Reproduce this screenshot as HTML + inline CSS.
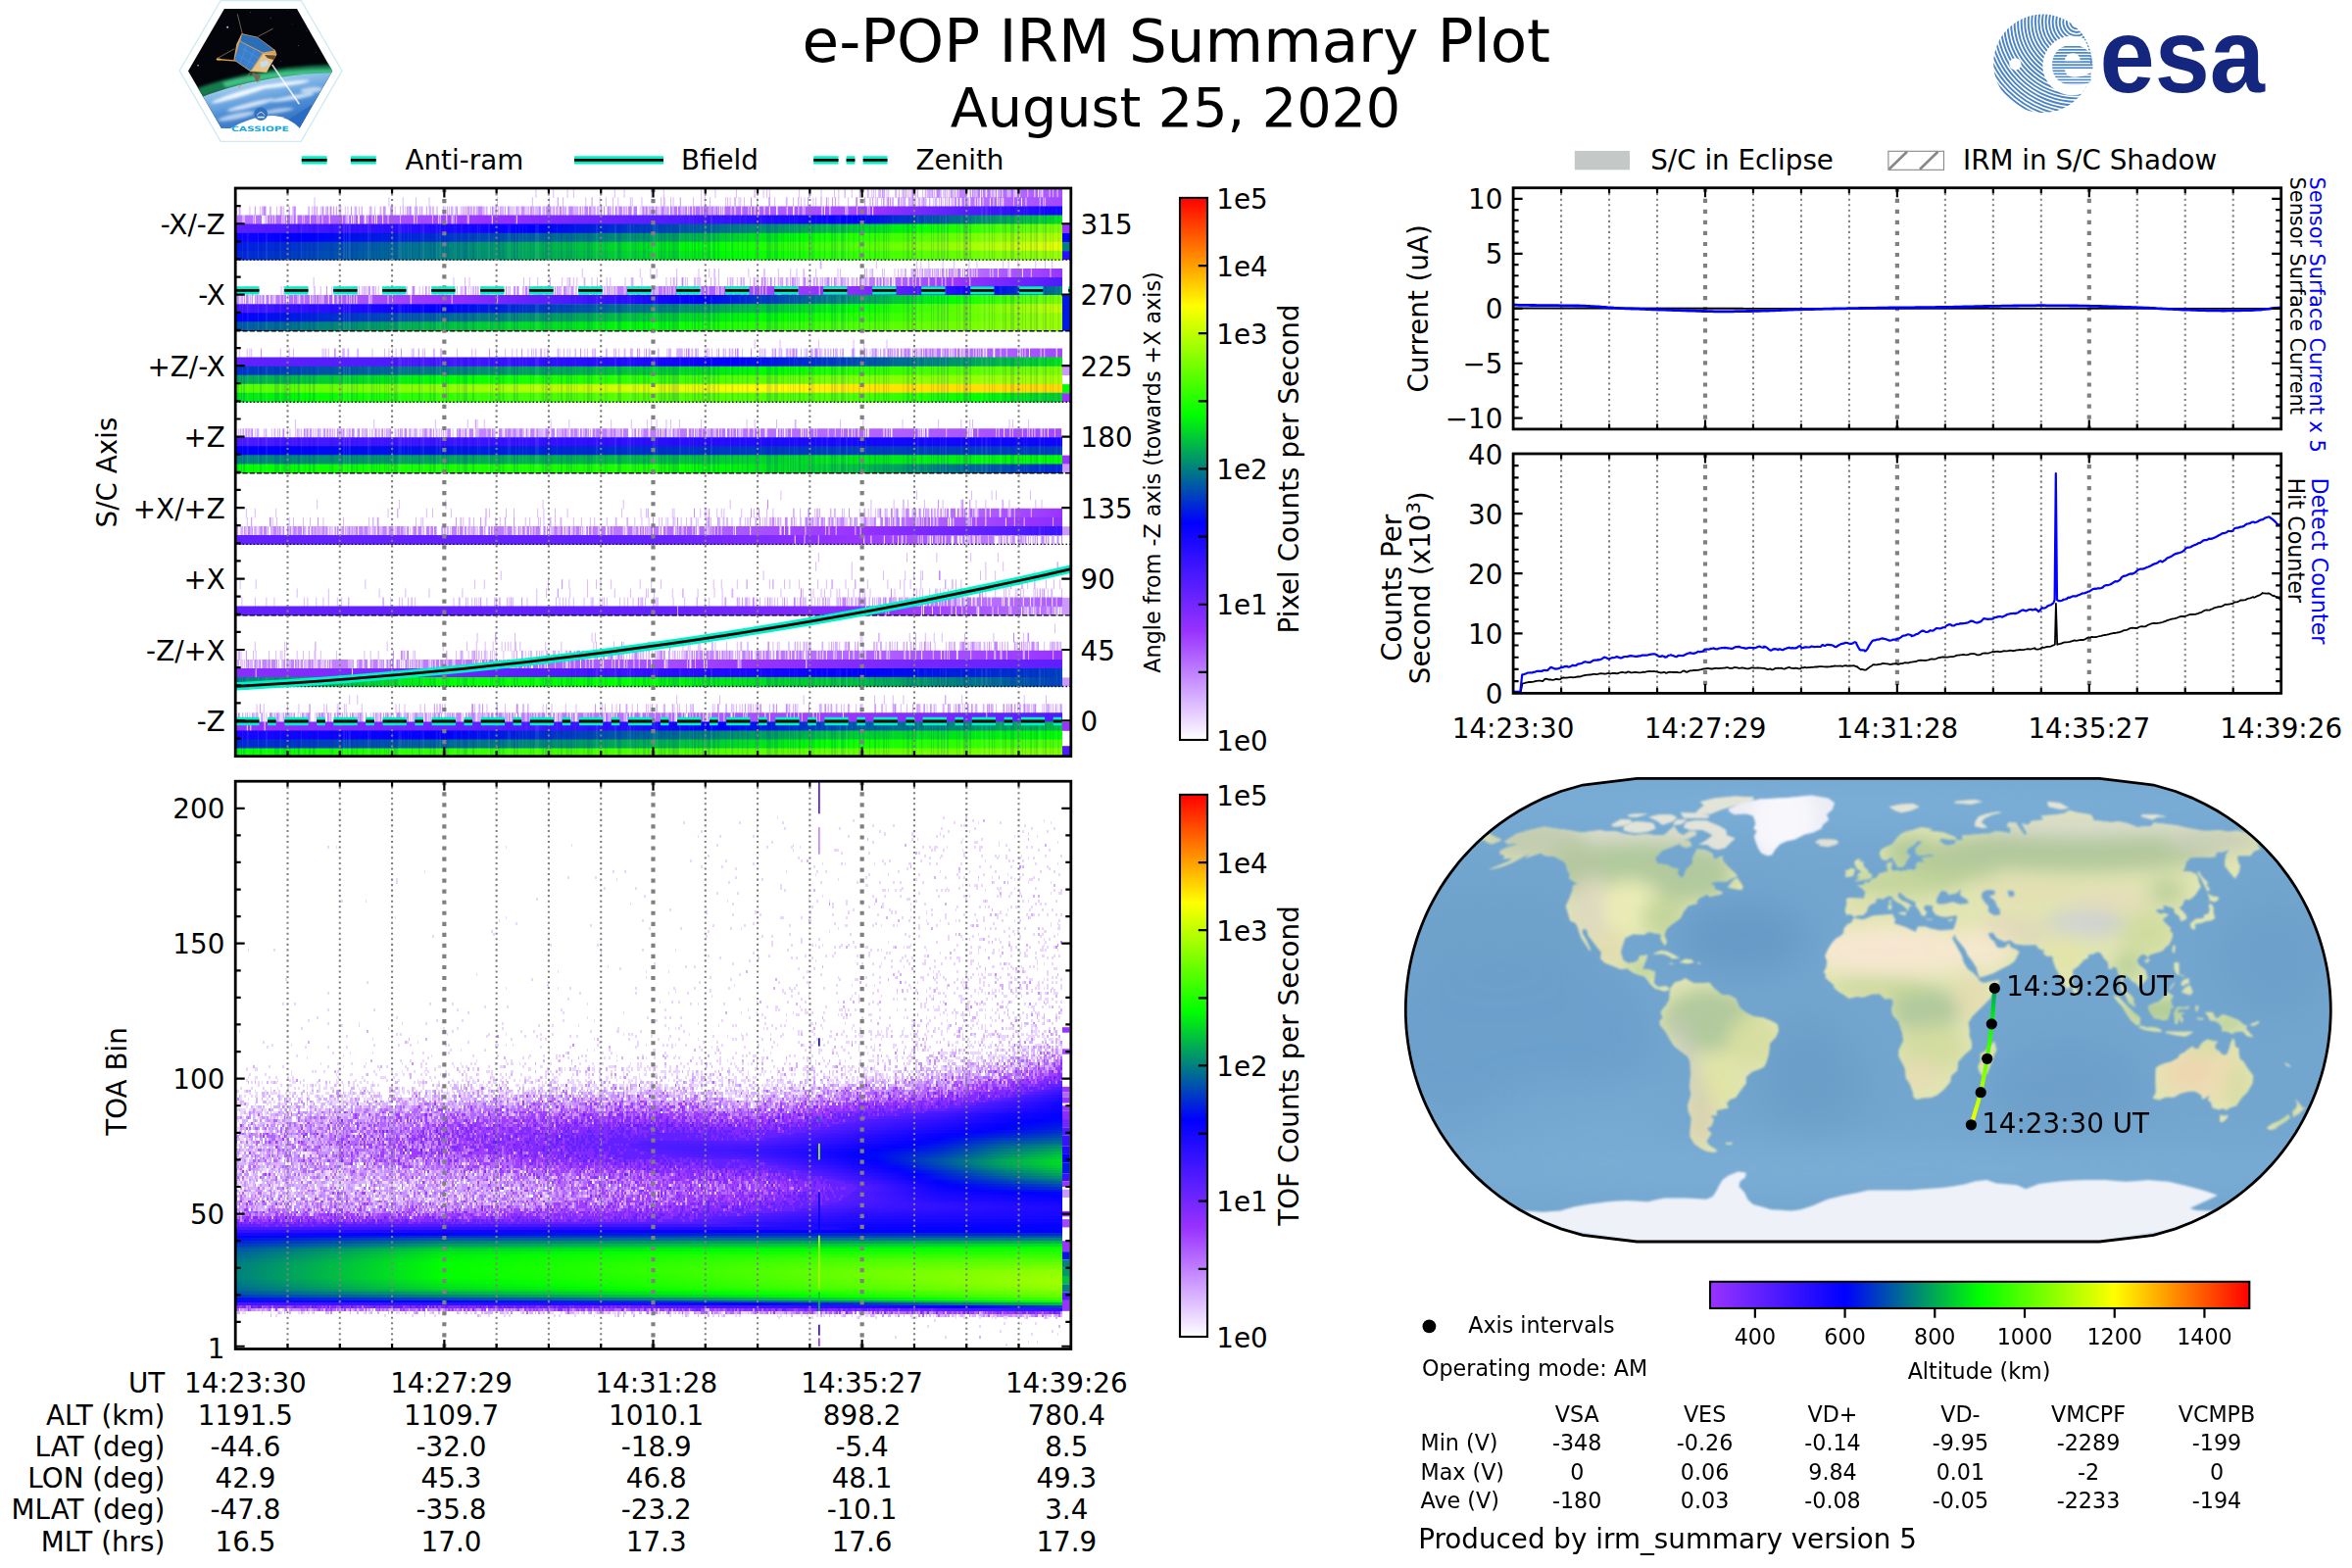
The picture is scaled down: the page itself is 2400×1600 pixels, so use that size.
<!DOCTYPE html><html><head><meta charset="utf-8"><title>e-POP IRM Summary Plot</title><style>html,body{margin:0;padding:0;background:#fff}svg{display:block}</style></head><body><svg width="2400" height="1600" viewBox="0 0 2400 1600" font-family="'DejaVu Sans','Liberation Sans',sans-serif" font-size="27.78" fill="#000"><defs><linearGradient id="cbv" x1="0" y1="0" x2="0" y2="1"><stop offset="0" stop-color="#ff0000"/><stop offset="0.2" stop-color="#ffff00"/><stop offset="0.4" stop-color="#00ff00"/><stop offset="0.6" stop-color="#0000ff"/><stop offset="0.8" stop-color="#9933ff"/><stop offset="1" stop-color="#ffffff"/></linearGradient><linearGradient id="cbh" x1="0" y1="0" x2="1" y2="0"><stop offset="0" stop-color="#9933ff"/><stop offset="0.25" stop-color="#0000ff"/><stop offset="0.5" stop-color="#00ff00"/><stop offset="0.75" stop-color="#ffff00"/><stop offset="1" stop-color="#ff0000"/></linearGradient><clipPath id="cA1"><rect x="240.2" y="192.0" width="852.6" height="579.7"/></clipPath><clipPath id="cA2"><rect x="240.2" y="797.2" width="852.6" height="579.3"/></clipPath><clipPath id="cB1"><rect x="1544.1" y="191.7" width="783.6" height="246.2"/></clipPath><clipPath id="cB2"><rect x="1544.1" y="463.0" width="783.6" height="244.4"/></clipPath><clipPath id="hexc"><polygon points="192,72.4 228.9,9.1 303,9.1 339.2,72.4 305.4,131 226,131"/></clipPath><filter id="lb" x="-20%" y="-20%" width="140%" height="140%"><feGaussianBlur stdDeviation="1.6"/></filter><filter id="lb2" x="-20%" y="-20%" width="140%" height="140%"><feGaussianBlur stdDeviation="0.6"/></filter><linearGradient id="earthg" gradientUnits="userSpaceOnUse" x1="250" y1="75" x2="262" y2="135"><stop offset="0" stop-color="#cfe6f7"/><stop offset=".25" stop-color="#8fc0ea"/><stop offset=".6" stop-color="#4f8fd6"/><stop offset="1" stop-color="#2f6cc0"/></linearGradient><clipPath id="esac"><circle cx="2084.4" cy="64.8" r="50.2"/></clipPath><pattern id="hs" patternUnits="userSpaceOnUse" width="10" height="3.06" y="1.1"><rect width="10" height="1.65" fill="#4a86c8"/></pattern><linearGradient id="h0" gradientUnits="userSpaceOnUse" x1="0" x2="945"><stop offset="0" stop-color="#c285ff"/><stop offset="0.25" stop-color="#c285ff"/><stop offset="0.5" stop-color="#c285ff"/><stop offset="0.75" stop-color="#c285ff"/><stop offset="0.865" stop-color="#c285ff"/><stop offset="1" stop-color="#a852ff"/></linearGradient><linearGradient id="h1" gradientUnits="userSpaceOnUse" x1="0" x2="945"><stop offset="0" stop-color="#c285ff"/><stop offset="0.25" stop-color="#c285ff"/><stop offset="0.5" stop-color="#c285ff"/><stop offset="0.75" stop-color="#c285ff"/><stop offset="0.846" stop-color="#c285ff"/><stop offset="1" stop-color="#a347ff"/></linearGradient><linearGradient id="h2" gradientUnits="userSpaceOnUse" x1="0" x2="945"><stop offset="0" stop-color="#c285ff"/><stop offset="0.25" stop-color="#c285ff"/><stop offset="0.375" stop-color="#c285ff"/><stop offset="0.5" stop-color="#bd7bff"/><stop offset="0.75" stop-color="#a347ff"/><stop offset="0.775" stop-color="#9933ff"/><stop offset="0.9" stop-color="#4c19ff"/><stop offset="1" stop-color="#0f05ff"/></linearGradient><linearGradient id="h3" gradientUnits="userSpaceOnUse" x1="0" x2="945"><stop offset="0" stop-color="#ba75ff"/><stop offset="0.25" stop-color="#a347ff"/><stop offset="0.3" stop-color="#9933ff"/><stop offset="0.5" stop-color="#5c1fff"/><stop offset="0.542" stop-color="#4d1aff"/><stop offset="0.75" stop-color="#0000ff"/><stop offset="1" stop-color="#00e51a"/></linearGradient><linearGradient id="h4" gradientUnits="userSpaceOnUse" x1="0" x2="945"><stop offset="0" stop-color="#5c1fff"/><stop offset="0.062" stop-color="#4d1aff"/><stop offset="0.25" stop-color="#1f0aff"/><stop offset="0.361" stop-color="#0000ff"/><stop offset="0.5" stop-color="#0040bf"/><stop offset="0.75" stop-color="#00cc33"/><stop offset="0.821" stop-color="#00ff00"/><stop offset="1" stop-color="#7fff00"/></linearGradient><linearGradient id="h5" gradientUnits="userSpaceOnUse" x1="0" x2="945"><stop offset="0" stop-color="#0f05ff"/><stop offset="0.083" stop-color="#0000ff"/><stop offset="0.25" stop-color="#0033cc"/><stop offset="0.5" stop-color="#009966"/><stop offset="0.682" stop-color="#00ff00"/><stop offset="0.75" stop-color="#26ff00"/><stop offset="1" stop-color="#b2ff00"/></linearGradient><linearGradient id="h6" gradientUnits="userSpaceOnUse" x1="0" x2="945"><stop offset="0" stop-color="#0019e6"/><stop offset="0.25" stop-color="#008080"/><stop offset="0.5" stop-color="#00e51a"/><stop offset="0.562" stop-color="#00ff00"/><stop offset="0.75" stop-color="#4dff00"/><stop offset="1" stop-color="#e5ff00"/></linearGradient><linearGradient id="h7" gradientUnits="userSpaceOnUse" x1="0" x2="945"><stop offset="0" stop-color="#0026d9"/><stop offset="0.25" stop-color="#008080"/><stop offset="0.5" stop-color="#00d926"/><stop offset="0.607" stop-color="#00ff00"/><stop offset="0.75" stop-color="#33ff00"/><stop offset="1" stop-color="#99ff00"/></linearGradient><linearGradient id="h8" gradientUnits="userSpaceOnUse" x1="0" x2="945"><stop offset="0" stop-color="#c285ff"/><stop offset="0.25" stop-color="#c285ff"/><stop offset="0.5" stop-color="#c285ff"/><stop offset="0.75" stop-color="#c285ff"/><stop offset="0.853" stop-color="#c285ff"/><stop offset="1" stop-color="#9933ff"/></linearGradient><linearGradient id="h9" gradientUnits="userSpaceOnUse" x1="0" x2="945"><stop offset="0" stop-color="#c285ff"/><stop offset="0.25" stop-color="#c285ff"/><stop offset="0.5" stop-color="#c285ff"/><stop offset="0.75" stop-color="#c285ff"/><stop offset="0.875" stop-color="#9933ff"/><stop offset="1" stop-color="#4d1aff"/></linearGradient><linearGradient id="h10" gradientUnits="userSpaceOnUse" x1="0" x2="945"><stop offset="0" stop-color="#c285ff"/><stop offset="0.25" stop-color="#c285ff"/><stop offset="0.4" stop-color="#c285ff"/><stop offset="0.5" stop-color="#bd7bff"/><stop offset="0.7" stop-color="#9933ff"/><stop offset="0.75" stop-color="#8a2eff"/><stop offset="0.821" stop-color="#4d1aff"/><stop offset="0.911" stop-color="#0000ff"/><stop offset="1" stop-color="#008080"/></linearGradient><linearGradient id="h11" gradientUnits="userSpaceOnUse" x1="0" x2="945"><stop offset="0" stop-color="#c285ff"/><stop offset="0.25" stop-color="#9933ff"/><stop offset="0.406" stop-color="#4d1aff"/><stop offset="0.5" stop-color="#1f0aff"/><stop offset="0.562" stop-color="#0000ff"/><stop offset="0.75" stop-color="#009966"/><stop offset="0.861" stop-color="#00ff00"/><stop offset="1" stop-color="#7fff00"/></linearGradient><linearGradient id="h12" gradientUnits="userSpaceOnUse" x1="0" x2="945"><stop offset="0" stop-color="#4d1aff"/><stop offset="0.25" stop-color="#0000ff"/><stop offset="0.5" stop-color="#008080"/><stop offset="0.75" stop-color="#00ff00"/><stop offset="1" stop-color="#bfff00"/></linearGradient><linearGradient id="h13" gradientUnits="userSpaceOnUse" x1="0" x2="945"><stop offset="0" stop-color="#0000ff"/><stop offset="0.25" stop-color="#006699"/><stop offset="0.5" stop-color="#00cc33"/><stop offset="0.643" stop-color="#00ff00"/><stop offset="0.75" stop-color="#26ff00"/><stop offset="1" stop-color="#99ff00"/></linearGradient><linearGradient id="h14" gradientUnits="userSpaceOnUse" x1="0" x2="945"><stop offset="0" stop-color="#0059a6"/><stop offset="0.25" stop-color="#00bf40"/><stop offset="0.5" stop-color="#00ff00"/><stop offset="0.75" stop-color="#4dff00"/><stop offset="1" stop-color="#99ff00"/></linearGradient><linearGradient id="h15" gradientUnits="userSpaceOnUse" x1="0" x2="945"><stop offset="0" stop-color="#c285ff"/><stop offset="0.25" stop-color="#c285ff"/><stop offset="0.5" stop-color="#c285ff"/><stop offset="0.75" stop-color="#c285ff"/><stop offset="0.8" stop-color="#c285ff"/><stop offset="1" stop-color="#a347ff"/></linearGradient><linearGradient id="h16" gradientUnits="userSpaceOnUse" x1="0" x2="945"><stop offset="0" stop-color="#6321ff"/><stop offset="0.187" stop-color="#4d1aff"/><stop offset="0.25" stop-color="#4517ff"/><stop offset="0.5" stop-color="#1f0aff"/><stop offset="0.6" stop-color="#0000ff"/><stop offset="0.75" stop-color="#004db2"/><stop offset="1" stop-color="#00e51a"/></linearGradient><linearGradient id="h17" gradientUnits="userSpaceOnUse" x1="0" x2="945"><stop offset="0" stop-color="#0033cc"/><stop offset="0.25" stop-color="#008080"/><stop offset="0.5" stop-color="#00cc33"/><stop offset="0.643" stop-color="#00ff00"/><stop offset="0.75" stop-color="#26ff00"/><stop offset="1" stop-color="#7fff00"/></linearGradient><linearGradient id="h18" gradientUnits="userSpaceOnUse" x1="0" x2="945"><stop offset="0" stop-color="#00a659"/><stop offset="0.25" stop-color="#00ff00"/><stop offset="0.5" stop-color="#33ff00"/><stop offset="0.75" stop-color="#7fff00"/><stop offset="1" stop-color="#a6ff00"/></linearGradient><linearGradient id="h19" gradientUnits="userSpaceOnUse" x1="0" x2="945"><stop offset="0" stop-color="#4dff00"/><stop offset="0.25" stop-color="#8cff00"/><stop offset="0.5" stop-color="#d9ff00"/><stop offset="0.65" stop-color="#ffff00"/><stop offset="0.75" stop-color="#ffe600"/><stop offset="1" stop-color="#ffd900"/></linearGradient><linearGradient id="h20" gradientUnits="userSpaceOnUse" x1="0" x2="945"><stop offset="0" stop-color="#00e51a"/><stop offset="0.083" stop-color="#00ff00"/><stop offset="0.25" stop-color="#33ff00"/><stop offset="0.5" stop-color="#59ff00"/><stop offset="0.75" stop-color="#4dff00"/><stop offset="0.9" stop-color="#00ff00"/><stop offset="1" stop-color="#00cc33"/></linearGradient><linearGradient id="h21" gradientUnits="userSpaceOnUse" x1="0" x2="945"><stop offset="0" stop-color="#c285ff"/><stop offset="0.25" stop-color="#c285ff"/><stop offset="0.5" stop-color="#bd7bff"/><stop offset="0.75" stop-color="#b266ff"/><stop offset="1" stop-color="#a347ff"/></linearGradient><linearGradient id="h22" gradientUnits="userSpaceOnUse" x1="0" x2="945"><stop offset="0" stop-color="#4d1aff"/><stop offset="0.25" stop-color="#3d14ff"/><stop offset="0.5" stop-color="#2e0fff"/><stop offset="0.75" stop-color="#1708ff"/><stop offset="1" stop-color="#0f05ff"/></linearGradient><linearGradient id="h23" gradientUnits="userSpaceOnUse" x1="0" x2="945"><stop offset="0" stop-color="#0000ff"/><stop offset="0.25" stop-color="#0019e6"/><stop offset="0.5" stop-color="#0033cc"/><stop offset="0.75" stop-color="#0040bf"/><stop offset="1" stop-color="#0040bf"/></linearGradient><linearGradient id="h24" gradientUnits="userSpaceOnUse" x1="0" x2="945"><stop offset="0" stop-color="#008080"/><stop offset="0.25" stop-color="#00a659"/><stop offset="0.5" stop-color="#00bf40"/><stop offset="0.75" stop-color="#00e51a"/><stop offset="1" stop-color="#00ff00"/></linearGradient><linearGradient id="h25" gradientUnits="userSpaceOnUse" x1="0" x2="945"><stop offset="0" stop-color="#00ff00"/><stop offset="0.25" stop-color="#1aff00"/><stop offset="0.5" stop-color="#1aff00"/><stop offset="0.571" stop-color="#00ff00"/><stop offset="0.75" stop-color="#00bf40"/><stop offset="1" stop-color="#0026d9"/></linearGradient><linearGradient id="h26" gradientUnits="userSpaceOnUse" x1="0" x2="945"><stop offset="0" stop-color="#c285ff"/><stop offset="0.25" stop-color="#c285ff"/><stop offset="0.5" stop-color="#c285ff"/><stop offset="0.75" stop-color="#c285ff"/><stop offset="0.821" stop-color="#c285ff"/><stop offset="1" stop-color="#9933ff"/></linearGradient><linearGradient id="h27" gradientUnits="userSpaceOnUse" x1="0" x2="945"><stop offset="0" stop-color="#c285ff"/><stop offset="0.25" stop-color="#c285ff"/><stop offset="0.5" stop-color="#c285ff"/><stop offset="0.75" stop-color="#c285ff"/><stop offset="0.958" stop-color="#9933ff"/><stop offset="1" stop-color="#8a2eff"/></linearGradient><linearGradient id="h28" gradientUnits="userSpaceOnUse" x1="0" x2="945"><stop offset="0" stop-color="#c285ff"/><stop offset="0.25" stop-color="#c080ff"/><stop offset="0.5" stop-color="#ba75ff"/><stop offset="0.75" stop-color="#9933ff"/><stop offset="0.958" stop-color="#4d1aff"/><stop offset="1" stop-color="#3d14ff"/></linearGradient><linearGradient id="h29" gradientUnits="userSpaceOnUse" x1="0" x2="945"><stop offset="0" stop-color="#6321ff"/><stop offset="0.25" stop-color="#6321ff"/><stop offset="0.5" stop-color="#6321ff"/><stop offset="0.75" stop-color="#9933ff"/><stop offset="0.942" stop-color="#c285ff"/><stop offset="1" stop-color="#c285ff"/></linearGradient><linearGradient id="h30" gradientUnits="userSpaceOnUse" x1="0" x2="945"><stop offset="0" stop-color="#c285ff"/><stop offset="0.25" stop-color="#c285ff"/><stop offset="0.5" stop-color="#c285ff"/><stop offset="0.75" stop-color="#c285ff"/><stop offset="0.812" stop-color="#c285ff"/><stop offset="1" stop-color="#ad5cff"/></linearGradient><linearGradient id="h31" gradientUnits="userSpaceOnUse" x1="0" x2="945"><stop offset="0" stop-color="#6321ff"/><stop offset="0.25" stop-color="#6321ff"/><stop offset="0.5" stop-color="#6321ff"/><stop offset="0.75" stop-color="#8a2eff"/><stop offset="0.8" stop-color="#9933ff"/><stop offset="1" stop-color="#bd7bff"/></linearGradient><linearGradient id="h32" gradientUnits="userSpaceOnUse" x1="0" x2="945"><stop offset="0" stop-color="#c285ff"/><stop offset="0.25" stop-color="#c285ff"/><stop offset="0.5" stop-color="#c285ff"/><stop offset="0.75" stop-color="#c285ff"/><stop offset="1" stop-color="#c285ff"/></linearGradient><linearGradient id="h33" gradientUnits="userSpaceOnUse" x1="0" x2="945"><stop offset="0" stop-color="#c285ff"/><stop offset="0.25" stop-color="#c285ff"/><stop offset="0.5" stop-color="#c285ff"/><stop offset="0.571" stop-color="#c285ff"/><stop offset="0.75" stop-color="#b266ff"/><stop offset="1" stop-color="#9933ff"/></linearGradient><linearGradient id="h34" gradientUnits="userSpaceOnUse" x1="0" x2="945"><stop offset="0" stop-color="#c285ff"/><stop offset="0.25" stop-color="#bd7bff"/><stop offset="0.5" stop-color="#a852ff"/><stop offset="0.625" stop-color="#9933ff"/><stop offset="0.75" stop-color="#822bff"/><stop offset="1" stop-color="#5c1fff"/></linearGradient><linearGradient id="h35" gradientUnits="userSpaceOnUse" x1="0" x2="945"><stop offset="0" stop-color="#8a2eff"/><stop offset="0.25" stop-color="#7326ff"/><stop offset="0.406" stop-color="#4d1aff"/><stop offset="0.5" stop-color="#3612ff"/><stop offset="0.75" stop-color="#0000ff"/><stop offset="1" stop-color="#0040bf"/></linearGradient><linearGradient id="h36" gradientUnits="userSpaceOnUse" x1="0" x2="945"><stop offset="0" stop-color="#008080"/><stop offset="0.25" stop-color="#00ff00"/><stop offset="0.5" stop-color="#00ff00"/><stop offset="0.75" stop-color="#00bf40"/><stop offset="1" stop-color="#0040bf"/></linearGradient><linearGradient id="h37" gradientUnits="userSpaceOnUse" x1="0" x2="945"><stop offset="0" stop-color="#c285ff"/><stop offset="0.25" stop-color="#c285ff"/><stop offset="0.5" stop-color="#c285ff"/><stop offset="0.75" stop-color="#c285ff"/><stop offset="1" stop-color="#c285ff"/></linearGradient><linearGradient id="h38" gradientUnits="userSpaceOnUse" x1="0" x2="945"><stop offset="0" stop-color="#c285ff"/><stop offset="0.25" stop-color="#c285ff"/><stop offset="0.5" stop-color="#b76eff"/><stop offset="0.75" stop-color="#9933ff"/><stop offset="1" stop-color="#4d1aff"/></linearGradient><linearGradient id="h39" gradientUnits="userSpaceOnUse" x1="0" x2="945"><stop offset="0" stop-color="#9933ff"/><stop offset="0.25" stop-color="#6b24ff"/><stop offset="0.35" stop-color="#4d1aff"/><stop offset="0.5" stop-color="#1f0aff"/><stop offset="0.591" stop-color="#0000ff"/><stop offset="0.75" stop-color="#0059a6"/><stop offset="1" stop-color="#00bf40"/></linearGradient><linearGradient id="h40" gradientUnits="userSpaceOnUse" x1="0" x2="945"><stop offset="0" stop-color="#1708ff"/><stop offset="0.25" stop-color="#0000ff"/><stop offset="0.5" stop-color="#006699"/><stop offset="0.75" stop-color="#00cc33"/><stop offset="1" stop-color="#00ff00"/></linearGradient><linearGradient id="h41" gradientUnits="userSpaceOnUse" x1="0" x2="945"><stop offset="0" stop-color="#0026d9"/><stop offset="0.25" stop-color="#006699"/><stop offset="0.5" stop-color="#00b34c"/><stop offset="0.714" stop-color="#00ff00"/><stop offset="0.75" stop-color="#0dff00"/><stop offset="1" stop-color="#4dff00"/></linearGradient><linearGradient id="h42" gradientUnits="userSpaceOnUse" x1="0" x2="945"><stop offset="0" stop-color="#00ff00"/><stop offset="0.25" stop-color="#33ff00"/><stop offset="0.5" stop-color="#4dff00"/><stop offset="0.75" stop-color="#66ff00"/><stop offset="1" stop-color="#7fff00"/></linearGradient><clipPath id="nz1"><path transform="translate(240.2 192.6) scale(0.89291 9.06875)" d="M850 2h95v1h-95zM512 3h433v1h-433zM59 4h886v1h-886zM0 5h945v1h-945zM0 6h945v1h-945zM0 7h945v1h-945zM776 11h169v1h-169zM384 12h561v1h-561zM0 13h945v1h-945zM0 14h945v1h-945zM0 15h945v1h-945zM177 19h768v1h-768zM0 20h945v1h-945zM0 21h945v1h-945zM0 22h945v1h-945zM0 23h945v1h-945zM0 28h945v1h-945zM0 29h945v1h-945zM0 30h945v1h-945zM0 31h945v1h-945zM906 38h39v1h-39zM384 54h561v1h-561zM0 55h945v1h-945zM331 60h614v1h-614zM0 61h945v1h-945zM0 62h945v1h-945zM0 63h945v1h-945z"/></clipPath><linearGradient id="t0" gradientUnits="userSpaceOnUse" x1="0" x2="478"><stop offset="0" stop-color="#6020ff"/><stop offset="0.975" stop-color="#6020ff"/><stop offset="1" stop-color="#551cff"/></linearGradient><linearGradient id="t1" gradientUnits="userSpaceOnUse" x1="0" x2="478"><stop offset="0" stop-color="#6020ff"/><stop offset="0.975" stop-color="#6020ff"/><stop offset="1" stop-color="#4818ff"/></linearGradient><linearGradient id="t2" gradientUnits="userSpaceOnUse" x1="0" x2="478"><stop offset="0" stop-color="#6020ff"/><stop offset="0.95" stop-color="#6020ff"/><stop offset="0.975" stop-color="#551cff"/><stop offset="1" stop-color="#3c14ff"/></linearGradient><linearGradient id="t3" gradientUnits="userSpaceOnUse" x1="0" x2="478"><stop offset="0" stop-color="#6020ff"/><stop offset="0.95" stop-color="#6020ff"/><stop offset="1" stop-color="#3211ff"/></linearGradient><linearGradient id="t4" gradientUnits="userSpaceOnUse" x1="0" x2="478"><stop offset="0" stop-color="#6020ff"/><stop offset="0.925" stop-color="#6020ff"/><stop offset="0.975" stop-color="#3d14ff"/><stop offset="1" stop-color="#270dff"/></linearGradient><linearGradient id="t5" gradientUnits="userSpaceOnUse" x1="0" x2="478"><stop offset="0" stop-color="#6020ff"/><stop offset="0.9" stop-color="#6020ff"/><stop offset="0.925" stop-color="#591eff"/><stop offset="1" stop-color="#1d0aff"/></linearGradient><linearGradient id="t6" gradientUnits="userSpaceOnUse" x1="0" x2="478"><stop offset="0" stop-color="#6020ff"/><stop offset="0.9" stop-color="#6020ff"/><stop offset="1" stop-color="#1607ff"/></linearGradient><linearGradient id="t7" gradientUnits="userSpaceOnUse" x1="0" x2="478"><stop offset="0" stop-color="#6020ff"/><stop offset="0.875" stop-color="#6020ff"/><stop offset="1" stop-color="#1106ff"/></linearGradient><linearGradient id="t8" gradientUnits="userSpaceOnUse" x1="0" x2="478"><stop offset="0" stop-color="#6020ff"/><stop offset="0.85" stop-color="#6020ff"/><stop offset="0.875" stop-color="#5a1eff"/><stop offset="0.975" stop-color="#1b09ff"/><stop offset="1" stop-color="#0d04ff"/></linearGradient><linearGradient id="t9" gradientUnits="userSpaceOnUse" x1="0" x2="478"><stop offset="0" stop-color="#6020ff"/><stop offset="0.85" stop-color="#5d1fff"/><stop offset="0.95" stop-color="#200bff"/><stop offset="1" stop-color="#0a03ff"/></linearGradient><linearGradient id="t10" gradientUnits="userSpaceOnUse" x1="0" x2="478"><stop offset="0" stop-color="#6020ff"/><stop offset="0.8" stop-color="#6020ff"/><stop offset="0.85" stop-color="#4f1aff"/><stop offset="0.95" stop-color="#1708ff"/><stop offset="1" stop-color="#0602ff"/></linearGradient><linearGradient id="t11" gradientUnits="userSpaceOnUse" x1="0" x2="478"><stop offset="0" stop-color="#6020ff"/><stop offset="0.775" stop-color="#6020ff"/><stop offset="0.85" stop-color="#4316ff"/><stop offset="0.925" stop-color="#1808ff"/><stop offset="1" stop-color="#0201ff"/></linearGradient><linearGradient id="t12" gradientUnits="userSpaceOnUse" x1="0" x2="478"><stop offset="0" stop-color="#6020ff"/><stop offset="0.75" stop-color="#6020ff"/><stop offset="0.85" stop-color="#3a13ff"/><stop offset="0.925" stop-color="#1106ff"/><stop offset="1" stop-color="#0003fc"/></linearGradient><linearGradient id="t13" gradientUnits="userSpaceOnUse" x1="0" x2="478"><stop offset="0" stop-color="#6020ff"/><stop offset="0.725" stop-color="#6020ff"/><stop offset="0.875" stop-color="#250cff"/><stop offset="0.95" stop-color="#0502ff"/><stop offset="0.975" stop-color="#0000ff"/><stop offset="1" stop-color="#000af5"/></linearGradient><linearGradient id="t14" gradientUnits="userSpaceOnUse" x1="0" x2="478"><stop offset="0" stop-color="#6020ff"/><stop offset="0.725" stop-color="#5f20ff"/><stop offset="0.8" stop-color="#3d14ff"/><stop offset="0.95" stop-color="#0100ff"/><stop offset="1" stop-color="#0010ef"/></linearGradient><linearGradient id="t15" gradientUnits="userSpaceOnUse" x1="0" x2="478"><stop offset="0" stop-color="#6020ff"/><stop offset="0.7" stop-color="#6020ff"/><stop offset="0.925" stop-color="#0401ff"/><stop offset="0.975" stop-color="#000ef1"/><stop offset="1" stop-color="#0017e8"/></linearGradient><linearGradient id="t16" gradientUnits="userSpaceOnUse" x1="0" x2="478"><stop offset="0" stop-color="#6020ff"/><stop offset="0.7" stop-color="#5c1fff"/><stop offset="0.8" stop-color="#2d0fff"/><stop offset="0.925" stop-color="#0000ff"/><stop offset="1" stop-color="#0022dd"/></linearGradient><linearGradient id="t17" gradientUnits="userSpaceOnUse" x1="0" x2="478"><stop offset="0" stop-color="#6020ff"/><stop offset="0.675" stop-color="#6020ff"/><stop offset="0.8" stop-color="#250cff"/><stop offset="0.9" stop-color="#0201ff"/><stop offset="1" stop-color="#002fd0"/></linearGradient><linearGradient id="t18" gradientUnits="userSpaceOnUse" x1="0" x2="478"><stop offset="0" stop-color="#6020ff"/><stop offset="0.65" stop-color="#6020ff"/><stop offset="0.85" stop-color="#0a03ff"/><stop offset="0.875" stop-color="#0301ff"/><stop offset="0.95" stop-color="#0022dd"/><stop offset="1" stop-color="#003dc2"/></linearGradient><linearGradient id="t19" gradientUnits="userSpaceOnUse" x1="0" x2="478"><stop offset="0" stop-color="#6020ff"/><stop offset="0.65" stop-color="#5c1fff"/><stop offset="0.775" stop-color="#210bff"/><stop offset="0.85" stop-color="#0502ff"/><stop offset="0.875" stop-color="#0008f7"/><stop offset="1" stop-color="#004bb4"/></linearGradient><linearGradient id="t20" gradientUnits="userSpaceOnUse" x1="0" x2="478"><stop offset="0" stop-color="#6020ff"/><stop offset="0.475" stop-color="#6020ff"/><stop offset="0.5" stop-color="#581dff"/><stop offset="0.625" stop-color="#5d1fff"/><stop offset="0.775" stop-color="#1b09ff"/><stop offset="0.85" stop-color="#0001fe"/><stop offset="0.925" stop-color="#0039c6"/><stop offset="1" stop-color="#005ba4"/></linearGradient><linearGradient id="t21" gradientUnits="userSpaceOnUse" x1="0" x2="478"><stop offset="0" stop-color="#6020ff"/><stop offset="0.475" stop-color="#5c1fff"/><stop offset="0.5" stop-color="#531cff"/><stop offset="0.625" stop-color="#541cff"/><stop offset="0.8" stop-color="#0c04ff"/><stop offset="0.825" stop-color="#0401ff"/><stop offset="0.85" stop-color="#000af5"/><stop offset="0.925" stop-color="#004bb4"/><stop offset="1" stop-color="#006d92"/></linearGradient><linearGradient id="t22" gradientUnits="userSpaceOnUse" x1="0" x2="478"><stop offset="0" stop-color="#6020ff"/><stop offset="0.45" stop-color="#6020ff"/><stop offset="0.5" stop-color="#501bff"/><stop offset="0.625" stop-color="#4c19ff"/><stop offset="0.775" stop-color="#0f05ff"/><stop offset="0.825" stop-color="#0002fd"/><stop offset="0.875" stop-color="#002bd4"/><stop offset="0.925" stop-color="#005aa5"/><stop offset="1" stop-color="#00817e"/></linearGradient><linearGradient id="t23" gradientUnits="userSpaceOnUse" x1="0" x2="478"><stop offset="0" stop-color="#6020ff"/><stop offset="0.45" stop-color="#6020ff"/><stop offset="0.525" stop-color="#4d1aff"/><stop offset="0.625" stop-color="#4316ff"/><stop offset="0.8" stop-color="#0100ff"/><stop offset="0.85" stop-color="#001de2"/><stop offset="0.925" stop-color="#006798"/><stop offset="1" stop-color="#00956a"/></linearGradient><linearGradient id="t24" gradientUnits="userSpaceOnUse" x1="0" x2="478"><stop offset="0" stop-color="#6020ff"/><stop offset="0.475" stop-color="#5c1fff"/><stop offset="0.65" stop-color="#3411ff"/><stop offset="0.775" stop-color="#0201ff"/><stop offset="0.825" stop-color="#0016e9"/><stop offset="0.85" stop-color="#0028d7"/><stop offset="0.925" stop-color="#00748b"/><stop offset="1" stop-color="#00a857"/></linearGradient><linearGradient id="t25" gradientUnits="userSpaceOnUse" x1="0" x2="478"><stop offset="0" stop-color="#6020ff"/><stop offset="0.475" stop-color="#6020ff"/><stop offset="0.625" stop-color="#3e15ff"/><stop offset="0.75" stop-color="#0502ff"/><stop offset="0.775" stop-color="#0006f9"/><stop offset="0.85" stop-color="#0034cb"/><stop offset="0.925" stop-color="#00817e"/><stop offset="1" stop-color="#00b847"/></linearGradient><linearGradient id="t26" gradientUnits="userSpaceOnUse" x1="0" x2="478"><stop offset="0" stop-color="#6020ff"/><stop offset="0.5" stop-color="#5d1fff"/><stop offset="0.625" stop-color="#4517ff"/><stop offset="0.75" stop-color="#0502ff"/><stop offset="0.775" stop-color="#0009f6"/><stop offset="0.85" stop-color="#0040bf"/><stop offset="0.925" stop-color="#008d72"/><stop offset="1" stop-color="#00c639"/></linearGradient><linearGradient id="t27" gradientUnits="userSpaceOnUse" x1="0" x2="478"><stop offset="0" stop-color="#6020ff"/><stop offset="0.525" stop-color="#5e1fff"/><stop offset="0.625" stop-color="#4e1aff"/><stop offset="0.75" stop-color="#0a03ff"/><stop offset="0.775" stop-color="#0007f8"/><stop offset="0.875" stop-color="#006699"/><stop offset="0.95" stop-color="#00ae51"/><stop offset="1" stop-color="#00d22d"/></linearGradient><linearGradient id="t28" gradientUnits="userSpaceOnUse" x1="0" x2="478"><stop offset="0" stop-color="#6020ff"/><stop offset="0.575" stop-color="#5f20ff"/><stop offset="0.625" stop-color="#571dff"/><stop offset="0.775" stop-color="#0000ff"/><stop offset="0.925" stop-color="#00a35c"/><stop offset="1" stop-color="#00dc23"/></linearGradient><linearGradient id="t29" gradientUnits="userSpaceOnUse" x1="0" x2="478"><stop offset="0" stop-color="#6020ff"/><stop offset="0.625" stop-color="#6020ff"/><stop offset="0.775" stop-color="#0502ff"/><stop offset="0.8" stop-color="#0014eb"/><stop offset="0.925" stop-color="#00a25d"/><stop offset="1" stop-color="#00dc23"/></linearGradient><linearGradient id="t30" gradientUnits="userSpaceOnUse" x1="0" x2="478"><stop offset="0" stop-color="#6020ff"/><stop offset="0.65" stop-color="#5d1fff"/><stop offset="0.775" stop-color="#0c04ff"/><stop offset="0.8" stop-color="#0008f7"/><stop offset="0.925" stop-color="#009669"/><stop offset="1" stop-color="#00d22d"/></linearGradient><linearGradient id="t31" gradientUnits="userSpaceOnUse" x1="0" x2="478"><stop offset="0" stop-color="#6020ff"/><stop offset="0.65" stop-color="#6020ff"/><stop offset="0.725" stop-color="#3411ff"/><stop offset="0.8" stop-color="#0201ff"/><stop offset="0.925" stop-color="#008877"/><stop offset="1" stop-color="#00c639"/></linearGradient><linearGradient id="t32" gradientUnits="userSpaceOnUse" x1="0" x2="478"><stop offset="0" stop-color="#6020ff"/><stop offset="0.675" stop-color="#5e1fff"/><stop offset="0.8" stop-color="#0903ff"/><stop offset="0.825" stop-color="#000df2"/><stop offset="0.925" stop-color="#007986"/><stop offset="1" stop-color="#00b847"/></linearGradient><linearGradient id="t33" gradientUnits="userSpaceOnUse" x1="0" x2="478"><stop offset="0" stop-color="#6020ff"/><stop offset="0.675" stop-color="#6020ff"/><stop offset="0.725" stop-color="#4517ff"/><stop offset="0.825" stop-color="#0001fe"/><stop offset="0.925" stop-color="#006a95"/><stop offset="1" stop-color="#00a659"/></linearGradient><linearGradient id="t34" gradientUnits="userSpaceOnUse" x1="0" x2="478"><stop offset="0" stop-color="#6020ff"/><stop offset="0.7" stop-color="#5f20ff"/><stop offset="0.825" stop-color="#0602ff"/><stop offset="0.875" stop-color="#002bd4"/><stop offset="0.95" stop-color="#006e91"/><stop offset="1" stop-color="#00916e"/></linearGradient><linearGradient id="t35" gradientUnits="userSpaceOnUse" x1="0" x2="478"><stop offset="0" stop-color="#6020ff"/><stop offset="0.7" stop-color="#6020ff"/><stop offset="0.725" stop-color="#571dff"/><stop offset="0.825" stop-color="#0c04ff"/><stop offset="0.85" stop-color="#0009f6"/><stop offset="0.95" stop-color="#005ca3"/><stop offset="1" stop-color="#007b84"/></linearGradient><linearGradient id="t36" gradientUnits="userSpaceOnUse" x1="0" x2="478"><stop offset="0" stop-color="#6020ff"/><stop offset="0.725" stop-color="#6020ff"/><stop offset="0.85" stop-color="#0000ff"/><stop offset="0.95" stop-color="#0048b7"/><stop offset="1" stop-color="#00649b"/></linearGradient><linearGradient id="t37" gradientUnits="userSpaceOnUse" x1="0" x2="478"><stop offset="0" stop-color="#6020ff"/><stop offset="0.725" stop-color="#6020ff"/><stop offset="0.75" stop-color="#561dff"/><stop offset="0.85" stop-color="#0602ff"/><stop offset="0.875" stop-color="#0006f9"/><stop offset="1" stop-color="#004cb3"/></linearGradient><linearGradient id="t38" gradientUnits="userSpaceOnUse" x1="0" x2="478"><stop offset="0" stop-color="#6020ff"/><stop offset="0.725" stop-color="#6020ff"/><stop offset="0.75" stop-color="#591eff"/><stop offset="0.85" stop-color="#0c04ff"/><stop offset="0.875" stop-color="#0401ff"/><stop offset="0.975" stop-color="#0029d6"/><stop offset="1" stop-color="#0033cc"/></linearGradient><linearGradient id="t39" gradientUnits="userSpaceOnUse" x1="0" x2="478"><stop offset="0" stop-color="#6020ff"/><stop offset="0.725" stop-color="#6020ff"/><stop offset="0.75" stop-color="#581dff"/><stop offset="0.85" stop-color="#1206ff"/><stop offset="0.9" stop-color="#0401ff"/><stop offset="1" stop-color="#001be4"/></linearGradient><linearGradient id="t40" gradientUnits="userSpaceOnUse" x1="0" x2="478"><stop offset="0" stop-color="#6020ff"/><stop offset="0.725" stop-color="#6020ff"/><stop offset="0.8" stop-color="#3411ff"/><stop offset="0.85" stop-color="#1708ff"/><stop offset="0.95" stop-color="#0100ff"/><stop offset="1" stop-color="#0009f6"/></linearGradient><linearGradient id="t41" gradientUnits="userSpaceOnUse" x1="0" x2="478"><stop offset="0" stop-color="#6020ff"/><stop offset="0.725" stop-color="#6020ff"/><stop offset="0.85" stop-color="#1c09ff"/><stop offset="1" stop-color="#0201ff"/></linearGradient><linearGradient id="t42" gradientUnits="userSpaceOnUse" x1="0" x2="478"><stop offset="0" stop-color="#6020ff"/><stop offset="0.725" stop-color="#5d1fff"/><stop offset="0.85" stop-color="#220bff"/><stop offset="1" stop-color="#0803ff"/></linearGradient><linearGradient id="t43" gradientUnits="userSpaceOnUse" x1="0" x2="478"><stop offset="0" stop-color="#6020ff"/><stop offset="0.7" stop-color="#6020ff"/><stop offset="0.85" stop-color="#270dff"/><stop offset="1" stop-color="#0f05ff"/></linearGradient><linearGradient id="t44" gradientUnits="userSpaceOnUse" x1="0" x2="478"><stop offset="0" stop-color="#6020ff"/><stop offset="0.7" stop-color="#5f20ff"/><stop offset="0.775" stop-color="#4116ff"/><stop offset="0.875" stop-color="#290eff"/><stop offset="1" stop-color="#1507ff"/></linearGradient><linearGradient id="t45" gradientUnits="userSpaceOnUse" x1="0" x2="478"><stop offset="0" stop-color="#6020ff"/><stop offset="0.675" stop-color="#6020ff"/><stop offset="0.75" stop-color="#4116ff"/><stop offset="1" stop-color="#1a09ff"/></linearGradient><linearGradient id="t46" gradientUnits="userSpaceOnUse" x1="0" x2="478"><stop offset="0" stop-color="#6020ff"/><stop offset="0.65" stop-color="#6020ff"/><stop offset="0.75" stop-color="#3913ff"/><stop offset="1" stop-color="#1c09ff"/></linearGradient><linearGradient id="t47" gradientUnits="userSpaceOnUse" x1="0" x2="478"><stop offset="0" stop-color="#6020ff"/><stop offset="0.625" stop-color="#6020ff"/><stop offset="0.75" stop-color="#3211ff"/><stop offset="0.975" stop-color="#1b09ff"/><stop offset="1" stop-color="#1a09ff"/></linearGradient><linearGradient id="t48" gradientUnits="userSpaceOnUse" x1="0" x2="478"><stop offset="0" stop-color="#6020ff"/><stop offset="0.6" stop-color="#5d1fff"/><stop offset="0.75" stop-color="#2a0eff"/><stop offset="1" stop-color="#1708ff"/></linearGradient><linearGradient id="t49" gradientUnits="userSpaceOnUse" x1="0" x2="478"><stop offset="0" stop-color="#6020ff"/><stop offset="0.55" stop-color="#6020ff"/><stop offset="0.75" stop-color="#230cff"/><stop offset="1" stop-color="#1407ff"/></linearGradient><linearGradient id="t50" gradientUnits="userSpaceOnUse" x1="0" x2="478"><stop offset="0" stop-color="#6020ff"/><stop offset="0.525" stop-color="#6020ff"/><stop offset="0.7" stop-color="#290eff"/><stop offset="0.775" stop-color="#1908ff"/><stop offset="1" stop-color="#1005ff"/></linearGradient><linearGradient id="t51" gradientUnits="userSpaceOnUse" x1="0" x2="478"><stop offset="0" stop-color="#6020ff"/><stop offset="0.375" stop-color="#5c1fff"/><stop offset="0.575" stop-color="#531cff"/><stop offset="0.625" stop-color="#2f10ff"/><stop offset="0.775" stop-color="#1306ff"/><stop offset="0.975" stop-color="#0b04ff"/><stop offset="1" stop-color="#0b04ff"/></linearGradient><linearGradient id="t52" gradientUnits="userSpaceOnUse" x1="0" x2="478"><stop offset="0" stop-color="#6020ff"/><stop offset="0.525" stop-color="#3c14ff"/><stop offset="0.6" stop-color="#3c14ff"/><stop offset="0.675" stop-color="#220bff"/><stop offset="0.775" stop-color="#0d04ff"/><stop offset="1" stop-color="#0401ff"/></linearGradient><linearGradient id="t53" gradientUnits="userSpaceOnUse" x1="0" x2="478"><stop offset="0" stop-color="#4c19ff"/><stop offset="0.375" stop-color="#280dff"/><stop offset="0.625" stop-color="#200bff"/><stop offset="0.725" stop-color="#1e0aff"/><stop offset="0.75" stop-color="#0903ff"/><stop offset="0.9" stop-color="#0004fb"/><stop offset="1" stop-color="#0006f9"/></linearGradient><linearGradient id="t54" gradientUnits="userSpaceOnUse" x1="0" x2="478"><stop offset="0" stop-color="#3311ff"/><stop offset="0.3" stop-color="#1106ff"/><stop offset="0.625" stop-color="#0401ff"/><stop offset="1" stop-color="#0100ff"/></linearGradient><linearGradient id="t55" gradientUnits="userSpaceOnUse" x1="0" x2="478"><stop offset="0" stop-color="#1a08ff"/><stop offset="0.2" stop-color="#0000ff"/><stop offset="0.375" stop-color="#0016e9"/><stop offset="0.575" stop-color="#0022dd"/><stop offset="1" stop-color="#002bd4"/></linearGradient><linearGradient id="t56" gradientUnits="userSpaceOnUse" x1="0" x2="478"><stop offset="0" stop-color="#0401ff"/><stop offset="0.05" stop-color="#0005fa"/><stop offset="0.275" stop-color="#0034cb"/><stop offset="0.575" stop-color="#0048b7"/><stop offset="1" stop-color="#0054ab"/></linearGradient><linearGradient id="t57" gradientUnits="userSpaceOnUse" x1="0" x2="478"><stop offset="0" stop-color="#0012ed"/><stop offset="0.25" stop-color="#0059a6"/><stop offset="0.55" stop-color="#00708f"/><stop offset="0.85" stop-color="#007887"/><stop offset="1" stop-color="#00817e"/></linearGradient><linearGradient id="t58" gradientUnits="userSpaceOnUse" x1="0" x2="478"><stop offset="0" stop-color="#0024db"/><stop offset="0.25" stop-color="#007d82"/><stop offset="0.55" stop-color="#009a65"/><stop offset="0.9" stop-color="#00ab54"/><stop offset="1" stop-color="#00b34c"/></linearGradient><linearGradient id="t59" gradientUnits="userSpaceOnUse" x1="0" x2="478"><stop offset="0" stop-color="#0037c8"/><stop offset="0.25" stop-color="#009d62"/><stop offset="0.55" stop-color="#00c03f"/><stop offset="1" stop-color="#00e11e"/></linearGradient><linearGradient id="t60" gradientUnits="userSpaceOnUse" x1="0" x2="478"><stop offset="0" stop-color="#0049b6"/><stop offset="0.25" stop-color="#00ba45"/><stop offset="0.55" stop-color="#00de21"/><stop offset="1" stop-color="#04ff00"/></linearGradient><linearGradient id="t61" gradientUnits="userSpaceOnUse" x1="0" x2="478"><stop offset="0" stop-color="#0057a8"/><stop offset="0.25" stop-color="#00d42b"/><stop offset="0.6" stop-color="#00fa05"/><stop offset="0.85" stop-color="#0cff00"/><stop offset="1" stop-color="#18ff00"/></linearGradient><linearGradient id="t62" gradientUnits="userSpaceOnUse" x1="0" x2="478"><stop offset="0" stop-color="#00619e"/><stop offset="0.25" stop-color="#00e619"/><stop offset="0.45" stop-color="#03ff00"/><stop offset="0.75" stop-color="#1cff00"/><stop offset="1" stop-color="#28ff00"/></linearGradient><linearGradient id="t63" gradientUnits="userSpaceOnUse" x1="0" x2="478"><stop offset="0" stop-color="#006897"/><stop offset="0.25" stop-color="#00ef10"/><stop offset="0.375" stop-color="#05ff00"/><stop offset="0.575" stop-color="#21ff00"/><stop offset="0.825" stop-color="#34ff00"/><stop offset="1" stop-color="#38ff00"/></linearGradient><linearGradient id="t64" gradientUnits="userSpaceOnUse" x1="0" x2="478"><stop offset="0" stop-color="#006e91"/><stop offset="0.25" stop-color="#00f50a"/><stop offset="0.325" stop-color="#03ff00"/><stop offset="0.725" stop-color="#3fff00"/><stop offset="1" stop-color="#47ff00"/></linearGradient><linearGradient id="t65" gradientUnits="userSpaceOnUse" x1="0" x2="478"><stop offset="0" stop-color="#00758a"/><stop offset="0.25" stop-color="#00fb04"/><stop offset="0.775" stop-color="#4eff00"/><stop offset="1" stop-color="#57ff00"/></linearGradient><linearGradient id="t66" gradientUnits="userSpaceOnUse" x1="0" x2="478"><stop offset="0" stop-color="#007b84"/><stop offset="0.25" stop-color="#00fe01"/><stop offset="0.775" stop-color="#57ff00"/><stop offset="1" stop-color="#66ff00"/></linearGradient><linearGradient id="t67" gradientUnits="userSpaceOnUse" x1="0" x2="478"><stop offset="0" stop-color="#007f80"/><stop offset="0.25" stop-color="#00ff00"/><stop offset="0.775" stop-color="#60ff00"/><stop offset="1" stop-color="#75ff00"/></linearGradient><linearGradient id="t68" gradientUnits="userSpaceOnUse" x1="0" x2="478"><stop offset="0" stop-color="#008080"/><stop offset="0.25" stop-color="#00ff00"/><stop offset="0.8" stop-color="#6cff00"/><stop offset="1" stop-color="#83ff00"/></linearGradient><linearGradient id="t69" gradientUnits="userSpaceOnUse" x1="0" x2="478"><stop offset="0" stop-color="#008080"/><stop offset="0.25" stop-color="#00ff00"/><stop offset="0.575" stop-color="#41ff00"/><stop offset="0.775" stop-color="#70ff00"/><stop offset="1" stop-color="#8eff00"/></linearGradient><linearGradient id="t70" gradientUnits="userSpaceOnUse" x1="0" x2="478"><stop offset="0" stop-color="#008080"/><stop offset="0.25" stop-color="#00ff00"/><stop offset="0.525" stop-color="#31ff00"/><stop offset="0.775" stop-color="#72ff00"/><stop offset="1" stop-color="#95ff00"/></linearGradient><linearGradient id="t71" gradientUnits="userSpaceOnUse" x1="0" x2="478"><stop offset="0" stop-color="#008080"/><stop offset="0.25" stop-color="#00fe01"/><stop offset="0.525" stop-color="#2dff00"/><stop offset="0.8" stop-color="#75ff00"/><stop offset="1" stop-color="#9aff00"/></linearGradient><linearGradient id="t72" gradientUnits="userSpaceOnUse" x1="0" x2="478"><stop offset="0" stop-color="#007e81"/><stop offset="0.25" stop-color="#00f906"/><stop offset="0.375" stop-color="#0eff00"/><stop offset="0.55" stop-color="#30ff00"/><stop offset="0.925" stop-color="#8fff00"/><stop offset="1" stop-color="#a0ff00"/></linearGradient><linearGradient id="t73" gradientUnits="userSpaceOnUse" x1="0" x2="478"><stop offset="0" stop-color="#007a85"/><stop offset="0.25" stop-color="#00f10e"/><stop offset="0.35" stop-color="#04ff00"/><stop offset="0.55" stop-color="#2cff00"/><stop offset="1" stop-color="#a1ff00"/></linearGradient><linearGradient id="t74" gradientUnits="userSpaceOnUse" x1="0" x2="478"><stop offset="0" stop-color="#00738c"/><stop offset="0.25" stop-color="#00e817"/><stop offset="0.4" stop-color="#06ff00"/><stop offset="0.6" stop-color="#33ff00"/><stop offset="1" stop-color="#9aff00"/></linearGradient><linearGradient id="t75" gradientUnits="userSpaceOnUse" x1="0" x2="478"><stop offset="0" stop-color="#006b94"/><stop offset="0.25" stop-color="#00dd22"/><stop offset="0.45" stop-color="#04ff00"/><stop offset="1" stop-color="#8fff00"/></linearGradient><linearGradient id="t76" gradientUnits="userSpaceOnUse" x1="0" x2="478"><stop offset="0" stop-color="#00629d"/><stop offset="0.25" stop-color="#00c936"/><stop offset="0.525" stop-color="#01ff00"/><stop offset="1" stop-color="#83ff00"/></linearGradient><linearGradient id="t77" gradientUnits="userSpaceOnUse" x1="0" x2="478"><stop offset="0" stop-color="#0054ab"/><stop offset="0.275" stop-color="#00b04f"/><stop offset="0.6" stop-color="#00ff00"/><stop offset="0.9" stop-color="#58ff00"/><stop offset="1" stop-color="#77ff00"/></linearGradient><linearGradient id="t78" gradientUnits="userSpaceOnUse" x1="0" x2="478"><stop offset="0" stop-color="#003ac5"/><stop offset="0.7" stop-color="#00fe01"/><stop offset="0.95" stop-color="#55ff00"/><stop offset="1" stop-color="#67ff00"/></linearGradient><linearGradient id="t79" gradientUnits="userSpaceOnUse" x1="0" x2="478"><stop offset="0" stop-color="#0014eb"/><stop offset="0.375" stop-color="#006897"/><stop offset="0.575" stop-color="#00a15e"/><stop offset="0.8" stop-color="#00f20d"/><stop offset="0.825" stop-color="#00fd02"/><stop offset="1" stop-color="#48ff00"/></linearGradient><linearGradient id="t80" gradientUnits="userSpaceOnUse" x1="0" x2="478"><stop offset="0" stop-color="#1507ff"/><stop offset="0.25" stop-color="#0001fe"/><stop offset="0.525" stop-color="#003ac5"/><stop offset="0.775" stop-color="#009e61"/><stop offset="0.95" stop-color="#00f807"/><stop offset="1" stop-color="#13ff00"/></linearGradient><linearGradient id="t81" gradientUnits="userSpaceOnUse" x1="0" x2="478"><stop offset="0" stop-color="#4617ff"/><stop offset="0.5" stop-color="#1b09ff"/><stop offset="0.625" stop-color="#0000ff"/><stop offset="0.75" stop-color="#002dd2"/><stop offset="1" stop-color="#00bf40"/></linearGradient><linearGradient id="t82" gradientUnits="userSpaceOnUse" x1="0" x2="478"><stop offset="0" stop-color="#6020ff"/><stop offset="0.475" stop-color="#5c1fff"/><stop offset="0.775" stop-color="#200bff"/><stop offset="0.875" stop-color="#0002fd"/><stop offset="1" stop-color="#0048b7"/></linearGradient><linearGradient id="t83" gradientUnits="userSpaceOnUse" x1="0" x2="478"><stop offset="0" stop-color="#6020ff"/><stop offset="0.825" stop-color="#5e1fff"/><stop offset="1" stop-color="#2b0eff"/></linearGradient><clipPath id="mclip"><path d="M2142.3 794.4L2197.5 801L2219.9 807.5L2236.6 814.1L2250.4 820.7L2262.3 827.2L2272.8 833.8L2282.1 840.3L2290.6 846.9L2298.4 853.5L2305.5 860L2312.1 866.6L2318.2 873.2L2323.9 879.7L2329.1 886.3L2334 892.9L2338.5 899.4L2342.8 906L2346.7 912.6L2350.3 919.1L2353.7 925.7L2356.8 932.2L2359.7 938.8L2362.4 945.4L2364.8 951.9L2367 958.5L2369 965.1L2370.8 971.6L2372.4 978.2L2373.8 984.8L2375 991.3L2376 997.9L2376.8 1004.4L2377.5 1011L2377.9 1017.6L2378.2 1024.1L2378.3 1030.7L2378.2 1037.3L2377.9 1043.8L2377.5 1050.4L2376.8 1057L2376 1063.5L2375 1070.1L2373.8 1076.6L2372.4 1083.2L2370.8 1089.8L2369 1096.3L2367 1102.9L2364.8 1109.5L2362.4 1116L2359.7 1122.6L2356.8 1129.2L2353.7 1135.7L2350.3 1142.3L2346.7 1148.9L2342.8 1155.4L2338.5 1162L2334 1168.5L2329.1 1175.1L2323.9 1181.7L2318.2 1188.2L2312.1 1194.8L2305.5 1201.4L2298.4 1207.9L2290.6 1214.5L2282.1 1221.1L2272.8 1227.6L2262.3 1234.2L2250.4 1240.7L2236.6 1247.3L2219.9 1253.9L2197.5 1260.4L2142.3 1267L1670.3 1267L1615.1 1260.4L1592.7 1253.9L1576 1247.3L1562.2 1240.7L1550.3 1234.2L1539.8 1227.6L1530.5 1221.1L1522 1214.5L1514.2 1207.9L1507.1 1201.4L1500.5 1194.8L1494.4 1188.2L1488.7 1181.7L1483.5 1175.1L1478.6 1168.5L1474.1 1162L1469.8 1155.4L1465.9 1148.9L1462.3 1142.3L1458.9 1135.7L1455.8 1129.2L1452.9 1122.6L1450.2 1116L1447.8 1109.5L1445.6 1102.9L1443.6 1096.3L1441.8 1089.8L1440.2 1083.2L1438.8 1076.6L1437.6 1070.1L1436.6 1063.5L1435.8 1057L1435.1 1050.4L1434.7 1043.8L1434.4 1037.3L1434.3 1030.7L1434.4 1024.1L1434.7 1017.6L1435.1 1011L1435.8 1004.4L1436.6 997.9L1437.6 991.3L1438.8 984.8L1440.2 978.2L1441.8 971.6L1443.6 965.1L1445.6 958.5L1447.8 951.9L1450.2 945.4L1452.9 938.8L1455.8 932.2L1458.9 925.7L1462.3 919.1L1465.9 912.6L1469.8 906L1474.1 899.4L1478.6 892.9L1483.5 886.3L1488.7 879.7L1494.4 873.2L1500.5 866.6L1507.1 860L1514.2 853.5L1522 846.9L1530.5 840.3L1539.8 833.8L1550.3 827.2L1562.2 820.7L1576 814.1L1592.7 807.5L1615.1 801L1670.3 794.4Z"/></clipPath><clipPath id="lclip"><path d="M1535 858.7L1547.5 850.8L1560.4 846.9L1575.9 843.5L1587.4 845.6L1595.9 846.6L1604.5 847.7L1613.5 849.5L1623.3 848.2L1633 846.9L1638.3 848.2L1649 848.2L1657.7 850.8L1667.6 852.2L1679.3 850.8L1689.3 852.2L1698 852.2L1708.2 843L1712.5 849.5L1717.5 852.2L1724 848.2L1730.5 848.2L1730.5 852.2L1719.1 857.4L1712.7 861.4L1696 867.9L1688.8 875.8L1691.2 881L1701.1 882.4L1706.9 885.5L1712.5 886.3L1711.9 891.5L1715.2 896L1718.2 894.2L1720.3 887.6L1727.2 881L1726.8 875.8L1731.6 866.6L1739.3 867.1L1747 870.5L1749.4 877.1L1757.6 873.2L1758.2 878.4L1761.7 882.4L1765.4 886.3L1771.2 891.5L1773 894.2L1766.4 896.8L1762.2 899.4L1750.2 899.4L1744.8 902L1749.3 903.4L1749.6 907.3L1757.6 909.9L1757.1 912.6L1749.5 913.9L1744.3 915.2L1742.4 912.6L1734.2 916.5L1730.9 920.4L1733.1 921.7L1722.6 924.4L1717.6 930.9L1715.3 936.2L1710.8 940.1L1705.1 944.1L1700.6 948L1698.3 954.6L1700.8 959.8L1700 964.3L1698.1 964.5L1694.6 958.5L1694.7 953.2L1689.7 952.7L1682.3 951.1L1678 953.8L1674.2 953.8L1666.6 953.2L1658.3 957.2L1655.7 965.1L1653.9 971.6L1656.3 979.5L1661.1 982.7L1667.7 981.9L1671.8 979.5L1672.8 975.6L1681.5 974.3L1679.4 980.8L1676.1 988.7L1682.5 989.2L1688.9 991.3L1688.3 999.2L1687.6 1003.1L1691.8 1007.1L1697.1 1006.5L1699.7 1005.8L1703.5 1008.4L1702.1 1011L1696.9 1011.5L1693 1009.7L1689.1 1008.9L1684.1 1004.4L1682.2 1001.8L1678.1 996.6L1671.7 994.7L1665.9 992.4L1660.5 988.2L1653.9 989.2L1646.4 986.1L1637.7 982.7L1633.1 978.2L1634 971.6L1629.7 966.4L1625.5 961.1L1620.4 954.6L1619.2 948.5L1615 948L1614.6 951.9L1618.4 958.5L1622 966.4L1623.4 970.3L1621.5 969.5L1617.9 963.7L1613.5 957.2L1611.6 951.9L1609.6 945.4L1607.1 941.4L1602.4 940.1L1600.4 934.1L1599.3 929.6L1597.6 924.9L1600.9 917.8L1604.3 909.1L1605 903.6L1609.8 902L1606.1 899.4L1601.4 896.8L1601.7 891.5L1599 887.6L1598.5 882.4L1595.1 878.4L1590.5 876.6L1585.6 873.7L1576.8 873.2L1571.9 870.5L1564.2 873.2L1556.5 875.8L1561.6 870.5L1551.9 875.8L1544.4 879.7L1534.6 883.7L1525.8 886.3L1518.5 887.3L1527.6 883.7L1539.2 878.9L1543.9 875.8L1533.4 876.6L1535.6 873.2L1530.2 871.3L1530.9 867.9L1537.1 864.8L1547.5 861.9L1547.6 860.6L1539.1 861.4ZM1741.2 837.2L1746 839.6L1754.6 843L1761.1 846.9L1762 852.2L1770.4 855.6L1765.5 860L1760.2 865.3L1752.8 867.1L1746.7 865.3L1742.5 861.9L1733.6 861.9L1741.1 857.4L1747.9 852.2L1742.7 849.5L1737.6 846.9L1724.8 846.9L1717.9 844.3L1720.3 839L1731.1 836.9ZM1657.2 843.5L1668 838.2L1681.9 839L1687.1 840.3L1689.4 845.6L1680.8 848.7L1669.1 850.1L1661.5 848.7L1656.5 846.9ZM1644.1 841.7L1653.8 835.9L1663.5 836.4L1665.3 839L1655.5 843L1646.6 843.5ZM1729.7 830.4L1737.7 830.5L1745.6 830.6L1756.9 825.9L1769.6 822L1779.2 819.3L1788.7 816.7L1789.5 813.3L1779.8 812.9L1770.2 812.5L1760 813.6L1749.8 814.6L1735 818L1738.8 822L1733.4 825.9ZM1718.2 834.8L1726.4 834.8L1734.6 834.8L1742.7 834.8L1744.5 832.2L1737.3 831L1730.1 829.8L1722.5 829.5L1714.8 829.1ZM1682.4 833.8L1692.9 831.2L1705 831.2L1710.9 833.8L1707.8 837.7L1696.5 841.7L1691.3 837.7ZM1670.1 833.8L1681.3 830.6L1669.5 830.4L1660.7 831.2L1662.5 833.3ZM1707 841.7L1715.8 841.1L1721.1 836.4L1710.9 836.4ZM1716.2 858.7L1723.5 857.4L1726.5 862.7L1720.9 865.3L1714.3 862.7ZM1762.6 905.5L1770.3 907.3L1777.4 908.3L1778.8 904.7L1776.4 900.7L1772.7 895.5L1768.5 898.1ZM1686.8 972.9L1694.9 969.8L1701.2 970.8L1707.4 973.7L1714.2 977.7L1705.6 978.5L1704.5 976.4L1697.1 973.5L1689.3 973.7ZM1713.3 982.1L1719.8 978.5L1726.2 979.2L1728.9 982.1L1722 983.4ZM1703.1 982.4L1708.3 982.9L1706.4 984L1703.1 983.4ZM1732 982.1L1735.8 982.4L1735.5 983.4L1731.9 983.4ZM1852.6 858.7L1856.9 856.4L1866.7 856.6L1874 856.9L1876.1 860L1872.9 861.9L1864.8 864.2L1859.3 863.2L1855.6 862.9L1857.4 861.1L1853 860.3ZM1704.1 1008.4L1709 1002.3L1715.7 1000.5L1719.7 998.1L1723.5 1000.5L1728.6 1003.1L1739.1 1002.9L1744.3 1002.6L1749.3 1008.4L1757 1014.9L1764.8 1015.5L1771.3 1018.9L1775.2 1028.1L1780.4 1032.5L1789.6 1037.3L1798.8 1038.3L1806.7 1041.2L1813.8 1045.1L1815 1051.7L1812.2 1058.3L1805.9 1064.8L1805 1075.3L1802.7 1083.2L1800.4 1088.5L1795.4 1091.1L1787.9 1093.7L1781.8 1099L1781.9 1105.5L1776.7 1112.1L1771.2 1120L1765.2 1122.1L1761.9 1126L1763.8 1130.5L1751.8 1133.1L1751.9 1138.3L1745.2 1138.3L1748.9 1142.3L1746.5 1148.9L1741.7 1151.5L1746.6 1156.7L1741.3 1164.6L1743.7 1168.3L1752.9 1174.3L1749.1 1175.9L1741.9 1175.1L1736.4 1172.5L1728.9 1167.2L1724.3 1159.4L1724.7 1151.5L1725.9 1141L1722.8 1134.4L1722.1 1127.8L1725.3 1117.3L1724 1108.2L1725.1 1096.3L1724.5 1083.2L1722 1078L1716.5 1074L1708.2 1067.5L1704.8 1062.2L1699.6 1053L1694.1 1046.5L1693.2 1042L1696.6 1038.6L1694.4 1033.3L1696.5 1029.4L1699.2 1026.8L1703.2 1020.2L1703.6 1013.6ZM1760.7 1165.9L1767.8 1165.7L1767.2 1168L1761.2 1167.8ZM1891.5 936.7L1901.3 938.3L1911.3 934.3L1921.3 933.6L1931.3 932.8L1934 938.8L1932.8 942.2L1944.3 945.9L1954.7 951.1L1957 945.4L1964.6 945.4L1969.8 947.5L1980 949.6L1988.9 948.8L1989.1 951.9L1992 957.2L1997.7 967.7L2002 975.6L2003.6 982.1L2007.8 988.7L2013.1 992.6L2018.5 997.9L2019.4 1000.5L2023.9 1003.1L2031.7 1001.3L2040 999.7L2039.6 1003.4L2034.6 1012.3L2030.8 1018.9L2024.3 1025.4L2016.4 1033.3L2012.5 1037.3L2008.5 1043.8L2009.7 1050.4L2009.6 1057L2012 1063.5L2012 1070.1L2005 1076.1L1998.2 1083.2L1997.3 1092.4L1991.1 1097.7L1990.2 1104.2L1983.9 1111.6L1977.2 1117.3L1970.7 1120L1961.8 1120.5L1956.7 1122.1L1952.5 1120L1952 1114.7L1948.5 1105.5L1944.8 1100.3L1943.7 1089.8L1937.4 1078L1937.5 1071.4L1942.1 1062.2L1941.1 1054.3L1938.5 1046.5L1937.2 1042.5L1931.2 1036L1929.9 1029.4L1931.7 1024.1L1931.2 1020.2L1928.6 1018.9L1923.3 1019.4L1918.1 1014.2L1910.2 1014.4L1901.1 1017.8L1894.5 1017L1886.6 1019.1L1881.4 1014.9L1876.2 1012.3L1871.5 1007.9L1871 1005L1867.1 1001.8L1862.7 997.9L1862.8 993.9L1860.7 992.1L1863.4 987.4L1864.3 980.8L1862.3 975.6L1865.1 969L1869.1 962.4L1873 958L1878.2 955.1L1881.3 951.9L1881.4 948L1884.8 943.3L1889.1 941.4ZM2035 1062.2L2037.5 1071.4L2034.9 1076.6L2031.7 1085.8L2027.7 1095.8L2022.4 1097.7L2019.2 1092.4L2018.2 1087.9L2021 1082.7L2020.6 1075.3L2026 1072.2L2031.5 1066.1ZM1882.6 929.1L1884.5 921.7L1883.7 917.3L1886.6 916L1896.5 916.5L1901.9 916.8L1903.4 909.9L1899.5 906L1894.9 903.6L1902.7 902.8L1902.2 900.2L1906.8 900.7L1910.4 897.1L1914.7 895.7L1917.4 891.5L1922.9 890L1926.8 888.9L1925.5 885L1925.4 881L1930.6 879.2L1930.4 883.7L1929.3 886.3L1932.3 888.9L1935.7 887.9L1939.3 888.9L1949.8 887.1L1952.9 887.9L1955.6 885.5L1955.4 881L1958.4 879.2L1962.8 880.5L1962.6 877.4L1960.3 875.3L1970.5 874L1975 873.2L1971.3 871.6L1963.4 872.6L1957.8 873.2L1954.8 870.5L1954.6 865.3L1960.6 860L1962.2 858.7L1955.9 857.9L1954.2 861.6L1946.8 866.1L1945.4 870.5L1949.3 873.2L1944.8 879.7L1943.7 883.1L1939.8 885L1936.3 884.7L1932.1 877.1L1930.4 874.5L1924.8 878.2L1919.7 876.6L1917.7 870.5L1919.8 866.6L1925.3 863.7L1930.8 861.4L1934.8 856.1L1938.8 851.4L1943.9 848.7L1951.1 846.9L1960.7 844L1965.7 844.8L1972.3 846.1L1968.4 847.7L1977.1 848.5L1983.8 849.5L1995.8 854.3L1996.5 856.9L1989.9 856.9L1980.8 855.6L1979.1 857.9L1984.3 861.9L1988.9 862.7L1995.2 860.8L1995.5 857.4L2003.1 856.9L2001.8 852.2L2007.2 852.2L2014.6 851.6L2023 850.8L2029.5 850.8L2036 848.2L2043.8 848.7L2050.9 850.3L2051.9 845.6L2047.5 843L2049.7 839L2057.2 839.6L2060.2 844.3L2065.8 852.2L2068.4 850.8L2062.9 840.3L2069.9 841.7L2072.8 837.7L2085.3 836.4L2082.5 832.5L2090 831.8L2097.6 831.2L2106.5 829.8L2111.5 826.7L2119.7 829.1L2133.8 831.2L2136.7 836.4L2133.1 836.9L2141.8 837.5L2153.6 839L2162.2 838.2L2171.5 840.3L2181.5 844.3L2186.6 843L2195 843L2197.8 839.6L2211.7 840.9L2221.5 842.2L2230.5 844.5L2248.8 847.7L2255.2 847.7L2265 846.9L2273.5 848.7L2282.7 847.4L2294.1 849.8L2305 859.5L2303.6 861.4L2306.5 866.6L2300.3 868.4L2296.5 873.2L2286.2 873.2L2282.9 873.4L2283.8 878.9L2286.1 883.7L2284.8 890.2L2282.9 892.9L2281 896.8L2276.1 891.5L2270.2 883.7L2270.1 879.2L2271.4 871.9L2274.9 866.6L2269.2 869.2L2261.7 869.8L2260.7 874.2L2253.2 875L2246.1 874.7L2235 875.3L2231.1 879.7L2229.3 886.3L2227.3 888.9L2234.3 888.9L2240.6 891.5L2242.8 894.2L2243.7 899.4L2245.9 904.7L2243.4 908.6L2239.6 913.9L2234.1 918.3L2230.2 917.8L2228.4 919.6L2227.4 923.6L2223.5 926.5L2227.1 929.6L2230.6 933.6L2231.6 937.5L2227.7 939.6L2225.1 940.1L2223.8 934.9L2219 931.7L2218.2 927L2215.9 926.2L2207.6 923.6L2207.9 928.3L2200.3 927.8L2200.3 930.1L2204.3 932.8L2208.2 931.5L2213.3 933.6L2209.1 936.2L2206.8 938.8L2210.4 942.7L2215.4 947.2L2214.1 950.1L2217.2 952.5L2216.8 956.4L2213.7 963.5L2209.9 966.4L2206.7 970.3L2200.6 972.2L2193.2 974.5L2191.8 977.4L2189.3 974.3L2185.4 974L2182.4 976.9L2180.6 980.8L2182.9 984.8L2189.5 990L2191.5 997.9L2187.2 1003.1L2181.8 1007.6L2180.2 1003.9L2175.3 1001.3L2173.3 998.4L2169.4 995.8L2167.1 995.8L2165.7 1001.8L2166 1006.3L2169.4 1011.8L2173.4 1014.4L2177.3 1018.9L2177.4 1023.3L2179.5 1027L2177.7 1027.3L2171.9 1023.1L2169.1 1016.3L2167.1 1012.8L2163.6 1009.7L2163.8 1004.4L2164 999.2L2161.1 992.6L2160.1 987.4L2155.8 986.6L2154 989.2L2151.6 988.7L2150.9 982.1L2147.1 978.2L2143.3 972.2L2139.8 971.6L2136.2 973.5L2131.1 974.3L2131 977.4L2126.5 979.5L2120.2 986.6L2115 990L2115.4 995.8L2114.9 1003.7L2112.9 1006.5L2110.6 1008.6L2109.1 1009.4L2106.3 1005.8L2103.4 999.2L2101 993.9L2097.4 987.4L2095 980.8L2094.3 975.6L2088.7 976.1L2084.4 972.2L2086.8 970.3L2080.1 967.9L2077.7 964.3L2065.6 964.5L2056.5 963.5L2052.4 960.3L2050.5 959.3L2046 960.9L2038 957.4L2033.6 951.4L2029.8 951.9L2028.7 953.2L2031.1 957.7L2035 961.1L2036.9 965.3L2038.8 966.9L2045.3 967.2L2050 962.4L2051.7 966.4L2057.6 969L2060.6 971.6L2057.7 976.9L2055.9 980.8L2050.4 984.8L2042.1 988.7L2034 993.2L2024.2 996.6L2019.8 997.4L2017.8 991.8L2016.8 987.4L2012.6 980.8L2007.6 974.3L2005.5 969L2001.3 963.7L1995.8 957.2L1995 953.2L1992 957.2L1989.1 951.9L1988.9 948.8L1993.2 948.5L1994.9 944.1L1996.8 936.7L1996.6 934.1L1986.7 935.7L1981.6 935.4L1975.2 933.6L1972.4 929.6L1971.5 927L1972.8 924.4L1965.8 923.6L1963.4 924.9L1963.1 927.5L1966.3 930.9L1964 934.9L1960.7 934.1L1958.7 929.6L1954.7 924.4L1954.5 920.4L1945.6 916.5L1940.6 912.6L1939.2 910.7L1936.4 911.8L1937 915.2L1940.8 919.1L1945.8 920.7L1952.3 925.2L1948.5 924.6L1947.4 928.3L1945.5 930.9L1946.2 928.3L1943.6 925.4L1939.7 922.5L1936.5 921L1932.2 918.1L1930.8 915.2L1927.9 914.1L1924.7 915.7L1921.1 917.5L1917.4 916.8L1914.2 917.8L1914.2 921L1908.8 923.1L1905.6 927L1905.1 930.1L1901.3 934.1L1895 934.3L1892.2 936.2L1890.5 934.1L1887.8 933L1884 933.6ZM1518.5 849.8L1525.1 853.5L1531 856.1L1532.3 857.4L1522.4 861.4L1516.7 859.3L1514 856.6L1507.6 859.5ZM1892.6 899.4L1897.9 898.6L1906.3 897.3L1909.6 896.3L1910.3 892.3L1906.8 890.8L1905.8 887.6L1902.6 885L1901.2 882.4L1901.7 879.2L1897 879.5L1899.4 876.8L1894.8 876.8L1891.9 879.7L1893.4 883.7L1895 886.8L1899.2 888.9L1898.7 890.8L1895.6 891L1896.3 893.4L1893.9 894.7L1899.1 895.7L1896.3 896.5ZM1882.5 894.7L1887.2 895L1891.5 893.6L1892.1 890.2L1893.1 887.3L1889.2 885.5L1886.3 887.6L1882.7 888.4L1883.8 891ZM1926.7 928.3L1930.2 928L1930.3 923.1L1926.9 923.1ZM1927.6 922L1929.8 921.7L1929.5 917.8L1927.8 919.1ZM1937.5 930.9L1945 930.4L1944.4 934.3L1937.6 932.2ZM1965.4 937.5L1972.2 938L1972.3 938.8L1965.5 938.3ZM1987.7 938.8L1993.1 937.2L1992 939.6L1988.2 939.9ZM2237.1 948.5L2240.2 948L2240 942.7L2246.1 942L2251.3 940.1L2256.2 939.6L2260.4 937L2258.7 930.9L2258.8 925.7L2256.1 922L2253.5 923.6L2254.8 928.3L2253.1 932.8L2249.5 933L2248.3 937L2240.9 937.5L2236.8 940.6L2234.9 942.7L2234.8 944.8ZM2252.7 921.7L2254.8 917.8L2252.5 911.5L2258.3 914.7L2262.8 914.7L2264.4 917.3L2260.4 920.4L2254.6 919.1ZM2252.5 909.9L2255.2 907.8L2251.1 902L2253.9 901.5L2246.8 894.2L2243.5 888.4L2242.2 890.2L2246.6 898.1ZM2216.4 970.8L2218.8 972.9L2219.9 965.1L2217.2 964.5ZM2188 980L2192.4 978.2L2193.9 979.5L2190.5 982.9ZM2115 1005.8L2116.2 1005L2120.4 1011L2119 1014.2L2116.4 1014.9L2114.9 1009.7ZM2218.4 982.1L2223.3 982.1L2223.7 988.7L2223.4 993.4L2229.8 996.6L2228.5 997.1L2224.3 994.7L2221.2 994.5L2218.5 988.7ZM2225.7 1012.3L2229.4 1007.9L2234.4 1005L2237.7 1011.5L2235.6 1015.5L2231.1 1014.4ZM2225.2 1004.4L2227.5 1000L2233.8 997.9L2233.8 1003.7L2230.4 1003.9L2228 1006.5ZM2213.2 1008.9L2218.5 1002.6L2219.1 1003.7L2214.3 1009.7ZM2156 1016L2161.8 1017L2169.8 1025.4L2177.7 1033.3L2184.2 1038.6L2183.4 1045.9L2180 1045.9L2174.4 1041.2L2169.8 1034.6L2165.1 1026.8L2160.6 1022ZM2182.1 1047.8L2185.3 1046.5L2190.4 1048.3L2197 1048L2201.6 1049.1L2206 1051.2L2205.3 1053.3L2196.7 1052.5L2189 1051.2L2182.5 1048.8ZM2192.1 1026.8L2193.7 1025.4L2198.6 1023.6L2202.5 1022.3L2207.6 1017.6L2212.1 1012.3L2218.1 1016.8L2215.5 1019.4L2215.7 1024.7L2218.3 1028.1L2214.4 1029.4L2214.4 1033.3L2211.7 1040.7L2206.4 1041.2L2202.5 1039.4L2198.6 1039.4L2194.7 1034.6L2192.1 1029.4ZM2219.4 1045.1L2219 1039.9L2218.3 1033.3L2221 1028.1L2223.6 1027.3L2228.8 1028.1L2234.1 1026.5L2232.8 1029.6L2223.6 1029.4L2221.7 1033.1L2224.9 1033.3L2229.6 1033.1L2225.7 1035.7L2228.1 1041.2L2226 1043.8L2223.5 1038.6L2221.7 1045.1ZM2249.8 1032.8L2257.7 1032.8L2261.5 1039.4L2268.1 1034.9L2276 1037.5L2285 1041.2L2288.8 1045.1L2293.4 1047L2291.7 1049.6L2299.6 1058.3L2293.1 1057.5L2288.3 1052.5L2281.7 1053L2277.7 1054.9L2271.3 1052.2L2267.4 1052.5L2267.2 1047.8L2262.2 1042.5L2254.9 1041.2L2253.7 1038.1ZM2209.8 1052.5L2217.7 1052.5L2228.1 1052.8L2233.4 1052.5L2238.6 1053L2233.1 1056.2L2229.6 1057.7L2220 1056.4L2209.7 1054.1ZM2240.6 1026L2243.8 1026.8L2241.9 1032.8L2240.1 1030.7ZM2241.9 1038.6L2249.2 1039.1L2247 1040.7L2241.8 1039.9ZM2295.3 1045.4L2304.7 1041.7L2305.4 1043.8L2299.2 1047.2ZM2199.7 1089.8L2199.4 1099L2199.5 1108.2L2199.8 1114.7L2196.5 1120.8L2203.5 1122.6L2209.4 1119.7L2218.2 1119.7L2225.7 1115.5L2233.8 1113.7L2239.5 1113.4L2245.6 1116.8L2247.8 1122.1L2255.1 1117.3L2252.7 1122.6L2255.8 1124.4L2257.5 1130.5L2264.2 1132.6L2268.5 1131L2271.5 1133.1L2276.4 1129.9L2281.9 1128.6L2287.6 1120L2293.1 1114.7L2298.5 1105.5L2299.3 1097.7L2295.4 1092.4L2292.4 1088.5L2289.5 1083.2L2285.6 1080.6L2284.6 1074L2284.7 1069.6L2281 1068.2L2280.2 1061.7L2278.6 1059.1L2276 1064.3L2274.7 1070.1L2272 1076.6L2267.4 1076.1L2264.8 1072.7L2260.4 1070.1L2260.4 1066.1L2263.4 1062.7L2258.7 1062.2L2252.4 1060.4L2248.2 1063L2245.3 1066.1L2243.5 1070.1L2239.6 1070.1L2237.3 1067.5L2231.6 1071.4L2228.7 1074L2224 1075.9L2222.8 1079.3L2215.7 1083.2L2209 1085L2203.5 1087.1ZM2265.2 1137.6L2269.3 1138.6L2274 1137.8L2272.2 1141.5L2268.3 1144.9L2265.3 1144.9L2265 1141.8ZM2341.9 1121.3L2344.8 1123.9L2347 1127.1L2349.5 1130.5L2352.8 1129.7L2348.4 1133.9L2345.1 1137L2339.7 1139.9L2339.8 1137.8L2339.2 1133.9L2343 1130.5L2344.2 1126.5ZM2334.9 1137L2337 1140.4L2330.9 1145.4L2324.7 1148.9L2321.7 1152L2316.2 1153.1L2312.5 1151L2318.4 1146.7L2326.2 1143.6L2331.9 1139.7ZM2330.9 1083.7L2336.6 1087.1L2337.4 1089.2L2332.7 1087.1ZM1927.6 823.3L1934 827.2L1940.2 829.3L1949.8 827.2L1958.7 823.3L1952 819.9L1938.8 820.7ZM2014.8 843L2023 845.1L2028 844.3L2021.6 839L2025 835.1L2033.1 831.2L2042.9 829.1L2037.6 828.5L2026.7 830.4L2019 833.3L2015.9 837.7ZM2090.5 823.3L2102.8 825.9L2111.3 824.6L2101.7 819.3L2088.9 818ZM2184.3 833L2196.4 836.4L2201.5 833.8L2211 833.3L2200.3 831.2L2186.2 831.2ZM1993.6 819.3L2002.5 820L2011.4 820.7L2023 818L2014.1 815.9L2005.3 816.7L1996.4 817.5ZM2284.2 844.3L2285.6 843L2288 844.8Z"/></clipPath><filter id="b1" x="-5%" y="-5%" width="110%" height="110%"><feGaussianBlur stdDeviation="0.9"/></filter><filter id="b8" x="-50%" y="-50%" width="200%" height="200%"><feGaussianBlur stdDeviation="9"/></filter><filter id="b20" x="-50%" y="-50%" width="200%" height="200%"><feGaussianBlur stdDeviation="22"/></filter><clipPath id="gclip"><path d="M1763.2 825.4L1777.3 819.3L1786.3 817.4L1795.2 815.4L1804.8 815L1814.3 814.5L1823.7 814.1L1832.1 813.2L1840.5 812.3L1848.7 811.5L1857.1 813L1865.8 814.6L1872.1 819.3L1869.9 825.9L1864 831.2L1866.2 836.4L1860.1 841.7L1858.5 845.6L1850.3 849.5L1841.3 851.6L1831.6 856.6L1822.4 858.5L1816.2 861.4L1811.6 866.6L1808 872.6L1803.3 873.2L1797.1 870.5L1793.9 865.3L1791.4 858.7L1789.8 853.5L1792.7 848.2L1789.4 845.6L1791.5 840.3L1788.9 832.5L1781.8 830.6L1769.4 831.2L1765 828.5Z"/></clipPath><linearGradient id="trk" gradientUnits="userSpaceOnUse" x1="0" y1="1148.3" x2="0" y2="1009"><stop offset="0" stop-color="#f8ff00"/><stop offset="0.25" stop-color="#b2ff00"/><stop offset="0.5" stop-color="#5eff00"/><stop offset="0.75" stop-color="#00fd02"/><stop offset="1" stop-color="#009966"/></linearGradient></defs><polygon points="183.2,72.2 225.2,0.6 307.3,0.6 349,72.2 307.2,144.4 225.2,144.4" fill="#fff" stroke="#cfeaf0" stroke-width="1.3"/><g clip-path="url(#hexc)"><rect x="190" y="8" width="152" height="125" fill="#03050a"/><circle cx="232.2" cy="27.7" r="1.0" fill="#c9c6f0"/><circle cx="202.1" cy="66.7" r="0.8" fill="#c9c6f0"/><circle cx="276.2" cy="18.2" r="0.4" fill="#c9c6f0"/><circle cx="293.9" cy="10.5" r="0.3" fill="#c9c6f0"/><circle cx="304.4" cy="46.4" r="0.35" fill="#c9c6f0"/><circle cx="286.3" cy="62.2" r="0.3" fill="#c9c6f0"/><circle cx="313" cy="31.6" r="0.3" fill="#c9c6f0"/><circle cx="213.6" cy="28.7" r="0.3" fill="#c9c6f0"/><circle cx="255.7" cy="12.4" r="0.3" fill="#c9c6f0"/><circle cx="322.6" cy="53.6" r="0.3" fill="#c9c6f0"/><circle cx="232.7" cy="51.7" r="0.25" fill="#c9c6f0"/><circle cx="298.7" cy="23.9" r="0.25" fill="#c9c6f0"/><g filter="url(#lb)"><path d="M196.3,91.8 Q265.2,67 341.7,66 L341.7,76.5 Q265.2,78.4 201.1,101.4Z" fill="#167a4e"/><path d="M227,84.2 Q279.6,70.8 341.7,70.8 L341.7,75.6 Q279.6,76.5 230.8,89Z" fill="#3fc486"/></g><path d="M202.1,100.4 Q265.2,75.6 341.7,74.1 L341.7,143.5 L202.1,143.5Z" fill="url(#earthg)"/><g filter="url(#lb)" fill="#fff"><ellipse cx="246.1" cy="95.7" rx="31.6" ry="2.7" fill-opacity="0.9" transform="rotate(-17 246.1 95.7)"/><ellipse cx="289.1" cy="86.1" rx="26.8" ry="2.1" fill-opacity="0.9" transform="rotate(-8 289.1 86.1)"/><ellipse cx="255.7" cy="107.1" rx="24.9" ry="2.5" fill-opacity="0.75" transform="rotate(-14 255.7 107.1)"/><ellipse cx="298.7" cy="99.5" rx="22" ry="2.3" fill-opacity="0.7" transform="rotate(-10 298.7 99.5)"/><ellipse cx="241.3" cy="118.6" rx="19.1" ry="2.9" fill-opacity="0.6" transform="rotate(-12 241.3 118.6)"/><ellipse cx="284.3" cy="112.9" rx="15.3" ry="2.1" fill-opacity="0.6" transform="rotate(-8 284.3 112.9)"/><ellipse cx="317.8" cy="91.8" rx="11.5" ry="2.9" fill-opacity="0.6" transform="rotate(-6 317.8 91.8)"/></g><path d="M293.9,122.4 L318.8,106.2 L306.3,131Z" fill="#2a6bc4"/><path d="M227,135.8 Q255.7,117.7 279.6,118.1 Q295.8,119.6 309.2,133.9Z" fill="#fff"/><circle cx="266.2" cy="116.2" r="6.8" fill="#2f6fbe"/><path d="M262.2 117.7Q266.2 111.2 270.2 117.7" stroke="#dfe9f6" stroke-width="0.9" fill="none"/><rect x="262.6" y="118.8" width="7.2" height="1.6" fill="#dfe9f6"/><path d="M277.7,66 L305.4,106.2" stroke="#fff" stroke-opacity=".8" stroke-width="1.6" filter="url(#lb2)"/><path d="M242.3,14.3L247.5,35.4M278.6,29.2L263.3,37.3M221.2,59.8L239.4,49.7M244.2,89L255.7,73.7M264.3,84.2L259.5,74.6" stroke="#9b8a6a" stroke-width="0.7" fill="none"/><path d="M221.2,60.5L241.3,62.2" stroke="#e0a040" stroke-width="1.3" fill="none"/><ellipse cx="223.1" cy="60.5" rx="2.6" ry="1.1" fill="#f7b23a"/><circle cx="244.2" cy="88.8" r="1" fill="#e8a03a"/><polygon points="246.6,34 262.8,37.8 281,51.2 282.4,55.5 271.9,74.1 255.7,73.2 238.4,61.2 241.3,45" fill="#d6a25c"/><polygon points="247,35 263.1,38.5 280.1,51.4 268.3,53.6 245.3,41.7" fill="#2c6db8"/><polygon points="244.7,42.3 267.7,54.3 255.7,72.2 239.2,60.9" fill="#3a7fcc"/><path d="M247.5,49.7L264.3,59.3M243.2,56.4L260,66M251.8,45.9L245.1,65M260,50.2L250.9,69.3" stroke="#5a98dc" stroke-width="0.5" fill="none"/><polygon points="269,55 282,56 271.9,73.2 257.1,72.2" fill="#e7c58a"/><polygon points="265.2,63.6 272.9,61.2 274.8,66 267.1,68.9" fill="#bfe0f2"/><polygon points="270,56 281.5,56.4 279.6,61.2 272.9,59.3" fill="#6b4a2a"/><path d="M256.6,73.7L262.3,84.2L266.2,77.5Z" fill="#7a6a58"/></g><text x="265.4" y="134.1" font-family="'DejaVu Sans',sans-serif" font-weight="bold" font-size="7.3" text-anchor="middle" fill="#19a9e3" textLength="59" lengthAdjust="spacingAndGlyphs">CASSIOPE</text><g clip-path="url(#esac)" fill="none" stroke="#4a84c6" stroke-width="1.95"><circle cx="2119.1" cy="22.6" r="3.2"/><circle cx="2119.1" cy="22.6" r="6.75"/><circle cx="2119.1" cy="22.6" r="10.3"/><circle cx="2119.1" cy="22.6" r="13.85"/><circle cx="2119.1" cy="22.6" r="17.4"/><circle cx="2119.1" cy="22.6" r="20.95"/><circle cx="2119.1" cy="22.6" r="24.5"/><circle cx="2119.1" cy="22.6" r="28.05"/><circle cx="2119.1" cy="22.6" r="31.6"/><circle cx="2119.1" cy="22.6" r="35.15"/><circle cx="2119.1" cy="22.6" r="38.7"/><circle cx="2119.1" cy="22.6" r="42.25"/><circle cx="2119.1" cy="22.6" r="45.8"/><circle cx="2119.1" cy="22.6" r="49.35"/><circle cx="2119.1" cy="22.6" r="52.9"/><circle cx="2119.1" cy="22.6" r="56.45"/><circle cx="2119.1" cy="22.6" r="60"/><circle cx="2119.1" cy="22.6" r="63.55"/><circle cx="2119.1" cy="22.6" r="67.1"/><circle cx="2119.1" cy="22.6" r="70.65"/><circle cx="2119.1" cy="22.6" r="74.2"/><circle cx="2119.1" cy="22.6" r="77.75"/><circle cx="2119.1" cy="22.6" r="81.3"/><circle cx="2119.1" cy="22.6" r="84.85"/><circle cx="2119.1" cy="22.6" r="88.4"/><circle cx="2119.1" cy="22.6" r="91.95"/><circle cx="2119.1" cy="22.6" r="95.5"/><circle cx="2119.1" cy="22.6" r="99.05"/><circle cx="2119.1" cy="22.6" r="102.6"/><circle cx="2119.1" cy="22.6" r="106.15"/><circle cx="2056.4" cy="65.4" r="6.1" fill="#fff" stroke="none"/><circle cx="2114.5" cy="67" r="30.2" fill="#fff" stroke="none"/><path d="M2123.6 33.6A49.4 49.4 0 0 1 2133.8 66" stroke-dasharray="1.7 1.9" stroke-width="1.8"/></g><text x="2090.9" y="86.2" font-family="'DejaVu Sans',sans-serif" font-weight="bold" font-size="70.5" fill="url(#hs)">e</text><text transform="translate(2142.6 94.4) scale(0.943 1)" font-family="'Liberation Sans',sans-serif" font-weight="bold" font-size="107" fill="#15267f">esa</text><text x="1200.3" y="62.9" font-size="61.11" text-anchor="middle">e-POP IRM Summary Plot</text><text x="1199.5" y="128.6" font-size="55.56" text-anchor="middle">August 25, 2020</text><path d="M307.8 163.3h25.8M357.9 163.3h25.8" stroke="#00f0c8" stroke-width="8.33" fill="none"/><path d="M307.8 163.3h25.8M357.9 163.3h25.8" stroke="#000" stroke-width="2.78" fill="none"/><text x="413.5" y="173.2" font-size="27.78">Anti-ram</text><path d="M586 163.3h91" stroke="#00f0c8" stroke-width="8.33" fill="none"/><path d="M586 163.3h91" stroke="#000" stroke-width="2.78" fill="none"/><text x="695" y="173.2" font-size="27.78">Bfield</text><path d="M830.2 163.3h25.3M863.6 163.3h8.8M880.7 163.3h24.8" stroke="#00f0c8" stroke-width="8.33" fill="none"/><path d="M830.2 163.3h25.3M863.6 163.3h8.8M880.7 163.3h24.8" stroke="#000" stroke-width="2.78" fill="none"/><text x="934.5" y="173.2" font-size="27.78">Zenith</text><rect x="1606.8" y="153.9" width="56.2" height="19.4" fill="#c4c8c6"/><text x="1684.2" y="173.2" font-size="27.78">S/C in Eclipse</text><rect x="1926.9" y="154.3" width="56.6" height="19" fill="#fff" stroke="#888" stroke-width="1.1"/><path d="M1927.5 172.8L1946 154.8M1959 172.8L1977.5 154.8" stroke="#888" stroke-width="2.6" fill="none"/><text x="2003.1" y="173.2" font-size="27.78">IRM in S/C Shadow</text><g clip-path="url(#cA1)"><g transform="translate(240.2 192.6) scale(0.89291 9.06875)" fill="none" stroke-width="1.07" shape-rendering="crispEdges"><path d="M0 0.5h945" stroke="#d9b2ff" stroke-dasharray="0 343 1 19 1 15 1 6 1 46 1 10 1 30 1 13 1 42 1 3 1 11 1 23 1 30 1 3 1 2 1 33 1 10 2 12 1 14 1 4 1 14 1 17 2 3 1 1 1 1 1 4 2 2 1 3 1 1 1 8 1 2 1 4 1 4 1 1 1 1 1 4 1 7 1 4 3 1 2 9 2 6 1 1 1 3 1 4 1 1 1 12 1 3 1 1 3 9 1 7 1 2 1 2 1 1 1 8 2 1 1 3 3 13 1 13 1 2 1 7 1 3 1 4 1 3005"/><path d="M0 0.5h945" stroke="url(#h0)" stroke-dasharray="0 593 1 102 1 16 1 21 1 3 1 1 1 12 1 7 1 1 1 1 1 6 2 4 1 8 1 4 1 2 1 1 1 2 4 4 1 1 1 5 2 1 1 1 1 2 1 1 9 4 1 1 1 1 1 3 3 1 1 1 3 2 4 1 1 1 1 2 1 2 1 1 2 1 5 2 1 1 3 4 3 1 8 1 7 1 3 1 1 1 1 2 7 1 3 1 4 1 5 3000"/><path d="M0 1.5h945" stroke="#d9b2ff" stroke-dasharray="0 90 1 84 1 15 1 14 1 14 1 77 1 39 1 18 1 15 1 25 1 15 1 6 1 7 1 5 1 13 1 1 1 10 1 21 1 2 2 6 1 2 1 22 1 8 1 3 1 5 1 17 1 1 1 2 1 4 2 3 1 1 1 3 1 14 1 12 1 6 1 12 2 6 1 8 1 3 1 9 1 2 1 13 1 11 1 10 1 30 1 6 1 2 1 2 1 5 1 12 2 5 3 2 3 2 3 1 2 1 3 7 1 1 1 1 1 2 1 3 1 4 1 11 1 7 1 3 2 11 1 3 1 11 1 22 1 13 1 15 1 3 1 1 1 3019"/><path d="M0 1.5h945" stroke="url(#h1)" stroke-dasharray="0 368 1 38 1 100 1 80 1 20 1 32 1 10 1 14 1 5 1 6 1 2 1 23 2 8 1 5 1 2 1 4 1 6 1 4 2 1 1 2 1 5 2 1 1 1 1 2 1 3 1 3 2 11 1 6 1 6 1 5 1 4 1 3 1 2 1 1 1 1 2 2 2 2 3 1 3 3 5 1 2 1 1 2 2 1 7 1 3 1 3 1 1 1 2 1 1 1 11 1 4 1 3 1 4 1 15 1 3 1 1 1 19 3000"/><path d="M0 2.5h945" stroke="#d9b2ff" stroke-dasharray="0 1 1 3 1 10 1 11 1 1 2 7 2 6 1 4 2 1 1 9 2 16 2 2 1 1 1 1 1 5 1 5 2 13 2 5 1 2 1 7 3 2 1 11 3 3 1 5 2 4 1 10 1 5 1 5 1 2 2 7 1 5 1 8 1 1 1 1 2 17 1 1 3 2 2 4 1 9 1 1 1 3 1 2 1 5 3 1 1 4 1 4 2 2 1 2 4 6 2 3 1 1 1 1 3 1 1 3 2 7 1 1 1 2 3 5 1 9 2 2 1 1 1 6 2 3 1 5 2 1 2 2 1 4 1 10 1 1 1 1 3 11 1 1 1 6 1 7 1 17 1 1 1 2 2 4 1 1 1 2 1 6 2 3 2 1 1 1 1 3 2 8 3 1 1 11 1 5 1 2 1 6 1 1 1 2 1 1 1 2 1 5 1 8 1 3 2 14 1 11 1 20 1 18 1 4 1 4 1 1 1 48 1 10 1 11 1 1 1 3220"/><path d="M0 2.5h945" stroke="url(#h2)" stroke-dasharray="0 4 1 17 1 9 3 16 1 9 1 5 2 21 1 2 1 5 2 4 1 2 2 2 1 2 1 4 1 11 1 11 1 24 2 6 3 11 1 4 1 2 2 4 1 1 1 2 1 2 1 4 1 3 1 7 1 6 1 1 1 2 1 10 1 5 1 1 1 1 1 1 2 1 1 1 1 1 1 2 1 1 5 5 1 5 2 3 1 3 1 5 1 2 2 3 1 4 1 5 3 3 1 1 1 1 2 1 1 2 1 3 2 2 1 1 1 1 6 3 1 2 1 2 3 1 1 2 1 3 5 2 1 2 1 2 1 1 1 2 4 1 3 1 1 1 1 6 2 2 1 3 2 1 1 2 1 2 2 2 4 1 1 1 1 1 1 1 4 2 4 6 2 2 2 1 1 1 1 1 2 2 2 1 1 3 3 2 1 1 1 2 2 2 4 1 3 3 1 1 2 1 1 1 3 1 2 1 5 1 2 1 6 1 1 1 2 1 1 1 2 1 1 1 1 1 1 2 7 1 3 2 6 1 7 1 2 1 3 1 3 2 5 1 5 1 7 2 10 1 6 2 4 1 4 1 1 1 19 1 2 1 5 1 17 1 1 1 10 1 11 1 1 1 3 1 216 3000"/><path d="M0 3.5h945" stroke="#d9b2ff" stroke-dasharray="2 6 3 9 1 12 1 5 1 2 1 12 2 8 2 3 1 5 1 1 1 14 1 1 1 3 1 22 1 3 1 2 1 6 1 10 1 1 1 1 1 4 1 17 1 13 1 18 1 17 1 8 1 14 1 2 1 12 2 3678"/><path d="M0 3.5h945" stroke="url(#h3)" stroke-dasharray="0 2 6 3 9 1 1 1 7 5 1 1 2 1 2 1 2 1 7 1 1 2 1 1 4 1 1 2 2 2 5 1 1 1 6 1 7 1 1 1 3 1 7 1 14 1 3 1 1 2 2 1 1 1 1 1 3 2 5 3 1 1 4 1 2 1 1 1 6 1 5 1 13 1 15 1 2 1 17 1 6 1 1 1 6 1 5 1 1 1 2 1 12 2 26 1 27 1 623 3000"/><path d="M0 4.5h945" stroke="url(#h4)"/><path d="M0 5.5h945" stroke="url(#h5)"/><path d="M0 6.5h945" stroke="url(#h6)"/><path d="M0 7.5h945" stroke="url(#h7)"/><path d="M0 8.5h945" stroke="#d9b2ff" stroke-dasharray="0 668 2 62 1 45 1 4 1 8 1 15 1 12 1 16 1 8 1 29 1 5 1 10 1 19 1 10 1 7 1 3011"/><path d="M0 9.5h945" stroke="#d9b2ff" stroke-dasharray="0 396 1 65 1 11 1 6 1 22 1 24 1 11 1 10 1 33 1 33 1 13 1 6 1 21 1 24 1 2 1 29 1 3 1 1 2 10 1 1 1 11 1 3 1 2 1 1 1 3 1 5 1 1 3 7 1 2 6 1 1 6 2 2 1 7 1 3 1 2 1 20 2 1 1 17 1 2 1 17 1 25 1 21 1 3013"/><path d="M0 9.5h945" stroke="url(#h8)" stroke-dasharray="0 547 1 56 1 44 1 69 1 45 1 7 1 3 1 1 1 2 1 2 1 7 1 2 1 1 1 1 1 2 1 3 3 2 1 2 2 1 2 1 1 1 1 1 4 2 1 1 1 2 2 1 2 2 1 1 2 1 14 1 2 1 5 1 11 1 1 1 13 1 9 1 21 1 13 3000"/><path d="M0 10.5h945" stroke="#d9b2ff" stroke-dasharray="0 89 1 159 1 12 1 4 1 61 1 6 1 8 1 27 1 5 1 1 2 3 1 3 1 7 2 7 1 5 1 10 1 3 1 16 1 6 3 9 1 27 1 4 1 2 1 13 1 1 1 7 2 1 1 3 1 5 1 5 1 3 2 3 1 9 1 2 2 6 1 3 1 2 2 6 1 4 1 1 1 1 1 8 1 1 1 13 1 1 1 5 2 6 1 1 1 3 1 3 1 5 1 2 1 2 1 1 1 2 1 4 1 2 3 10 2 1 1 1 1 2 2 1 1 1 1 9 1 7 3 1 2 9 1 5 1 7 1 4 1 16 2 4 1 2 1 22 1 6 1 3 1 7 1 19 1 3105"/><path d="M0 10.5h945" stroke="url(#h9)" stroke-dasharray="0 359 1 141 1 2 1 5 2 17 1 38 1 9 1 13 1 8 2 1 2 5 2 3 1 3 1 2 1 1 1 3 1 4 1 1 2 1 1 2 1 6 3 4 1 4 1 2 1 3 1 2 1 4 3 2 1 2 2 6 2 2 1 3 1 3 1 1 1 3 1 2 3 4 1 3 7 2 2 1 2 2 2 1 1 1 1 2 2 4 7 1 6 2 4 1 2 1 4 1 9 1 7 1 6 1 3 1 7 1 19 1 105 3000"/><path d="M0 11.5h945" stroke="#d9b2ff" stroke-dasharray="0 19 2 31 1 2 1 4 1 6 2 2 1 2 1 4 1 17 1 12 1 23 1 1 1 1 2 1 1 2 1 5 1 5 2 2 1 2 1 4 1 4 2 5 1 3 2 1 2 1 1 5 1 13 1 3 1 3 1 9 1 3 3 18 1 3 1 2 1 5 1 2 1 1 2 3 1 3 4 1 1 2 2 7 1 1 2 2 3 5 1 9 1 6 2 14 2 5 1 1 2 2 2 3 1 5 1 1 1 1 1 5 1 4 1 2 1 5 1 2 1 1 1 2 1 5 1 9 2 3 2 2 1 1 1 5 1 10 2 5 1 2 1 12 1 1 1 2 1 2 2 2 2 7 1 3 1 2 1 1 1 3 1 4 1 3 2 9 2 17 1 10 2 2 1 1 1 4 1 15 2 12 1 6 1 2 1 3 1 12 1 2 1 11 1 32 1 3277"/><path d="M0 11.5h945" stroke="url(#h10)" stroke-dasharray="0 13 1 67 1 8 1 13 1 12 1 10 1 17 1 1 1 3 2 4 1 43 3 12 1 3 1 5 1 8 2 3 1 7 1 8 1 3 2 10 1 2 1 6 1 13 1 2 1 7 1 3 1 4 2 2 2 7 3 1 2 3 1 1 2 2 5 4 2 2 1 1 1 1 1 1 1 1 1 1 1 1 1 3 3 1 1 1 1 2 2 3 1 3 2 1 1 1 2 1 3 4 3 1 2 5 1 4 1 1 1 1 1 1 1 1 1 1 1 1 8 2 4 3 1 1 2 1 5 1 1 1 1 3 2 1 1 3 2 2 1 1 5 1 3 1 2 1 1 1 3 1 3 2 3 2 2 1 4 1 1 2 3 1 2 1 1 1 4 1 3 1 8 1 1 2 2 1 1 1 4 1 6 1 8 2 5 1 6 1 6 1 2 1 3 1 12 1 1 2 11 1 7 1 24 1 277 3000"/><path d="M0 12.5h945" stroke="#d9b2ff" stroke-dasharray="0 4 1 2 1 7 1 7 1 2 2 1 2 7 1 3 1 2 1 5 1 3 1 3 1 6 1 4 1 6 1 8 1 1 1 2 1 2 1 1 1 1 2 15 2 3 1 5 1 2 1 1 1 2 1 16 2 1 1 18 1 4 1 67 1 51 1 3645"/><path d="M0 12.5h945" stroke="url(#h11)" stroke-dasharray="1 1 2 2 1 1 1 1 1 1 3 2 1 1 1 2 1 1 2 2 1 2 2 2 3 2 2 1 1 2 5 1 3 1 2 3 5 1 4 1 1 1 4 1 6 1 1 1 1 1 2 1 2 1 1 1 1 2 5 1 4 2 3 2 3 1 5 1 2 1 1 1 2 1 2 1 13 2 1 1 18 1 4 1 20 1 46 1 51 1 645 3000"/><path d="M0 13.5h945" stroke="url(#h12)"/><path d="M0 14.5h945" stroke="url(#h13)"/><path d="M0 15.5h945" stroke="url(#h14)"/><path d="M0 17.5h945" stroke="#d9b2ff" stroke-dasharray="0 593 1 28 1 43 1 39 1 11 1 25 1 3200"/><path d="M0 18.5h945" stroke="#d9b2ff" stroke-dasharray="0 4 1 8 1 2 1 1 1 32 1 9 1 4 1 32 1 1 1 1 1 2 1 7 1 7 3 3 2 9 2 15 1 13 1 4 1 3 1 3 1 17 1 12 1 1 1 9 2 6 2 17 1 16 1 3 1 33 1 7 1 4 1 12 1 3 1 1 1 7 1 4 1 2 2 12 1 4 1 3 1 2 1 16 1 2 1 7 2 11 2 7 1 5 1 5 2 5 2 14 1 4 2 19 1 1 3 6 6 3 1 7 2 2 1 10 1 1 2 1 1 2 1 5 1 6 2 1 1 5 1 12 1 19 1 1 1 1 1 9 1 2 1 6 2 4 1 1 1 1 1 2 1 9 1 3 1 1 2 4 1 6 1 1 1 2 1 2 2 10 2 4 1 1 1 10 1 2 1 8 1 4 1 3 1 1 1 1 2 3 1 5 1 1 1 4 1 1 1 3 2 8 1 3 1 3 1 5 1 1 1 7 1 3 2 2 1 2 1 8 1 1 1 2 1 8 1 7 1 1 3 9 1 5 1 1 1 3 1 1 1 16 1 6 1 14 2 1 1 2 1 17 1 3 1 3020"/><path d="M0 18.5h945" stroke="url(#h15)" stroke-dasharray="0 29 1 83 1 75 1 13 1 5 1 80 1 7 1 28 1 15 1 5 1 18 1 19 1 5 1 13 1 25 1 18 1 5 1 1 1 7 1 13 1 26 1 4 1 1 2 7 1 1 1 23 1 11 1 3 1 2 1 1 2 14 1 15 1 8 1 2 1 3 1 8 1 3 1 2 2 1 2 15 1 1 1 2 3 3 1 8 1 2 1 2 1 3 1 6 1 10 2 7 1 3 2 8 1 2 2 4 1 3 1 3 2 1 1 1 1 1 1 3 2 2 2 2 3 1 3 3 1 1 1 1 1 2 1 1 2 1 1 1 3 2 2 1 2 1 1 1 5 2 1 1 2 1 2 1 1 1 1 1 1 1 2 1 3 2 1 3 4 1 4 1 2 1 2 1 1 1 2 2 1 2 7 2 6 1 6 1 12 1 1 2 1 1 2 1 4 1 12 1 3 1 13 1 6 3000"/><path d="M0 19.5h945" stroke="url(#h16)"/><path d="M0 20.5h945" stroke="url(#h17)"/><path d="M0 21.5h945" stroke="url(#h18)"/><path d="M0 22.5h945" stroke="url(#h19)"/><path d="M0 23.5h945" stroke="url(#h20)"/><path d="M0 26.5h945" stroke="#d9b2ff" stroke-dasharray="0 68 1 89 1 69 1 36 1 10 1 7 1 75 1 20 1 47 1 22 1 17 1 4 1 5 1 10 1 4 1 9 1 24 1 51 1 8 1 24 1 20 2 50 1 25 1 44 1 40 1 25 1 9 1 2 1 41 1 3 1 17 1 3038"/><path d="M0 26.5h945" stroke="#bd7aff" stroke-dasharray="0 274 1 3670"/><path d="M0 27.5h945" stroke="#d9b2ff" stroke-dasharray="1 2 1 1 2 1 1 2 1 3 1 6 1 1 3 5 1 1 2 5 1 2 2 2 1 10 1 2 1 5 1 1 1 2 1 1 1 7 1 4 1 1 1 1 1 2 3 2 1 3 1 2 3 3 1 4 1 1 1 1 1 1 1 4 1 1 1 7 1 4 2 3 1 3 1 5 1 1 1 1 1 6 1 2 3 8 1 4 1 8 1 1 1 1 1 1 1 1 2 2 1 1 1 2 1 3 1 1 1 2 1 6 1 1 1 1 1 12 1 5 1 4 1 4 1 9 2 1 1 9 1 7 1 10 1 3 1 4 2 4 1 6 2 5 1 7 1 2 4 8 1 1 1 7 3 1 1 2 1 3 1 1 1 4 1 4 2 5 1 3 1 8 1 13 1 1 1 3 1 3 2 1 2 15 1 5 1 1 1 1 1 7 1 19 1 1 3 1 1 2 3 2 1 13 1 4 1 6 1 6 1 1 1 3 1 8 1 12 1 10 1 25 1 1 1 17 1 2 1 1 1 20 1 3 1 5 1 2 1 12 1 7 1 6 1 1 1 12 1 3 2 5 1 21 2 5 1 2 1 25 1 3 2 4 1 25 1 23 1 3 2 6 1 20 1 2 1 12 1 2 1 10 1 5 1 1 1 2 1 2 1 6 2 2 1 11 1 3008"/><path d="M0 27.5h945" stroke="url(#h21)" stroke-dasharray="0 9 1 2 1 1 1 1 1 1 2 30 1 3 2 15 1 6 2 1 2 2 2 7 1 6 2 2 1 5 1 4 2 1 1 1 1 1 1 3 1 2 1 2 3 4 2 4 1 1 1 1 1 5 1 3 1 3 1 2 2 3 1 3 2 4 1 3 1 1 1 1 1 2 3 3 1 5 1 8 1 1 3 3 2 2 1 2 1 7 1 2 1 1 4 7 1 1 3 2 1 1 2 3 5 4 1 1 9 1 4 1 2 1 1 4 4 3 2 1 4 2 4 1 1 1 4 4 2 3 5 2 2 4 1 1 1 1 4 3 4 2 1 3 1 1 2 1 3 1 1 2 3 1 4 3 2 1 1 1 3 1 1 1 1 2 3 1 6 1 6 1 1 1 3 1 3 2 1 2 2 1 6 4 1 2 2 2 1 3 1 1 6 2 7 1 2 1 2 1 1 1 3 7 2 3 2 1 8 2 3 1 2 1 1 1 1 1 4 1 4 1 1 1 1 1 3 1 1 1 3 1 2 1 4 2 3 1 2 1 3 1 2 1 1 1 1 1 6 1 5 1 3 1 2 1 5 3 10 2 2 1 2 1 1 2 1 1 4 1 10 1 1 1 2 1 2 2 5 1 2 1 12 1 7 1 6 1 1 1 5 1 3 1 2 1 3 2 5 1 1 1 1 2 16 2 2 1 2 1 1 2 25 1 3 2 1 1 1 3 2 2 20 1 23 2 1 4 5 1 20 1 2 1 5 1 6 1 2 1 10 1 5 1 1 1 2 1 2 1 6 2 2 1 3 1 7 1 7 3001"/><path d="M0 28.5h945" stroke="url(#h22)"/><path d="M0 29.5h945" stroke="url(#h23)"/><path d="M0 30.5h945" stroke="url(#h24)"/><path d="M0 31.5h945" stroke="url(#h25)"/><path d="M0 34.5h945" stroke="#d9b2ff" stroke-dasharray="0 623 1 154 1 62 1 22 1 4 1 38 1 3036"/><path d="M0 35.5h945" stroke="#d9b2ff" stroke-dasharray="0 93 1 93 1 52 1 110 1 91 1 121 1 160 1 25 1 15 1 18 1 20 1 20 2 15 1 10 1 18 2 6 1 29 1 6 1 3023"/><path d="M0 35.5h945" stroke="#bd7aff" stroke-dasharray="0 608 1 154 1 39 1 27 1 7 1 3105"/><path d="M0 36.5h945" stroke="#d9b2ff" stroke-dasharray="0 12 1 9 1 23 1 127 1 43 1 6 1 20 1 43 1 18 1 8 1 26 1 6 1 12 1 13 1 61 1 21 1 5 1 29 1 1 1 29 1 4 1 1 1 11 1 4 1 2 1 19 1 13 1 3 1 10 1 6 1 22 2 6 1 8 1 7 1 1 2 18 2 7 1 1 1 17 1 4 2 3 1 2 1 4 1 25 1 15 3 7 1 5 1 1 1 4 1 1 1 4 1 1 1 2 1 1 1 17 2 2 1 1 2 2 1 3 1 1 2 1 2 25 1 8 1 6 1 18 1 3035"/><path d="M0 36.5h945" stroke="url(#h26)" stroke-dasharray="0 185 1 100 1 184 1 52 1 16 1 47 1 8 1 56 1 11 1 12 1 20 1 32 1 1 2 4 1 1 1 4 2 2 1 1 2 5 1 1 1 1 4 6 2 3 2 3 1 1 1 1 1 1 1 2 1 3 1 2 1 3 1 4 1 1 2 2 6 2 2 3 2 1 1 5 3 1 1 5 8 1 4 1 10 2 8 1 1 1 4 1 18 1 35 3000"/><path d="M0 37.5h945" stroke="#d9b2ff" stroke-dasharray="0 1 1 11 1 26 1 1 1 4 1 13 1 4 1 10 1 7 1 14 1 22 1 28 1 10 1 42 1 5 1 1 1 45 1 11 1 12 2 10 1 4 1 28 1 4 1 9 1 1 1 3 1 6 2 4 1 5 2 13 1 8 1 9 1 4 1 13 1 9 2 11 2 7 1 7 1 7 1 11 1 2 1 4 1 1 1 7 1 6 1 5 1 4 2 4 1 1 1 14 1 8 2 3 2 2 2 4 1 8 2 4 1 12 1 6 1 4 1 2 1 6 1 1 1 2 2 12 1 3 1 4 2 7 2 1 2 3 3 7 1 4 1 5 1 1 1 3 2 8 1 3 2 4 1 4 1 6 3 2 4 16 1 3 1 3 1 10 1 11 2 1 2 2 1 1 1 3 1 6 2 2 2 32 1 3 1 1 1 4 1 43 1 10 1 32 1 3010"/><path d="M0 37.5h945" stroke="url(#h27)" stroke-dasharray="0 18 1 20 1 54 1 62 1 4 1 89 1 4 1 9 1 12 1 27 1 9 1 158 1 22 1 4 1 32 1 1 2 9 1 33 1 2 1 5 1 4 1 5 1 5 1 1 3 4 1 7 3 4 1 2 1 12 3 2 1 2 2 4 2 2 3 1 1 4 2 1 2 4 2 2 5 1 1 4 1 4 2 1 1 5 1 1 3 4 1 4 2 5 3 2 4 1 1 1 1 1 2 2 4 2 4 1 11 2 1 2 2 1 1 1 3 1 3 1 2 2 2 2 11 1 1 2 2 1 14 1 1 1 1 1 1 1 4 1 10 1 22 1 9 1 10 1 32 1 10 3000"/><path d="M0 38.5h945" stroke="#d9b2ff" stroke-dasharray="1 6 2 2 2 4 2 2 1 1 2 1 2 12 1 1 1 4 1 1 1 2 1 8 1 3 1 4 1 8 2 5 1 2 1 2 1 1 1 1 1 1 1 3 1 2 1 5 1 1 1 6 2 6 1 2 2 1 1 1 1 9 1 4 4 1 1 1 1 1 1 6 1 5 1 6 1 7 1 3 3 4 1 2 1 5 1 5 2 19 1 3 2 2 1 1 1 14 1 4 1 1 1 3 1 1 2 10 1 21 1 1 2 5 1 2 2 11 1 5 2 2 1 5 1 5 1 8 1 4 1 1 1 4 1 8 2 2 1 4 1 4 1 15 1 2 1 13 1 13 1 1 1 8 2 2 1 3 1 4 1 1 1 1 1 11 1 6 1 11 1 1 1 3 2 3 1 6 1 2 1 3 1 6 1 5 1 1 1 2 1 3 1 3 1 13 1 53 1 27 1 22 1 3 1 7 1 21 1 5 1 3230"/><path d="M0 38.5h945" stroke="url(#h28)" stroke-dasharray="0 1 2 3 1 3 1 3 3 2 1 2 1 5 3 1 4 1 1 3 1 1 4 1 1 1 2 2 2 3 2 1 2 2 4 1 5 1 2 4 2 2 2 1 2 1 1 1 1 1 1 1 3 1 2 2 1 1 1 4 1 1 2 4 2 1 1 1 1 1 2 2 1 1 1 1 3 1 5 1 4 6 1 1 1 2 3 1 1 1 5 2 5 2 1 1 4 1 3 4 2 5 4 2 4 5 4 1 3 1 3 6 1 1 1 3 1 4 6 1 1 1 4 2 2 2 1 1 1 1 1 1 1 3 1 2 4 1 1 4 2 1 2 1 12 1 1 2 5 2 1 4 2 1 1 1 3 2 3 1 1 2 2 1 5 4 2 2 1 1 1 1 1 1 1 1 4 1 1 1 3 2 1 1 1 1 3 3 2 1 4 1 1 1 1 4 2 1 3 1 6 1 1 2 5 2 2 1 3 1 11 1 1 3 6 1 1 2 2 2 2 1 2 1 1 1 1 1 1 1 3 1 6 2 1 2 3 1 8 2 1 1 1 1 3 2 3 1 6 1 2 1 1 3 6 1 1 1 1 1 1 1 1 1 2 1 3 1 3 1 13 1 1 1 16 1 33 2 3 1 4 2 17 1 22 1 3 1 7 1 21 1 5 1 230 3000"/><path d="M0 39.5h945" stroke="#d9b2ff" stroke-dasharray="0 650 1 15 1 84 1 9 2 3 1 13 1 2 1 1 1 5 1 1 1 6 1 1 1 1 1 22 1 5 1 4 2 2 2 6 2 8 1 6 1 8 1 1 2 5 3 8 1 2 1 8 1 4 1 6 1 3 1 4 1 4 2 3009"/><path d="M0 39.5h945" stroke="url(#h29)" stroke-dasharray="639 1 10 1 15 1 51 1 7 1 14 1 9 1 5 1 3 2 3 1 13 1 2 1 1 1 5 1 1 2 1 1 3 1 1 1 1 1 2 1 3 1 6 3 4 3 1 2 2 2 1 1 1 2 2 3 3 1 1 2 8 1 6 5 1 1 2 5 2 5 3 3 2 1 2 1 1 1 2 2 1 4 1 2 1 1 1 4 3 2 1 1 1 4 1 5 2 3 1 3000"/><path d="M0 41.5h945" stroke="#d9b2ff" stroke-dasharray="0 666 1 100 1 33 1 38 1 30 1 3073"/><path d="M0 42.5h945" stroke="#d9b2ff" stroke-dasharray="0 663 1 40 1 152 1 19 1 3067"/><path d="M0 42.5h945" stroke="#bd7aff" stroke-dasharray="0 939 1 3005"/><path d="M0 43.5h945" stroke="#d9b2ff" stroke-dasharray="0 303 1 299 1 100 1 35 1 24 1 9 1 7 1 1 1 19 1 45 1 5 1 10 1 44 1 3031"/><path d="M0 43.5h945" stroke="#bd7aff" stroke-dasharray="0 804 1 3140"/><path d="M0 44.5h945" stroke="#d9b2ff" stroke-dasharray="0 5 1 17 1 124 1 124 1 10 1 72 1 23 1 20 1 9 1 4 1 11 1 32 1 12 1 10 1 59 1 8 1 17 1 36 1 16 1 5 1 10 1 20 1 9 1 5 2 14 1 24 1 22 1 13 1 4 1 6 1 11 1 39 1 5 1 47 1 2 1 1 1 15 2 5 1 20 1 8 1 6 1 3002"/><path d="M0 44.5h945" stroke="#bd7aff" stroke-dasharray="0 373 1 210 1 29 1 93 1 102 1 7 1 66 1 26 1 3031"/><path d="M0 45.5h945" stroke="#d9b2ff" stroke-dasharray="0 70 1 35 1 57 1 29 1 26 1 37 1 84 1 10 1 26 1 19 1 30 1 17 1 17 1 1 1 6 1 20 1 28 1 18 1 8 1 10 2 54 1 24 1 8 1 2 1 8 1 3 1 6 1 6 1 2 1 9 1 5 1 10 1 1 1 5 1 27 1 10 1 10 1 2 1 3 1 2 1 7 1 8 1 2 1 3 1 4 1 2 1 5 1 10 1 1 1 14 1 5 1 10 1 9 1 1 1 3 1 6 1 1 1 3 1 2 1 11 1 1 1 1 1 11 1 3 2 10 1 3000"/><path d="M0 45.5h945" stroke="#bd7aff" stroke-dasharray="0 368 1 142 1 134 1 66 1 35 1 50 1 28 1 20 1 2 1 65 1 2 1 1 1 3020"/><path d="M0 46.5h945" stroke="#d9b2ff" stroke-dasharray="0 7 1 14 1 12 1 8 1 33 1 3 1 9 1 7 1 5 1 9 1 4 1 46 2 7 1 9 1 2 1 6 1 7 1 43 1 5 2 6 1 1 1 4 1 2 1 1 1 2 1 8 1 13 2 7 1 1 1 1 1 2 1 15 1 10 1 21 1 3 1 3 1 2 1 3 1 4 1 11 1 7 1 9 1 2 1 1 1 2 1 14 1 4 1 3 1 5 1 7 1 2 1 2 1 8 2 1 1 19 1 12 1 22 1 4 1 14 1 2 1 22 1 1 2 1 1 7 1 3 1 5 1 4 2 1 1 2 1 2 1 5 1 4 1 11 1 3 1 1 2 8 1 3 1 2 1 1 1 4 1 3 1 16 1 7 1 1 3 2 1 2 1 3 1 1 1 2 1 9 1 1 1 1 1 1 1 4 1 8 1 1 1 1 2 3 2 1 1 1 2 1 1 4 1 1 3 7 1 9 1 3 1 7 1 2 1 10 1 3 3 5 2 1 1 6 1 2 1 13 1 29 1 22 1 13 1 11 1 3006"/><path d="M0 46.5h945" stroke="url(#h30)" stroke-dasharray="0 129 1 71 1 78 1 15 1 1 1 16 1 11 1 80 1 51 1 3 1 17 1 44 1 32 1 12 1 1 1 3 1 3 1 7 2 15 1 18 1 10 2 5 1 5 1 19 1 2 1 3 1 8 1 1 1 1 1 2 4 1 1 9 1 2 3 1 1 1 2 4 1 3 1 6 1 1 1 2 1 1 2 3 3 1 1 1 1 4 1 2 1 4 1 1 1 1 1 2 1 4 1 4 1 1 1 2 1 1 3 2 3 1 4 1 2 1 2 1 3 1 4 1 1 1 3 3 1 2 2 4 5 2 2 2 5 1 6 1 3 1 12 1 1 1 4 2 4 1 10 1 7 1 3 1 7 1 5 1 6 1 4 1 6 3000"/><path d="M0 47.5h945" stroke="#d9b2ff" stroke-dasharray="0 505 1 237 1 2 1 58 1 12 1 11 1 4 1 11 2 16 1 5 1 12 1 1 1 14 1 4 1 2 1 2 1 1 1 12 1 1 1 4 1 3 1 5 1 3000"/><path d="M0 47.5h945" stroke="url(#h31)" stroke-dasharray="505 1 214 1 22 1 2 1 37 1 1 1 9 1 8 1 12 1 4 1 6 1 4 1 11 3 15 1 5 1 12 1 1 1 11 1 2 1 1 1 1 2 2 1 1 2 1 1 4 1 7 1 1 1 4 1 1 1 1 1 1 2 1 3002"/><path d="M0 49.5h945" stroke="#d9b2ff" stroke-dasharray="0 936 1 3008"/><path d="M0 50.5h945" stroke="#d9b2ff" stroke-dasharray="0 276 1 42 1 87 1 3 1 302 1 1 1 53 1 6 1 10 1 9 1 8 1 25 1 32 1 33 1 4 1 3039"/><path d="M0 50.5h945" stroke="#bd7aff" stroke-dasharray="0 297 1 437 1 153 1 16 1 3038"/><path d="M0 51.5h945" stroke="#d9b2ff" stroke-dasharray="0 22 1 33 1 1 1 114 1 63 1 26 1 10 1 9 1 8 1 9 1 3 1 2 1 2 1 4 2 4 1 28 1 17 1 36 1 2 1 19 1 10 1 27 2 38 1 5 1 1 1 11 1 12 2 2 1 12 1 11 1 3 2 29 1 5 1 4 1 1 1 23 1 4 1 1 2 1 3 12 2 6 1 4 1 1 2 3 1 5 2 19 1 11 2 1 2 4 1 4 1 3 2 1 1 2 1 9 2 6 2 4 1 4 1 1 1 5 1 1 1 6 1 12 1 2 2 5 1 6 1 3 2 1 1 1 1 1 2 2 2 3 3 3 2 2 1 3 1 9 1 5 1 11 1 12 2 1 1 1 1 3 1 1 2 7 1 9 3 1 1 1 1 1 2 3001"/><path d="M0 51.5h945" stroke="url(#h32)" stroke-dasharray="0 91 1 349 1 31 1 22 1 32 1 55 1 23 1 22 1 6 1 2 1 6 1 31 1 5 1 10 1 1 2 6 1 2 1 25 1 18 1 10 1 7 1 11 2 5 1 23 1 2 1 6 1 1 3 9 2 3 1 13 1 5 4 5 1 5 1 7 1 2 1 2 1 1 1 1 1 1 1 7 3 4 1 13 1 1 1 5 1 3005"/><path d="M0 52.5h945" stroke="#d9b2ff" stroke-dasharray="0 3 1 2 1 13 1 2 1 14 1 7 1 4 1 1 1 2 1 13 1 6 1 6 1 5 2 5 1 17 1 31 1 6 1 8 1 29 1 9 1 1 1 46 1 5 1 7 1 3 3 8 1 2 1 2 1 3 1 1 1 2 1 1 1 7 1 9 1 1 1 9 1 2 1 3 1 1 2 8 1 1 1 1 1 3 2 7 2 6 1 4 1 3 1 16 1 1 1 1 1 7 3 4 2 6 1 1 1 3 1 2 1 1 1 2 2 6 1 2 1 4 1 3 2 1 2 1 2 2 1 6 1 2 1 4 1 11 1 2 1 1 1 3 1 1 1 4 3 3 2 9 1 7 1 3 1 6 1 6 1 2 1 1 1 1 2 2 2 3 1 4 1 6 1 1 1 7 1 5 1 2 1 7 1 3 1 6 1 6 1 3 1 7 1 2 1 3 1 1 1 3 1 10 2 2 1 14 2 1 1 26 2 1 1 2 2 9 1 6 1 6 2 1 1 16 2 11 1 19 1 12 1 2 1 1 1 9 1 14 1 17 1 8 2 5 2 5 1 18 2 4 1 27 1 3010"/><path d="M0 52.5h945" stroke="url(#h33)" stroke-dasharray="0 4 1 7 1 167 1 8 2 1 1 3 2 43 1 15 1 1 1 13 1 1 1 2 1 6 1 35 1 5 1 16 1 18 1 5 1 8 1 3 2 3 1 2 4 2 2 15 1 6 2 4 1 1 3 6 2 2 1 1 1 9 1 2 3 13 1 8 1 1 1 1 3 1 2 4 1 6 1 7 1 4 2 4 2 1 1 1 3 1 4 1 1 2 3 1 5 2 3 1 1 2 2 1 1 1 1 2 2 2 1 4 1 1 1 3 4 1 1 1 2 1 2 4 4 1 1 2 2 1 4 1 1 3 1 2 3 2 5 1 2 2 2 1 3 2 2 1 3 1 1 3 1 1 2 1 7 2 2 1 2 1 3 1 7 2 1 1 6 1 7 1 4 1 6 2 1 1 2 2 9 1 1 1 3 2 6 2 1 1 16 2 4 1 6 1 6 1 12 1 8 1 3 1 2 1 1 1 8 2 14 1 17 1 8 2 5 2 5 1 18 2 4 1 27 1 10 3000"/><path d="M0 53.5h945" stroke="#d9b2ff" stroke-dasharray="0 2 1 5 1 1 1 2 1 4 2 1 1 2 1 5 1 5 1 9 1 2 1 4 1 3 1 1 1 1 1 7 1 3 1 3 2 2 1 3 1 2 1 3 2 2 2 4 1 25 5 6 1 4 1 10 1 7 1 1 1 1 1 3 1 13 1 2 1 1 1 4 1 5 1 3 1 6 1 11 1 12 1 2 2 16 1 2 1 8 1 4 1 12 1 6 1 1 1 3 1 2 1 1 1 9 3 9 1 6 1 12 1 3 2 10 1 8 1 2 2 3 1 4 1 12 1 3 1 12 2 11 1 2 1 13 1 7 1 5 1 29 1 1 1 22 1 3 1 4 1 48 2 1 1 3367"/><path d="M0 53.5h945" stroke="url(#h34)" stroke-dasharray="1 2 1 2 1 5 1 1 2 1 1 4 2 1 1 1 2 2 5 1 3 1 5 1 1 5 1 1 2 2 1 1 1 1 4 1 2 1 2 2 2 3 1 2 3 1 2 2 1 3 2 3 1 1 1 2 1 1 2 1 19 5 1 4 1 1 4 2 4 3 2 1 6 2 1 1 1 1 1 3 2 1 2 1 2 3 2 1 1 6 2 1 1 1 1 1 1 1 1 1 1 1 1 1 2 1 1 1 7 1 1 1 1 1 2 1 4 1 4 1 2 2 5 1 1 1 8 1 2 1 8 1 1 1 2 1 1 2 1 1 3 1 2 2 5 2 1 1 1 1 1 1 1 2 1 1 1 1 4 1 1 4 2 1 5 2 2 1 3 1 1 2 6 1 2 1 3 2 1 1 8 1 8 1 2 3 2 1 4 1 6 1 5 1 3 1 3 1 8 2 1 1 9 1 2 1 4 1 5 1 2 1 7 1 5 1 8 1 4 1 14 2 1 1 22 1 2 2 4 1 9 1 2 1 35 2 1 1 74 1 292 3000"/><path d="M0 54.5h945" stroke="#d9b2ff" stroke-dasharray="0 23 1 3921"/><path d="M0 54.5h945" stroke="url(#h35)" stroke-dasharray="23 1 109 1 811 3000"/><path d="M0 55.5h945" stroke="url(#h36)"/><path d="M0 57.5h945" stroke="#d9b2ff" stroke-dasharray="0 130 1 8 1 364 1 48 1 95 1 80 1 10 1 9 1 11 1 66 1 70 1 24 1 3018"/><path d="M0 57.5h945" stroke="#bd7aff" stroke-dasharray="0 811 1 3133"/><path d="M0 58.5h945" stroke="#d9b2ff" stroke-dasharray="0 24 1 7 1 26 1 12 1 11 2 15 1 2 1 11 1 1 1 5 1 1 1 17 1 38 1 3 1 5 1 17 1 4 1 16 2 1 1 36 1 4 2 7 1 10 2 8 1 19 2 21 1 3 1 5 1 15 1 11 1 27 1 1 1 2 1 7 1 4 1 10 1 6 1 5 1 9 1 1 1 2 1 14 1 11 1 3 1 1 1 7 1 6 2 21 1 1 1 4 1 7 2 7 1 2 1 3 1 2 1 8 2 1 1 2 1 2 1 1 1 10 1 3 1 17 2 3 1 1 2 1 1 24 2 4 1 6 1 5 2 4 1 2 1 5 1 7 1 20 1 7 2 3 1 8 1 7 1 6 1 10 1 1 3 3 1 3 1 4 1 4 1 7 1 6 1 5 1 3 1 2 1 2 1 1 1 8 1 2 1 1 1 6 2 4 1 3 1 4 1 7 1 5 2 6 1 5 1 2 1 3 4 1 1 1 2 9 1 1 1 1 2 1 2 1 1 1 1 4 1 2 1 1 1 3000"/><path d="M0 58.5h945" stroke="url(#h37)" stroke-dasharray="0 28 1 198 1 2 1 8 1 30 2 10 1 38 2 11 1 76 1 27 1 7 1 28 1 4 1 8 1 8 1 20 1 30 1 15 1 14 1 3 1 9 1 3 1 14 1 2 1 10 2 24 1 13 1 4 1 2 1 3 1 18 1 13 1 1 1 14 1 19 1 1 2 19 1 4 1 7 1 6 1 3 1 10 1 4 1 1 1 6 1 2 2 8 2 3 1 4 1 12 1 1 1 1 1 1 1 12 1 2 1 4 2 2 1 3 1 1 1 4 2 10 2 13 1 8 1 5 1 3001"/><path d="M0 59.5h945" stroke="#d9b2ff" stroke-dasharray="0 1 1 9 1 4 1 3 2 2 1 4 1 2 1 2 1 6 1 1 1 4 2 1 1 1 1 3 1 1 2 4 1 4 1 2 1 3 1 2 1 3 1 5 1 5 1 3 2 6 1 4 1 3 1 1 1 3 1 1 1 8 1 3 1 1 1 2 2 8 1 2 1 3 3 8 1 2 1 1 2 1 1 7 2 2 1 1 2 3 1 1 1 2 1 3 4 1 1 2 1 3 1 4 2 2 1 9 1 3 2 4 2 7 1 1 1 3 1 3 1 5 1 1 2 1 3 1 1 6 1 6 1 2 1 4 1 3 1 5 1 10 1 4 2 3 1 1 1 6 1 2 2 5 1 1 2 7 1 5 1 9 1 2 1 4 1 7 2 1 1 2 1 3 1 7 1 3 2 4 1 1 1 15 2 5 1 3 1 6 2 5 1 1 1 7 1 6 1 5 1 1 1 3 1 4 1 9 2 4 1 2 1 3 1 3 1 3 1 1 1 4 1 10 1 5 1 11 1 9 1 1 1 1 1 12 1 36 1 3 1 8 1 16 1 2 1 190 1 3086"/><path d="M0 59.5h945" stroke="url(#h38)" stroke-dasharray="0 3 2 3 1 4 1 5 1 3 1 1 1 4 1 8 3 3 1 1 2 6 1 1 1 1 1 2 1 1 1 2 1 8 2 2 1 1 3 8 1 1 2 1 3 4 2 1 1 4 1 2 2 4 1 4 1 3 1 1 2 2 1 2 1 1 2 5 1 8 1 1 1 4 2 2 1 1 1 1 2 9 4 5 1 2 2 5 1 1 3 4 1 1 1 2 2 2 1 1 1 3 2 2 3 1 1 4 1 1 1 2 1 1 2 3 6 5 1 2 2 1 5 4 1 3 1 1 1 1 1 1 2 2 3 3 2 1 4 1 1 1 1 1 1 1 2 2 2 1 1 2 2 3 4 2 3 1 1 1 2 1 2 2 2 2 4 5 2 2 2 3 2 1 1 1 6 1 2 2 1 1 2 3 7 2 1 1 2 1 3 1 7 1 3 3 3 1 1 1 1 1 1 1 2 1 8 2 1 1 2 2 2 2 6 3 4 1 1 1 7 1 6 1 5 1 1 1 3 1 3 3 5 1 2 4 2 1 2 1 3 1 3 1 3 1 1 1 1 2 1 1 1 1 8 1 5 1 7 2 2 1 9 1 1 1 1 1 12 1 7 1 4 1 19 1 3 1 3 1 4 1 3 1 12 1 3 1 2 1 26 1 163 1 86 3000"/><path d="M0 60.5h945" stroke="url(#h39)" stroke-dasharray="13 1 3 1 15 1 911 3000"/><path d="M0 61.5h945" stroke="url(#h40)"/><path d="M0 62.5h945" stroke="url(#h41)"/><path d="M0 63.5h945" stroke="url(#h42)"/></g></g><g clip-path="url(#nz1)"><g transform="translate(240.2 192.6) scale(0.89291 9.06875)" fill="none" shape-rendering="crispEdges"><path d="M2.5 0v64M3.5 0v64M20.5 0v64M28.5 0v64M29.5 0v64M47.5 0v64M48.5 0v64M49.5 0v64M53.5 0v64M55.5 0v64M56.5 0v64M57.5 0v64M58.5 0v64M63.5 0v64M67.5 0v64M71.5 0v64M79.5 0v64M90.5 0v64M108.5 0v64M110.5 0v64M111.5 0v64M119.5 0v64M121.5 0v64M122.5 0v64M128.5 0v64M135.5 0v64M138.5 0v64M139.5 0v64M155.5 0v64M156.5 0v64M158.5 0v64M161.5 0v64M170.5 0v64M172.5 0v64M178.5 0v64M185.5 0v64M213.5 0v64M222.5 0v64M223.5 0v64M226.5 0v64M227.5 0v64M228.5 0v64M237.5 0v64M240.5 0v64M241.5 0v64M243.5 0v64M253.5 0v64M255.5 0v64M259.5 0v64M291.5 0v64M293.5 0v64M300.5 0v64M301.5 0v64M302.5 0v64M305.5 0v64M306.5 0v64M321.5 0v64M322.5 0v64M337.5 0v64M340.5 0v64M350.5 0v64M356.5 0v64M359.5 0v64M361.5 0v64M368.5 0v64M378.5 0v64M379.5 0v64M387.5 0v64M390.5 0v64M398.5 0v64M404.5 0v64M406.5 0v64M407.5 0v64M417.5 0v64M422.5 0v64M424.5 0v64M437.5 0v64M440.5 0v64M454.5 0v64M456.5 0v64M457.5 0v64M460.5 0v64M468.5 0v64M471.5 0v64M472.5 0v64M484.5 0v64M489.5 0v64M490.5 0v64M491.5 0v64M498.5 0v64M501.5 0v64M502.5 0v64M503.5 0v64M504.5 0v64M505.5 0v64M506.5 0v64M514.5 0v64M517.5 0v64M522.5 0v64M530.5 0v64M539.5 0v64M540.5 0v64M545.5 0v64M551.5 0v64M552.5 0v64M560.5 0v64M567.5 0v64M568.5 0v64M574.5 0v64M579.5 0v64M584.5 0v64M585.5 0v64M594.5 0v64M607.5 0v64M613.5 0v64M624.5 0v64M626.5 0v64M631.5 0v64M634.5 0v64M637.5 0v64M639.5 0v64M649.5 0v64M658.5 0v64M659.5 0v64M661.5 0v64M667.5 0v64M673.5 0v64M687.5 0v64M692.5 0v64M696.5 0v64M700.5 0v64M706.5 0v64M712.5 0v64M713.5 0v64M717.5 0v64M735.5 0v64M740.5 0v64M741.5 0v64M746.5 0v64M763.5 0v64M767.5 0v64M777.5 0v64M784.5 0v64M795.5 0v64M797.5 0v64M802.5 0v64M803.5 0v64M806.5 0v64M807.5 0v64M809.5 0v64M810.5 0v64M824.5 0v64M827.5 0v64M834.5 0v64M835.5 0v64M836.5 0v64M856.5 0v64M861.5 0v64M867.5 0v64M877.5 0v64M879.5 0v64M880.5 0v64M899.5 0v64M913.5 0v64M923.5 0v64M931.5 0v64M934.5 0v64M940.5 0v64" stroke="#00c" stroke-opacity=".13" stroke-width="1"/><path d="M7 0v64M10 0v64M46 0v64M62 0v64M73 0v64M85 0v64M89 0v64M133 0v64M146 0v64M165 0v64M175 0v64M182 0v64M184 0v64M202 0v64M210 0v64M262 0v64M264 0v64M272 0v64M319 0v64M352 0v64M355 0v64M373 0v64M381 0v64M384 0v64M403 0v64M439 0v64M467 0v64M487 0v64M496 0v64M500 0v64M525 0v64M529 0v64M534 0v64M542 0v64M547 0v64M597 0v64M609 0v64M611 0v64M617 0v64M619 0v64M645 0v64M656 0v64M682 0v64M685 0v64M694 0v64M725 0v64M731 0v64M744 0v64M769 0v64M774 0v64M814 0v64M833 0v64M840 0v64M865 0v64M887 0v64M889 0v64M895 0v64M903 0v64M909 0v64M916 0v64M926 0v64" stroke="#00c" stroke-opacity=".13" stroke-width="2"/><path d="M0.5 0v64M8.5 0v64M13.5 0v64M14.5 0v64M51.5 0v64M75.5 0v64M94.5 0v64M118.5 0v64M129.5 0v64M154.5 0v64M179.5 0v64M186.5 0v64M189.5 0v64M192.5 0v64M197.5 0v64M200.5 0v64M212.5 0v64M229.5 0v64M230.5 0v64M233.5 0v64M234.5 0v64M239.5 0v64M250.5 0v64M252.5 0v64M258.5 0v64M266.5 0v64M279.5 0v64M311.5 0v64M312.5 0v64M320.5 0v64M324.5 0v64M328.5 0v64M332.5 0v64M367.5 0v64M388.5 0v64M448.5 0v64M455.5 0v64M477.5 0v64M507.5 0v64M508.5 0v64M518.5 0v64M523.5 0v64M536.5 0v64M576.5 0v64M583.5 0v64M600.5 0v64M612.5 0v64M638.5 0v64M641.5 0v64M657.5 0v64M663.5 0v64M670.5 0v64M686.5 0v64M688.5 0v64M690.5 0v64M691.5 0v64M704.5 0v64M711.5 0v64M715.5 0v64M720.5 0v64M751.5 0v64M779.5 0v64M780.5 0v64M787.5 0v64M789.5 0v64M796.5 0v64M805.5 0v64M808.5 0v64M811.5 0v64M812.5 0v64M829.5 0v64M838.5 0v64M859.5 0v64M862.5 0v64M873.5 0v64M893.5 0v64M901.5 0v64M904.5 0v64M924.5 0v64M938.5 0v64M943.5 0v64" stroke="#fff" stroke-opacity=".08" stroke-width="1"/><path d="M26 0v64M36 0v64M124 0v64M127 0v64M131 0v64M152 0v64M188 0v64M215 0v64M277 0v64M290 0v64M314 0v64M344 0v64M346 0v64M413 0v64M434 0v64M451 0v64M479 0v64M482 0v64M544 0v64M566 0v64M633 0v64M676 0v64M699 0v64M846 0v64M853 0v64M858 0v64M875 0v64M919 0v64" stroke="#fff" stroke-opacity=".08" stroke-width="2"/></g></g><rect x="1084" y="228.88" width="8.8" height="9.07" fill="#9933ff"/><rect x="1084" y="237.94" width="8.8" height="9.07" fill="#0000ff"/><rect x="1084" y="247.01" width="8.8" height="9.07" fill="#008080"/><rect x="1084" y="256.08" width="8.8" height="9.07" fill="#260dff"/><rect x="1084" y="301.42" width="8.8" height="36.27" fill="#0019e6"/><rect x="1084" y="373.98" width="8.8" height="9.07" fill="#cc99ff"/><rect x="1084" y="392.11" width="8.8" height="9.07" fill="#00ff00"/><rect x="1084" y="401.18" width="8.8" height="9.07" fill="#9933ff"/><rect x="1084" y="464.66" width="8.8" height="9.07" fill="#9933ff"/><rect x="1084" y="473.73" width="8.8" height="9.07" fill="#cc99ff"/><rect x="1084" y="537.21" width="8.8" height="9.07" fill="#cc99ff"/><rect x="1084" y="609.76" width="8.8" height="18.14" fill="#cc99ff"/><rect x="1084" y="691.38" width="8.8" height="9.07" fill="#cc99ff"/><rect x="1084" y="736.73" width="8.8" height="9.07" fill="#9933ff"/><rect x="1084" y="761.21" width="8.8" height="11.79" fill="#4d1aff"/><path d="M240.2 265.15H1092.8" stroke="#000" stroke-width="1.39" stroke-dasharray="1.4 2.3" fill="none"/><path d="M240.2 337.7H1092.8" stroke="#000" stroke-width="1.39" stroke-dasharray="5.1 2.2" fill="none"/><path d="M240.2 410.25H1092.8" stroke="#000" stroke-width="1.39" stroke-dasharray="1.4 2.3" fill="none"/><path d="M240.2 482.8H1092.8" stroke="#000" stroke-width="1.39" stroke-dasharray="5.1 2.2" fill="none"/><path d="M240.2 555.35H1092.8" stroke="#000" stroke-width="1.39" stroke-dasharray="1.4 2.3" fill="none"/><path d="M240.2 627.9H1092.8" stroke="#000" stroke-width="1.39" stroke-dasharray="5.1 2.2" fill="none"/><path d="M240.2 700.45H1092.8" stroke="#000" stroke-width="1.39" stroke-dasharray="1.4 2.3" fill="none"/><path d="M293.49 192V771.7M346.77 192V771.7M400.06 192V771.7M506.64 192V771.7M559.92 192V771.7M613.21 192V771.7M719.79 192V771.7M773.08 192V771.7M826.36 192V771.7M932.94 192V771.7M986.22 192V771.7M1039.51 192V771.7" stroke="#808080" stroke-width="2.08" stroke-dasharray="2.08 3.44" fill="none"/><path d="M453.35 192V771.7M666.5 192V771.7M879.65 192V771.7" stroke="#808080" stroke-width="4.17" stroke-dasharray="4.17 6.87" fill="none"/><g clip-path="url(#cA1)"><path d="M240.2 296.3H1092.8" stroke="#00f0c8" stroke-width="8.33" fill="none" stroke-dasharray="24.3 25.7"/><path d="M240.2 296.3H1092.8" stroke="#000" stroke-width="2.78" fill="none" stroke-dasharray="24.3 25.7"/><path d="M240.2 736.0H1092.8" stroke="#00f0c8" stroke-width="8.33" fill="none" stroke-dasharray="24.3 8.6 8.6 8.6"/><path d="M240.2 736.0H1092.8" stroke="#000" stroke-width="2.78" fill="none" stroke-dasharray="24.3 8.6 8.6 8.6"/><path d="M240.2 700.43L269.6 698.71L299 696.83L328.4 694.78L357.8 692.57L387.2 690.19L416.6 687.64L446 684.93L475.4 682.05L504.8 678.99L534.2 675.77L563.6 672.37L593 668.8L622.4 665.06L651.8 661.14L681.2 657.04L710.6 652.77L740 648.32L769.4 643.69L798.8 638.87L828.2 633.88L857.6 628.7L887 623.34L916.4 617.8L945.8 612.07L975.2 606.15L1004.6 600.04L1034 593.75L1063.4 587.27L1092.8 580.59" stroke="#00f0c8" stroke-width="8.33" fill="none"/><path d="M240.2 700.43L269.6 698.71L299 696.83L328.4 694.78L357.8 692.57L387.2 690.19L416.6 687.64L446 684.93L475.4 682.05L504.8 678.99L534.2 675.77L563.6 672.37L593 668.8L622.4 665.06L651.8 661.14L681.2 657.04L710.6 652.77L740 648.32L769.4 643.69L798.8 638.87L828.2 633.88L857.6 628.7L887 623.34L916.4 617.8L945.8 612.07L975.2 606.15L1004.6 600.04L1034 593.75L1063.4 587.27L1092.8 580.59" stroke="#000" stroke-width="2.78" fill="none"/></g><path d="M293.49 192v5.5M293.49 771.7v-5.5M346.77 192v5.5M346.77 771.7v-5.5M400.06 192v5.5M400.06 771.7v-5.5M453.35 192v9.5M453.35 771.7v-9.5M506.64 192v5.5M506.64 771.7v-5.5M559.92 192v5.5M559.92 771.7v-5.5M613.21 192v5.5M613.21 771.7v-5.5M666.5 192v9.5M666.5 771.7v-9.5M719.79 192v5.5M719.79 771.7v-5.5M773.08 192v5.5M773.08 771.7v-5.5M826.36 192v5.5M826.36 771.7v-5.5M879.65 192v9.5M879.65 771.7v-9.5M932.94 192v5.5M932.94 771.7v-5.5M986.22 192v5.5M986.22 771.7v-5.5M1039.51 192v5.5M1039.51 771.7v-5.5" stroke="#000" stroke-width="2.2" fill="none"/><path d="M240.2 228.23h9.5M240.2 300.69h9.5M240.2 373.16h9.5M240.2 445.62h9.5M240.2 518.08h9.5M240.2 590.54h9.5M240.2 663.01h9.5M240.2 735.47h9.5M240.2 210.12h5.5M240.2 246.35h5.5M240.2 264.46h5.5M240.2 282.58h5.5M240.2 318.81h5.5M240.2 336.93h5.5M240.2 355.04h5.5M240.2 391.27h5.5M240.2 409.39h5.5M240.2 427.5h5.5M240.2 463.73h5.5M240.2 481.85h5.5M240.2 499.97h5.5M240.2 536.2h5.5M240.2 554.31h5.5M240.2 572.43h5.5M240.2 608.66h5.5M240.2 626.78h5.5M240.2 644.89h5.5M240.2 681.12h5.5M240.2 699.24h5.5M240.2 717.35h5.5M240.2 753.58h5.5" stroke="#000" stroke-width="2.2" fill="none"/><path d="M1092.8 228.23h-9.5M1092.8 300.69h-9.5M1092.8 373.16h-9.5M1092.8 445.62h-9.5M1092.8 518.08h-9.5M1092.8 590.54h-9.5M1092.8 663.01h-9.5M1092.8 735.47h-9.5" stroke="#000" stroke-width="2.2" fill="none"/><rect x="240.2" y="192" width="852.6" height="579.7" fill="none" stroke="#000" stroke-width="2.78"/><text x="229.8" y="238.83" font-size="27.78" text-anchor="end">-X/-Z</text><text x="1102.6" y="238.83" font-size="27.78">315</text><text x="229.8" y="311.29" font-size="27.78" text-anchor="end">-X</text><text x="1102.6" y="311.29" font-size="27.78">270</text><text x="229.8" y="383.76" font-size="27.78" text-anchor="end">+Z/-X</text><text x="1102.6" y="383.76" font-size="27.78">225</text><text x="229.8" y="456.22" font-size="27.78" text-anchor="end">+Z</text><text x="1102.6" y="456.22" font-size="27.78">180</text><text x="229.8" y="528.68" font-size="27.78" text-anchor="end">+X/+Z</text><text x="1102.6" y="528.68" font-size="27.78">135</text><text x="229.8" y="601.14" font-size="27.78" text-anchor="end">+X</text><text x="1102.6" y="601.14" font-size="27.78">90</text><text x="229.8" y="673.61" font-size="27.78" text-anchor="end">-Z/+X</text><text x="1102.6" y="673.61" font-size="27.78">45</text><text x="229.8" y="746.07" font-size="27.78" text-anchor="end">-Z</text><text x="1102.6" y="746.07" font-size="27.78">0</text><text x="118.5" y="482" font-size="27.78" text-anchor="middle" transform="rotate(-90 118.5 482)">S/C Axis</text><text x="1183.5" y="482" font-size="22.22" text-anchor="middle" transform="rotate(-90 1183.5 482)">Angle from -Z axis (towards +X axis)</text><rect x="1204" y="201.9" width="28" height="553.1" fill="url(#cbv)" stroke="#000" stroke-width="2.1"/><text x="1241.3" y="212.5" font-size="27.78">1e5</text><text x="1241.3" y="281.64" font-size="27.78">1e4</text><text x="1241.3" y="350.78" font-size="27.78">1e3</text><text x="1241.3" y="489.05" font-size="27.78">1e2</text><text x="1241.3" y="627.33" font-size="27.78">1e1</text><text x="1241.3" y="765.6" font-size="27.78">1e0</text><path d="M1232 271.04h-9.2M1232 340.18h-9.2M1232 409.31h-9.2M1232 478.45h-9.2M1232 547.59h-9.2M1232 616.73h-9.2M1232 685.86h-9.2" stroke="#000" stroke-width="2.2" fill="none"/><text x="1325.5" y="478.45" font-size="27.78" text-anchor="middle" transform="rotate(-90 1325.5 478.45)">Pixel Counts per Second</text><g transform="translate(240.2 798.579) scale(1.76527 2.75857)" fill="none" stroke-width="1.1" shape-rendering="crispEdges"><path d="M0 13h478" stroke="#ebd6ff" stroke-dasharray="0 313 1 95 1 12 1 3055"/><path d="M0 14h478" stroke="#ebd6ff" stroke-dasharray="0 301 1 55 1 64 1 3 1 40 1 3010"/><path d="M0 14h478" stroke="#d9b2ff" stroke-dasharray="0 432 1 3045"/><path d="M0 15h478" stroke="#ebd6ff" stroke-dasharray="0 259 1 31 1 24 1 98 1 13 1 12 1 28 1 3006"/><path d="M0 16h478" stroke="#ebd6ff" stroke-dasharray="0 368 1 11 1 38 1 1 1 34 1 3021"/><path d="M0 17h478" stroke="#ebd6ff" stroke-dasharray="0 301 1 15 1 31 1 58 1 18 1 32 1 12 1 3004"/><path d="M0 18h478" stroke="#ebd6ff" stroke-dasharray="0 269 1 102 1 19 1 19 1 11 1 30 1 13 1 3008"/><path d="M0 19h478" stroke="#ebd6ff" stroke-dasharray="0 375 1 15 1 15 1 50 1 3019"/><path d="M0 20h478" stroke="#ebd6ff" stroke-dasharray="0 267 1 12 1 18 1 54 1 50 1 3 1 40 1 12 1 3014"/><path d="M0 21h478" stroke="#ebd6ff" stroke-dasharray="0 391 1 2 1 25 1 10 1 3046"/><path d="M0 21h478" stroke="#d9b2ff" stroke-dasharray="0 365 1 92 1 3019"/><path d="M0 22h478" stroke="#ebd6ff" stroke-dasharray="0 310 1 57 1 50 1 7 2 12 1 33 1 3002"/><path d="M0 23h478" stroke="#ebd6ff" stroke-dasharray="0 194 1 83 1 43 1 118 1 3 1 3032"/><path d="M0 23h478" stroke="#d9b2ff" stroke-dasharray="0 387 1 80 1 3009"/><path d="M0 24h478" stroke="#ebd6ff" stroke-dasharray="0 53 1 4 1 92 1 4 1 150 1 13 1 4 1 35 1 34 1 3 1 2 2 5 1 15 1 2 2 25 1 2 1 3017"/><path d="M0 25h478" stroke="#ebd6ff" stroke-dasharray="0 322 1 23 3 53 1 1 1 4 1 10 1 9 1 16 1 16 1 5 1 3007"/><path d="M0 26h478" stroke="#ebd6ff" stroke-dasharray="0 350 1 15 1 28 1 25 1 3056"/><path d="M0 26h478" stroke="#d9b2ff" stroke-dasharray="0 393 1 3084"/><path d="M0 27h478" stroke="#ebd6ff" stroke-dasharray="0 273 1 124 1 9 1 12 1 9 1 7 1 1 1 3 1 8 1 13 1 8 1 3000"/><path d="M0 28h478" stroke="#ebd6ff" stroke-dasharray="0 325 1 75 1 5 1 32 1 4 1 7 1 4 1 2 1 3016"/><path d="M0 29h478" stroke="#ebd6ff" stroke-dasharray="0 263 1 19 1 43 1 46 1 3 1 17 1 36 1 13 1 1 1 5 1 3022"/><path d="M0 29h478" stroke="#d9b2ff" stroke-dasharray="0 330 1 3147"/><path d="M0 30h478" stroke="#ebd6ff" stroke-dasharray="0 181 1 29 1 87 1 39 1 10 1 1 1 16 1 5 1 13 2 10 1 3 1 13 1 42 1 12 1 3002"/><path d="M0 31h478" stroke="#ebd6ff" stroke-dasharray="0 269 1 11 1 52 1 95 1 5 1 11 1 20 1 3008"/><path d="M0 31h478" stroke="#d9b2ff" stroke-dasharray="0 390 1 64 1 3022"/><path d="M0 31h478" stroke="#c78fff" stroke-dasharray="0 453 1 3024"/><path d="M0 32h478" stroke="#ebd6ff" stroke-dasharray="0 289 1 98 1 81 1 3007"/><path d="M0 32h478" stroke="#d9b2ff" stroke-dasharray="0 418 1 3059"/><path d="M0 33h478" stroke="#ebd6ff" stroke-dasharray="0 109 1 108 1 6 1 92 1 17 1 4 1 41 1 23 1 10 1 5 1 14 1 25 1 7 1 3004"/><path d="M0 34h478" stroke="#ebd6ff" stroke-dasharray="0 335 1 30 1 10 1 17 1 21 1 14 1 13 1 8 1 20 1 3001"/><path d="M0 35h478" stroke="#ebd6ff" stroke-dasharray="0 192 1 15 1 80 1 74 1 45 1 7 1 2 1 15 1 10 1 4 1 7 1 3016"/><path d="M0 35h478" stroke="#d9b2ff" stroke-dasharray="0 404 1 24 1 11 1 3036"/><path d="M0 36h478" stroke="#ebd6ff" stroke-dasharray="0 93 1 126 1 83 1 43 1 44 1 28 1 6 1 20 1 8 2 3 1 3013"/><path d="M0 37h478" stroke="#ebd6ff" stroke-dasharray="0 93 1 191 1 52 1 20 1 12 1 7 1 3 1 12 1 40 1 19 1 12 1 3006"/><path d="M0 37h478" stroke="#d9b2ff" stroke-dasharray="0 437 1 6 1 1 1 3031"/><path d="M0 38h478" stroke="#ebd6ff" stroke-dasharray="0 315 1 48 2 54 1 3 1 2 2 2 1 3046"/><path d="M0 38h478" stroke="#d9b2ff" stroke-dasharray="0 473 1 3004"/><path d="M0 39h478" stroke="#ebd6ff" stroke-dasharray="0 213 1 17 1 83 1 69 1 25 1 6 1 9 1 11 1 1 1 7 1 11 1 3015"/><path d="M0 40h478" stroke="#ebd6ff" stroke-dasharray="0 317 1 56 2 1 1 3 1 2 1 20 1 2 1 1 1 1 1 20 1 7 1 31 1 3 1 3000"/><path d="M0 40h478" stroke="#d9b2ff" stroke-dasharray="0 334 1 3143"/><path d="M0 41h478" stroke="#ebd6ff" stroke-dasharray="0 278 1 11 1 104 1 52 1 4 1 17 1 4 2 3000"/><path d="M0 41h478" stroke="#d9b2ff" stroke-dasharray="0 442 1 3035"/><path d="M0 42h478" stroke="#ebd6ff" stroke-dasharray="0 236 1 102 1 28 1 6 1 8 1 21 1 14 1 2 1 15 1 1 1 4 1 3030"/><path d="M0 42h478" stroke="#d9b2ff" stroke-dasharray="0 454 1 6 1 2 1 3013"/><path d="M0 43h478" stroke="#ebd6ff" stroke-dasharray="0 174 1 156 1 38 1 17 2 32 1 3055"/><path d="M0 44h478" stroke="#ebd6ff" stroke-dasharray="0 61 1 13 1 208 1 51 1 6 1 9 1 39 1 28 1 9 1 1 1 17 1 2 1 2 1 5 1 9 1 3003"/><path d="M0 44h478" stroke="#d9b2ff" stroke-dasharray="0 370 1 62 1 3044"/><path d="M0 45h478" stroke="#ebd6ff" stroke-dasharray="0 228 1 58 1 57 1 7 1 8 1 6 1 4 1 15 1 7 1 63 1 2 1 2 1 3009"/><path d="M0 45h478" stroke="#d9b2ff" stroke-dasharray="0 410 1 3067"/><path d="M0 45h478" stroke="#c78fff" stroke-dasharray="0 343 1 3134"/><path d="M0 46h478" stroke="#ebd6ff" stroke-dasharray="0 333 1 11 1 20 1 7 1 42 1 12 1 2 1 1 1 12 1 2 1 8 1 3017"/><path d="M0 46h478" stroke="#d9b2ff" stroke-dasharray="0 373 1 18 1 3085"/><path d="M0 47h478" stroke="#ebd6ff" stroke-dasharray="0 251 1 105 1 20 1 11 1 11 1 13 1 29 1 12 1 6 1 5 1 3005"/><path d="M0 47h478" stroke="#d9b2ff" stroke-dasharray="0 437 1 3040"/><path d="M0 48h478" stroke="#ebd6ff" stroke-dasharray="0 272 1 27 1 31 1 21 1 24 1 1 1 17 1 42 1 3035"/><path d="M0 49h478" stroke="#ebd6ff" stroke-dasharray="0 287 1 15 1 41 1 25 1 30 1 7 1 10 1 5 1 12 1 4 1 11 1 3 1 2 1 4 1 4 1 2 1 3000"/><path d="M0 49h478" stroke="#d9b2ff" stroke-dasharray="0 436 1 2 1 20 1 3017"/><path d="M0 50h478" stroke="#ebd6ff" stroke-dasharray="0 92 1 63 1 158 2 10 1 25 1 31 1 4 1 4 1 14 1 21 1 7 1 18 1 3018"/><path d="M0 50h478" stroke="#d9b2ff" stroke-dasharray="0 376 1 81 1 3019"/><path d="M0 51h478" stroke="#ebd6ff" stroke-dasharray="0 152 1 82 1 96 1 56 1 9 1 7 1 8 1 1 1 9 1 3 1 10 1 6 1 2 1 22 1 3001"/><path d="M0 51h478" stroke="#d9b2ff" stroke-dasharray="0 331 1 51 1 3094"/><path d="M0 52h478" stroke="#ebd6ff" stroke-dasharray="0 162 1 136 1 46 1 15 1 7 1 29 1 11 1 25 1 32 1 3 1 3002"/><path d="M0 53h478" stroke="#ebd6ff" stroke-dasharray="0 205 1 70 1 17 1 25 1 31 2 14 1 4 1 6 1 1 1 12 1 9 1 19 1 3 1 41 1 4 1 3001"/><path d="M0 53h478" stroke="#d9b2ff" stroke-dasharray="0 426 1 1 1 3049"/><path d="M0 54h478" stroke="#ebd6ff" stroke-dasharray="0 239 1 17 1 28 1 5 1 55 1 46 1 37 1 2 1 2 1 7 1 8 1 9 1 8 2 3001"/><path d="M0 54h478" stroke="#d9b2ff" stroke-dasharray="0 402 1 61 1 3013"/><path d="M0 55h478" stroke="#ebd6ff" stroke-dasharray="0 148 1 124 1 69 1 100 1 4 1 2 1 14 2 3009"/><path d="M0 56h478" stroke="#ebd6ff" stroke-dasharray="0 149 1 170 1 34 1 31 1 41 1 20 1 10 1 4 1 8 1 3002"/><path d="M0 56h478" stroke="#d9b2ff" stroke-dasharray="0 416 1 1 1 45 1 3013"/><path d="M0 57h478" stroke="#ebd6ff" stroke-dasharray="0 114 1 157 1 31 1 5 1 78 1 5 1 16 1 6 1 6 1 8 1 11 1 5 1 11 1 7 1 3004"/><path d="M0 58h478" stroke="#ebd6ff" stroke-dasharray="0 327 1 9 1 74 1 7 1 3 1 5 2 7 1 1 1 25 1 2 1 3007"/><path d="M0 58h478" stroke="#d9b2ff" stroke-dasharray="0 432 1 3045"/><path d="M0 59h478" stroke="#ebd6ff" stroke-dasharray="0 310 1 16 1 29 1 19 1 27 1 29 1 6 1 4 1 16 1 3 1 3009"/><path d="M0 59h478" stroke="#d9b2ff" stroke-dasharray="0 437 1 3040"/><path d="M0 59h478" stroke="#c78fff" stroke-dasharray="0 477 1 3000"/><path d="M0 60h478" stroke="#ebd6ff" stroke-dasharray="0 182 1 26 1 100 1 10 1 11 1 1 1 3 1 10 1 3 1 35 1 26 1 4 1 44 1 3010"/><path d="M0 60h478" stroke="#d9b2ff" stroke-dasharray="0 447 1 9 1 3020"/><path d="M0 60h478" stroke="#c78fff" stroke-dasharray="0 475 1 3002"/><path d="M0 61h478" stroke="#ebd6ff" stroke-dasharray="0 337 1 8 1 2 1 8 1 5 2 14 1 5 1 1 2 8 1 26 1 3 2 12 1 4 1 2 1 7 1 6 1 2 1 3 1 3004"/><path d="M0 61h478" stroke="#d9b2ff" stroke-dasharray="0 353 1 27 1 3096"/><path d="M0 61h478" stroke="#c78fff" stroke-dasharray="0 474 1 3003"/><path d="M0 62h478" stroke="#ebd6ff" stroke-dasharray="0 7 1 14 1 212 1 18 1 64 1 47 1 3 1 1 1 25 1 15 1 13 1 3 1 4 1 2 1 6 1 8 1 7 2 1 1 6 1 3002"/><path d="M0 63h478" stroke="#ebd6ff" stroke-dasharray="0 211 1 87 1 46 1 19 1 9 1 1 1 28 1 16 2 3 1 7 2 14 1 2 1 5 1 3015"/><path d="M0 63h478" stroke="#d9b2ff" stroke-dasharray="0 413 1 29 1 3034"/><path d="M0 64h478" stroke="#ebd6ff" stroke-dasharray="0 273 1 34 1 20 1 11 1 3 1 13 1 6 1 20 1 10 1 23 1 19 1 5 1 7 2 8 2 5 1 2 1 3001"/><path d="M0 64h478" stroke="#d9b2ff" stroke-dasharray="0 400 1 3077"/><path d="M0 65h478" stroke="#ebd6ff" stroke-dasharray="0 280 1 21 1 18 1 2 1 8 1 41 1 9 1 5 1 18 1 2 1 3 2 43 1 6 1 2 1 3005"/><path d="M0 65h478" stroke="#d9b2ff" stroke-dasharray="0 435 1 3042"/><path d="M0 66h478" stroke="#ebd6ff" stroke-dasharray="0 297 1 37 1 43 1 4 1 3 1 9 1 5 1 13 1 6 2 36 1 3014"/><path d="M0 67h478" stroke="#ebd6ff" stroke-dasharray="0 242 1 44 1 71 1 2 1 5 1 4 1 15 1 7 2 9 1 6 1 9 1 3 1 12 1 2 1 1 1 15 1 3 1 4 1 3005"/><path d="M0 67h478" stroke="#d9b2ff" stroke-dasharray="0 444 1 3033"/><path d="M0 68h478" stroke="#ebd6ff" stroke-dasharray="0 215 1 44 1 4 1 106 1 6 1 6 1 17 1 25 1 6 2 9 1 5 1 4 1 1 1 3016"/><path d="M0 68h478" stroke="#d9b2ff" stroke-dasharray="0 339 1 3138"/><path d="M0 69h478" stroke="#ebd6ff" stroke-dasharray="0 222 1 102 1 8 1 66 1 26 1 14 1 2 1 2 1 5 1 7 1 9 2 3003"/><path d="M0 69h478" stroke="#d9b2ff" stroke-dasharray="0 391 1 41 1 17 1 3026"/><path d="M0 70h478" stroke="#ebd6ff" stroke-dasharray="0 186 1 50 1 12 1 79 1 52 1 19 1 2 1 10 1 15 1 17 1 4 1 12 1 3008"/><path d="M0 70h478" stroke="#d9b2ff" stroke-dasharray="0 295 1 156 1 2 1 3022"/><path d="M0 71h478" stroke="#ebd6ff" stroke-dasharray="0 139 1 151 1 46 1 29 1 31 1 4 1 1 1 14 1 3 1 2 1 1 1 3 2 10 1 21 1 3008"/><path d="M0 71h478" stroke="#d9b2ff" stroke-dasharray="0 380 1 3 1 61 1 28 1 3002"/><path d="M0 71h478" stroke="#c78fff" stroke-dasharray="0 439 1 3038"/><path d="M0 72h478" stroke="#ebd6ff" stroke-dasharray="0 237 1 2 1 33 1 53 1 19 1 15 1 7 1 8 1 14 2 7 1 3 1 12 1 2 1 6 2 5 1 2 1 5 1 1 1 1 2 3 1 14 1 1 1 3003"/><path d="M0 72h478" stroke="#d9b2ff" stroke-dasharray="0 382 1 20 1 3074"/><path d="M0 73h478" stroke="#ebd6ff" stroke-dasharray="0 29 1 141 1 114 1 62 1 8 2 37 1 6 1 5 1 6 1 2 1 2 1 6 1 9 1 9 2 7 2 6 1 1 1 7 1 3000"/><path d="M0 73h478" stroke="#d9b2ff" stroke-dasharray="0 312 1 64 1 3100"/><path d="M0 74h478" stroke="#ebd6ff" stroke-dasharray="0 76 1 191 1 45 1 15 1 41 1 14 1 6 1 10 1 9 1 3 1 1 1 8 1 1 1 14 1 7 1 8 1 1 1 5 1 1 1 3003"/><path d="M0 74h478" stroke="#d9b2ff" stroke-dasharray="0 361 1 77 1 8 1 7 1 3021"/><path d="M0 74h478" stroke="#c78fff" stroke-dasharray="0 384 1 74 1 3018"/><path d="M0 75h478" stroke="#ebd6ff" stroke-dasharray="0 180 1 107 1 35 1 6 1 15 1 8 1 7 1 4 1 19 1 21 1 8 1 11 1 2 1 11 1 15 2 4 1 7 1 3000"/><path d="M0 75h478" stroke="#d9b2ff" stroke-dasharray="0 412 1 29 2 9 1 3 1 3020"/><path d="M0 75h478" stroke="#c78fff" stroke-dasharray="0 422 1 3055"/><path d="M0 76h478" stroke="#ebd6ff" stroke-dasharray="0 156 1 29 1 6 1 37 1 21 1 11 1 19 1 34 1 2 1 16 1 49 1 10 1 3 1 5 1 5 1 3 3 6 1 16 1 3 1 1 2 7 1 1 1 2 1 1 1 2 1 4 1 3000"/><path d="M0 76h478" stroke="#d9b2ff" stroke-dasharray="0 311 1 131 1 13 1 3020"/><path d="M0 77h478" stroke="#ebd6ff" stroke-dasharray="0 254 1 19 1 41 1 4 1 49 1 16 1 4 1 5 1 3 1 23 1 3 1 5 1 1 1 1 1 9 1 8 1 12 1 3004"/><path d="M0 77h478" stroke="#d9b2ff" stroke-dasharray="0 382 1 2 1 18 1 43 1 22 1 3006"/><path d="M0 78h478" stroke="#ebd6ff" stroke-dasharray="0 53 1 145 1 31 1 18 1 10 1 55 1 7 1 21 1 10 1 9 1 13 1 23 2 1 1 5 1 13 1 3 1 3 2 4 1 5 1 3 1 4 1 6 1 2 1 4 3 3002"/><path d="M0 78h478" stroke="#d9b2ff" stroke-dasharray="0 435 1 21 1 11 1 3008"/><path d="M0 78h478" stroke="#c78fff" stroke-dasharray="0 394 1 69 1 3013"/><path d="M0 79h478" stroke="#ebd6ff" stroke-dasharray="0 275 1 45 1 9 1 24 1 3 1 12 1 27 1 1 1 6 1 7 2 5 1 18 2 5 1 2 1 10 1 3012"/><path d="M0 79h478" stroke="#d9b2ff" stroke-dasharray="0 439 1 34 1 3003"/><path d="M0 80h478" stroke="#ebd6ff" stroke-dasharray="0 192 1 98 1 35 1 27 1 4 1 19 1 1 1 3 2 6 1 7 1 16 3 12 1 2 1 26 2 2 2 2 1 3005"/><path d="M0 80h478" stroke="#d9b2ff" stroke-dasharray="0 399 1 3 1 3074"/><path d="M0 81h478" stroke="#ebd6ff" stroke-dasharray="0 245 1 6 1 3 1 44 1 17 1 9 1 18 1 11 1 7 1 30 1 7 1 1 1 9 1 3 2 2 1 15 1 4 1 20 1 4 1 2 1 3000"/><path d="M0 81h478" stroke="#d9b2ff" stroke-dasharray="0 303 1 47 1 5 1 14 1 58 1 15 1 19 1 3010"/><path d="M0 82h478" stroke="#ebd6ff" stroke-dasharray="0 27 1 6 1 77 1 12 1 77 1 59 1 3 1 14 1 49 1 33 1 4 1 24 1 1 1 24 1 6 1 1 2 12 1 9 1 5 1 5 1 3009"/><path d="M0 82h478" stroke="#d9b2ff" stroke-dasharray="0 324 1 103 1 11 1 3037"/><path d="M0 82h478" stroke="#c78fff" stroke-dasharray="0 410 1 48 1 3018"/><path d="M0 83h478" stroke="#ebd6ff" stroke-dasharray="0 144 1 12 1 149 1 4 2 12 1 14 1 54 1 1 1 4 1 2 1 16 1 21 1 12 1 1 2 4 1 3 1 5 1 3001"/><path d="M0 83h478" stroke="#d9b2ff" stroke-dasharray="0 351 1 70 1 19 2 28 1 3005"/><path d="M0 83h478" stroke="#c78fff" stroke-dasharray="0 425 1 3052"/><path d="M0 84h478" stroke="#ebd6ff" stroke-dasharray="0 53 1 26 1 47 1 59 1 59 1 22 1 24 1 15 1 1 1 12 1 1 1 19 2 1 1 1 1 3 1 2 1 10 1 9 1 4 1 12 1 3 3 3 1 4 1 6 2 6 2 1 1 3 1 2 1 20 1 3016"/><path d="M0 84h478" stroke="#d9b2ff" stroke-dasharray="0 446 1 30 1 3000"/><path d="M0 85h478" stroke="#ebd6ff" stroke-dasharray="0 134 1 54 1 34 1 67 1 8 1 20 1 6 2 2 1 6 1 11 1 56 1 4 1 2 1 6 1 3 1 10 1 4 1 1 1 2 1 5 1 4 1 1 1 1 1 12 1 3000"/><path d="M0 85h478" stroke="#d9b2ff" stroke-dasharray="0 283 1 132 1 3 1 55 1 3001"/><path d="M0 86h478" stroke="#ebd6ff" stroke-dasharray="0 304 1 13 1 5 2 22 1 1 1 4 1 10 2 24 1 14 1 3 1 4 1 2 3 2 1 3 1 4 1 7 1 15 1 6 1 9 1 3003"/><path d="M0 86h478" stroke="#d9b2ff" stroke-dasharray="0 353 1 40 1 51 1 16 1 3 1 3010"/><path d="M0 86h478" stroke="#c78fff" stroke-dasharray="0 460 1 3017"/><path d="M0 87h478" stroke="#ebd6ff" stroke-dasharray="0 47 1 45 1 109 1 34 1 9 1 2 1 5 1 39 1 8 1 44 1 1 1 8 1 9 1 5 1 7 1 1 1 10 1 4 1 11 1 3 1 12 1 2 1 10 1 2 2 1 1 3 1 8 1 9 1 3001"/><path d="M0 87h478" stroke="#d9b2ff" stroke-dasharray="0 339 1 86 2 13 1 21 1 3 1 6 1 3003"/><path d="M0 88h478" stroke="#ebd6ff" stroke-dasharray="0 42 1 73 1 14 1 57 1 17 1 35 1 37 1 20 1 15 1 21 1 26 1 23 1 9 1 9 1 13 2 2 1 7 1 1 1 10 1 9 1 3 1 2 1 1 1 4 1 3003"/><path d="M0 88h478" stroke="#d9b2ff" stroke-dasharray="0 396 1 24 1 21 1 26 1 3007"/><path d="M0 88h478" stroke="#c78fff" stroke-dasharray="0 451 1 3026"/><path d="M0 89h478" stroke="#ebd6ff" stroke-dasharray="0 53 1 17 1 24 1 13 1 43 1 112 1 38 1 25 2 18 1 47 1 7 1 19 1 25 1 3 1 7 1 5 1 3005"/><path d="M0 89h478" stroke="#d9b2ff" stroke-dasharray="0 335 1 35 1 20 1 55 1 7 2 9 1 3010"/><path d="M0 89h478" stroke="#c78fff" stroke-dasharray="0 416 1 44 1 3016"/><path d="M0 90h478" stroke="#ebd6ff" stroke-dasharray="0 60 2 9 1 103 1 7 1 14 1 49 1 8 1 21 1 7 1 1 1 20 1 4 1 1 1 20 1 18 1 20 1 12 1 3 1 16 1 7 1 2 1 2 1 4 1 1 1 2 1 17 1 1 1 3 2 3016"/><path d="M0 90h478" stroke="#d9b2ff" stroke-dasharray="0 394 1 4 1 13 1 35 1 12 1 3015"/><path d="M0 91h478" stroke="#ebd6ff" stroke-dasharray="0 38 1 49 1 31 1 7 1 25 1 66 1 28 1 3 1 1 1 48 1 1 1 4 1 9 1 16 1 16 1 4 1 14 2 8 1 4 1 7 1 4 1 1 1 4 2 12 1 3 1 1 1 1 1 11 1 1 3 3 2 5 1 1 2 6 1 3007"/><path d="M0 91h478" stroke="#d9b2ff" stroke-dasharray="0 334 1 83 2 23 1 29 1 3004"/><path d="M0 92h478" stroke="#ebd6ff" stroke-dasharray="0 2 1 122 1 39 1 6 1 32 1 14 2 12 1 24 1 65 1 1 1 5 1 10 1 6 1 6 1 7 2 3 1 1 1 2 1 2 1 5 1 14 1 3 1 3 1 2 1 5 1 16 1 26 2 1 1 2 2 4 1 3004"/><path d="M0 92h478" stroke="#d9b2ff" stroke-dasharray="0 76 1 317 1 8 1 29 1 5 1 11 1 8 1 13 1 3003"/><path d="M0 92h478" stroke="#c78fff" stroke-dasharray="0 418 1 51 1 3007"/><path d="M0 93h478" stroke="#ebd6ff" stroke-dasharray="0 93 1 1 1 26 1 23 1 9 1 19 1 6 1 40 1 2 1 1 1 32 1 29 1 2 1 13 1 6 1 8 1 8 1 15 1 9 1 6 1 3 2 3 1 8 1 4 1 7 1 9 1 6 1 2 1 1 1 5 1 5 1 2 2 5 1 6 1 2 1 1 2 1 1 2 1 1 2 3014"/><path d="M0 93h478" stroke="#d9b2ff" stroke-dasharray="0 327 1 19 1 44 2 31 1 1 1 9 2 1 1 25 1 5 1 1 1 3003"/><path d="M0 93h478" stroke="#c78fff" stroke-dasharray="0 471 1 3006"/><path d="M0 94h478" stroke="#ebd6ff" stroke-dasharray="0 30 1 33 1 80 1 21 1 6 1 18 1 3 1 33 1 8 1 10 1 24 1 7 1 8 1 21 1 27 2 8 1 4 1 2 2 7 1 3 1 1 1 7 1 2 2 4 2 4 1 2 1 17 1 6 1 6 1 1 1 3 1 1 4 12 4 1 2 1 2 3010"/><path d="M0 94h478" stroke="#d9b2ff" stroke-dasharray="0 379 1 37 2 13 1 13 1 2 1 19 1 6 1 3001"/><path d="M0 94h478" stroke="#c78fff" stroke-dasharray="0 151 1 289 1 3036"/><path d="M0 95h478" stroke="#ebd6ff" stroke-dasharray="0 79 1 79 1 16 1 2 1 27 1 19 1 16 1 5 1 5 1 10 1 19 1 1 1 3 1 10 1 31 1 2 1 6 1 20 1 5 1 17 1 3 1 13 1 11 1 1 1 7 2 8 1 1 2 3 1 4 1 3 2 2 1 5 2 1 3 2 2 3001"/><path d="M0 95h478" stroke="#d9b2ff" stroke-dasharray="0 100 1 9 1 98 1 99 1 87 1 1 1 20 1 53 1 3003"/><path d="M0 95h478" stroke="#c78fff" stroke-dasharray="0 460 1 3017"/><path d="M0 96h478" stroke="#ebd6ff" stroke-dasharray="0 16 1 82 1 5 1 28 1 75 1 21 1 37 1 7 1 32 1 13 1 6 1 1 1 7 1 10 2 3 1 26 1 7 2 3 1 6 1 6 1 3 2 6 1 2 1 1 1 7 1 3 1 11 1 17 1 4 1 3001"/><path d="M0 96h478" stroke="#d9b2ff" stroke-dasharray="0 42 1 55 1 257 1 50 1 23 1 10 1 4 1 11 2 5 1 1 1 3 1 1 1 3003"/><path d="M0 96h478" stroke="#c78fff" stroke-dasharray="0 456 1 20 1 3000"/><path d="M0 97h478" stroke="#ebd6ff" stroke-dasharray="0 21 1 10 1 47 1 13 1 6 1 19 1 1 1 26 2 4 1 3 1 48 1 22 1 4 1 9 1 1 1 2 1 1 1 5 1 20 1 20 1 10 1 14 1 3 2 6 1 19 1 8 1 10 2 12 1 3 1 15 1 5 1 2 1 1 1 6 1 3 1 4 1 1 1 3 1 1 1 1 2 9 4 1 2 5 1 1 1 3001"/><path d="M0 97h478" stroke="#d9b2ff" stroke-dasharray="0 327 1 44 1 20 1 2 1 15 1 17 1 8 1 13 1 23 1 3000"/><path d="M0 97h478" stroke="#c78fff" stroke-dasharray="0 195 1 160 1 112 1 3008"/><path d="M0 97h478" stroke="#b266ff" stroke-dasharray="0 450 1 3027"/><path d="M0 98h478" stroke="#ebd6ff" stroke-dasharray="0 18 1 21 1 12 1 10 1 111 1 16 1 37 1 20 1 15 1 6 1 2 1 15 1 15 1 21 1 17 1 9 1 3 1 2 1 1 1 10 1 6 1 6 1 6 1 14 1 7 1 1 1 6 1 1 2 3 1 7 1 6 3 2 1 5 1 1 1 8 1 3000"/><path d="M0 98h478" stroke="#d9b2ff" stroke-dasharray="0 216 1 129 1 45 1 5 1 50 1 2 1 1 1 7 1 1 1 4 1 2 1 1 2 3002"/><path d="M0 98h478" stroke="#c78fff" stroke-dasharray="0 458 1 2 1 3 1 1 1 2 1 3007"/><path d="M0 99h478" stroke="#ebd6ff" stroke-dasharray="0 124 1 5 1 13 1 36 1 21 1 3 1 8 1 24 2 26 1 8 1 26 1 23 1 2 1 4 2 6 1 5 2 7 1 7 2 2 1 13 1 4 1 2 1 3 1 1 1 13 1 4 1 9 1 1 1 7 1 2 1 1 1 5 1 1 2 3 2 4 1 5 1 1 1 1 1 2 2 3000"/><path d="M0 99h478" stroke="#d9b2ff" stroke-dasharray="0 265 1 13 1 102 1 14 1 10 1 7 1 1 1 2 1 18 1 2 1 3 1 1 1 5 2 3 2 2 2 2 1 6 1 3002"/><path d="M0 99h478" stroke="#c78fff" stroke-dasharray="0 392 1 79 1 1 1 3003"/><path d="M0 100h478" stroke="#ebd6ff" stroke-dasharray="0 56 1 9 1 12 1 22 1 5 1 14 1 67 1 20 1 4 1 30 1 28 1 2 1 8 1 7 1 11 1 27 1 9 1 6 1 8 1 1 1 24 1 12 1 3 5 1 1 4 1 1 1 4 6 3 1 4 1 9 1 1 2 2 1 4 1 7 1 4 1 2 2 3000"/><path d="M0 100h478" stroke="#d9b2ff" stroke-dasharray="0 192 1 152 1 68 3 6 1 12 1 8 1 4 1 3 1 2 2 2 1 1 1 2 1 5 1 3005"/><path d="M0 100h478" stroke="#c78fff" stroke-dasharray="0 381 1 4 1 19 1 63 1 3 2 3002"/><path d="M0 100h478" stroke="#b266ff" stroke-dasharray="0 465 1 1 1 1 1 3008"/><path d="M0 101h478" stroke="#ebd6ff" stroke-dasharray="0 35 1 26 1 50 1 23 1 13 1 18 1 7 1 6 1 1 1 12 1 1 1 17 1 14 1 13 1 4 1 38 1 1 1 3 2 19 1 2 1 9 1 14 1 12 1 6 1 7 1 5 1 6 2 1 1 10 1 3 1 1 1 4 1 11 1 2 1 1 1 4 1 1 2 1 4 4 1 4 1 2 1 4 1 2 1 3 1 1 1 2 1 3003"/><path d="M0 101h478" stroke="#d9b2ff" stroke-dasharray="0 189 1 57 1 25 1 97 1 1 1 27 2 5 1 4 1 21 1 11 1 2 1 5 1 1 1 1 1 3 1 5 1 4 1 1 1 3000"/><path d="M0 101h478" stroke="#c78fff" stroke-dasharray="0 415 1 39 1 5 1 5 1 8 1 3001"/><path d="M0 101h478" stroke="#b266ff" stroke-dasharray="0 468 1 3 2 3004"/><path d="M0 102h478" stroke="#ebd6ff" stroke-dasharray="0 41 1 69 1 54 1 2 1 15 1 6 1 20 1 2 1 20 1 4 1 10 1 2 1 7 1 3 1 11 1 6 1 16 2 22 1 1 2 7 1 15 1 15 1 5 1 3 2 2 1 2 1 10 1 3 2 6 1 4 3 5 1 1 1 1 3 4 3 2 2 2 2 1 1 2 1 5 1 4 2 1 1 1 1 7 1 3003"/><path d="M0 102h478" stroke="#d9b2ff" stroke-dasharray="0 155 1 42 1 24 1 8 1 2 1 12 1 58 1 10 1 72 2 7 1 7 1 1 1 10 1 9 1 6 1 4 1 9 3 4 1 8 1 6 1 3001"/><path d="M0 102h478" stroke="#c78fff" stroke-dasharray="0 405 1 42 2 1 2 4 1 5 1 1 1 2 1 1 2 1 1 3004"/><path d="M0 102h478" stroke="#b266ff" stroke-dasharray="0 467 1 7 1 1 1 3000"/><path d="M0 103h478" stroke="#ebd6ff" stroke-dasharray="0 95 1 5 1 6 1 30 1 16 1 2 1 26 1 15 1 17 1 48 1 8 1 1 1 3 1 16 1 2 1 5 1 7 1 11 1 1 1 2 1 4 1 8 1 2 1 8 1 4 3 2 1 2 1 2 1 11 2 3 1 4 2 4 1 3 2 1 3 10 1 2 2 1 1 6 1 3 1 2 1 14 1 4 1 4 3 3005"/><path d="M0 103h478" stroke="#d9b2ff" stroke-dasharray="0 78 1 99 1 8 1 6 1 68 1 29 1 5 1 43 1 34 1 3 1 10 1 12 1 12 1 1 1 1 2 7 1 3 1 6 1 5 1 6 1 1 1 2 1 3016"/><path d="M0 103h478" stroke="#c78fff" stroke-dasharray="0 401 1 2 1 15 1 12 1 7 1 4 2 4 2 5 1 3 2 1 1 1 1 4 1 2 1 3001"/><path d="M0 103h478" stroke="#b266ff" stroke-dasharray="0 450 1 3 2 1 1 11 1 4 2 3002"/><path d="M0 103h478" stroke="#9e3dff" stroke-dasharray="0 467 1 9 1 3000"/><path d="M0 104h478" stroke="#ebd6ff" stroke-dasharray="0 49 1 9 1 7 1 7 1 20 1 10 1 2 1 14 1 4 1 5 1 1 1 18 1 1 2 3 1 2 1 14 1 11 1 4 1 6 1 3 1 1 1 15 1 3 1 1 1 5 1 16 1 3 1 4 1 2 1 4 1 5 1 5 1 1 1 4 1 2 1 1 1 18 1 2 1 14 1 6 1 17 1 14 1 12 2 3 1 6 1 15 1 4 1 6 1 7 1 5 1 4 1 2 3 2 1 3022"/><path d="M0 104h478" stroke="#d9b2ff" stroke-dasharray="0 150 1 22 1 74 1 23 1 31 1 19 1 12 1 11 1 21 1 6 1 7 1 14 1 10 1 1 2 6 3 2 1 4 1 1 2 1 1 1 1 6 1 9 1 1 1 3 2 2 1 3 2 3006"/><path d="M0 104h478" stroke="#c78fff" stroke-dasharray="0 102 1 292 2 7 1 20 2 2 1 19 1 3 1 3 1 3 1 12 1 1 1 3001"/><path d="M0 104h478" stroke="#b266ff" stroke-dasharray="0 440 1 3 1 3 1 10 2 6 3 2 1 2 1 3002"/><path d="M0 104h478" stroke="#9e3dff" stroke-dasharray="0 464 1 8 1 3004"/><path d="M0 104h478" stroke="#822bff" stroke-dasharray="0 477 1 3000"/><path d="M0 105h478" stroke="#ebd6ff" stroke-dasharray="0 19 1 7 1 25 1 8 1 11 1 7 1 4 1 10 1 8 1 9 2 7 1 4 1 1 1 12 1 6 2 11 1 9 2 26 1 2 1 8 3 8 1 4 1 1 1 3 1 4 1 4 1 2 1 7 1 12 1 16 1 21 1 17 1 11 1 3 1 5 2 1 1 2 1 7 1 3 1 17 1 5 1 4 1 6 1 2 1 2 2 4 3 2 1 4 1 9 1 6 1 4 1 1 1 2 1 5 1 3017"/><path d="M0 105h478" stroke="#d9b2ff" stroke-dasharray="0 10 1 73 1 70 1 40 1 22 1 35 1 19 1 25 1 22 1 5 1 2 1 12 1 9 1 5 1 12 1 5 2 20 1 5 1 3 1 2 1 7 3 4 1 1 1 4 3 1 1 4 1 2 1 1 1 2 3 3 1 3 1 2 2 1 1 3006"/><path d="M0 105h478" stroke="#c78fff" stroke-dasharray="0 347 1 48 1 13 1 9 1 2 1 4 2 2 1 2 2 6 1 1 2 1 1 10 1 3 1 2 1 3 1 1 1 3005"/><path d="M0 105h478" stroke="#b266ff" stroke-dasharray="0 453 1 8 1 1 1 2 1 6 2 3002"/><path d="M0 105h478" stroke="#9e3dff" stroke-dasharray="0 473 1 2 2 3000"/><path d="M0 105h478" stroke="#822bff" stroke-dasharray="0 458 1 3019"/><path d="M0 106h478" stroke="#ebd6ff" stroke-dasharray="0 6 1 4 2 47 1 22 1 15 1 10 1 4 1 21 1 31 2 9 1 7 1 1 1 4 2 1 1 7 2 2 1 8 1 4 1 1 1 2 1 2 2 2 1 2 1 1 1 9 1 2 2 6 1 8 1 9 1 3 1 4 1 9 1 12 1 6 1 2 1 4 2 4 1 17 1 2 2 6 2 3 2 7 2 7 1 5 2 14 2 1 1 2 1 4 1 2 1 1 1 1 2 4 1 4 1 1 1 2 1 5 1 4 1 1 1 2 1 3019"/><path d="M0 106h478" stroke="#d9b2ff" stroke-dasharray="0 128 1 5 1 5 1 46 1 5 1 9 1 10 1 8 1 18 1 50 1 10 1 11 1 15 2 16 1 9 1 14 1 21 1 1 3 2 1 5 1 2 1 3 2 2 1 3 1 2 1 1 1 2 2 3 1 4 1 2 2 1 2 12 1 5 1 3008"/><path d="M0 106h478" stroke="#c78fff" stroke-dasharray="0 204 1 116 1 45 1 19 1 8 1 32 1 1 1 4 1 3 1 11 1 1 1 4 2 7 1 3 2 3004"/><path d="M0 106h478" stroke="#b266ff" stroke-dasharray="0 416 1 3 1 20 1 2 1 6 1 4 2 3 2 2 2 3 2 3006"/><path d="M0 106h478" stroke="#9e3dff" stroke-dasharray="0 464 1 2 1 6 3 3001"/><path d="M0 106h478" stroke="#822bff" stroke-dasharray="0 477 1 3000"/><path d="M0 107h478" stroke="#ebd6ff" stroke-dasharray="0 32 1 11 1 1 1 4 1 7 1 20 1 9 1 5 1 6 1 5 1 1 1 9 1 7 1 2 1 12 2 1 1 10 2 18 2 1 1 5 1 10 1 3 1 3 1 9 1 6 1 2 1 9 1 3 1 4 3 1 2 1 4 4 1 2 1 2 1 1 1 7 1 13 2 3 1 7 1 1 1 2 1 3 1 17 1 13 1 6 1 1 1 8 1 1 1 1 1 1 3 8 3 3 1 1 1 1 2 2 1 3 1 7 1 7 2 13 1 4 1 9 1 2 1 3030"/><path d="M0 107h478" stroke="#d9b2ff" stroke-dasharray="0 57 1 115 1 11 1 11 1 4 1 7 1 47 1 7 1 12 1 4 2 28 1 15 1 3 1 3 1 4 1 3 1 10 1 1 1 22 2 8 1 1 1 7 1 1 1 6 1 3 4 2 1 2 1 5 1 10 1 2 1 9 1 2 1 3019"/><path d="M0 107h478" stroke="#c78fff" stroke-dasharray="0 399 1 2 1 4 1 5 1 7 1 1 1 4 1 8 1 2 2 7 1 11 1 1 1 2 2 1 1 3 2 3003"/><path d="M0 107h478" stroke="#b266ff" stroke-dasharray="0 424 1 5 1 2 1 1 2 1 1 4 1 2 1 3 1 1 2 2 1 2 1 2 1 1 1 3 1 8 1 3000"/><path d="M0 107h478" stroke="#9e3dff" stroke-dasharray="0 439 1 11 1 2 1 2 1 2 1 4 1 4 2 3 1 3002"/><path d="M0 107h478" stroke="#822bff" stroke-dasharray="0 472 1 3 1 3001"/><path d="M0 108h478" stroke="#ebd6ff" stroke-dasharray="0 8 1 8 1 14 1 25 1 7 2 7 1 5 1 10 2 3 1 2 1 6 1 2 1 7 1 2 1 1 1 9 1 6 1 7 1 4 1 11 1 13 1 3 1 3 1 7 1 6 1 1 1 19 1 8 1 2 2 3 1 1 1 4 1 3 1 2 1 5 1 4 2 1 1 2 1 2 1 9 1 1 1 5 1 2 1 6 1 1 1 7 1 1 2 4 1 1 1 4 1 1 1 3 1 1 1 3 1 2 1 1 1 5 2 2 1 7 2 6 1 1 2 1 1 17 2 5 1 1 1 12 2 21 2 17 1 3019"/><path d="M0 108h478" stroke="#d9b2ff" stroke-dasharray="0 76 1 24 1 29 1 7 1 16 1 2 1 37 1 8 1 4 1 5 1 8 1 37 1 9 1 1 1 73 1 10 1 8 1 1 1 12 1 3 1 2 1 3 1 2 1 2 1 2 2 2 1 1 3 7 2 2 1 1 2 1 1 2 2 19 1 2 1 3020"/><path d="M0 108h478" stroke="#c78fff" stroke-dasharray="0 219 1 60 1 36 1 63 1 15 1 2 1 7 1 5 1 3 1 4 1 2 1 2 1 5 1 1 2 6 1 3 2 10 1 1 1 3014"/><path d="M0 108h478" stroke="#b266ff" stroke-dasharray="0 410 1 9 1 3 1 17 1 1 1 1 3 2 3 2 1 3 1 3 1 2 3 3008"/><path d="M0 108h478" stroke="#9e3dff" stroke-dasharray="0 441 1 13 1 3 1 2 1 2 2 3 5 3003"/><path d="M0 108h478" stroke="#822bff" stroke-dasharray="0 475 3 3000"/><path d="M0 109h478" stroke="#ebd6ff" stroke-dasharray="0 7 1 3 2 6 1 3 1 6 1 2 1 25 1 13 1 10 3 4 1 20 1 2 1 4 1 12 1 1 2 11 2 4 1 3 1 8 1 1 2 6 1 1 1 4 2 8 1 9 1 5 1 3 2 1 1 1 1 2 1 7 2 1 1 13 1 12 1 6 1 5 2 3 1 2 1 1 1 4 2 9 2 14 1 2 1 11 1 2 1 7 2 3 2 2 1 5 2 1 1 2 1 3 2 4 1 1 1 1 1 1 1 1 1 2 1 2 1 10 1 10 1 2 1 3 1 10 1 11 1 1 1 3037"/><path d="M0 109h478" stroke="#d9b2ff" stroke-dasharray="0 101 1 45 1 28 1 47 1 18 1 1 1 2 1 6 1 8 2 3 3 23 1 14 1 23 1 5 1 2 1 9 1 9 2 3 1 1 1 2 1 7 2 2 1 2 1 2 1 3 1 2 3 2 3 3 1 3 1 7 1 3 1 13 1 1 1 13 1 3022"/><path d="M0 109h478" stroke="#c78fff" stroke-dasharray="0 225 1 167 1 12 1 3 1 1 1 3 2 1 1 3 2 4 3 4 1 11 1 2 3 7 1 3016"/><path d="M0 109h478" stroke="#b266ff" stroke-dasharray="0 390 1 11 1 15 1 1 1 1 1 4 2 3 4 1 1 4 2 2 2 6 1 1 1 1 2 2 1 3 1 3011"/><path d="M0 109h478" stroke="#9e3dff" stroke-dasharray="0 414 1 29 2 4 1 6 1 2 1 2 3 1 1 1 1 2 1 2 1 3002"/><path d="M0 109h478" stroke="#822bff" stroke-dasharray="0 468 1 1 2 2 1 1 2 3000"/><path d="M0 109h478" stroke="#6321ff" stroke-dasharray="0 473 1 3004"/><path d="M0 110h478" stroke="#ebd6ff" stroke-dasharray="0 6 1 4 1 12 1 6 1 1 1 5 1 18 1 10 1 4 1 12 1 6 1 10 1 2 1 4 1 11 1 5 1 1 1 1 1 1 1 9 1 2 1 2 1 7 1 2 1 3 2 3 2 9 1 1 1 7 2 1 2 3 1 2 1 4 1 3 1 5 1 6 1 1 1 1 1 2 1 15 1 2 1 2 2 4 2 1 2 3 1 3 1 4 3 4 2 1 1 2 3 2 1 10 1 2 1 2 1 1 1 3 1 1 1 7 1 1 1 6 1 4 2 2 1 3 1 1 1 1 2 1 1 2 1 2 2 4 1 6 1 4 2 1 1 1 1 4 1 5 1 7 1 5 1 2 1 3061"/><path d="M0 110h478" stroke="#d9b2ff" stroke-dasharray="0 48 1 91 1 8 1 6 1 10 1 7 1 7 1 8 1 53 1 22 1 26 1 10 1 5 1 1 1 13 1 4 1 12 1 19 1 2 1 1 1 1 2 9 1 4 1 1 1 2 1 2 1 4 1 1 1 3 1 1 2 6 4 5 1 3 1 1 1 2 1 3 1 2 1 5 1 3027"/><path d="M0 110h478" stroke="#c78fff" stroke-dasharray="0 35 1 228 1 20 1 52 1 3 1 21 1 3 1 8 1 3 1 12 1 1 1 3 3 3 1 10 2 4 2 2 1 3 1 1 1 6 1 4 1 3 1 3028"/><path d="M0 110h478" stroke="#b266ff" stroke-dasharray="0 387 1 3 1 16 1 5 1 10 2 3 1 7 1 4 1 7 1 7 1 2 1 14 1 3000"/><path d="M0 110h478" stroke="#9e3dff" stroke-dasharray="0 429 1 6 1 2 1 2 1 3 3 3 3 1 1 3 2 2 3 5 1 1 1 3003"/><path d="M0 110h478" stroke="#822bff" stroke-dasharray="0 410 1 24 1 19 1 1 2 9 3 2 1 1 2 3001"/><path d="M0 110h478" stroke="#6321ff" stroke-dasharray="0 463 1 3 1 3 1 3006"/><path d="M0 111h478" stroke="#ebd6ff" stroke-dasharray="0 9 1 3 1 1 1 4 2 1 1 9 2 12 1 10 2 1 1 6 1 3 1 3 1 2 1 23 1 1 3 1 1 7 1 8 1 1 1 8 2 4 1 3 1 1 2 19 1 2 1 3 1 1 1 1 1 1 1 1 1 6 4 2 2 3 1 8 1 14 2 2 1 5 1 1 1 1 1 3 1 17 1 4 2 2 2 3 1 3 1 7 1 4 1 12 1 2 1 2 4 4 1 8 1 7 1 3 2 1 1 1 3 2 1 1 1 1 1 2 2 8 1 6 1 11 1 14 1 10 1 3063"/><path d="M0 111h478" stroke="#d9b2ff" stroke-dasharray="0 7 1 3 1 6 1 3 1 14 1 14 1 1 1 10 1 26 2 14 1 1 1 12 1 10 1 11 1 7 1 2 1 9 1 3 1 10 1 1 1 19 2 5 1 4 1 7 1 9 2 2 1 1 1 14 1 4 1 3 1 10 1 9 1 1 1 11 1 19 2 6 1 1 1 9 1 13 1 11 3 2 2 3 1 6 1 2 1 4 1 1 3 2 1 10 1 1 1 2 1 7 1 4 1 16 1 1 1 3032"/><path d="M0 111h478" stroke="#c78fff" stroke-dasharray="0 207 1 5 1 29 1 15 1 66 1 7 1 26 2 1 1 8 2 8 1 3 1 3 1 3 2 1 1 2 2 3 2 1 1 10 1 2 3 2 1 2 1 4 1 3 1 10 1 3026"/><path d="M0 111h478" stroke="#b266ff" stroke-dasharray="0 276 1 104 1 4 1 2 1 9 2 4 1 5 2 2 1 1 2 3 1 4 1 1 1 2 1 2 1 3 1 20 1 1 1 7 1 3 1 3003"/><path d="M0 111h478" stroke="#9e3dff" stroke-dasharray="0 416 1 2 1 10 1 2 2 2 2 2 1 2 1 1 3 1 1 1 1 1 4 3 1 1 1 3014"/><path d="M0 111h478" stroke="#822bff" stroke-dasharray="0 442 1 6 1 3 1 4 2 4 5 3 2 3004"/><path d="M0 111h478" stroke="#6321ff" stroke-dasharray="0 469 1 1 1 3 3 3000"/><path d="M0 112h478" stroke="#ebd6ff" stroke-dasharray="0 13 1 12 1 3 3 6 1 1 1 1 1 2 1 1 1 3 1 5 1 3 1 2 1 2 1 1 1 7 1 1 1 1 1 23 1 1 1 7 1 3 1 3 1 3 1 10 1 1 2 2 1 2 1 5 2 6 2 2 1 8 1 1 2 1 1 7 2 5 2 1 3 2 1 2 3 2 2 2 1 4 1 1 3 1 1 9 2 1 2 1 3 1 1 1 2 5 2 1 1 5 4 2 1 1 1 4 1 1 2 4 1 1 1 4 1 5 1 1 2 2 1 1 3 1 1 1 1 3 2 7 1 2 2 1 3 1 1 6 2 6 4 8 1 19 5 15 1 1 1 8 1 3064"/><path d="M0 112h478" stroke="#d9b2ff" stroke-dasharray="0 44 1 12 1 21 1 34 1 2 1 8 2 2 1 1 1 1 1 1 1 15 1 3 1 29 1 32 1 9 3 13 1 16 2 17 1 7 2 6 1 23 1 1 1 2 1 7 1 11 2 7 1 2 1 2 1 3 1 6 2 4 3 9 2 8 1 2 1 5 1 1 2 5 1 3059"/><path d="M0 112h478" stroke="#c78fff" stroke-dasharray="0 182 1 19 1 1 1 13 1 9 1 40 1 21 1 21 1 26 1 3 2 2 1 5 1 1 2 5 1 4 2 5 1 5 1 5 3 2 2 1 3 1 1 6 3 12 2 6 1 15 1 3032"/><path d="M0 112h478" stroke="#b266ff" stroke-dasharray="0 191 1 62 1 111 1 10 1 16 1 3 1 2 1 8 1 3 1 1 1 2 2 3 2 1 1 2 1 4 2 3 5 2 1 3030"/><path d="M0 112h478" stroke="#9e3dff" stroke-dasharray="0 233 1 130 1 40 1 9 1 1 1 5 1 2 1 1 1 2 3 3 3 10 1 1 1 5 2 1 1 3016"/><path d="M0 112h478" stroke="#822bff" stroke-dasharray="0 434 1 11 1 1 2 1 1 1 2 1 2 2 1 1 3 3 1 3009"/><path d="M0 112h478" stroke="#6321ff" stroke-dasharray="0 455 1 9 3 1 8 3001"/><path d="M0 112h478" stroke="url(#t0)" stroke-dasharray="0 477 1 3000"/><path d="M0 113h478" stroke="#ebd6ff" stroke-dasharray="0 3 1 5 1 6 1 3 1 3 1 5 1 3 1 1 1 4 1 2 1 3 1 2 2 2 2 5 1 8 1 1 2 3 1 15 1 2 1 5 1 4 1 7 1 2 1 2 1 14 1 3 1 2 1 1 2 3 2 2 1 13 1 1 1 3 1 5 2 7 3 4 1 5 3 1 2 2 1 2 1 5 1 9 2 3 2 1 2 6 1 2 1 1 1 1 2 5 2 4 1 2 1 5 1 4 1 2 1 1 2 4 2 2 1 2 1 7 1 2 2 3 2 3 1 3 4 5 1 2 1 10 1 1 1 7 1 1 1 13 1 15 3 3087"/><path d="M0 113h478" stroke="#d9b2ff" stroke-dasharray="0 67 2 6 1 13 2 1 1 3 1 5 1 22 4 3 1 3 1 29 1 5 1 3 2 5 2 2 1 7 2 3 1 8 1 3 1 4 1 4 2 4 1 4 1 5 1 2 3 2 1 3 1 5 1 4 1 12 1 11 1 10 1 5 1 6 1 4 1 4 1 11 1 1 1 1 1 3 2 1 1 3 3 14 1 1 1 4 1 3 1 5 1 1 1 6 1 12 1 5 3 1 1 8 1 3053"/><path d="M0 113h478" stroke="#c78fff" stroke-dasharray="0 93 1 36 1 2 1 9 1 13 1 6 1 20 1 8 1 22 1 4 1 3 1 1 1 12 1 14 1 2 1 4 1 37 1 8 1 8 2 11 1 6 2 11 2 5 1 1 4 4 2 6 2 11 1 4 2 4 1 6 1 6 1 3 1 4 1 1 1 3050"/><path d="M0 113h478" stroke="#b266ff" stroke-dasharray="0 142 1 10 1 65 1 108 1 8 1 17 1 5 1 5 1 6 2 4 1 3 1 1 1 6 3 2 2 1 1 1 1 2 3 1 1 3 1 2 1 1 1 1 2 9 1 2 3 3 2 3035"/><path d="M0 113h478" stroke="#9e3dff" stroke-dasharray="0 352 1 6 1 21 2 17 1 3 1 13 1 4 1 2 1 1 3 2 1 10 2 1 2 1 1 7 1 7 1 3011"/><path d="M0 113h478" stroke="#822bff" stroke-dasharray="0 431 1 2 1 3 3 2 1 2 1 2 1 1 1 1 3 8 1 3013"/><path d="M0 113h478" stroke="#6321ff" stroke-dasharray="0 452 1 3 2 1 5 1 1 1 4 3007"/><path d="M0 113h478" stroke="url(#t1)" stroke-dasharray="0 471 7 3000"/><path d="M0 114h478" stroke="#ebd6ff" stroke-dasharray="0 1 1 3 1 1 1 3 1 5 1 2 1 4 1 4 1 17 1 11 1 1 1 4 1 4 1 3 1 1 2 10 1 1 1 1 1 1 2 1 2 3 1 2 1 3 2 4 1 4 1 2 1 4 1 5 3 2 1 5 1 9 1 2 1 7 3 1 1 3 1 1 1 1 1 3 1 2 1 12 2 4 1 13 1 4 1 1 1 1 3 1 1 17 1 2 1 1 1 6 1 7 1 15 1 2 3 2 1 8 1 6 1 4 1 1 1 7 2 6 1 14 1 11 1 2 1 46 1 3066"/><path d="M0 114h478" stroke="#d9b2ff" stroke-dasharray="1 5 1 1 1 13 1 16 1 4 1 2 1 8 1 1 1 7 1 22 1 1 1 10 1 7 1 3 1 4 1 8 2 1 1 1 1 5 1 2 1 3 1 2 1 1 1 1 2 1 1 1 2 3 1 2 1 4 1 1 1 3 1 4 2 1 1 9 2 2 1 5 1 1 1 2 3 1 1 3 1 5 1 1 1 1 1 5 1 1 3 1 5 1 1 6 1 3 1 1 1 4 1 9 1 1 1 1 1 4 2 1 1 1 2 3 1 2 1 11 1 3 2 7 2 1 1 3 1 4 1 4 1 2 1 1 1 1 2 1 1 3 1 4 1 1 2 4 2 8 1 17 2 1 1 4 2 32 1 3042"/><path d="M0 114h478" stroke="#c78fff" stroke-dasharray="0 59 1 14 1 40 1 24 1 7 1 26 1 15 1 2 1 8 1 9 1 31 1 2 1 6 1 4 1 12 1 31 2 8 1 7 1 1 1 3 4 6 2 3 1 11 1 1 1 3 2 5 6 1 3 5 1 2 3 13 2 2 1 1 2 9 1 3057"/><path d="M0 114h478" stroke="#b266ff" stroke-dasharray="0 189 1 49 1 67 1 34 1 7 2 2 1 12 2 10 1 1 3 1 2 3 3 2 1 1 2 1 1 4 1 7 7 4 1 5 1 2 1 3044"/><path d="M0 114h478" stroke="#9e3dff" stroke-dasharray="0 347 1 5 1 26 1 18 1 6 1 1 1 3 1 8 3 1 5 1 2 1 1 1 1 1 1 2 1 6 2 2 1 3025"/><path d="M0 114h478" stroke="#822bff" stroke-dasharray="0 437 1 1 2 1 5 3 1 2 1 1 2 2 2 3017"/><path d="M0 114h478" stroke="#6321ff" stroke-dasharray="0 447 1 3 1 2 1 2 2 2 4 3013"/><path d="M0 114h478" stroke="url(#t2)" stroke-dasharray="0 465 13 3000"/><path d="M0 115h478" stroke="#ebd6ff" stroke-dasharray="0 8 1 3 1 4 1 2 4 1 1 3 1 1 1 1 1 9 2 7 2 6 1 2 1 1 1 1 1 1 1 10 1 1 1 9 3 2 1 4 1 9 1 7 2 1 1 6 2 1 1 4 2 3 1 2 1 5 4 3 2 2 1 6 1 24 1 7 1 2 1 2 1 9 1 5 1 2 3 2 1 7 1 6 1 1 1 1 1 2 2 4 2 5 1 7 1 1 1 4 6 2 1 1 3 5 1 4 1 7 1 1 1 4 3 1 4 1 1 3 1 2 2 23 1 3115"/><path d="M0 115h478" stroke="#d9b2ff" stroke-dasharray="0 15 2 1 1 15 1 3 1 2 1 20 1 3 1 1 1 3 1 1 1 2 1 5 1 16 1 3 1 12 1 4 1 3 1 2 1 2 1 1 2 6 1 6 1 7 1 8 3 2 3 1 2 2 1 1 2 2 1 2 1 12 2 7 3 1 4 4 2 2 1 5 1 2 2 2 2 1 1 1 1 6 1 1 1 3 3 3 3 1 1 4 3 4 3 7 1 6 1 1 3 1 1 2 1 3 4 2 1 2 2 16 1 2 1 1 1 1 1 2 1 1 1 7 1 1 1 1 1 2 1 8 1 14 2 22 1 3066"/><path d="M0 115h478" stroke="#c78fff" stroke-dasharray="0 58 2 13 1 29 1 2 1 3 1 4 1 21 1 2 1 15 1 12 1 20 1 3 1 3 1 1 1 3 2 12 1 2 1 12 1 2 2 4 1 2 1 2 1 19 2 4 1 41 1 2 1 12 1 10 1 2 1 1 2 2 1 3 1 17 1 3 1 2 1 3 1 3 1 2 1 1 1 3 1 7 1 1 1 5 2 3061"/><path d="M0 115h478" stroke="#b266ff" stroke-dasharray="0 191 1 32 1 22 1 29 1 14 1 36 1 1 1 8 1 1 1 8 1 2 2 5 1 2 5 2 1 1 1 2 1 1 1 1 2 1 1 1 1 5 1 2 1 1 3 2 2 7 1 7 1 2 1 3 1 3052"/><path d="M0 115h478" stroke="#9e3dff" stroke-dasharray="0 352 1 6 1 9 2 3 1 9 1 4 1 2 1 10 1 1 2 1 1 3 1 4 1 1 2 1 2 2 1 2 1 1 1 3046"/><path d="M0 115h478" stroke="#822bff" stroke-dasharray="0 377 1 22 1 3 1 8 2 9 1 2 2 3 7 1 1 1 3 2 2 2 1 3 1 3022"/><path d="M0 115h478" stroke="#6321ff" stroke-dasharray="0 430 1 8 1 1 1 3 2 2 2 1 3 1 2 3020"/><path d="M0 115h478" stroke="url(#t3)" stroke-dasharray="0 458 20 3000"/><path d="M0 116h478" stroke="#ebd6ff" stroke-dasharray="0 3 1 1 1 3 1 1 2 2 1 1 1 8 2 2 1 4 1 2 1 2 2 3 1 1 1 1 1 7 1 5 2 1 1 2 2 1 1 1 1 8 1 8 1 1 1 7 1 7 2 7 2 1 1 7 1 1 1 3 1 1 1 3 1 2 2 3 1 3 1 1 1 5 1 3 1 3 1 1 1 6 1 3 1 9 1 1 1 1 1 9 2 5 1 6 1 2 1 5 1 5 1 4 1 11 1 2 1 6 1 3 1 1 2 1 1 6 1 4 2 2 2 2 2 1 1 1 1 3 2 10 1 5 1 4 1 7 1 11 1 3132"/><path d="M0 116h478" stroke="#d9b2ff" stroke-dasharray="0 2 1 13 1 2 1 4 2 7 1 13 1 6 1 1 1 3 2 1 1 14 1 1 4 7 1 10 1 3 1 2 2 3 1 1 2 7 1 4 1 1 1 1 2 5 1 6 1 1 1 2 1 2 1 2 1 1 1 7 1 4 1 2 2 2 1 3 2 3 1 1 1 4 1 3 1 3 1 5 3 2 1 6 1 4 1 1 1 3 1 5 1 2 1 3 1 3 3 1 1 2 1 4 1 3 1 4 1 1 2 2 1 2 1 9 1 5 1 1 1 6 4 2 2 5 1 1 1 1 1 2 2 1 1 2 1 7 1 1 2 5 1 6 1 7 1 2 1 1 1 5 2 7 1 14 1 10 1 3067"/><path d="M0 116h478" stroke="#c78fff" stroke-dasharray="0 55 1 3 1 29 2 24 1 3 1 6 2 8 1 3 1 3 2 8 1 7 1 1 3 3 1 8 1 2 1 4 1 3 1 3 1 3 1 2 2 2 2 2 1 6 4 5 1 2 1 5 1 8 1 1 1 1 1 1 1 5 1 3 1 34 1 5 1 2 1 5 1 6 2 5 1 3 1 2 1 3 2 2 1 4 1 2 2 3 2 4 1 15 1 4 1 2 1 6 1 4 1 7 1 1 2 3072"/><path d="M0 116h478" stroke="#b266ff" stroke-dasharray="0 104 1 24 1 22 1 19 1 3 1 6 1 4 1 4 1 27 1 2 1 2 1 5 1 11 1 3 1 15 2 44 1 10 1 7 1 7 1 7 1 3 2 2 2 1 1 1 2 1 1 2 2 1 1 2 2 4 1 3 1 1 1 1 1 1 2 1 1 4 3 9 1 7 1 2 1 1 1 8 1 5 1 3042"/><path d="M0 116h478" stroke="#9e3dff" stroke-dasharray="0 168 1 63 1 6 1 97 1 23 1 1 1 9 1 6 1 5 1 4 3 4 1 1 2 1 1 2 1 2 1 1 1 1 1 2 1 2 1 19 1 1 1 3036"/><path d="M0 116h478" stroke="#822bff" stroke-dasharray="0 370 1 7 1 29 1 3 1 1 1 6 8 1 1 2 2 1 2 2 1 3 1 1 2 3030"/><path d="M0 116h478" stroke="#6321ff" stroke-dasharray="0 417 1 13 2 5 1 3 2 1 1 2 3 3027"/><path d="M0 116h478" stroke="url(#t4)" stroke-dasharray="0 451 27 3000"/><path d="M0 117h478" stroke="#ebd6ff" stroke-dasharray="0 2 2 3 1 10 1 7 1 3 1 3 1 3 1 8 1 7 2 4 2 1 1 3 1 5 1 1 3 2 1 1 2 8 1 3 3 2 1 1 1 4 1 1 2 3 1 1 1 2 4 11 1 7 1 1 1 1 1 5 1 1 1 2 1 3 1 14 1 8 2 18 1 8 1 7 1 19 2 4 1 1 1 1 1 7 1 4 1 2 1 16 2 5 1 22 1 14 1 11 1 19 1 3113"/><path d="M0 117h478" stroke="#d9b2ff" stroke-dasharray="0 12 1 2 1 5 1 3 1 3 1 1 1 4 2 4 1 5 2 1 2 1 1 2 1 1 1 6 2 2 1 17 1 7 1 3 1 2 1 1 1 1 1 6 2 11 1 3 5 1 1 1 1 2 1 8 3 1 1 2 1 5 1 1 6 1 1 3 1 7 2 3 1 6 1 1 1 2 3 1 1 11 1 1 3 3 1 2 3 2 2 1 7 2 1 10 2 9 1 2 1 1 1 1 1 3 1 2 2 1 2 8 2 1 1 5 1 1 2 2 3 1 2 4 2 2 1 8 1 1 2 5 1 3 1 8 1 1 1 8 1 6 1 13 1 3090"/><path d="M0 117h478" stroke="#c78fff" stroke-dasharray="0 1 1 26 1 12 1 27 1 1 1 7 1 10 3 1 2 5 1 4 1 1 1 8 1 1 1 6 1 3 1 7 1 4 1 13 1 2 2 13 1 4 3 6 1 1 1 9 1 7 2 1 2 1 1 1 1 1 1 8 1 3 1 3 1 10 2 7 1 3 2 1 2 1 1 7 1 1 1 1 1 1 1 21 1 10 1 4 2 2 1 2 1 1 2 1 1 3 1 2 1 2 2 3 1 3 1 6 1 1 1 3 2 4 1 7 1 3101"/><path d="M0 117h478" stroke="#b266ff" stroke-dasharray="0 149 2 11 1 13 1 6 2 7 1 2 2 1 1 1 1 4 1 2 1 2 1 2 1 8 1 3 1 5 1 19 1 11 1 6 1 4 1 3 1 23 1 2 2 6 1 6 1 2 1 2 1 1 1 6 2 7 2 1 3 7 2 3 1 1 1 2 3 1 2 4 2 1 1 4 1 4 4 2 2 14 1 3062"/><path d="M0 117h478" stroke="#9e3dff" stroke-dasharray="0 343 1 9 2 14 1 9 1 2 1 1 3 2 2 7 1 2 1 1 3 1 1 1 1 2 1 1 1 1 1 3 1 7 2 3048"/><path d="M0 117h478" stroke="#822bff" stroke-dasharray="0 359 1 17 2 12 2 4 1 4 1 3 1 3 2 1 1 3 3 1 7 6 1 3 1 3039"/><path d="M0 117h478" stroke="#6321ff" stroke-dasharray="0 408 1 21 4 1 3 1 4 3035"/><path d="M0 117h478" stroke="url(#t5)" stroke-dasharray="0 443 35 3000"/><path d="M0 118h478" stroke="#ebd6ff" stroke-dasharray="0 2 1 16 2 1 1 2 1 4 2 15 2 3 1 3 4 1 1 2 2 2 1 10 1 7 2 6 1 5 2 1 1 1 1 7 1 1 1 1 2 2 1 11 1 1 2 1 1 15 1 2 4 3 1 1 1 3 1 1 1 2 1 7 1 5 1 1 1 9 1 6 1 2 3 2 1 13 1 7 1 5 1 20 1 1 1 6 2 19 1 1 1 13 1 1 1 3 1 3159"/><path d="M0 118h478" stroke="#d9b2ff" stroke-dasharray="0 3 2 7 1 3 2 10 2 6 1 4 1 2 1 8 1 1 1 6 2 2 2 1 2 3 1 5 1 4 1 4 1 6 1 1 1 3 1 6 1 6 1 5 1 1 2 2 2 2 1 8 1 1 1 5 3 9 3 13 1 1 2 3 1 5 1 1 1 5 1 1 1 8 2 3 1 12 1 4 1 4 1 9 3 1 1 2 2 6 1 3 1 4 1 1 1 2 1 1 1 2 1 4 3 1 1 1 2 2 1 1 1 4 1 6 1 1 1 3 1 3 1 3 1 1 1 2 2 14 1 1 1 1 1 1 1 3125"/><path d="M0 118h478" stroke="#c78fff" stroke-dasharray="0 38 1 4 1 32 1 7 1 4 1 3 2 1 1 1 1 6 1 2 2 2 1 11 1 6 1 8 2 1 1 1 1 2 2 4 1 13 3 1 1 1 1 14 1 5 1 1 1 2 1 2 1 1 1 2 1 7 1 2 3 2 4 1 2 9 1 2 2 6 1 1 2 2 2 1 3 2 1 3 1 1 1 1 1 7 1 1 4 5 1 2 1 5 3 6 1 5 1 6 1 2 1 5 1 1 1 2 1 3 1 5 1 3 1 2 2 6 1 1 1 7 1 18 1 3086"/><path d="M0 118h478" stroke="#b266ff" stroke-dasharray="0 81 1 33 1 11 1 7 1 2 1 8 1 5 1 3 1 17 1 7 1 3 1 6 1 1 1 1 1 5 1 1 2 10 1 3 1 9 1 3 1 4 2 4 1 16 1 5 1 9 1 19 1 6 3 5 1 4 1 1 1 5 1 4 1 1 1 2 2 4 2 3 1 6 2 1 1 1 1 4 1 2 1 3 3 1 1 1 1 3 1 1 1 2 1 13 1 3075"/><path d="M0 118h478" stroke="#9e3dff" stroke-dasharray="0 166 1 15 1 3 1 36 1 10 2 1 1 8 1 12 1 30 1 14 1 23 1 6 1 3 1 1 2 9 1 9 1 3 2 1 1 5 1 1 1 1 1 3 1 1 1 3 1 2 2 5 2 1 2 7 1 7 1 5 1 3051"/><path d="M0 118h478" stroke="#822bff" stroke-dasharray="0 177 1 180 1 1 1 4 1 5 1 9 2 4 1 1 1 2 1 2 5 5 1 1 5 3 1 1 3 2 1 1 2 4 1 1 1 3045"/><path d="M0 118h478" stroke="#6321ff" stroke-dasharray="0 406 1 6 2 1 1 4 1 1 1 3 3 1 1 1 2 3043"/><path d="M0 118h478" stroke="url(#t6)" stroke-dasharray="0 435 43 3000"/><path d="M0 119h478" stroke="#ebd6ff" stroke-dasharray="3 1 1 1 2 3 1 6 1 1 1 3 1 1 3 14 2 4 1 3 1 2 2 2 2 3 1 3 1 2 4 8 1 4 1 4 1 5 3 1 2 22 1 16 1 9 2 4 1 2 2 15 1 4 1 16 1 17 1 3 1 14 1 30 1 13 1 6 2 5 2 10 1 14 1 17 1 3133"/><path d="M0 119h478" stroke="#d9b2ff" stroke-dasharray="0 3 1 21 1 3 1 4 2 5 1 8 2 2 2 6 1 4 2 9 1 2 2 2 3 5 1 1 2 2 1 3 1 4 1 4 1 2 1 4 2 1 1 1 2 2 2 4 1 3 2 4 2 3 1 2 1 3 2 7 1 9 1 13 2 1 1 9 1 1 1 6 1 3 1 6 1 1 2 7 1 2 1 8 1 3 2 1 2 2 2 4 1 4 1 4 1 6 1 7 2 11 2 10 1 3 1 1 2 8 2 2 1 5 1 2 1 25 1 3108"/><path d="M0 119h478" stroke="#c78fff" stroke-dasharray="0 5 1 26 1 6 1 5 1 18 1 12 1 5 1 13 2 7 2 4 1 1 1 3 2 3 1 1 1 3 1 2 3 2 3 2 1 5 1 3 2 3 1 2 1 1 1 5 1 1 1 7 1 1 1 1 2 1 1 1 1 1 2 2 1 1 4 13 1 1 1 3 1 12 1 2 1 4 1 3 2 3 1 4 1 7 1 4 1 1 1 3 2 1 2 2 1 2 3 1 3 2 1 2 1 1 2 6 1 2 2 1 1 11 2 8 1 2 1 1 1 12 1 7 1 15 1 3103"/><path d="M0 119h478" stroke="#b266ff" stroke-dasharray="0 70 1 38 3 8 1 14 1 7 2 5 1 12 1 7 1 1 4 2 1 4 1 3 1 10 3 7 2 4 1 4 1 2 1 4 1 1 1 1 1 8 2 2 2 2 1 12 1 2 1 4 1 6 2 1 1 14 1 5 1 3 1 3 1 2 2 2 2 1 1 4 2 2 1 4 1 2 1 1 2 1 1 10 1 3 1 2 1 3118"/><path d="M0 119h478" stroke="#9e3dff" stroke-dasharray="0 115 1 50 1 5 1 29 1 2 1 1 2 7 1 2 1 2 1 6 1 3 1 2 1 13 1 5 2 2 1 2 1 3 1 38 1 8 1 11 1 1 1 12 1 2 2 1 2 1 1 1 3 10 2 3 2 5 2 2 1 1 4 3 1 1 2 3 3 1 2 12 1 3061"/><path d="M0 119h478" stroke="#822bff" stroke-dasharray="0 237 1 119 1 2 6 2 1 1 1 2 1 1 3 2 2 1 1 4 3 1 1 2 3 3 1 2 1 3 3 1 1 2 1 1 2 3059"/><path d="M0 119h478" stroke="#6321ff" stroke-dasharray="0 405 3 3 1 1 2 4 9 3050"/><path d="M0 119h478" stroke="url(#t7)" stroke-dasharray="0 428 50 3000"/><path d="M0 120h478" stroke="#ebd6ff" stroke-dasharray="0 6 1 3 1 1 1 7 1 11 3 3 1 3 1 2 1 1 1 4 1 1 1 3 1 2 1 2 1 1 1 6 1 4 1 30 2 9 1 2 1 5 1 51 1 16 1 25 1 46 1 13 1 5 1 7 1 16 1 3161"/><path d="M0 120h478" stroke="#d9b2ff" stroke-dasharray="0 9 1 3 2 1 1 5 4 2 1 1 2 5 1 1 1 4 1 1 1 2 2 6 1 1 2 1 1 6 3 2 3 4 1 2 3 1 1 1 1 5 1 1 4 6 1 6 1 1 2 5 2 1 2 4 1 6 1 9 3 5 1 3 1 6 1 6 1 10 1 2 1 1 1 2 1 11 2 1 1 4 1 15 1 22 3 11 1 1 1 5 1 7 1 1 1 9 2 2 1 9 2 1 1 11 1 3 1 7 1 3140"/><path d="M0 120h478" stroke="#c78fff" stroke-dasharray="0 27 1 7 2 6 1 12 1 6 1 3 1 4 1 4 1 1 2 6 1 1 1 3 2 7 3 2 1 3 2 6 1 1 2 3 1 3 1 4 1 1 1 1 1 1 3 1 2 1 2 5 1 1 1 1 1 1 1 4 1 4 2 1 1 4 1 3 2 6 1 4 1 2 3 4 1 6 1 2 1 1 1 1 1 9 1 1 2 3 1 3 1 3 2 2 2 9 1 8 1 3 1 1 1 1 1 1 1 2 1 5 3 1 3 9 2 2 2 4 1 5 2 10 2 3144"/><path d="M0 120h478" stroke="#b266ff" stroke-dasharray="0 92 1 2 1 1 1 7 1 8 1 1 1 15 1 1 1 3 1 5 1 2 1 5 1 2 1 3 1 2 3 2 1 4 1 4 1 1 1 7 1 4 1 3 1 4 3 4 1 1 2 4 1 1 1 1 1 1 1 1 1 1 1 8 1 1 2 3 2 2 1 14 2 1 1 8 1 5 1 2 1 3 1 7 1 6 2 2 2 4 1 4 3 2 2 4 1 2 1 7 2 1 1 7 1 4 1 9 1 17 1 3094"/><path d="M0 120h478" stroke="#9e3dff" stroke-dasharray="0 106 1 29 1 17 1 15 1 4 1 9 2 2 1 15 1 8 1 11 1 1 2 4 2 4 1 1 1 5 1 2 3 3 1 1 1 4 1 1 2 4 1 42 1 8 1 1 2 2 1 4 1 2 1 2 1 1 7 1 2 1 1 1 2 1 1 3 2 2 3 5 1 9 1 13 1 5 1 3072"/><path d="M0 120h478" stroke="#822bff" stroke-dasharray="0 222 1 35 1 75 1 1 1 16 1 4 1 1 3 8 4 1 5 1 1 1 1 1 2 1 7 1 2 1 2 1 2 2 1 2 2 3066"/><path d="M0 120h478" stroke="#6321ff" stroke-dasharray="0 366 1 3 1 10 1 6 1 7 1 5 1 3 1 1 2 2 8 3058"/><path d="M0 120h478" stroke="url(#t8)" stroke-dasharray="0 420 58 3000"/><path d="M0 121h478" stroke="#ebd6ff" stroke-dasharray="2 1 3 2 2 2 3 1 2 7 1 7 1 10 2 1 1 2 2 12 1 3 1 29 2 42 1 12 1 21 1 2 1 5 1 11 1 14 1 3264"/><path d="M0 121h478" stroke="#d9b2ff" stroke-dasharray="0 2 1 8 1 8 2 4 1 1 1 2 1 2 1 6 1 1 1 4 2 2 2 1 1 2 2 5 2 6 1 4 1 1 1 1 1 8 1 1 1 2 2 2 1 7 2 2 1 9 1 4 2 2 1 2 1 3 1 31 1 8 1 4 1 2 1 21 2 7 1 6 1 2 1 7 1 15 1 8 1 13 1 2 3 1 1 3 1 2 1 17 1 4 1 3165"/><path d="M0 121h478" stroke="#c78fff" stroke-dasharray="0 10 1 4 1 3 1 9 1 6 1 9 1 10 1 2 3 4 1 1 4 1 1 2 1 1 1 3 1 1 1 2 3 1 1 1 1 6 2 3 1 3 1 3 1 1 1 4 1 8 1 2 1 1 1 3 2 2 1 3 1 1 1 8 1 1 1 1 1 2 1 5 1 3 1 7 1 1 1 6 1 7 2 2 1 3 1 2 2 2 2 12 1 1 1 3 1 2 1 14 1 1 1 1 1 2 1 2 1 1 2 4 2 1 1 6 1 1 1 1 1 1 1 6 2 1 1 1 1 1 1 2 1 8 1 3 1 1 2 6 1 8 1 3141"/><path d="M0 121h478" stroke="#b266ff" stroke-dasharray="0 54 1 20 2 7 1 1 2 7 1 7 3 1 1 15 1 1 2 2 1 2 1 4 1 3 1 2 3 1 1 3 1 3 1 2 1 1 1 1 2 1 3 3 1 1 1 1 1 1 1 2 2 6 3 1 3 3 1 2 1 3 1 7 1 2 1 4 3 1 2 4 3 5 5 2 2 2 1 10 1 4 4 2 1 2 1 7 1 5 1 1 2 4 1 6 1 3 1 1 1 6 1 2 1 1 2 1 1 2 2 4 1 3 1 16 1 3121"/><path d="M0 121h478" stroke="#9e3dff" stroke-dasharray="0 111 1 1 1 3 3 16 1 13 2 1 1 3 1 11 1 3 1 14 1 7 2 5 1 1 1 1 1 11 2 9 1 6 1 1 1 5 1 3 2 5 1 2 1 4 1 12 1 10 1 2 1 4 1 3 1 1 2 2 1 3 1 3 1 1 1 5 1 2 1 2 1 2 4 2 2 1 1 2 3 1 4 1 2 1 1 1 2 4 1 7 1 7 1 3098"/><path d="M0 121h478" stroke="#822bff" stroke-dasharray="0 221 1 24 1 11 1 56 1 25 2 3 1 4 1 2 1 4 4 1 7 2 1 1 4 1 3 3 1 4 3 1 1 2 2 3078"/><path d="M0 121h478" stroke="#6321ff" stroke-dasharray="0 372 1 1 1 8 3 1 4 3 1 1 2 2 10 3068"/><path d="M0 121h478" stroke="url(#t9)" stroke-dasharray="0 410 68 3000"/><path d="M0 122h478" stroke="#ebd6ff" stroke-dasharray="0 3 2 2 1 3 1 3 1 1 1 4 3 4 1 1 1 3 1 6 1 2 1 14 1 5 1 1 1 18 1 19 2 3 1 29 1 25 1 131 1 3177"/><path d="M0 122h478" stroke="#d9b2ff" stroke-dasharray="1 4 1 3 1 2 3 3 1 1 1 5 2 9 2 5 1 2 3 2 2 1 2 1 1 3 1 2 1 4 1 1 2 3 6 8 1 6 1 10 1 8 1 14 1 1 1 9 1 12 1 1 1 11 1 9 1 10 1 9 1 11 1 8 1 81 1 3171"/><path d="M0 122h478" stroke="#c78fff" stroke-dasharray="0 8 1 1 1 14 1 6 1 6 3 1 1 7 1 7 1 9 1 1 1 4 1 7 1 8 1 1 1 1 1 1 1 5 1 4 2 1 2 2 1 4 5 3 3 1 1 3 2 7 2 2 2 2 1 3 1 3 1 20 3 2 1 6 1 3 1 20 1 11 1 14 3 2 1 3 1 6 1 6 1 5 2 4 1 1 2 16 1 20 1 2 1 3150"/><path d="M0 122h478" stroke="#b266ff" stroke-dasharray="0 36 1 13 1 3 1 2 1 6 1 2 1 6 2 7 1 2 1 2 2 1 1 1 1 1 1 3 1 1 3 1 1 8 2 2 1 1 1 5 3 6 2 2 2 2 1 4 1 3 1 2 2 15 2 2 1 2 1 2 1 3 1 3 1 3 1 2 2 4 3 1 7 3 3 4 1 2 1 3 1 1 1 1 1 1 3 3 1 2 1 8 1 4 3 3 3 3 1 6 2 5 1 1 3 1 3 1 1 6 2 1 1 1 2 1 3 1 2 2 2 8 1 1 1 3 1 3 1 3137"/><path d="M0 122h478" stroke="#9e3dff" stroke-dasharray="0 63 1 21 1 57 1 2 1 3 1 3 1 6 2 1 4 1 3 3 2 1 2 1 1 6 1 1 1 1 1 1 1 2 1 3 2 4 1 8 1 5 2 3 1 1 3 5 1 3 2 2 1 5 2 1 2 2 3 4 2 3 1 1 1 1 2 3 1 4 1 3 1 3 1 3 1 1 2 1 2 5 1 2 1 3 1 2 1 6 2 1 2 3 2 2 2 2 3 2 1 3131"/><path d="M0 122h478" stroke="#822bff" stroke-dasharray="0 217 1 8 1 8 1 7 1 32 1 5 1 39 1 8 1 3 1 9 1 1 8 2 4 2 1 1 3 3 1 1 1 2 1 2 1 6 1 3 1 6 1 3080"/><path d="M0 122h478" stroke="#6321ff" stroke-dasharray="0 323 1 15 1 4 1 10 2 4 2 1 1 3 3 1 1 1 2 1 2 1 6 1 3 1 6 3081"/><path d="M0 122h478" stroke="url(#t10)" stroke-dasharray="0 398 80 3000"/><path d="M0 123h478" stroke="#ebd6ff" stroke-dasharray="0 3 1 2 1 4 2 1 1 2 1 1 1 19 1 5 1 4 1 4 1 1 1 9 1 4 1 3 1 7 1 4 1 5 1 64 1 3317"/><path d="M0 123h478" stroke="#d9b2ff" stroke-dasharray="1 9 1 4 1 4 3 2 2 2 1 3 2 6 2 3 1 1 2 3 1 5 7 9 1 3 2 5 1 3 1 5 2 16 2 5 1 5 1 16 2 8 1 4 1 1 1 1 1 10 1 5 1 2 1 29 1 5 1 3258"/><path d="M0 123h478" stroke="#c78fff" stroke-dasharray="0 8 1 14 2 3 1 1 1 4 1 1 2 4 1 3 1 3 1 2 1 1 1 1 1 7 1 6 2 3 1 4 1 1 1 5 1 10 1 1 1 1 1 4 1 4 2 5 1 5 2 2 3 3 2 9 1 4 2 1 1 8 1 23 2 2 4 11 2 2 1 3 1 6 1 8 1 3 1 2 1 13 1 4 1 1 1 15 1 7 1 2 2 4 1 3 2 7 1 2 1 3 1 3162"/><path d="M0 123h478" stroke="#b266ff" stroke-dasharray="0 13 1 18 1 35 1 1 2 9 2 9 1 5 4 1 1 1 1 1 2 9 2 2 1 2 1 10 3 2 3 3 3 12 1 2 2 1 1 1 1 2 1 1 1 6 1 1 3 1 1 4 1 13 1 7 1 8 1 2 1 1 1 1 1 10 1 7 1 3 1 8 2 5 1 1 1 2 2 7 1 2 2 4 2 2 2 3 2 1 1 3 1 2 1 8 1 6 1 15 1 9 1 3123"/><path d="M0 123h478" stroke="#9e3dff" stroke-dasharray="0 69 1 7 1 10 1 4 2 14 1 2 2 6 1 3 1 1 1 1 1 2 2 18 3 3 1 11 1 1 2 3 4 1 1 5 1 2 1 3 1 4 2 1 3 1 1 1 2 2 1 4 1 2 1 5 1 1 1 1 1 1 2 1 1 1 1 1 2 2 2 2 3 1 3 2 4 1 1 3 2 1 2 1 1 1 1 3 1 1 4 2 1 5 2 3 1 4 1 2 1 1 2 2 1 2 1 3 3 2 3 5 2 2 5 2 1 8 1 20 1 3106"/><path d="M0 123h478" stroke="#822bff" stroke-dasharray="0 110 1 35 1 17 1 24 1 15 1 10 1 4 3 12 1 8 2 20 1 6 1 8 1 30 1 1 1 3 1 5 2 1 1 2 2 5 2 1 2 1 1 1 1 4 1 3 2 4 1 3 1 1 2 4 1 6 1 3096"/><path d="M0 123h478" stroke="#6321ff" stroke-dasharray="0 201 1 123 1 20 1 1 2 1 1 1 1 1 1 2 4 1 3 1 1 2 1 1 2 1 6 1 2 3094"/><path d="M0 123h478" stroke="url(#t11)" stroke-dasharray="0 384 94 3000"/><path d="M0 124h478" stroke="#ebd6ff" stroke-dasharray="0 4 1 6 1 1 1 5 1 1 1 1 1 2 2 2 1 7 2 14 1 10 1 51 1 3360"/><path d="M0 124h478" stroke="#d9b2ff" stroke-dasharray="3 7 1 3 1 2 1 2 1 1 1 1 1 4 1 2 1 2 1 5 1 6 1 4 1 2 3 1 3 3 2 4 3 1 1 1 1 1 1 11 1 7 1 7 1 2 2 1 1 15 1 4 1 69 1 80 1 3191"/><path d="M0 124h478" stroke="#c78fff" stroke-dasharray="0 3 1 2 1 1 1 6 2 1 1 12 1 5 1 2 1 1 1 1 1 2 1 4 1 2 1 7 2 10 1 1 1 4 2 3 2 1 2 4 2 3 1 1 1 20 1 3 1 3 1 5 2 6 1 6 1 3 1 4 1 11 1 4 1 9 2 4 1 2 1 54 1 21 1 1 1 7 1 6 1 14 1 20 1 3149"/><path d="M0 124h478" stroke="#b266ff" stroke-dasharray="0 7 1 20 1 7 1 6 1 1 2 3 2 16 1 1 1 10 1 2 2 3 1 3 1 4 1 3 1 1 1 1 2 1 1 3 1 1 2 1 2 2 2 5 1 1 1 1 2 1 2 3 2 1 2 2 2 1 2 3 1 3 1 2 2 2 1 1 1 3 1 1 1 5 1 1 1 3 1 3 1 7 1 2 1 6 1 14 2 3 1 4 1 2 2 1 1 13 1 2 1 3 1 2 1 2 1 6 1 1 1 2 1 1 1 2 1 5 2 6 3 10 1 3 1 9 1 1 1 4 1 3145"/><path d="M0 124h478" stroke="#9e3dff" stroke-dasharray="0 49 1 9 1 9 1 9 1 6 1 7 2 3 1 5 1 4 1 9 2 3 3 15 1 6 1 3 2 2 2 1 1 3 2 1 1 1 3 3 2 2 1 1 1 1 3 5 3 1 2 2 2 5 2 1 6 1 1 1 4 7 1 4 1 5 2 4 2 2 2 2 1 6 2 2 1 1 4 1 1 6 1 1 2 3 3 3 2 2 1 3 2 2 2 1 1 1 1 6 1 1 1 1 1 1 2 1 1 11 1 3 1 1 1 18 1 3114"/><path d="M0 124h478" stroke="#822bff" stroke-dasharray="0 140 1 6 1 30 1 9 1 14 2 1 1 9 1 1 1 4 1 2 3 2 1 1 1 2 1 2 1 3 4 2 2 5 1 1 3 4 1 6 1 5 1 16 2 6 2 4 1 2 2 4 1 1 1 1 1 8 1 1 3 1 1 1 1 1 1 1 1 2 2 14 1 3115"/><path d="M0 124h478" stroke="#6321ff" stroke-dasharray="0 232 1 81 1 1 1 12 2 5 1 3 1 4 1 2 14 2 7 3107"/><path d="M0 124h478" stroke="url(#t12)" stroke-dasharray="0 371 107 3000"/><path d="M0 125h478" stroke="#ebd6ff" stroke-dasharray="2 13 1 10 1 8 1 9 1 7 1 15 1 5 1 22 1 3379"/><path d="M0 125h478" stroke="#d9b2ff" stroke-dasharray="0 4 3 3 1 1 1 4 1 2 2 2 2 3 4 4 1 1 1 4 1 3 1 2 2 2 1 2 1 3 1 5 1 8 1 2 1 1 2 3 1 2 1 3 1 7 1 1 1 1 1 1 1 3 1 3 1 8 1 66 1 31 1 87 1 3165"/><path d="M0 125h478" stroke="#c78fff" stroke-dasharray="0 11 1 2 1 3 2 7 2 9 1 2 3 2 2 1 2 5 2 2 1 2 2 5 5 1 1 2 1 5 1 2 1 7 2 13 1 1 1 4 2 3 1 12 1 4 1 23 1 17 1 18 1 71 1 12 1 15 1 3174"/><path d="M0 125h478" stroke="#b266ff" stroke-dasharray="0 22 2 12 1 3 1 13 1 4 1 5 3 10 1 2 1 2 1 1 1 2 1 1 2 10 1 5 1 4 2 1 1 2 1 3 1 1 1 1 4 2 1 2 1 4 1 3 1 1 1 2 1 1 1 4 2 11 1 2 2 4 1 3 1 2 2 4 1 4 2 6 1 4 1 2 1 2 1 4 1 6 1 2 1 9 1 2 1 10 1 3 3 1 2 3 1 8 2 2 1 2 1 6 1 1 2 5 2 10 1 1 1 4 1 3157"/><path d="M0 125h478" stroke="#9e3dff" stroke-dasharray="0 93 1 1 1 3 1 1 1 3 1 1 1 2 1 10 2 4 1 4 1 2 1 4 1 2 3 1 1 1 2 3 4 2 1 2 2 2 2 1 1 5 1 1 1 2 2 3 1 2 2 4 1 5 1 1 1 6 1 1 2 2 1 3 2 6 1 2 1 2 2 2 2 1 1 4 2 2 3 2 1 1 1 10 1 1 1 2 1 2 1 6 1 2 1 1 1 2 1 5 1 1 2 4 3 1 1 4 1 4 1 3 2 3 2 1 1 4 1 14 1 3126"/><path d="M0 125h478" stroke="#822bff" stroke-dasharray="0 61 1 71 1 5 1 12 1 8 2 3 1 2 1 2 2 3 1 1 1 5 1 5 1 2 1 1 2 2 1 3 2 1 3 5 1 2 2 3 1 1 3 2 1 2 1 2 2 5 2 3 1 4 2 3 2 3 1 2 2 3 2 4 1 2 1 3 1 4 2 2 1 2 1 1 1 5 1 5 1 5 3 2 2 2 3 4 2 4 4 1 1 1 1 3 1 2 1 3125"/><path d="M0 125h478" stroke="#6321ff" stroke-dasharray="0 240 1 8 1 25 1 5 1 26 1 2 1 18 1 3 2 1 1 4 1 1 1 1 3 1 1 2 6 3119"/><path d="M0 125h478" stroke="url(#t13)" stroke-dasharray="0 359 119 3000"/><path d="M0 126h478" stroke="#ebd6ff" stroke-dasharray="1 1 1 4 2 4 1 3 3 3 2 2 1 8 2 2 1 11 1 13 1 40 1 24 1 3345"/><path d="M0 126h478" stroke="#d9b2ff" stroke-dasharray="0 4 2 4 1 3 3 3 2 3 2 1 3 4 1 3 1 3 1 2 1 4 1 1 2 4 1 4 1 6 1 3 1 5 1 11 1 1 1 2 1 6 1 3 1 26 1 12 1 16 1 39 1 3271"/><path d="M0 126h478" stroke="#c78fff" stroke-dasharray="0 22 1 9 2 10 2 1 2 7 2 5 1 9 1 3 2 1 1 2 1 3 1 1 1 6 1 5 1 3 1 1 1 3 3 1 2 1 1 3 2 6 1 12 1 16 2 14 1 2 1 3297"/><path d="M0 126h478" stroke="#b266ff" stroke-dasharray="0 9 1 21 1 2 1 6 1 7 2 7 1 1 3 2 1 1 1 1 1 4 1 1 1 2 1 4 3 3 3 1 1 2 1 1 3 2 1 10 1 9 1 4 1 2 1 1 1 10 3 1 4 2 2 2 1 3 1 2 1 2 1 4 2 4 1 2 1 2 1 1 1 3 1 4 1 2 1 2 1 15 1 19 1 22 1 6 1 1 1 3 2 7 1 4 1 15 1 9 1 3161"/><path d="M0 126h478" stroke="#9e3dff" stroke-dasharray="0 42 1 12 1 14 1 1 1 9 1 5 1 14 1 6 2 6 1 1 3 3 4 7 7 1 1 8 2 2 2 3 1 4 2 1 3 4 2 2 1 7 1 1 1 1 1 7 1 2 1 3 1 2 1 1 1 2 1 6 4 1 1 1 2 2 1 1 2 4 1 6 2 3 1 1 1 4 1 2 1 1 1 3 1 2 1 3 2 1 2 3 3 3 3 4 1 2 1 2 1 3 3 2 2 1 2 3159"/><path d="M0 126h478" stroke="#822bff" stroke-dasharray="0 134 1 30 1 8 1 8 1 1 2 1 1 2 1 3 1 1 1 1 1 3 1 4 1 1 2 1 1 1 2 1 2 2 2 6 1 2 2 4 1 1 2 1 2 1 2 4 2 1 1 2 3 4 1 1 2 3 1 1 1 4 1 2 2 4 1 1 1 3 4 1 2 1 2 2 1 4 2 5 2 1 3 1 3 1 2 5 1 2 2 3 4 3129"/><path d="M0 126h478" stroke="#6321ff" stroke-dasharray="0 196 1 3 1 6 1 13 1 6 1 7 1 9 1 2 1 2 1 5 1 5 1 43 1 12 1 3 1 3 1 2 5 1 2 2 3 4 3 3126"/><path d="M0 126h478" stroke="url(#t14)" stroke-dasharray="0 352 126 3000"/><path d="M0 127h478" stroke="#ebd6ff" stroke-dasharray="1 1 1 2 1 6 1 6 1 6 1 2 1 9 1 6 1 8 1 2 1 20 1 23 1 3 1 3370"/><path d="M0 127h478" stroke="#d9b2ff" stroke-dasharray="0 8 1 1 1 2 3 12 1 3 2 2 1 10 1 1 2 1 1 14 1 4 1 2 1 17 1 22 1 28 1 38 1 3293"/><path d="M0 127h478" stroke="#c78fff" stroke-dasharray="0 4 1 2 1 3 1 4 1 3 3 1 1 5 1 4 1 5 2 1 1 3 1 2 1 2 1 1 1 3 1 2 1 4 1 4 2 1 1 6 1 3 1 1 2 1 1 1 1 1 1 1 3 7 1 9 1 2 1 11 1 14 1 140 1 3188"/><path d="M0 127h478" stroke="#b266ff" stroke-dasharray="0 18 1 8 1 3 1 2 1 2 2 1 1 2 1 1 1 11 1 1 1 1 1 2 2 5 1 6 1 2 2 1 3 4 1 3 1 1 1 3 2 1 1 1 1 2 2 1 2 12 2 4 1 9 3 1 1 8 2 1 2 6 2 1 1 1 1 6 3 21 1 26 1 65 1 5 1 1 1 3174"/><path d="M0 127h478" stroke="#9e3dff" stroke-dasharray="0 3 1 49 1 16 1 6 1 2 1 7 1 16 1 5 1 2 2 1 1 1 1 2 4 2 1 1 2 2 2 1 1 1 3 5 1 2 2 1 2 2 1 2 3 1 2 4 1 3 4 3 2 5 2 4 2 3 3 1 2 1 1 5 1 4 1 1 1 1 1 6 1 7 1 4 1 1 1 10 2 2 1 3 1 2 1 1 1 6 1 2 1 2 2 1 1 3 1 5 1 4 1 11 1 2 1 6 1 4 1 3152"/><path d="M0 127h478" stroke="#822bff" stroke-dasharray="0 120 1 8 1 6 1 1 1 10 1 13 1 4 1 3 1 10 1 1 3 2 4 2 3 6 1 1 5 1 2 1 1 1 1 1 1 2 3 7 1 1 1 1 1 6 1 1 3 4 1 2 1 2 3 4 1 1 4 1 1 1 2 1 1 3 1 1 1 3 1 1 1 1 1 1 1 1 2 1 2 1 1 1 6 1 1 2 1 1 1 1 1 2 3 3 2 1 1 4 1 1 1 4 1 3135"/><path d="M0 127h478" stroke="#6321ff" stroke-dasharray="0 152 1 20 1 41 1 6 1 3 2 2 3 1 1 3 3 1 1 2 1 3 4 4 1 5 2 7 1 6 1 5 2 4 1 20 1 2 1 1 1 1 1 4 1 1 1 2 1 1 4 1 1 1 4 1 2 3133"/><path d="M0 127h478" stroke="url(#t15)" stroke-dasharray="0 345 133 3000"/><path d="M0 128h478" stroke="#ebd6ff" stroke-dasharray="3 6 1 8 1 20 1 21 1 19 1 19 1 3376"/><path d="M0 128h478" stroke="#d9b2ff" stroke-dasharray="0 4 2 4 1 4 1 4 1 1 1 1 1 2 1 5 2 2 1 2 1 3 3 4 1 6 2 9 1 1 2 3 2 10 1 7 1 31 1 35 1 3313"/><path d="M0 128h478" stroke="#c78fff" stroke-dasharray="0 3 1 9 1 2 1 2 1 1 1 1 1 6 3 2 2 4 2 4 1 4 1 11 1 2 2 10 1 2 1 2 3 2 2 2 1 12 1 6 1 11 1 48 1 3302"/><path d="M0 128h478" stroke="#b266ff" stroke-dasharray="0 6 1 1 1 2 2 4 1 8 1 2 1 13 1 4 3 2 1 2 2 2 1 2 1 1 2 6 1 1 1 2 1 1 1 2 2 4 1 2 2 1 1 1 1 1 1 2 5 3 1 1 2 1 1 1 1 2 1 1 2 10 1 3 2 11 1 4 1 17 1 9 1 129 1 3163"/><path d="M0 128h478" stroke="#9e3dff" stroke-dasharray="0 38 1 15 1 7 1 7 1 3 1 23 1 1 1 7 2 1 1 6 2 1 1 2 2 1 1 1 2 1 1 4 1 2 1 1 3 2 1 1 2 1 2 3 1 2 4 1 1 5 3 5 1 3 1 1 1 1 1 3 1 1 1 4 1 4 1 13 1 8 1 3 2 8 1 22 1 14 1 19 2 4 1 4 1 3168"/><path d="M0 128h478" stroke="#822bff" stroke-dasharray="0 116 1 14 1 1 1 1 2 4 1 3 2 1 1 5 2 2 2 6 5 5 3 1 1 1 1 5 2 4 4 1 4 2 7 1 3 2 3 1 1 2 1 1 1 1 1 3 2 4 1 1 1 2 1 2 2 1 3 2 3 2 1 1 1 1 1 1 1 1 1 1 1 1 2 2 1 2 2 1 5 2 9 2 3 2 1 1 2 1 2 1 1 1 1 4 1 5 1 3151"/><path d="M0 128h478" stroke="#6321ff" stroke-dasharray="0 181 1 4 1 3 1 1 1 11 1 7 1 3 1 4 1 1 2 3 1 3 1 2 4 3 2 1 2 2 1 3 2 3 2 1 1 3 1 1 1 1 1 1 1 2 2 1 1 3 1 5 2 14 1 2 1 5 1 3 4 1 5 1 11 3140"/><path d="M0 128h478" stroke="url(#t16)" stroke-dasharray="0 338 140 3000"/><path d="M0 129h478" stroke="#ebd6ff" stroke-dasharray="1 7 1 2 1 1 1 2 1 1 1 8 1 7 1 17 1 1 1 15 1 3406"/><path d="M0 129h478" stroke="#d9b2ff" stroke-dasharray="0 2 2 1 1 1 1 4 1 4 1 1 1 1 1 1 1 1 1 2 1 2 2 1 1 3 1 1 1 4 1 1 3 7 1 2 1 9 1 3 1 38 1 3364"/><path d="M0 129h478" stroke="#c78fff" stroke-dasharray="0 20 1 9 1 2 1 7 2 1 1 5 2 4 1 2 1 1 1 1 1 1 1 9 1 2 2 2 1 10 2 3 1 2 1 7 1 1 1 7 1 3358"/><path d="M0 129h478" stroke="#b266ff" stroke-dasharray="0 24 1 1 1 2 1 6 2 1 1 3 1 2 1 5 1 1 1 7 1 1 1 1 1 1 2 2 2 2 2 6 1 1 1 1 2 1 2 3 2 1 2 2 2 1 1 3 1 3 1 2 1 2 1 2 2 1 1 2 1 1 1 5 1 3 1 6 1 2 1 10 1 13 1 3 1 5 1 1 1 6 1 1 1 49 1 3230"/><path d="M0 129h478" stroke="#9e3dff" stroke-dasharray="0 58 1 8 1 12 2 8 1 4 1 6 1 4 1 4 1 2 1 2 1 3 1 4 1 4 1 2 1 3 2 1 1 1 4 2 1 1 6 3 1 1 1 3 1 3 2 5 2 2 3 11 1 1 1 32 1 36 1 45 1 1 1 3161"/><path d="M0 129h478" stroke="#822bff" stroke-dasharray="0 83 1 1 1 1 1 17 1 2 1 12 1 3 1 2 1 1 1 2 2 1 1 1 1 4 1 5 1 8 3 3 3 1 3 2 3 1 1 7 1 1 1 1 2 1 2 5 4 3 1 1 3 1 3 1 1 2 3 3 1 3 2 2 6 1 2 3 2 1 1 1 2 1 1 3 1 2 2 1 2 2 1 1 2 1 1 2 1 2 2 1 1 5 5 1 1 2 1 1 3 2 1 2 1 2 1 3 1 1 1 2 1 3 1 3155"/><path d="M0 129h478" stroke="#6321ff" stroke-dasharray="0 116 1 64 1 9 1 2 1 8 3 1 1 3 1 3 1 1 2 3 3 1 3 3 1 6 1 2 3 4 1 2 1 1 3 1 2 2 1 2 2 4 1 1 2 1 2 2 1 1 5 5 1 1 2 1 1 3 2 1 2 1 2 1 3 4 1 1 3 1 7 3148"/><path d="M0 129h478" stroke="url(#t17)" stroke-dasharray="0 330 148 3000"/><path d="M0 130h478" stroke="#ebd6ff" stroke-dasharray="2 4 1 6 1 6 1 3 1 27 1 15 1 1 1 1 1 3405"/><path d="M0 130h478" stroke="#d9b2ff" stroke-dasharray="0 7 1 15 1 3 1 1 2 6 1 10 1 2 1 1 1 3 1 1 1 7 1 7 1 2 1 20 1 11 1 3366"/><path d="M0 130h478" stroke="#c78fff" stroke-dasharray="0 2 2 1 1 2 1 1 3 6 1 2 1 3 1 4 1 1 2 1 1 12 1 6 1 3 2 1 1 1 2 6 1 6 1 1 2 3 1 1 1 7 1 2 1 4 1 3 1 4 1 9 1 13 1 7 1 8 1 3322"/><path d="M0 130h478" stroke="#b266ff" stroke-dasharray="0 4 1 4 1 4 1 1 2 3 1 6 1 3 1 2 1 2 2 3 2 1 1 3 1 3 2 2 1 3 1 1 1 11 2 1 1 1 1 2 1 3 1 1 7 1 1 3 3 2 1 7 2 2 1 9 2 4 2 8 1 159 1 3172"/><path d="M0 130h478" stroke="#9e3dff" stroke-dasharray="0 18 1 21 2 3 1 25 1 2 1 10 1 15 1 4 1 3 1 1 2 7 1 3 3 3 1 1 1 3 1 1 5 3 2 3 2 2 5 8 1 1 1 6 1 3 1 3 2 3 1 15 1 16 1 72 1 3180"/><path d="M0 130h478" stroke="#822bff" stroke-dasharray="0 47 1 60 1 8 2 1 1 1 2 4 1 3 1 1 1 9 1 4 3 2 1 6 8 1 1 3 3 6 3 3 2 1 3 1 5 1 4 2 2 2 4 2 1 2 2 2 1 2 5 1 1 1 1 3 3 26 1 5 1 3 1 2 1 2 3 1 3 2 1 4 2 1 1 1 1 15 1 3157"/><path d="M0 130h478" stroke="#6321ff" stroke-dasharray="0 172 2 3 1 1 3 6 1 6 1 5 1 4 1 3 2 4 2 1 2 2 1 2 2 5 1 1 1 1 3 3 26 1 5 1 3 1 2 1 2 3 1 3 2 1 2 1 1 2 1 1 1 2 14 1 1 3156"/><path d="M0 130h478" stroke="url(#t18)" stroke-dasharray="0 322 156 3000"/><path d="M0 131h478" stroke="#ebd6ff" stroke-dasharray="0 3 2 12 1 8 1 8 1 2 1 34 1 12 1 3391"/><path d="M0 131h478" stroke="#d9b2ff" stroke-dasharray="0 5 3 5 1 1 1 8 1 2 1 2 2 1 2 9 1 2 2 4 1 4 1 10 1 6 1 5 1 9 1 2 3 2 1 14 1 1 1 3360"/><path d="M0 131h478" stroke="#c78fff" stroke-dasharray="2 7 1 1 2 10 1 8 1 3 2 5 1 1 1 5 2 3 1 2 2 2 1 2 2 9 1 2 2 2 1 3 1 1 1 7 1 2 1 9 1 1 1 10 1 34 1 27 1 3290"/><path d="M0 131h478" stroke="#b266ff" stroke-dasharray="0 8 1 5 1 3 5 2 1 3 1 11 1 4 1 2 1 4 2 5 2 7 2 15 1 1 1 1 1 2 1 9 1 5 1 3 1 6 1 1 1 3 1 4 1 3 1 2 1 3 1 5 1 24 1 3303"/><path d="M0 131h478" stroke="#9e3dff" stroke-dasharray="0 16 1 11 1 21 1 6 1 6 2 2 1 5 2 2 2 3 1 1 1 7 1 8 2 1 2 1 1 3 1 3 1 2 1 2 1 3 1 1 1 1 1 2 1 1 1 2 1 2 1 4 3 2 2 2 1 4 1 2 2 1 4 3 1 2 3 17 1 3281"/><path d="M0 131h478" stroke="#822bff" stroke-dasharray="0 39 1 32 1 26 1 7 1 1 1 8 1 1 1 4 1 3 1 1 1 2 1 2 1 2 1 1 1 2 1 4 1 2 2 1 3 2 1 3 1 4 3 2 1 3 6 4 1 3 1 1 1 2 2 1 1 1 1 4 2 3 2 1 2 1 1 4 3 2 1 3 1 2 2 23 1 4 1 2 1 5 2 1 1 5 1 3 1 2 4 1 1 2 1 3 1 3174"/><path d="M0 131h478" stroke="#6321ff" stroke-dasharray="0 144 1 17 1 22 2 1 1 1 3 1 1 2 1 2 1 1 1 1 4 2 3 2 1 2 1 1 4 3 2 1 3 1 2 2 23 1 4 1 2 1 5 2 1 1 5 1 3 1 2 4 1 1 2 1 3 1 10 3164"/><path d="M0 131h478" stroke="url(#t19)" stroke-dasharray="0 314 164 3000"/><path d="M0 132h478" stroke="#ebd6ff" stroke-dasharray="0 3 2 2 1 4 1 5 1 9 1 3 1 4 1 3440"/><path d="M0 132h478" stroke="#d9b2ff" stroke-dasharray="0 1 2 3 1 1 1 2 1 11 2 4 1 5 2 1 1 2 1 1 3 1 1 1 2 14 1 6 1 3 1 1 2 1 1 1 1 11 1 12 1 3369"/><path d="M0 132h478" stroke="#c78fff" stroke-dasharray="1 8 1 4 2 1 1 1 2 4 2 12 2 5 1 4 3 5 2 5 3 16 1 12 1 15 1 3 1 9 1 24 1 9 1 3314"/><path d="M0 132h478" stroke="#b266ff" stroke-dasharray="0 21 2 7 1 3 1 7 1 5 1 5 4 5 2 4 3 2 2 1 1 6 1 1 1 1 1 2 2 4 1 1 1 6 1 4 1 9 2 2 1 12 1 2 1 4 1 3 1 22 1 3304"/><path d="M0 132h478" stroke="#9e3dff" stroke-dasharray="0 27 1 33 2 10 1 6 1 6 1 1 2 2 2 1 1 3 3 1 2 1 1 1 1 2 2 1 2 2 2 2 2 1 1 2 4 7 1 2 1 1 1 2 1 6 2 2 1 1 2 2 2 2 1 5 1 5 2 1 1 4 1 2 1 109 1 3175"/><path d="M0 132h478" stroke="#822bff" stroke-dasharray="0 82 1 20 1 6 1 6 1 9 1 5 5 1 1 2 1 1 1 2 1 1 1 1 2 1 1 2 1 6 1 2 2 2 2 1 1 1 3 1 1 2 1 6 2 4 1 2 1 2 2 2 1 3 2 2 2 11 1 18 1 7 1 16 1 3 1 1 1 3 1 2 1 4 1 5 2 3181"/><path d="M0 132h478" stroke="#6321ff" stroke-dasharray="0 158 1 1 1 9 1 8 1 5 4 4 3 1 2 1 2 2 2 1 3 2 2 2 11 1 18 1 7 1 16 1 3 1 1 1 3 1 2 1 4 1 5 2 5 1 3 3172"/><path d="M0 132h478" stroke="url(#t20)" stroke-dasharray="0 306 172 3000"/><path d="M0 133h478" stroke="#ebd6ff" stroke-dasharray="0 5 1 1 2 5 1 12 1 4 1 42 1 10 1 3391"/><path d="M0 133h478" stroke="#d9b2ff" stroke-dasharray="0 4 1 4 1 1 1 10 1 2 1 2 2 5 1 6 2 2 1 3 1 1 1 9 1 8 1 9 1 5 1 10 1 3379"/><path d="M0 133h478" stroke="#c78fff" stroke-dasharray="0 3 1 6 1 4 1 2 1 2 1 4 1 4 1 2 1 2 1 2 2 3 1 1 2 2 1 3 3 5 1 2 1 6 1 3 1 6 1 9 1 1 1 2 1 4 1 6 2 2 2 5 1 1 1 3 1 3349"/><path d="M0 133h478" stroke="#b266ff" stroke-dasharray="1 5 1 5 2 3 1 2 1 3 1 5 1 8 1 4 1 4 1 3 2 3 1 1 1 3 1 2 4 1 1 3 1 1 3 1 1 5 1 1 3 8 1 1 1 1 2 2 2 2 1 5 2 10 1 2 1 6 1 3 1 33 1 31 1 3266"/><path d="M0 133h478" stroke="#9e3dff" stroke-dasharray="0 19 1 3 1 12 1 1 1 20 1 1 1 12 1 8 1 1 1 3 1 3 1 1 1 1 1 10 1 5 1 3 1 2 1 3 1 1 1 1 2 1 2 1 3 1 1 4 1 1 2 8 6 2 1 1 1 6 2 3 1 5 1 4 1 3288"/><path d="M0 133h478" stroke="#822bff" stroke-dasharray="0 65 1 34 1 1 1 4 1 9 1 5 1 2 1 11 1 1 1 1 2 4 1 2 5 6 2 1 1 1 1 2 3 2 3 2 2 1 1 3 2 1 1 2 2 1 1 1 1 3 3 3 2 2 3 3263"/><path d="M0 133h478" stroke="#6321ff" stroke-dasharray="0 149 2 17 2 12 1 2 2 4 2 2 1 1 1 1 3 3 3 2 1 4 18 3245"/><path d="M0 133h478" stroke="url(#t21)" stroke-dasharray="0 233 245 3000"/><path d="M0 134h478" stroke="#ebd6ff" stroke-dasharray="0 1 1 1 1 4 1 2 1 2 1 13 1 12 1 3436"/><path d="M0 134h478" stroke="#d9b2ff" stroke-dasharray="0 2 1 2 3 1 1 5 1 2 1 3 2 1 1 1 1 6 1 1 1 5 3 1 1 4 1 4 1 5 1 8 1 21 1 5 1 24 1 3353"/><path d="M0 134h478" stroke="#c78fff" stroke-dasharray="0 16 2 1 3 2 1 1 1 2 1 2 1 4 1 7 1 1 3 3 1 3 1 2 1 3 2 9 1 4 2 5 2 1 1 6 1 3 1 2 1 1 2 1 2 1 1 3 1 3361"/><path d="M0 134h478" stroke="#b266ff" stroke-dasharray="0 12 1 17 2 1 1 4 3 9 1 1 1 6 1 1 1 5 2 1 1 2 1 8 1 1 1 7 1 3 1 1 1 3 2 7 1 3 1 3 2 4 3 8 1 1 1 1 1 1 1 13 1 3321"/><path d="M0 134h478" stroke="#9e3dff" stroke-dasharray="0 54 2 2 1 7 1 2 1 2 1 1 1 1 3 4 1 1 2 2 1 1 1 2 2 4 1 4 1 7 2 6 3 4 1 1 2 1 3 3 1 1 1 6 2 3 1 5 1 5 1 1 1 2 1 4 1 1 1 1 1 3298"/><path d="M0 134h478" stroke="#822bff" stroke-dasharray="0 63 1 44 1 8 2 10 1 2 1 4 1 5 5 2 3 1 2 1 2 1 1 1 3 3 1 2 3 2 1 1 1 1 3 1 1 1 2 1 3 3 2 1 1 1 1 1 1 3 2 11 1 1 1 1 1 2 1 3251"/><path d="M0 134h478" stroke="#6321ff" stroke-dasharray="0 161 1 4 1 2 1 4 1 8 1 1 1 2 1 3 3 2 1 1 1 1 1 1 3 2 11 1 1 1 1 1 2 1 1 3250"/><path d="M0 134h478" stroke="url(#t22)" stroke-dasharray="0 228 250 3000"/><path d="M0 135h478" stroke="#ebd6ff" stroke-dasharray="0 13 1 24 1 5 1 22 1 5 1 2 1 3401"/><path d="M0 135h478" stroke="#d9b2ff" stroke-dasharray="0 2 2 1 1 4 1 1 1 1 1 1 2 1 3 4 1 1 1 1 2 18 1 1 2 1 2 29 1 14 1 3376"/><path d="M0 135h478" stroke="#c78fff" stroke-dasharray="0 8 2 15 1 3 1 2 1 3 1 2 2 2 1 1 1 3 1 1 1 5 3 2 2 5 4 2 1 3 2 2 2 5 1 2 1 5 2 2 1 2 2 2 1 1 1 1 2 5 1 1 1 8 1 3345"/><path d="M0 135h478" stroke="#b266ff" stroke-dasharray="0 24 1 8 2 2 1 3 2 3 2 6 1 5 1 3 3 1 1 13 1 2 1 1 1 1 1 5 2 7 1 6 1 5 3 14 1 4 2 13 1 3323"/><path d="M0 135h478" stroke="#9e3dff" stroke-dasharray="0 23 1 24 1 12 1 12 1 2 2 2 1 6 1 2 2 1 1 3 1 3 1 2 1 2 2 3 1 2 1 3 1 1 1 1 1 4 3 3 1 6 2 6 4 1 1 2 2 6 2 3 1 16 2 3288"/><path d="M0 135h478" stroke="#822bff" stroke-dasharray="0 97 1 27 4 4 1 2 3 2 1 2 6 6 2 2 6 2 3 1 6 1 2 1 2 1 3 2 1 1 2 3 1 2 2 3 1 3 1 6 1 3261"/><path d="M0 135h478" stroke="#6321ff" stroke-dasharray="0 178 1 2 1 2 1 6 1 2 3 1 2 2 3 1 3 1 6 1 12 3249"/><path d="M0 135h478" stroke="url(#t23)" stroke-dasharray="0 229 249 3000"/><path d="M0 136h478" stroke="#ebd6ff" stroke-dasharray="0 5 1 4 1 12 1 10 1 21 1 35 1 18 1 3366"/><path d="M0 136h478" stroke="#d9b2ff" stroke-dasharray="2 1 2 1 1 1 2 1 2 2 1 1 1 2 1 1 1 6 2 1 1 4 2 2 1 6 1 1 3 4 3 1 1 6 1 10 1 7 1 9 1 12 1 11 1 3355"/><path d="M0 136h478" stroke="#c78fff" stroke-dasharray="0 2 1 4 1 8 1 1 1 2 1 4 1 1 1 2 1 3 2 5 2 9 3 7 2 1 2 7 1 1 2 1 1 1 1 5 1 11 1 5 1 1 1 25 1 10 1 40 1 3291"/><path d="M0 136h478" stroke="#b266ff" stroke-dasharray="0 13 2 4 1 4 2 1 1 11 1 4 4 1 1 12 1 2 1 4 5 1 1 4 1 1 2 1 1 2 1 1 1 1 2 4 1 5 1 3 1 4 2 2 1 2 1 2 1 7 2 1 3 6 1 9 1 5 1 3317"/><path d="M0 136h478" stroke="#9e3dff" stroke-dasharray="0 40 1 19 1 8 1 15 1 4 1 4 2 5 3 7 1 3 2 2 1 2 1 1 1 2 1 1 2 9 3 5 1 5 1 1 1 5 2 1 1 2 1 13 2 2 1 1 1 20 1 3267"/><path d="M0 136h478" stroke="#822bff" stroke-dasharray="0 98 1 2 1 11 1 5 1 6 2 1 1 8 3 5 3 1 4 2 1 1 2 1 2 4 2 1 7 2 2 4 1 4 2 1 2 2 2 1 1 1 1 1 3 5 1 3 1 4 1 3 1 5 1 3246"/><path d="M0 136h478" stroke="#6321ff" stroke-dasharray="0 107 1 57 1 11 2 2 2 5 1 3 1 2 2 2 1 1 1 1 1 3 3 1 1 1 3 1 4 1 3 1 5 1 1 3245"/><path d="M0 136h478" stroke="url(#t24)" stroke-dasharray="0 233 245 3000"/><path d="M0 137h478" stroke="#ebd6ff" stroke-dasharray="0 3 1 3 1 4 1 2 1 1 1 2 1 1 2 12 1 2 1 1 3 39 1 14 1 3379"/><path d="M0 137h478" stroke="#d9b2ff" stroke-dasharray="0 2 1 6 1 1 1 2 1 1 1 9 1 3 1 2 1 1 1 8 3 10 1 7 1 5 1 1 2 13 2 2 1 1 1 21 1 6 1 37 1 3316"/><path d="M0 137h478" stroke="#c78fff" stroke-dasharray="0 1 1 3 1 4 1 7 2 1 1 3 1 1 2 5 1 2 1 10 7 3 2 3 1 2 1 1 1 3 1 2 2 1 1 1 1 1 1 10 1 26 1 4 2 4 1 1 1 34 1 6 1 3302"/><path d="M0 137h478" stroke="#b266ff" stroke-dasharray="0 24 1 4 1 1 1 15 1 8 1 3 1 1 1 1 1 4 1 7 1 1 1 1 1 4 2 3 1 4 1 2 1 8 2 1 2 14 1 1 1 2 1 19 1 1 1 7 1 3 2 3310"/><path d="M0 137h478" stroke="#9e3dff" stroke-dasharray="0 8 1 52 1 5 1 2 1 13 2 4 1 4 1 4 1 1 3 1 1 7 2 2 1 2 2 1 1 3 1 5 1 2 9 2 1 2 1 1 1 1 2 1 1 1 1 8 1 1 1 4 2 4 1 7 2 4 1 3281"/><path d="M0 137h478" stroke="#822bff" stroke-dasharray="0 97 1 7 1 1 1 2 1 2 1 3 1 1 1 10 1 5 1 9 2 1 1 7 1 1 1 3 2 5 1 1 3 3 2 1 1 1 5 1 1 2 1 2 1 1 11 2 2 1 3 6 2 10 2 3242"/><path d="M0 137h478" stroke="#6321ff" stroke-dasharray="0 135 1 14 1 14 1 14 1 7 1 4 2 13 2 2 1 3 6 2 10 2 3 3239"/><path d="M0 137h478" stroke="url(#t25)" stroke-dasharray="0 239 239 3000"/><path d="M0 138h478" stroke="#ebd6ff" stroke-dasharray="1 26 1 5 1 6 3 1 2 1 1 6 1 21 1 38 1 3362"/><path d="M0 138h478" stroke="#d9b2ff" stroke-dasharray="0 1 1 2 2 4 1 3 1 1 2 5 1 1 2 19 1 6 1 1 1 10 1 5 2 1 1 1 1 1 1 6 1 5 1 27 1 56 1 3300"/><path d="M0 138h478" stroke="#c78fff" stroke-dasharray="0 6 2 1 1 2 2 4 1 3 1 7 1 1 1 1 2 13 1 1 1 7 1 3 1 5 1 1 1 11 1 3 2 8 1 1 1 10 1 7 1 26 1 12 1 31 1 3287"/><path d="M0 138h478" stroke="#b266ff" stroke-dasharray="0 11 1 7 1 1 1 2 1 3 2 1 1 4 1 2 1 3 1 4 1 1 1 5 2 3 1 2 2 2 1 1 1 3 1 5 2 7 1 1 1 1 4 1 1 1 1 4 2 1 1 2 1 2 1 1 1 5 4 1 4 6 2 2 1 2 1 1 1 1 1 1 1 3 2 4 1 15 1 3301"/><path d="M0 138h478" stroke="#9e3dff" stroke-dasharray="0 52 1 5 1 1 1 1 1 4 1 10 1 3 1 1 2 4 1 10 4 2 1 1 1 2 2 3 1 1 1 1 1 9 1 1 4 2 1 2 2 5 1 1 2 3 2 1 1 2 2 2 1 3 1 4 1 4 1 2 1 1 1 13 1 13 1 3264"/><path d="M0 138h478" stroke="#822bff" stroke-dasharray="0 126 1 5 1 7 1 6 1 5 1 7 1 2 2 2 2 1 2 1 1 3 2 1 2 1 1 2 3 3 4 4 1 1 4 2 2 1 1 1 1 2 2 22 2 4 1 3230"/><path d="M0 138h478" stroke="#6321ff" stroke-dasharray="0 167 1 5 1 12 1 4 2 4 2 1 1 1 1 4 2 2 1 3 2 2 22 2 4 1 2 3228"/><path d="M0 138h478" stroke="url(#t26)" stroke-dasharray="0 250 228 3000"/><path d="M0 139h478" stroke="#ebd6ff" stroke-dasharray="0 1 1 4 1 1 1 4 1 10 1 3 1 11 1 9 2 12 1 10 1 3 1 17 1 7 1 48 1 3323"/><path d="M0 139h478" stroke="#d9b2ff" stroke-dasharray="0 4 2 3 1 2 1 2 1 1 1 1 1 6 1 2 1 1 1 1 1 4 1 2 1 12 1 1 1 5 1 7 1 21 2 10 1 1 2 2 1 3367"/><path d="M0 139h478" stroke="#c78fff" stroke-dasharray="1 1 2 10 1 3 1 1 1 1 2 10 4 5 1 1 3 4 2 1 1 1 3 3 1 1 2 2 1 2 1 1 1 1 1 5 1 3 1 1 1 7 1 15 2 6 2 3 1 1 1 4 1 2 1 2 1 5 2 1 1 4 1 5 1 3319"/><path d="M0 139h478" stroke="#b266ff" stroke-dasharray="0 11 1 4 1 8 1 4 1 1 1 6 1 2 1 1 1 3 2 10 1 6 2 4 1 3 2 2 1 1 3 1 1 2 2 3 1 2 3 1 1 6 1 4 1 1 4 2 1 1 1 4 3 2 1 5 1 1 1 10 1 1 1 6 1 6 1 8 1 5 1 8 1 23 1 3260"/><path d="M0 139h478" stroke="#9e3dff" stroke-dasharray="0 61 1 18 1 8 1 4 1 6 1 1 1 4 1 2 1 3 1 7 1 2 1 1 1 4 1 2 2 1 1 1 1 1 1 4 4 5 1 1 3 1 2 2 2 1 2 2 4 1 2 1 1 11 1 1 1 8 1 7 1 2 1 3261"/><path d="M0 139h478" stroke="#822bff" stroke-dasharray="0 146 1 9 1 8 2 5 2 7 1 1 1 1 6 1 1 2 1 1 1 2 3 3 5 1 1 1 1 6 3 8 1 7 1 7 1 2 1 5 1 3 1 3216"/><path d="M0 139h478" stroke="#6321ff" stroke-dasharray="0 191 1 6 2 3 2 6 1 3 1 2 3 3 8 1 7 1 7 1 2 1 5 1 3 1 7 3209"/><path d="M0 139h478" stroke="url(#t27)" stroke-dasharray="0 269 209 3000"/><path d="M0 140h478" stroke="#ebd6ff" stroke-dasharray="0 2 2 2 1 11 1 7 1 2 1 17 1 10 1 12 1 31 1 35 1 3338"/><path d="M0 140h478" stroke="#d9b2ff" stroke-dasharray="0 4 1 3 2 2 1 2 1 3 1 5 1 5 1 1 1 1 1 5 1 2 2 4 1 8 1 6 1 5 1 5 1 1 1 7 1 11 2 4 1 2 1 4 1 3 1 16 1 10 1 23 1 3307"/><path d="M0 140h478" stroke="#c78fff" stroke-dasharray="0 1 1 3 1 8 1 1 1 3 1 3 1 3 1 5 1 2 1 2 1 1 1 3 1 1 2 1 2 2 1 1 1 2 1 2 3 2 1 7 1 2 1 9 1 5 3 9 1 11 1 5 1 3 1 2 1 11 2 4 1 2 1 1 1 3322"/><path d="M0 140h478" stroke="#b266ff" stroke-dasharray="0 10 2 1 1 3 1 4 2 6 1 1 1 3 1 1 1 17 1 5 1 6 2 2 3 1 1 4 1 2 1 1 1 2 1 2 1 4 2 2 1 1 2 2 1 2 3 2 1 3 3 7 2 1 1 2 2 5 1 7 2 5 2 1 1 4 1 7 1 12 1 5 1 10 1 3273"/><path d="M0 140h478" stroke="#9e3dff" stroke-dasharray="0 39 1 3 1 9 2 12 1 13 1 1 2 1 1 4 2 17 1 4 1 7 1 2 1 1 1 5 1 3 1 1 3 4 1 1 1 4 1 1 1 3 1 1 3 2 3 5 2 1 1 2 2 3 1 3 1 1 1 5 1 4 1 3 2 9 1 15 1 4 1 3238"/><path d="M0 140h478" stroke="#822bff" stroke-dasharray="0 61 1 32 1 22 1 6 1 2 1 20 1 8 1 7 1 5 3 3 1 1 1 3 3 2 2 1 1 2 4 1 2 8 2 1 2 1 1 1 1 1 3 1 1 2 2 1 1 1 3 1 1 1 2 3 1 2 2 2 1 2 2 3 1 1 2 2 1 2 1 3 1 3 1 12 2 1 1 3187"/><path d="M0 140h478" stroke="#6321ff" stroke-dasharray="0 180 1 20 2 2 2 4 1 2 1 1 1 5 1 1 2 2 1 1 1 5 1 3 2 1 2 2 2 1 2 2 3 1 1 2 2 1 2 1 3 1 3 1 12 2 1 1 6 3181"/><path d="M0 140h478" stroke="url(#t28)" stroke-dasharray="0 297 181 3000"/><path d="M0 141h478" stroke="#ebd6ff" stroke-dasharray="1 5 1 4 1 1 2 15 1 5 1 9 1 3 1 11 1 7 1 4 1 7 1 29 1 17 2 1 1 5 1 3337"/><path d="M0 141h478" stroke="#d9b2ff" stroke-dasharray="0 1 5 1 1 7 1 1 1 2 8 6 2 2 2 8 1 8 1 1 3 9 1 5 1 6 1 7 1 10 1 2 1 2 1 9 1 32 1 3325"/><path d="M0 141h478" stroke="#c78fff" stroke-dasharray="0 8 3 1 1 5 2 8 1 4 1 3 1 4 2 1 1 5 1 2 3 1 1 10 1 8 1 3 1 2 1 3 1 3 1 2 1 1 2 1 2 1 1 3 1 5 2 2 1 1 1 4 1 1 1 1 1 3 1 4 1 38 1 3300"/><path d="M0 141h478" stroke="#b266ff" stroke-dasharray="0 32 1 7 1 3 1 2 1 15 3 10 1 4 1 4 2 2 2 13 1 5 2 3 1 4 2 1 1 3 1 7 2 1 1 2 1 4 5 2 6 1 1 2 1 1 2 6 1 1 1 5 1 1 1 3 1 10 1 7 1 7 1 8 1 3253"/><path d="M0 141h478" stroke="#9e3dff" stroke-dasharray="0 49 1 16 2 6 1 5 1 7 1 5 2 1 1 2 1 9 1 6 1 5 1 2 1 3 1 4 1 5 1 1 4 6 1 6 1 1 2 4 2 2 1 2 1 2 2 1 1 5 1 1 1 2 1 2 2 3 1 3 1 1 1 3 2 1 1 2 1 6 1 3 1 1 1 1 1 3 1 7 1 6 1 13 1 3213"/><path d="M0 141h478" stroke="#822bff" stroke-dasharray="0 165 1 4 2 1 1 6 1 2 1 1 2 3 2 1 2 2 2 2 3 1 1 2 2 2 1 1 1 2 2 1 3 7 1 1 1 1 1 2 4 3 2 2 1 4 6 4 1 1 1 2 1 1 1 3 1 9 2 6 1 10 3 3172"/><path d="M0 141h478" stroke="#6321ff" stroke-dasharray="0 219 1 5 2 1 1 4 1 2 1 4 2 3 2 1 1 1 2 6 4 3 2 1 1 1 3 1 9 2 6 1 10 3 1 3171"/><path d="M0 141h478" stroke="url(#t29)" stroke-dasharray="0 307 171 3000"/><path d="M0 142h478" stroke="#ebd6ff" stroke-dasharray="0 2 1 6 1 7 1 1 1 1 1 2 1 7 1 1 1 1 1 2 1 22 1 2 1 5 1 2 1 3403"/><path d="M0 142h478" stroke="#d9b2ff" stroke-dasharray="0 12 1 1 3 3 1 2 1 1 1 4 1 4 1 4 1 1 1 4 1 5 1 2 1 4 1 1 2 7 1 2 1 1 2 2 1 7 1 5 1 7 1 2 1 25 1 9 1 9 2 13 1 3310"/><path d="M0 142h478" stroke="#c78fff" stroke-dasharray="0 1 1 1 2 2 1 5 1 4 1 7 1 1 1 2 1 1 1 3 1 5 3 2 1 1 3 2 1 2 1 1 1 6 3 3 1 6 1 7 1 1 2 2 1 12 2 1 1 1 1 2 1 4 1 4 2 1 1 12 1 1 1 1 2 12 1 26 1 16 1 50 1 3223"/><path d="M0 142h478" stroke="#b266ff" stroke-dasharray="0 8 1 1 2 10 1 4 1 1 1 8 1 2 1 4 1 2 1 4 1 2 1 1 1 16 1 2 1 2 3 1 2 4 1 3 1 2 1 2 1 1 2 5 1 1 2 1 4 1 4 5 1 2 1 1 2 11 2 5 2 1 1 1 1 5 1 3 2 2 1 2 2 1 1 2 1 1 1 4 1 16 1 3 1 5 1 3260"/><path d="M0 142h478" stroke="#9e3dff" stroke-dasharray="0 97 2 1 2 7 1 17 1 1 1 1 1 2 1 2 4 3 1 2 1 2 2 2 1 6 5 2 2 2 2 2 1 4 2 1 1 2 3 1 2 2 4 3 1 2 2 1 3 1 1 1 1 1 1 2 2 3 1 1 2 2 1 4 3 1 1 6 2 1 1 11 1 3216"/><path d="M0 142h478" stroke="#822bff" stroke-dasharray="0 157 1 17 1 3 1 13 2 4 3 2 1 8 1 1 1 2 1 2 3 1 1 2 2 1 2 1 1 5 5 5 1 1 2 1 1 1 4 2 6 1 4 1 2 6 2 3 1 2 4 2 1 7 1 3172"/><path d="M0 142h478" stroke="#6321ff" stroke-dasharray="0 233 1 4 1 6 1 2 1 2 1 4 1 5 1 6 1 4 1 2 6 2 3 1 2 4 2 1 7 1 8 3164"/><path d="M0 142h478" stroke="url(#t30)" stroke-dasharray="0 314 164 3000"/><path d="M0 143h478" stroke="#ebd6ff" stroke-dasharray="0 4 1 1 1 7 1 1 2 1 1 3 2 1 1 14 1 2 1 9 1 5 1 10 1 13 1 7 1 1 1 49 1 3332"/><path d="M0 143h478" stroke="#d9b2ff" stroke-dasharray="0 1 1 5 1 3 1 1 1 1 1 4 1 1 1 4 1 3 1 10 1 6 1 7 1 4 1 2 1 1 1 5 1 5 3 5 1 3 1 12 1 6 1 17 3 9 1 7 1 1 2 8 1 10 1 3 1 6 1 10 1 3283"/><path d="M0 143h478" stroke="#c78fff" stroke-dasharray="1 1 1 6 2 1 1 8 1 3 1 2 2 2 4 2 1 6 1 2 1 1 1 1 1 3 1 1 2 1 1 2 1 3 3 1 1 3 1 1 1 3 3 1 1 2 1 2 1 4 3 3 1 1 1 1 1 1 2 1 1 2 1 1 3 1 1 2 1 1 3 8 1 8 1 3 1 5 2 1 1 2 3 2 1 1 1 10 1 22 1 1 2 3271"/><path d="M0 143h478" stroke="#b266ff" stroke-dasharray="0 3 1 4 1 21 1 6 1 1 2 5 2 3 1 1 1 9 1 2 1 7 1 2 1 10 1 1 1 3 1 1 1 3 1 5 1 6 2 1 1 3 1 1 1 2 1 6 2 1 1 2 3 1 3 2 2 5 2 2 1 1 1 5 1 3 1 4 1 1 1 4 1 1 1 1 2 3 1 3 2 2 1 2 1 4 1 2 1 2 1 4 1 4 1 2 1 2 1 12 1 2 1 6 1 2 1 1 1 3220"/><path d="M0 143h478" stroke="#9e3dff" stroke-dasharray="0 55 1 19 1 32 1 14 1 10 1 30 1 2 1 2 1 2 1 3 2 1 1 3 1 2 2 2 2 3 2 2 1 6 1 3 1 2 3 1 1 1 2 4 1 3 1 2 1 2 1 3 1 4 1 4 1 7 2 3 2 2 1 1 2 1 1 8 1 15 1 10 1 3168"/><path d="M0 143h478" stroke="#822bff" stroke-dasharray="0 136 1 16 1 36 1 9 1 3 1 4 1 1 1 2 1 5 1 3 2 2 1 1 1 1 2 1 1 2 1 1 1 2 2 2 4 3 1 1 1 4 1 1 1 2 2 1 1 4 1 1 4 1 1 2 4 1 3 4 1 2 3 2 1 2 1 3170"/><path d="M0 143h478" stroke="#6321ff" stroke-dasharray="0 236 1 2 1 13 1 4 1 3 1 9 1 2 1 4 1 2 1 4 1 3 4 1 1 4 2 1 2 1 1 1 10 3158"/><path d="M0 143h478" stroke="url(#t31)" stroke-dasharray="0 320 158 3000"/><path d="M0 144h478" stroke="#ebd6ff" stroke-dasharray="0 1 2 2 1 3 1 7 1 11 1 17 2 3 2 1 1 3 3 8 1 6 1 3 1 10 1 9 1 5 1 3 1 28 1 6 1 10 1 5 1 14 1 3297"/><path d="M0 144h478" stroke="#d9b2ff" stroke-dasharray="1 2 1 8 1 1 1 4 3 1 1 3 1 3 1 2 4 11 1 1 1 5 1 5 1 1 1 5 1 4 1 5 2 1 1 4 2 4 2 1 1 6 1 6 1 2 2 6 2 3 1 4 1 2 1 1 1 2 1 2 1 5 1 12 1 37 1 18 1 5 1 3250"/><path d="M0 144h478" stroke="#c78fff" stroke-dasharray="0 6 1 3 1 14 1 2 1 1 1 1 1 5 1 4 1 12 1 7 1 4 1 2 4 2 1 5 1 1 4 3 1 1 1 4 2 1 1 1 1 1 1 6 2 2 2 1 1 4 1 1 1 2 1 15 1 1 1 6 1 9 1 2 1 23 1 10 1 2 1 5 1 6 1 5 1 3 1 4 1 3242"/><path d="M0 144h478" stroke="#b266ff" stroke-dasharray="0 39 2 1 1 1 2 4 1 7 1 3 1 3 2 11 2 13 1 3 1 5 1 15 1 2 1 3 1 10 1 1 1 2 1 2 1 5 1 2 1 4 1 2 1 6 1 1 5 1 1 3 1 4 1 2 1 3 2 2 1 1 1 4 1 8 1 7 1 2 1 8 1 38 1 1 1 3 1 3198"/><path d="M0 144h478" stroke="#9e3dff" stroke-dasharray="0 4 1 63 1 40 1 1 1 10 1 7 1 1 1 2 1 14 1 2 2 2 2 2 2 5 1 2 1 5 1 5 4 1 2 1 2 3 2 3 1 1 1 2 1 2 2 1 1 2 2 1 1 4 2 6 3 2 2 1 2 1 1 5 1 3 2 3 3 6 1 2 1 4 1 3 1 3 1 1 2 1 1 1 1 5 1 9 1 3172"/><path d="M0 144h478" stroke="#822bff" stroke-dasharray="0 144 1 34 1 1 1 17 1 8 1 2 1 5 1 1 1 8 2 8 1 2 1 2 4 1 3 2 3 3 6 2 1 1 1 1 1 3 2 2 2 4 1 3 1 2 2 1 3 1 2 1 2 1 2 6 1 7 2 3154"/><path d="M0 144h478" stroke="#6321ff" stroke-dasharray="0 243 1 23 1 3 1 11 1 4 1 2 2 6 1 2 1 5 6 1 7 2 3 3151"/><path d="M0 144h478" stroke="url(#t32)" stroke-dasharray="0 327 151 3000"/><path d="M0 145h478" stroke="#ebd6ff" stroke-dasharray="0 9 1 15 1 1 1 7 1 7 1 2 1 2 1 2 3 1 1 1 2 2 1 1 1 11 1 10 1 5 2 5 1 14 1 12 1 4 1 18 1 2 1 3322"/><path d="M0 145h478" stroke="#d9b2ff" stroke-dasharray="2 8 3 2 1 2 1 1 2 2 1 1 1 2 1 3 1 4 2 1 2 1 2 4 2 8 2 3 1 4 2 5 1 1 2 2 3 2 1 19 1 2 3 5 2 4 1 4 1 4 2 2 1 1 2 5 1 9 3 3 1 1 1 1 1 2 1 8 1 8 1 3 1 6 1 51 1 3225"/><path d="M0 145h478" stroke="#c78fff" stroke-dasharray="0 2 2 1 3 14 1 5 1 1 2 8 1 6 2 6 1 7 1 2 1 1 2 4 1 3 1 2 2 3 1 3 3 5 2 1 5 1 1 1 1 4 1 2 2 3 2 3 1 1 1 1 1 2 1 5 1 3 3 3 1 5 2 3 1 11 1 3 1 1 1 4 1 7 1 22 1 8 1 2 1 5 1 1 1 3 1 25 1 5 1 4 1 3 1 3197"/><path d="M0 145h478" stroke="#b266ff" stroke-dasharray="0 16 1 17 1 1 1 20 1 9 1 4 2 1 1 13 1 5 3 8 1 9 1 4 1 2 1 1 1 5 1 4 1 9 1 1 1 1 1 2 1 7 2 11 2 4 1 1 1 4 1 1 2 2 3 4 3 1 2 1 3 1 1 1 1 2 1 1 3 7 3 5 1 2 1 2 2 3 1 2 1 1 1 19 1 10 1 12 1 9 1 3170"/><path d="M0 145h478" stroke="#9e3dff" stroke-dasharray="0 17 1 1 1 123 1 9 1 11 1 1 1 1 2 3 1 3 1 3 1 2 3 9 3 4 1 2 1 3 1 1 1 4 1 3 2 8 1 1 1 1 1 1 1 2 1 3 1 3 1 4 2 1 2 1 1 1 1 3 2 9 1 1 1 3 1 1 2 1 1 3 1 3 1 3 2 2 3 3 1 1 1 1 1 3163"/><path d="M0 145h478" stroke="#822bff" stroke-dasharray="0 172 1 43 1 9 1 1 1 13 1 3 2 2 1 8 1 1 1 1 2 3 3 1 1 1 2 2 1 3 1 4 1 2 2 2 2 2 1 3 1 5 2 3 1 1 1 1 1 5 1 7 1 3146"/><path d="M0 145h478" stroke="#6321ff" stroke-dasharray="0 225 1 30 1 24 1 7 1 3 1 5 1 3 1 7 1 4 1 1 5 1 7 1 1 3145"/><path d="M0 145h478" stroke="url(#t33)" stroke-dasharray="0 333 145 3000"/><path d="M0 146h478" stroke="#ebd6ff" stroke-dasharray="0 3 1 1 1 1 1 2 1 2 1 24 1 1 1 10 1 3 1 4 1 2 1 2 1 15 2 7 1 1 1 2 1 6 1 43 1 10 1 24 1 13 1 3280"/><path d="M0 146h478" stroke="#d9b2ff" stroke-dasharray="0 2 1 3 1 1 2 2 1 5 1 2 2 4 2 5 4 11 2 2 2 2 1 1 1 1 2 2 1 1 1 2 3 3 1 2 1 1 1 7 2 6 1 7 1 3 1 2 1 3 1 9 1 2 1 2 1 2 3 8 1 1 1 3 1 1 1 2 1 11 3 9 1 2 2 12 1 1 2 2 1 3273"/><path d="M0 146h478" stroke="#c78fff" stroke-dasharray="0 11 1 3 2 2 1 6 1 2 5 5 1 1 1 1 2 1 1 1 1 9 1 9 2 3 1 3 1 6 3 1 1 5 1 4 3 5 2 2 1 2 1 2 2 1 2 1 1 1 1 2 1 1 1 3 1 3 2 1 1 1 2 5 1 4 1 4 1 1 1 1 1 11 2 4 1 8 2 2 1 7 1 7 2 2 1 4 2 4 1 8 1 40 1 3201"/><path d="M0 146h478" stroke="#b266ff" stroke-dasharray="0 1 1 2 1 9 1 8 1 21 1 1 1 8 1 17 1 5 1 6 1 4 1 2 1 2 1 5 1 5 1 4 1 3 1 2 1 1 1 2 1 12 1 1 1 2 1 3 1 1 1 1 1 2 1 2 1 1 1 3 4 3 1 5 2 7 1 1 2 2 2 1 1 5 1 16 1 4 2 1 1 1 1 1 1 4 1 3 3 2 1 1 4 16 1 1 2 8 1 4 1 3 1 2 1 8 1 3177"/><path d="M0 146h478" stroke="#9e3dff" stroke-dasharray="0 52 1 49 1 10 1 17 1 1 1 29 1 10 1 5 1 7 1 16 2 2 1 3 1 3 2 3 2 4 1 1 1 1 1 4 3 3 2 1 1 4 3 1 2 1 3 1 1 3 1 4 1 1 3 1 1 2 2 1 1 2 2 2 1 1 1 1 1 3 1 2 1 1 4 2 1 6 1 3161"/><path d="M0 146h478" stroke="#822bff" stroke-dasharray="0 175 1 10 1 12 1 7 2 7 1 16 2 19 1 2 1 3 1 1 3 2 1 3 1 9 1 2 1 3 1 3 1 1 3 1 1 2 1 4 1 2 4 1 1 1 2 1 1 2 2 5 2 3 1 2 1 3139"/><path d="M0 146h478" stroke="#6321ff" stroke-dasharray="0 278 1 29 1 5 1 4 1 1 2 2 5 2 3 1 2 3140"/><path d="M0 146h478" stroke="url(#t34)" stroke-dasharray="0 339 139 3000"/><path d="M0 147h478" stroke="#ebd6ff" stroke-dasharray="1 4 2 4 1 7 1 4 3 4 1 2 1 4 1 7 1 3 1 2 1 3 1 4 1 5 1 6 1 3 1 2 1 10 2 5 1 1 2 3 2 14 1 4 1 18 1 6 1 1 1 7 1 40 1 1 1 3269"/><path d="M0 147h478" stroke="#d9b2ff" stroke-dasharray="0 1 1 7 2 5 3 16 1 4 1 3 3 1 1 6 1 1 1 1 2 4 1 4 2 2 1 4 1 8 1 8 1 4 1 8 1 1 1 2 3 7 1 6 1 5 2 5 1 7 1 15 3 4 1 15 1 11 1 4 1 7 1 8 1 43 1 13 1 3192"/><path d="M0 147h478" stroke="#c78fff" stroke-dasharray="0 2 1 1 1 3 1 3 1 2 1 4 3 4 2 1 1 1 2 2 2 14 2 7 1 6 1 3 2 3 2 2 2 2 3 1 5 4 1 1 1 5 2 2 1 1 1 2 1 4 1 2 1 1 1 2 1 2 1 4 3 2 2 4 1 2 1 7 1 1 1 6 2 4 1 1 2 1 1 2 1 1 1 5 1 1 2 9 1 4 1 1 1 2 2 2 2 1 1 3 2 13 1 22 1 4 1 32 1 20 1 3157"/><path d="M0 147h478" stroke="#b266ff" stroke-dasharray="0 23 1 5 1 32 1 1 1 2 1 28 1 2 1 14 1 6 1 8 1 3 2 7 2 8 1 2 1 4 4 1 1 2 1 10 1 1 1 2 2 1 1 5 1 1 1 2 3 2 1 6 1 3 1 4 1 4 1 2 2 1 2 3 1 3 1 2 4 2 1 10 1 4 1 4 1 17 1 1 2 12 1 1 1 3171"/><path d="M0 147h478" stroke="#9e3dff" stroke-dasharray="0 145 1 3 1 29 1 4 1 2 1 7 1 1 2 4 1 10 1 7 1 3 1 3 1 2 3 1 1 1 1 1 2 5 1 1 2 1 1 3 3 2 2 3 1 4 2 1 2 3 2 2 1 4 1 2 1 1 2 1 2 2 1 3 1 2 1 2 2 6 1 4 1 3153"/><path d="M0 147h478" stroke="#822bff" stroke-dasharray="0 190 1 30 1 25 1 4 1 1 3 7 1 3 2 7 3 2 2 2 2 5 1 2 1 3 1 1 2 3 1 1 2 2 5 3 1 1 1 1 3 3 2 1 1 1 1 4 1 3136"/><path d="M0 147h478" stroke="#6321ff" stroke-dasharray="0 274 1 43 1 3 1 5 3 2 1 1 1 1 4 1 4 3132"/><path d="M0 147h478" stroke="url(#t35)" stroke-dasharray="0 346 132 3000"/><path d="M0 148h478" stroke="#ebd6ff" stroke-dasharray="0 1 2 1 1 4 1 1 1 3 1 6 1 3 1 3 2 1 1 3 1 2 1 3 2 7 2 4 1 1 2 13 2 7 3 3 1 2 1 2 1 4 1 8 1 2 1 2 1 11 1 9 1 6 1 3331"/><path d="M0 148h478" stroke="#d9b2ff" stroke-dasharray="1 2 1 2 1 1 1 1 1 5 1 2 1 1 1 2 2 2 1 5 1 1 1 10 3 2 1 4 2 4 4 3 6 3 2 7 1 1 1 1 2 7 1 1 1 6 1 2 1 2 1 2 1 3 2 6 1 1 1 1 1 1 2 2 2 1 2 3 1 1 1 4 1 3 1 1 1 3 2 1 1 6 1 2 1 16 2 9 1 12 1 8 1 13 1 9 1 10 1 1 1 40 1 3170"/><path d="M0 148h478" stroke="#c78fff" stroke-dasharray="0 5 1 12 1 1 1 2 1 5 1 2 1 8 2 3 1 3 2 4 1 3 1 6 3 13 2 4 1 5 2 3 1 3 1 1 1 5 1 9 1 4 1 2 1 5 1 6 1 4 1 1 1 1 3 3 2 3 2 6 1 1 1 3 2 6 1 6 1 1 1 3 1 1 1 13 1 10 1 4 1 2 1 1 1 1 1 1 1 2 1 30 1 3 1 7 2 8 1 3182"/><path d="M0 148h478" stroke="#b266ff" stroke-dasharray="0 38 1 4 1 34 1 3 1 16 1 9 1 5 1 2 1 1 1 4 1 29 1 1 1 3 1 3 1 2 1 1 1 1 1 2 1 4 2 2 1 3 4 3 1 3 1 1 3 4 2 1 3 2 1 1 1 3 1 1 1 1 3 7 1 1 1 2 1 4 1 1 1 1 1 5 2 7 1 3 1 5 1 2 1 2 1 9 1 2 1 1 1 2 2 11 1 3165"/><path d="M0 148h478" stroke="#9e3dff" stroke-dasharray="0 108 1 31 1 6 1 35 1 2 2 5 1 10 1 5 1 4 1 3 1 1 1 1 1 8 1 1 1 5 1 3 2 1 1 1 1 1 2 1 2 2 4 1 1 3 2 1 1 1 1 1 1 1 1 2 1 7 1 1 2 2 1 4 1 4 2 4 2 4 1 1 1 2 1 1 1 6 1 2 1 3145"/><path d="M0 148h478" stroke="#822bff" stroke-dasharray="0 205 1 11 1 13 1 30 1 8 1 8 1 1 3 3 1 3 1 4 1 3 2 2 2 4 1 1 2 1 1 1 2 1 1 3 4 1 2 1 1 2 2 2 1 3137"/><path d="M0 148h478" stroke="#6321ff" stroke-dasharray="0 308 1 14 2 9 2 2 2 1 11 3126"/><path d="M0 148h478" stroke="url(#t36)" stroke-dasharray="0 352 126 3000"/><path d="M0 149h478" stroke="#ebd6ff" stroke-dasharray="0 3 1 4 2 3 1 8 3 2 1 14 1 8 2 4 3 3 1 5 2 6 1 11 1 1 1 1 1 4 1 2 1 1 1 15 1 1 1 2 1 9 1 1 1 40 1 18 1 6 1 5 1 41 1 3226"/><path d="M0 149h478" stroke="#d9b2ff" stroke-dasharray="0 1 1 2 1 1 2 2 1 4 4 2 1 3 1 2 2 2 1 1 5 4 3 1 4 3 2 4 3 1 1 1 3 10 1 2 1 1 1 1 3 1 1 3 1 2 1 4 1 12 1 2 1 3 2 5 2 7 2 1 1 9 2 5 1 2 3 3 2 2 1 3 1 3 1 1 2 1 1 8 1 5 1 28 1 2 1 5 1 33 1 2 1 3203"/><path d="M0 149h478" stroke="#c78fff" stroke-dasharray="0 5 1 5 1 2 1 15 2 1 1 5 2 15 1 8 1 5 2 5 1 2 1 1 1 1 1 14 1 4 5 1 4 2 1 2 1 7 1 2 3 1 1 6 4 2 3 4 1 8 1 4 2 1 1 18 2 4 1 2 1 7 1 5 1 4 2 3 1 4 1 12 1 3 1 3 1 1 1 6 1 2 1 14 1 4 1 8 1 3 1 1 1 8 1 4 1 3166"/><path d="M0 149h478" stroke="#b266ff" stroke-dasharray="0 19 1 21 1 33 1 4 1 15 1 7 1 11 1 8 2 10 1 2 1 6 1 5 1 2 2 1 2 4 1 7 2 1 1 1 1 1 1 2 1 1 5 5 1 2 1 2 2 2 1 1 1 4 1 2 1 1 2 2 1 4 1 3 1 3 1 4 2 12 1 1 1 1 2 2 1 2 1 1 2 2 1 1 1 5 1 1 2 2 1 7 1 7 1 1 1 5 1 5 1 14 1 3148"/><path d="M0 149h478" stroke="#9e3dff" stroke-dasharray="0 146 1 19 1 23 1 3 1 9 1 1 1 3 2 1 1 9 1 1 1 1 1 4 2 1 2 1 1 2 1 1 3 1 3 4 1 1 1 3 1 4 1 7 1 1 2 6 1 1 5 4 1 1 1 1 2 1 1 1 3 3 1 2 1 2 2 1 1 1 2 2 1 5 2 11 1 3134"/><path d="M0 149h478" stroke="#822bff" stroke-dasharray="0 263 1 5 1 9 1 10 1 2 1 13 1 5 1 3 1 1 1 2 2 1 4 4 1 1 7 3136"/><path d="M0 149h478" stroke="#6321ff" stroke-dasharray="0 310 1 21 1 1 1 7 1 1 13 3121"/><path d="M0 149h478" stroke="url(#t37)" stroke-dasharray="0 357 121 3000"/><path d="M0 150h478" stroke="#ebd6ff" stroke-dasharray="1 5 1 7 1 2 3 8 3 3 1 2 1 3 1 1 1 3 1 5 1 4 2 3 1 8 1 5 2 4 1 3 1 6 1 5 1 11 1 3 1 1 2 28 1 5 2 1 1 1 2 7 1 5 1 28 1 30 1 3242"/><path d="M0 150h478" stroke="#d9b2ff" stroke-dasharray="0 5 1 2 5 2 1 5 1 1 1 7 1 4 1 2 1 2 1 1 1 3 1 5 1 1 1 7 1 3 1 4 1 1 1 10 1 6 1 4 3 2 2 5 3 3 1 11 3 5 1 1 1 1 1 2 2 7 1 11 1 1 1 9 2 8 1 3 1 7 1 10 1 4 1 4 2 7 1 4 2 62 1 3180"/><path d="M0 150h478" stroke="#c78fff" stroke-dasharray="0 3 1 3 1 8 1 3 1 4 2 8 1 2 1 1 1 4 1 4 3 12 3 12 1 6 1 1 4 9 1 2 1 8 2 2 1 2 2 1 2 5 3 3 1 3 1 3 2 1 1 1 1 8 1 7 1 2 1 1 3 3 1 1 1 3 1 2 1 3 1 1 1 11 1 4 2 3 2 1 1 5 1 1 1 47 1 3 1 3 1 8 1 29 2 3155"/><path d="M0 150h478" stroke="#b266ff" stroke-dasharray="0 13 1 10 1 2 1 21 1 5 1 1 1 4 1 11 1 2 1 5 1 12 1 9 3 14 1 3 1 7 1 6 1 4 1 5 1 8 1 2 1 2 1 2 1 13 1 3 1 2 1 2 3 1 1 3 1 3 2 4 1 3 1 4 2 1 1 1 1 3 2 3 2 2 3 2 1 1 2 3 1 1 1 2 4 4 2 1 1 3 2 1 1 3 3 3 1 2 1 1 1 4 2 3 2 2 1 7 1 7 1 5 1 3151"/><path d="M0 150h478" stroke="#9e3dff" stroke-dasharray="0 134 1 16 1 30 1 5 1 11 3 3 1 5 1 8 1 7 2 7 2 3 2 1 1 3 1 2 1 1 1 5 2 1 1 2 1 2 2 4 2 5 2 1 1 2 1 2 1 5 2 2 2 1 2 1 3 2 1 1 4 5 1 2 1 12 1 3137"/><path d="M0 150h478" stroke="#822bff" stroke-dasharray="0 154 1 39 1 54 1 6 1 6 1 5 1 17 1 5 2 12 1 3 1 2 1 4 1 3 1 4 11 3 3 2 1 2 3 3125"/><path d="M0 150h478" stroke="#6321ff" stroke-dasharray="0 251 1 73 1 13 1 1 1 3 2 1 2 3 6 3119"/><path d="M0 150h478" stroke="url(#t38)" stroke-dasharray="0 359 119 3000"/><path d="M0 151h478" stroke="#ebd6ff" stroke-dasharray="0 3 2 4 2 5 1 4 1 1 3 2 1 2 1 8 1 6 2 11 1 11 1 1 1 1 1 15 1 3 1 5 1 9 1 29 1 29 1 10 1 18 1 28 1 3246"/><path d="M0 151h478" stroke="#d9b2ff" stroke-dasharray="0 1 1 5 1 3 1 6 1 3 1 4 1 4 1 2 1 1 3 1 1 8 1 3 3 6 4 1 2 1 1 3 1 3 1 2 2 1 1 2 1 2 1 5 1 1 1 4 1 2 1 3 1 7 1 5 1 7 1 3 1 6 1 1 1 2 1 5 2 1 1 2 1 1 4 8 1 5 2 3 1 20 1 14 1 3 2 1 1 8 1 6 1 32 1 21 1 3177"/><path d="M0 151h478" stroke="#c78fff" stroke-dasharray="0 6 1 1 1 3 4 3 1 6 1 3 1 12 1 1 2 2 1 2 2 4 2 1 2 4 1 5 1 4 1 2 1 2 1 1 2 1 2 3 1 3 1 4 1 1 1 2 1 1 1 2 1 1 4 3 2 4 4 4 1 1 2 1 1 1 1 8 1 4 1 2 1 1 1 6 2 5 2 9 2 2 3 2 1 3 2 2 1 1 1 2 1 1 1 3 1 1 3 5 1 10 1 5 3 4 1 4 2 3 1 5 1 4 1 1 1 30 1 21 1 3152"/><path d="M0 151h478" stroke="#b266ff" stroke-dasharray="0 5 1 14 1 21 1 1 1 6 1 18 1 30 1 7 1 10 2 4 1 5 1 1 1 5 1 4 1 4 2 19 1 6 3 3 2 3 2 3 2 1 1 5 1 4 1 4 1 2 1 11 1 3 1 7 2 5 1 2 2 1 1 2 3 2 1 6 1 6 1 3 2 2 1 1 2 3 1 1 1 3 2 7 2 6 1 2 1 20 1 3140"/><path d="M0 151h478" stroke="#9e3dff" stroke-dasharray="1 79 1 67 1 10 1 7 2 4 1 24 1 6 1 4 1 1 1 1 1 5 2 1 2 5 1 2 1 3 1 1 1 6 1 1 1 3 1 10 2 1 2 1 1 3 2 2 1 3 2 1 1 4 1 3 2 3 2 1 1 2 1 2 1 9 2 1 3 3 2 3150"/><path d="M0 151h478" stroke="#822bff" stroke-dasharray="0 234 2 24 1 1 1 8 1 4 1 10 2 2 1 3 1 6 1 5 5 2 1 3 1 3 1 4 3 1 1 2 2 3 2 2 2 2 1 3129"/><path d="M0 151h478" stroke="#6321ff" stroke-dasharray="0 314 1 9 1 6 1 1 2 3 2 2 2 2 2 1 9 3120"/><path d="M0 151h478" stroke="url(#t39)" stroke-dasharray="0 358 120 3000"/><path d="M0 152h478" stroke="#ebd6ff" stroke-dasharray="0 3 1 1 2 1 1 3 1 2 1 2 2 3 1 2 1 5 2 5 1 6 2 4 2 4 1 9 1 12 1 3 2 15 1 18 1 5 1 12 1 8 1 1 1 26 1 14 1 49 1 18 1 14 1 3200"/><path d="M0 152h478" stroke="#d9b2ff" stroke-dasharray="1 6 1 1 3 4 2 3 1 3 1 3 1 1 1 2 2 1 1 4 2 4 1 15 3 3 2 4 3 3 1 1 1 5 2 2 1 4 1 1 1 2 1 3 1 2 1 10 1 1 1 1 1 1 1 2 2 1 1 1 1 4 1 2 2 2 1 1 1 2 2 8 2 1 3 1 1 2 2 2 1 1 1 3 1 3 1 21 1 6 1 1 1 5 1 1 2 2 1 14 1 1 1 2 1 3 1 9 1 9 1 3203"/><path d="M0 152h478" stroke="#c78fff" stroke-dasharray="0 2 1 19 1 4 2 7 1 1 1 1 2 2 2 3 3 2 2 1 1 2 1 11 1 6 1 7 1 1 1 2 2 2 3 15 1 1 1 8 1 3 1 3 1 3 1 1 1 2 2 2 2 4 1 4 3 11 1 8 1 3 1 3 1 3 1 5 2 1 2 1 1 1 2 2 2 2 1 7 1 8 2 6 1 9 1 19 1 2 1 14 1 22 1 3167"/><path d="M0 152h478" stroke="#b266ff" stroke-dasharray="0 4 1 8 2 5 1 40 1 1 1 5 1 25 1 7 1 1 2 2 1 5 1 2 3 14 1 2 1 17 1 4 2 2 1 3 1 2 1 2 2 4 2 2 2 2 3 2 1 1 2 2 1 4 1 2 1 8 1 2 2 6 2 5 1 4 1 1 1 8 1 1 1 4 3 5 1 1 1 4 1 7 3 1 1 2 1 5 2 9 3 24 1 3145"/><path d="M0 152h478" stroke="#9e3dff" stroke-dasharray="0 56 1 2 1 13 2 8 1 26 1 49 1 34 1 7 1 8 2 1 1 3 1 3 1 1 1 7 2 1 3 5 1 7 1 3 2 3 1 1 1 6 1 4 2 1 3 3 1 1 1 2 2 1 1 3 3 1 2 1 1 7 2 2 1 2 1 2 1 2 1 3153"/><path d="M0 152h478" stroke="#822bff" stroke-dasharray="0 241 1 4 1 1 1 6 1 9 1 1 1 3 1 19 1 1 1 5 1 2 1 1 1 3 2 3 1 2 2 1 2 4 1 1 1 2 2 2 5 1 1 4 1 3132"/><path d="M0 152h478" stroke="#6321ff" stroke-dasharray="0 314 1 7 2 2 1 1 2 3 1 5 1 1 4 1 10 3122"/><path d="M0 152h478" stroke="url(#t40)" stroke-dasharray="0 356 122 3000"/><path d="M0 153h478" stroke="#ebd6ff" stroke-dasharray="0 6 1 6 1 1 1 8 1 2 1 1 1 2 1 12 1 1 1 7 1 12 1 7 1 1 1 1 1 6 2 13 1 14 1 10 2 1 1 2 1 3 2 6 1 6 1 6 1 3 1 3 1 6 1 3 2 21 1 34 1 3240"/><path d="M0 153h478" stroke="#d9b2ff" stroke-dasharray="0 1 2 1 1 2 1 2 1 1 1 4 1 1 1 1 2 8 1 1 1 2 3 3 3 7 1 1 1 2 1 3 1 3 3 2 1 2 2 9 1 4 2 3 3 7 4 3 1 1 1 2 1 2 2 1 1 2 1 4 1 9 1 4 1 1 2 1 1 3 1 1 1 1 1 6 1 1 1 1 1 8 1 13 1 6 1 1 1 2 1 11 1 8 1 8 1 10 1 42 1 3189"/><path d="M0 153h478" stroke="#c78fff" stroke-dasharray="0 5 1 3 1 4 1 1 1 1 1 6 1 2 1 1 1 4 1 3 1 6 1 1 1 1 2 1 1 4 1 1 1 2 1 5 1 1 2 2 1 1 1 1 1 1 2 2 2 4 2 4 2 1 1 8 1 4 2 7 2 8 1 1 2 6 1 7 1 9 2 14 1 3 4 2 2 1 2 1 1 3 2 1 1 2 1 3 1 3 1 7 1 2 1 17 1 2 1 7 2 13 1 3211"/><path d="M0 153h478" stroke="#b266ff" stroke-dasharray="1 2 1 7 1 8 1 5 1 22 1 9 1 4 1 34 1 3 1 6 1 1 1 5 1 7 2 4 1 4 1 3 2 1 1 4 1 5 1 1 1 1 1 3 1 2 1 5 3 10 2 8 2 9 1 2 1 2 2 3 1 2 1 5 3 1 2 4 1 4 1 5 1 1 2 2 1 6 1 4 1 1 1 2 1 7 1 24 1 3174"/><path d="M0 153h478" stroke="#9e3dff" stroke-dasharray="0 152 1 36 1 4 1 13 1 5 2 2 1 2 1 1 2 4 1 2 1 2 1 2 2 2 1 5 1 5 2 1 3 1 1 1 2 3 1 2 4 1 2 2 1 2 5 3 1 2 3 2 1 4 2 1 1 3 1 1 1 2 1 3161"/><path d="M0 153h478" stroke="#822bff" stroke-dasharray="0 176 1 28 1 4 1 22 1 10 1 1 1 9 1 5 1 6 1 5 1 3 1 1 2 6 2 1 2 3 1 2 3 3 1 1 3 1 1 1 2 2 1 2 4 5 1 2 2 2 3 1 1 4 1 3 1 3127"/><path d="M0 153h478" stroke="#6321ff" stroke-dasharray="0 298 1 18 1 1 2 4 5 1 2 2 2 3 1 1 4 1 3 1 3 3124"/><path d="M0 153h478" stroke="url(#t41)" stroke-dasharray="0 354 124 3000"/><path d="M0 154h478" stroke="#ebd6ff" stroke-dasharray="0 2 1 20 1 2 1 3 1 6 1 5 1 1 1 3 2 1 1 4 1 9 1 4 1 2 1 4 1 3 1 1 2 2 1 2 1 4 1 7 1 4 1 2 1 3 1 12 1 4 1 7 1 14 1 16 2 4 1 25 1 21 1 12 1 3234"/><path d="M0 154h478" stroke="#d9b2ff" stroke-dasharray="0 5 4 2 2 3 1 2 1 4 1 2 2 2 1 1 1 6 1 3 1 3 1 13 1 3 1 4 1 2 1 3 2 3 1 4 2 4 2 3 1 1 1 1 1 1 1 1 1 2 1 2 1 1 2 2 1 3 3 6 1 1 1 10 1 2 1 1 3 8 3 2 2 6 1 3 3 9 1 2 2 39 1 25 1 3217"/><path d="M0 154h478" stroke="#c78fff" stroke-dasharray="0 4 1 4 2 2 1 1 1 4 1 11 1 8 1 9 1 4 1 1 1 2 1 1 1 1 1 2 1 16 1 5 1 10 1 1 1 3 1 12 1 4 3 1 1 4 1 3 3 7 1 3 1 3 2 5 2 2 3 1 1 8 1 3 2 5 1 2 2 1 1 7 2 2 1 1 1 1 4 3 1 3 1 10 1 4 1 2 1 1 1 2 1 3228"/><path d="M0 154h478" stroke="#b266ff" stroke-dasharray="1 2 1 14 1 2 1 3 1 8 1 3 2 7 1 5 3 3 2 3 1 4 2 2 1 2 2 14 1 4 1 2 1 16 1 2 1 12 1 3 1 4 2 2 2 6 3 16 1 1 1 7 2 2 3 1 1 5 1 1 4 8 1 1 1 6 1 3 1 4 1 1 1 8 1 1 1 7 2 2 1 3 1 7 1 3 1 1 1 4 1 7 1 4 1 5 1 2 1 2 2 1 1 5 1 3166"/><path d="M0 154h478" stroke="#9e3dff" stroke-dasharray="0 46 1 75 1 37 1 10 1 31 3 3 1 8 2 2 2 2 3 3 2 1 1 1 3 5 1 1 2 3 2 2 2 3 4 2 3 3 1 1 1 2 1 3 3 1 2 1 1 3 1 3 2 2 1 6 2 7 1 3160"/><path d="M0 154h478" stroke="#822bff" stroke-dasharray="0 255 1 3 1 5 1 5 1 2 1 1 1 2 3 6 1 2 2 1 2 4 1 3 1 2 1 2 1 1 1 1 3 1 4 2 2 2 1 3 3 1 1 1 1 2 2 6 1 3128"/><path d="M0 154h478" stroke="#6321ff" stroke-dasharray="0 306 1 6 1 8 2 2 2 1 3 3 1 1 1 1 2 2 6 1 1 3127"/><path d="M0 154h478" stroke="url(#t42)" stroke-dasharray="0 351 127 3000"/><path d="M0 155h478" stroke="#ebd6ff" stroke-dasharray="0 6 1 3 1 14 1 2 1 5 1 4 1 7 1 4 1 3 1 1 1 1 1 4 1 13 1 10 1 3 1 11 1 4 1 9 1 1 2 83 1 3269"/><path d="M0 155h478" stroke="#d9b2ff" stroke-dasharray="1 3 2 5 1 2 1 2 1 3 1 2 1 1 1 2 2 2 1 2 1 1 1 3 1 3 1 4 1 1 2 4 1 2 1 4 2 5 3 1 1 1 1 4 1 3 1 3 1 1 3 2 1 4 1 3 1 3 2 1 2 7 1 3 1 4 3 2 3 1 1 3 1 6 2 2 1 3 1 4 1 1 1 5 1 3 1 7 1 10 1 10 1 13 1 36 1 3217"/><path d="M0 155h478" stroke="#c78fff" stroke-dasharray="0 1 1 7 1 9 1 2 2 8 1 2 1 1 1 5 2 21 1 2 2 1 2 7 1 5 1 3 2 5 1 2 1 1 2 3 1 3 1 2 1 2 3 16 1 4 1 1 1 1 1 6 1 6 1 3 1 5 1 2 2 1 2 2 6 2 1 12 1 5 1 2 1 2 2 2 1 7 1 22 2 3 1 16 2 3206"/><path d="M0 155h478" stroke="#b266ff" stroke-dasharray="0 2 1 9 1 2 1 11 1 3 1 8 2 3 1 3 1 5 1 1 1 3 1 9 1 5 1 4 1 1 1 1 1 12 1 2 1 4 1 14 1 3 2 2 2 1 1 14 2 2 1 4 1 1 1 3 1 1 2 4 2 13 1 2 1 2 4 8 3 5 1 3 1 1 1 2 1 2 1 8 2 1 1 1 1 1 1 3 2 1 1 4 1 2 1 3 1 5 1 1 1 10 1 12 1 6 1 3179"/><path d="M0 155h478" stroke="#9e3dff" stroke-dasharray="0 3 1 3 2 7 1 33 1 13 1 18 1 48 1 5 1 11 1 10 1 6 1 9 1 11 2 4 2 1 2 1 2 7 1 3 1 4 1 1 1 4 1 1 4 2 1 1 1 4 1 3 1 3 2 2 1 1 3 2 1 1 2 1 1 14 2 1 3 2 1 5 2 7 1 17 1 3155"/><path d="M0 155h478" stroke="#822bff" stroke-dasharray="0 219 1 6 1 1 1 10 1 1 1 1 1 18 1 5 2 2 1 1 4 1 2 2 1 3 2 1 1 1 3 2 1 1 4 2 11 3 3 1 1 2 1 3 1 1 2 4 1 3139"/><path d="M0 155h478" stroke="#6321ff" stroke-dasharray="0 273 1 29 1 12 3 5 2 1 3 1 1 2 4 1 9 3130"/><path d="M0 155h478" stroke="url(#t43)" stroke-dasharray="0 348 130 3000"/><path d="M0 156h478" stroke="#ebd6ff" stroke-dasharray="0 3 1 3 1 10 2 7 1 3 1 1 1 9 1 25 2 12 1 12 1 19 1 2 2 13 1 2 1 9 1 1 1 27 2 26 1 3272"/><path d="M0 156h478" stroke="#d9b2ff" stroke-dasharray="1 9 1 1 1 1 1 5 1 3 1 14 1 2 1 2 1 5 2 3 1 3 1 1 1 9 1 7 1 1 1 1 2 8 2 2 1 1 1 10 1 1 1 4 1 2 1 2 2 4 1 1 1 5 1 1 1 2 4 3 1 1 1 3 2 6 1 3 1 2 1 23 1 14 1 1 1 9 1 2 1 2 1 17 1 8 1 1 1 3220"/><path d="M0 156h478" stroke="#c78fff" stroke-dasharray="0 1 1 2 2 7 1 1 1 5 2 2 1 3 1 2 1 2 2 1 1 1 1 5 1 1 1 1 1 2 2 4 1 1 1 1 1 1 2 1 1 8 1 1 1 1 1 4 1 1 1 4 1 3 1 3 1 1 2 4 1 5 1 1 1 4 1 6 1 3 1 7 1 6 1 2 1 2 1 3 1 2 3 1 1 4 1 3 3 4 2 8 1 6 1 10 1 4 1 5 1 3 1 4 2 5 1 5 1 17 1 9 1 20 1 3186"/><path d="M0 156h478" stroke="#b266ff" stroke-dasharray="0 2 1 5 2 1 1 4 2 8 1 1 1 1 1 6 1 3 1 2 1 2 1 7 1 1 2 5 1 2 1 3 1 1 1 1 1 2 1 8 1 3 2 6 1 2 1 2 3 2 1 3 1 8 1 2 3 2 1 3 2 5 1 10 1 1 1 3 1 7 1 4 1 7 1 2 1 4 3 3 1 1 1 6 2 1 2 5 1 4 1 13 1 5 3 6 1 1 1 21 1 4 1 10 1 3190"/><path d="M0 156h478" stroke="#9e3dff" stroke-dasharray="0 6 1 16 1 25 1 24 1 1 1 13 1 21 1 26 1 29 1 3 1 5 1 4 4 4 2 3 1 1 3 6 1 2 1 3 2 2 1 1 1 1 1 2 2 3 1 5 1 3 1 1 3 2 1 2 2 1 1 1 1 1 1 2 2 3 1 7 2 3 1 6 1 2 1 5 1 5 1 3 1 3172"/><path d="M0 156h478" stroke="#822bff" stroke-dasharray="0 202 1 14 1 15 3 14 1 2 1 5 1 3 3 2 2 2 1 4 2 1 6 4 1 1 2 3 2 1 1 1 1 1 1 1 1 1 1 3 1 1 1 1 1 3 2 5 1 10 1 3139"/><path d="M0 156h478" stroke="#6321ff" stroke-dasharray="0 267 1 5 1 14 1 5 1 1 1 2 1 3 1 3 1 1 3 1 1 1 1 1 3 2 5 1 10 1 3 3136"/><path d="M0 156h478" stroke="url(#t44)" stroke-dasharray="0 342 136 3000"/><path d="M0 157h478" stroke="#ebd6ff" stroke-dasharray="0 1 1 9 1 11 1 1 2 24 1 1 1 22 1 28 1 11 1 19 1 11 1 3328"/><path d="M0 157h478" stroke="#d9b2ff" stroke-dasharray="0 5 1 2 1 4 2 1 1 1 1 8 1 2 1 7 2 3 2 5 1 9 2 2 1 1 3 1 2 1 1 3 2 1 1 4 1 2 1 2 1 5 1 11 1 1 1 8 1 5 1 5 1 19 1 2 2 9 1 1 2 7 2 4 1 11 1 27 1 3254"/><path d="M0 157h478" stroke="#c78fff" stroke-dasharray="0 2 3 2 1 1 2 1 1 2 1 3 2 1 1 1 1 7 1 1 3 4 2 3 1 1 1 3 1 3 1 1 2 3 1 11 1 3 1 2 1 3 1 2 1 3 2 1 1 6 1 3 1 4 1 1 2 2 1 3 3 2 1 1 1 3 1 1 1 2 2 1 1 1 1 3 1 5 2 6 1 2 2 4 3 6 1 1 1 6 1 4 2 11 1 6 1 8 1 16 1 3238"/><path d="M0 157h478" stroke="#b266ff" stroke-dasharray="1 5 1 14 1 7 1 1 1 8 1 4 1 1 1 6 2 6 1 2 1 3 1 4 1 12 1 2 1 1 1 2 1 2 2 1 1 4 1 1 1 1 1 2 1 2 1 4 1 3 1 2 1 5 1 1 1 3 1 3 2 4 1 8 2 1 2 3 1 5 2 1 1 8 1 3 2 1 1 3 1 6 2 3 1 1 1 6 1 2 1 4 2 3 1 3 3 27 1 1 1 18 1 3192"/><path d="M0 157h478" stroke="#9e3dff" stroke-dasharray="0 49 1 7 1 14 1 10 2 17 1 1 1 14 1 10 1 15 1 1 1 2 1 5 2 16 1 6 1 1 1 1 2 9 6 2 1 3 1 1 1 2 1 4 1 1 1 2 1 4 1 1 3 8 6 1 1 2 2 2 1 3 1 2 1 1 1 1 1 1 1 7 1 1 1 6 1 4 1 2 1 1 1 11 1 3169"/><path d="M0 157h478" stroke="#822bff" stroke-dasharray="0 142 1 37 1 10 1 15 1 4 1 2 2 1 1 8 2 8 2 1 2 6 1 1 1 3 2 1 1 1 1 1 2 5 1 1 3 1 3 1 1 1 1 7 2 2 1 5 5 2 1 1 1 1 2 2 1 1 1 2 1 3 1 3 1 3151"/><path d="M0 157h478" stroke="#6321ff" stroke-dasharray="0 251 1 6 1 14 1 7 4 2 1 2 1 2 1 1 1 1 1 5 2 1 1 4 2 1 1 1 2 1 3 1 3 1 7 3144"/><path d="M0 157h478" stroke="url(#t45)" stroke-dasharray="0 334 144 3000"/><path d="M0 158h478" stroke="#ebd6ff" stroke-dasharray="0 15 1 19 1 8 1 1 1 9 1 5 1 6 1 26 1 15 1 1 1 3363"/><path d="M0 158h478" stroke="#d9b2ff" stroke-dasharray="0 3 1 6 2 1 2 1 2 2 1 11 1 7 1 7 1 8 1 7 1 1 1 7 2 7 1 4 1 3 1 11 1 2 1 1 1 9 1 1 1 1 1 6 1 11 1 21 1 5 1 9 1 3296"/><path d="M0 158h478" stroke="#c78fff" stroke-dasharray="0 1 2 1 1 2 1 4 1 5 1 4 1 2 1 2 3 4 3 2 1 5 1 3 1 1 1 1 1 7 2 8 1 4 1 2 2 5 1 2 1 5 1 6 1 10 2 1 2 3 1 1 1 2 1 1 1 4 1 3 2 4 1 1 1 2 1 1 1 5 1 1 1 5 1 2 1 7 2 28 1 4 1 8 1 10 1 2 1 5 1 3236"/><path d="M0 158h478" stroke="#b266ff" stroke-dasharray="0 9 1 11 2 1 2 1 2 5 1 4 1 3 1 1 1 3 1 2 1 6 1 6 1 1 1 1 1 3 1 4 2 2 1 1 1 6 1 1 2 2 2 1 1 4 2 1 1 1 1 1 1 12 1 5 3 1 2 3 1 4 1 1 2 1 1 2 1 1 2 12 1 1 2 1 1 8 1 1 2 5 2 1 1 1 4 4 1 9 1 2 1 2 1 21 1 2 1 1 1 32 1 3195"/><path d="M0 158h478" stroke="#9e3dff" stroke-dasharray="1 4 2 12 1 22 1 7 1 3 1 3 1 1 2 9 2 13 1 13 1 1 2 13 1 3 1 5 1 1 1 8 1 5 1 8 1 1 1 3 1 1 4 2 2 10 2 1 1 2 1 3 1 1 2 2 1 1 1 4 4 3 2 2 3 1 2 4 2 1 1 1 3 5 1 2 1 2 1 5 1 2 2 3 1 3 2 1 1 4 1 14 1 1 1 26 1 3165"/><path d="M0 158h478" stroke="#822bff" stroke-dasharray="0 142 1 31 1 1 1 6 1 4 1 1 1 17 1 2 1 8 1 4 1 1 1 3 1 1 2 2 2 1 1 2 1 2 1 3 1 2 3 1 1 1 1 2 1 4 1 1 3 2 5 1 2 4 1 1 1 5 2 1 7 6 1 4 1 6 1 3155"/><path d="M0 158h478" stroke="#6321ff" stroke-dasharray="0 245 1 12 1 5 3 5 2 5 1 4 1 2 1 1 5 2 1 7 6 1 1 1 2 1 6 1 1 3154"/><path d="M0 158h478" stroke="url(#t46)" stroke-dasharray="0 324 154 3000"/><path d="M0 159h478" stroke="#ebd6ff" stroke-dasharray="0 3 1 22 1 4 1 24 1 3421"/><path d="M0 159h478" stroke="#d9b2ff" stroke-dasharray="0 1 1 16 1 24 2 4 1 10 1 5 1 1 1 1 1 7 1 11 1 1 1 10 1 1 1 2 1 4 1 33 1 3 1 2 1 42 1 3280"/><path d="M0 159h478" stroke="#c78fff" stroke-dasharray="0 5 1 7 1 3 1 20 1 3 1 2 1 1 1 2 1 4 1 3 1 2 2 3 1 1 1 3 2 6 4 10 1 11 1 3 1 2 1 1 1 9 1 3 1 4 1 10 1 3 1 17 1 13 1 3295"/><path d="M0 159h478" stroke="#b266ff" stroke-dasharray="0 4 1 1 1 1 3 3 2 3 4 1 2 1 4 1 3 2 1 1 1 6 1 1 1 2 1 2 1 2 2 12 2 2 1 1 1 1 2 4 4 2 1 2 1 3 1 3 1 3 1 2 2 1 1 4 4 1 3 3 2 1 1 2 1 1 2 1 6 13 3 8 1 4 1 6 1 2 2 5 1 13 1 2 1 5 1 49 1 3213"/><path d="M0 159h478" stroke="#9e3dff" stroke-dasharray="1 1 1 4 1 3 2 3 1 6 1 16 2 11 1 7 1 2 2 10 1 12 1 6 2 1 3 2 1 10 1 5 1 5 1 10 1 9 2 2 2 1 3 3 4 1 2 2 2 1 1 2 5 2 1 2 4 2 1 2 2 1 1 3 2 2 1 3 3 2 3 3 1 4 1 4 2 2 2 2 2 2 1 3 1 2 2 4 1 37 1 3183"/><path d="M0 159h478" stroke="#822bff" stroke-dasharray="0 35 1 57 1 31 1 6 2 11 1 19 1 6 1 2 1 14 1 2 2 4 3 5 1 1 1 3 1 4 2 2 4 1 4 2 1 3 2 3 1 1 3 1 2 2 4 2 5 2 2 1 2 1 1 2 2 1 1 4 1 1 1 1 2 1 1 8 1 6 1 3172"/><path d="M0 159h478" stroke="#6321ff" stroke-dasharray="0 204 1 15 1 13 1 6 1 15 1 5 1 3 1 2 1 1 2 2 1 1 4 1 1 1 1 2 1 1 4 1 3 1 6 1 5 3167"/><path d="M0 159h478" stroke="url(#t47)" stroke-dasharray="0 311 167 3000"/><path d="M0 160h478" stroke="#ebd6ff" stroke-dasharray="0 43 1 52 1 3381"/><path d="M0 160h478" stroke="#d9b2ff" stroke-dasharray="0 3 1 12 1 18 1 8 1 17 1 8 1 2 1 29 1 40 1 10 1 3321"/><path d="M0 160h478" stroke="#c78fff" stroke-dasharray="0 1 2 4 1 1 2 2 1 6 3 2 1 2 1 4 1 2 2 20 1 10 1 5 2 1 1 14 1 5 1 2 1 4 1 4 1 6 2 19 1 8 1 1 1 1 1 19 1 3304"/><path d="M0 160h478" stroke="#b266ff" stroke-dasharray="1 3 3 4 2 1 1 2 3 9 1 1 1 6 1 1 1 1 1 3 2 6 1 1 1 4 1 3 1 6 2 6 2 1 1 6 3 4 1 5 1 5 1 3 1 2 3 13 1 5 2 1 1 4 1 20 1 4 1 3 2 1 1 14 1 5 1 6 1 3270"/><path d="M0 160h478" stroke="#9e3dff" stroke-dasharray="0 8 1 6 1 7 2 1 2 2 1 1 1 1 1 4 1 1 1 3 1 2 5 6 2 2 2 1 3 10 1 2 1 1 6 5 1 2 1 1 2 4 1 1 1 1 1 3 2 5 7 2 2 1 3 1 1 4 3 2 2 1 1 1 1 1 1 2 2 1 1 2 1 2 1 2 1 1 1 3 1 2 1 2 1 1 1 4 1 3 1 4 3 4 2 3 1 1 1 6 1 1 1 4 2 1 1 5 1 3 1 13 1 6 1 6 1 23 1 3187"/><path d="M0 160h478" stroke="#822bff" stroke-dasharray="0 53 1 1 1 1 1 12 1 6 1 16 1 10 1 5 1 16 2 6 1 18 1 3 1 1 2 1 2 2 1 1 1 3 1 5 1 1 1 1 4 1 3 1 1 1 2 4 3 2 1 1 1 1 1 1 6 1 1 1 4 2 1 1 2 1 2 1 2 2 6 3 4 1 3 2 1 4 2 8 1 1 1 4 1 2 1 7 1 3186"/><path d="M0 160h478" stroke="#6321ff" stroke-dasharray="0 231 1 5 1 7 3 8 2 2 3 2 1 1 6 1 1 1 4 1 2 1 6 2 3 3183"/><path d="M0 160h478" stroke="url(#t48)" stroke-dasharray="0 295 183 3000"/><path d="M0 161h478" stroke="#ebd6ff" stroke-dasharray="0 101 1 3376"/><path d="M0 161h478" stroke="#d9b2ff" stroke-dasharray="0 21 1 41 1 3414"/><path d="M0 161h478" stroke="#c78fff" stroke-dasharray="0 3 1 5 1 56 1 7 1 3403"/><path d="M0 161h478" stroke="#b266ff" stroke-dasharray="0 1 1 11 1 1 1 1 1 12 1 1 1 6 1 6 1 1 1 1 1 2 1 16 1 9 1 8 1 3 1 8 1 13 1 6 1 5 2 1 2 16 2 26 1 9 1 3289"/><path d="M0 161h478" stroke="#9e3dff" stroke-dasharray="1 1 1 1 2 2 1 5 1 1 1 1 2 2 1 1 5 5 4 4 1 1 1 2 1 3 2 1 3 1 3 1 1 2 1 2 2 2 2 3 2 2 5 2 1 2 2 1 2 1 1 1 2 3 1 1 3 4 1 1 1 2 3 1 1 1 1 3 1 5 3 3 1 1 3 1 1 5 3 1 1 1 1 10 1 6 2 4 2 1 1 4 1 7 2 13 2 2 1 5 1 1 1 6 1 1 1 1 2 3240"/><path d="M0 161h478" stroke="#822bff" stroke-dasharray="0 6 2 2 3 7 1 2 1 7 1 1 1 4 1 1 2 1 1 1 1 3 1 7 1 3 1 2 1 2 1 3 1 3 2 2 1 7 1 2 1 5 1 1 1 4 1 1 1 3 4 4 1 3 1 3 3 3 1 5 3 1 1 3 1 1 1 1 1 5 1 1 1 1 1 1 2 2 4 1 6 3 1 1 1 2 1 1 2 1 1 1 7 2 13 2 2 1 1 1 2 4 4 3 1 6 1 1 1 3 7 4 1 4 3 1 1 3211"/><path d="M0 161h478" stroke="#6321ff" stroke-dasharray="0 29 1 56 1 27 1 33 1 11 1 2 2 15 1 38 1 2 1 1 1 5 2 3 1 2 2 1 1 1 3 7 4 1 4 3 1 1 9 3202"/><path d="M0 161h478" stroke="url(#t49)" stroke-dasharray="0 276 202 3000"/><path d="M0 162h478" stroke="#c78fff" stroke-dasharray="0 3 1 28 1 4 1 3440"/><path d="M0 162h478" stroke="#b266ff" stroke-dasharray="0 4 1 3 1 17 1 2 1 21 1 4 1 4 1 5 1 1 1 2 1 8 1 52 1 3343"/><path d="M0 162h478" stroke="#9e3dff" stroke-dasharray="0 2 1 6 2 1 1 2 4 1 3 5 1 2 1 1 2 4 3 1 1 3 2 3 1 5 1 5 2 10 1 12 2 4 1 4 1 1 2 2 1 6 1 8 1 3 1 32 2 18 1 1 1 1 1 6 1 5 1 3281"/><path d="M0 162h478" stroke="#822bff" stroke-dasharray="2 4 2 3 1 1 2 9 2 1 1 2 1 4 1 2 1 5 1 1 1 2 2 2 2 2 1 1 2 1 2 2 1 3 2 1 2 2 2 4 1 1 4 2 2 1 1 2 1 3 1 2 2 1 6 1 1 1 2 2 2 1 2 4 5 1 2 2 1 1 1 2 1 1 2 2 1 2 1 1 3 3 1 2 2 1 1 1 2 2 1 2 2 2 1 3 1 1 4 1 1 2 2 1 2 3 1 3 1 1 2 1 2 1 3 1 1 1 1 1 1 4 1 4 1 1 3 7 3 11 2 3 1 3214"/><path d="M0 162h478" stroke="#6321ff" stroke-dasharray="0 5 1 13 1 3 1 12 1 5 1 2 1 9 1 12 1 6 1 3 2 1 1 1 1 8 1 2 1 1 2 15 1 2 2 5 1 1 2 8 2 1 1 1 2 1 1 2 2 1 2 1 1 3 1 3 2 2 1 1 1 2 2 1 2 2 1 3 1 2 1 6 2 5 3 1 3 1 1 2 1 2 1 3 1 1 1 1 1 1 4 1 4 1 1 3 7 3 11 2 3 1 1 3213"/><path d="M0 162h478" stroke="url(#t50)" stroke-dasharray="0 265 213 3000"/><path d="M0 163h478" stroke="#9e3dff" stroke-dasharray="0 2 1 4 1 1 1 3 1 19 1 19 1 3 1 23 1 18 1 17 1 3359"/><path d="M0 163h478" stroke="#822bff" stroke-dasharray="1 3 3 4 2 1 3 1 4 3 2 2 1 1 2 2 1 1 1 1 3 1 1 3 3 2 1 11 4 2 2 1 3 7 1 2 1 3 1 1 3 6 2 2 2 13 1 4 1 2 1 2 2 6 1 1 1 6 1 2 1 6 1 4 1 37 1 3276"/><path d="M0 163h478" stroke="#6321ff" stroke-dasharray="0 1 1 1 1 4 1 1 1 6 1 4 3 2 2 1 1 3 1 1 1 1 1 3 1 1 3 3 2 2 3 1 6 4 2 2 1 3 5 1 1 1 2 1 3 1 1 3 5 3 2 2 11 1 1 1 4 1 2 1 2 2 6 1 1 1 6 1 2 1 6 1 4 1 37 1 6 3270"/><path d="M0 163h478" stroke="url(#t51)" stroke-dasharray="0 208 270 3000"/><path d="M0 164h478" stroke="#822bff" stroke-dasharray="1 14 1 1 2 4 2 2 1 1 1 7 2 5 1 3433"/><path d="M0 164h478" stroke="#6321ff" stroke-dasharray="0 1 14 1 1 2 4 2 2 1 1 1 7 2 5 1 8 3425"/><path d="M0 164h478" stroke="url(#t52)" stroke-dasharray="0 53 425 3000"/><path d="M0 165h478" stroke="url(#t53)"/><path d="M0 166h478" stroke="url(#t54)"/><path d="M0 167h478" stroke="url(#t55)"/><path d="M0 168h478" stroke="url(#t56)"/><path d="M0 169h478" stroke="url(#t57)"/><path d="M0 170h478" stroke="url(#t58)"/><path d="M0 171h478" stroke="url(#t59)"/><path d="M0 172h478" stroke="url(#t60)"/><path d="M0 173h478" stroke="url(#t61)"/><path d="M0 174h478" stroke="url(#t62)"/><path d="M0 175h478" stroke="url(#t63)"/><path d="M0 176h478" stroke="url(#t64)"/><path d="M0 177h478" stroke="url(#t65)"/><path d="M0 178h478" stroke="url(#t66)"/><path d="M0 179h478" stroke="url(#t67)"/><path d="M0 180h478" stroke="url(#t68)"/><path d="M0 181h478" stroke="url(#t69)"/><path d="M0 182h478" stroke="url(#t70)"/><path d="M0 183h478" stroke="url(#t71)"/><path d="M0 184h478" stroke="url(#t72)"/><path d="M0 185h478" stroke="url(#t73)"/><path d="M0 186h478" stroke="url(#t74)"/><path d="M0 187h478" stroke="url(#t75)"/><path d="M0 188h478" stroke="url(#t76)"/><path d="M0 189h478" stroke="url(#t77)"/><path d="M0 190h478" stroke="url(#t78)"/><path d="M0 191h478" stroke="url(#t79)"/><path d="M0 192h478" stroke="url(#t80)"/><path d="M0 193h478" stroke="url(#t81)"/><path d="M0 194h478" stroke="#b266ff" stroke-dasharray="0 6 1 1 1 6 1 5 1 32 1 18 1 37 1 3366"/><path d="M0 194h478" stroke="#9e3dff" stroke-dasharray="1 1 2 3 1 8 3 11 3 6 1 3 1 6 1 1 1 5 2 6 1 3 1 26 1 15 1 1 1 1 2 26 1 4 1 3327"/><path d="M0 194h478" stroke="#822bff" stroke-dasharray="0 1 1 2 2 4 3 6 2 1 8 3 1 1 4 1 3 2 1 1 3 1 1 3 3 2 1 1 4 2 2 1 2 1 6 1 2 1 7 7 3 1 2 3 1 1 1 9 2 2 7 2 1 1 5 1 1 1 1 1 1 4 1 4 1 1 1 4 1 4 1 1 1 5 2 1 1 3 3 1 2 6 1 1 1 2 1 7 1 7 1 2 1 1 1 3 1 1 1 1 1 7 1 5 1 3236"/><path d="M0 194h478" stroke="#6321ff" stroke-dasharray="0 9 1 3 2 19 1 9 1 1 1 6 1 7 1 5 1 12 1 2 1 7 6 4 1 2 3 1 1 1 1 1 1 1 1 1 1 4 2 7 2 1 1 5 1 1 1 1 1 2 3 2 3 1 1 1 4 1 4 1 1 1 5 2 1 1 3 3 1 2 6 1 1 1 2 1 7 1 7 1 2 1 1 1 3 1 1 1 1 1 7 1 5 1 1 3235"/><path d="M0 194h478" stroke="url(#t82)" stroke-dasharray="0 243 235 3000"/><path d="M0 195h478" stroke="#ebd6ff" stroke-dasharray="0 2 1 22 1 1 1 2 1 47 1 3399"/><path d="M0 195h478" stroke="#d9b2ff" stroke-dasharray="0 4 1 7 1 1 1 2 1 4 1 1 1 18 1 7 1 6 1 5 1 2 1 2 1 3 1 1 1 12 2 3 1 5 1 18 1 11 1 23 1 10 1 58 1 18 1 27 2 3204"/><path d="M0 195h478" stroke="#c78fff" stroke-dasharray="0 3 1 1 2 2 3 1 1 1 2 1 1 1 1 7 1 2 1 1 5 2 1 1 1 1 1 1 1 2 1 10 1 1 1 2 1 2 1 2 1 5 1 1 1 4 1 1 1 1 1 3 2 10 1 2 1 4 5 1 1 1 1 1 1 3 1 1 1 4 1 2 1 2 3 6 1 1 1 6 1 1 1 1 1 2 2 12 1 2 1 13 1 6 1 3 1 32 1 2 1 9 1 9 1 8 1 27 1 3178"/><path d="M0 195h478" stroke="#b266ff" stroke-dasharray="2 6 1 10 1 9 1 2 1 5 2 5 1 1 1 2 1 2 2 1 2 1 1 1 1 7 1 2 2 7 2 2 1 1 1 3 1 4 1 1 2 1 3 1 1 5 1 9 1 2 1 2 1 1 1 5 1 2 1 4 1 2 2 1 1 1 1 1 1 2 1 1 1 1 1 1 1 5 2 1 1 1 1 1 2 2 1 2 2 1 1 3 1 1 1 1 2 1 1 2 1 3 1 4 2 1 1 1 1 1 1 3 4 3 2 3 1 2 2 2 1 9 2 4 1 3 1 18 1 1 1 2 1 5 1 1 1 13 1 3173"/><path d="M0 195h478" stroke="#9e3dff" stroke-dasharray="0 7 1 15 1 17 1 6 1 3 1 2 1 7 1 2 1 8 1 7 1 11 1 1 1 8 1 1 2 7 1 5 1 1 1 4 1 1 1 1 1 7 1 1 1 7 1 1 1 8 1 3 1 2 1 1 1 1 1 2 1 2 1 3 1 5 1 6 2 1 2 2 2 1 1 2 1 3 1 1 3 5 1 3 3 1 1 4 1 3 1 1 1 1 3 2 1 5 1 2 1 1 1 1 1 5 2 3 3 1 1 1 2 1 1 2 1 5 2 2 1 5 1 4 1 2 2 2 2 7 2 6 2 17 1 14 1 17 1 3094"/><path d="M0 195h478" stroke="#822bff" stroke-dasharray="0 137 1 48 3 3 1 19 1 10 1 9 1 2 1 3 1 10 1 1 1 1 1 1 1 2 1 3 2 1 1 16 2 1 1 1 1 1 1 2 2 1 2 1 2 1 1 1 2 1 2 3 1 4 5 2 4 1 1 2 3 4 1 1 6 4 2 2 2 1 3 5 1 2 1 1 3 2 1 1 1 10 1 1 1 2 1 6 1 3075"/><path d="M0 195h478" stroke="#6321ff" stroke-dasharray="0 266 1 1 1 43 1 3 2 11 1 6 4 1 1 6 2 1 1 2 2 2 1 3 3 1 1 1 2 1 1 3 2 1 1 1 3 1 6 1 1 1 2 1 6 1 2 3073"/><path d="M0 195h478" stroke="url(#t83)" stroke-dasharray="0 405 73 3000"/><path d="M0 196h478" stroke="#ebd6ff" stroke-dasharray="0 4 2 9 1 4 1 3 1 1 1 9 1 2 1 2 1 1 1 29 1 2 1 15 2 1 1 3 1 11 2 7 1 7 1 2 1 3 1 2 1 15 2 8 1 10 2 4 2 4 1 1 1 5 2 2 1 7 1 4 2 3 2 2 1 7 1 8 1 4 1 2 1 5 1 3 1 1 1 2 1 18 1 10 4 1 1 4 1 5 1 42 1 5 1 3120"/><path d="M0 196h478" stroke="#d9b2ff" stroke-dasharray="0 1 2 22 1 2 1 2 1 6 1 6 1 6 2 12 1 3 1 4 1 2 1 3 1 5 1 1 1 7 1 4 1 1 1 3 1 4 1 2 1 2 1 7 1 4 1 4 1 3 1 1 5 4 2 2 1 8 1 3 2 1 1 4 1 1 2 9 1 1 3 2 1 2 1 2 1 4 3 3 2 4 1 2 2 3 1 3 2 2 1 7 1 5 1 2 1 1 1 3 2 4 3 2 1 1 1 2 1 2 2 7 2 6 1 1 1 2 1 3 1 4 1 1 5 2 2 6 1 7 2 2 2 4 1 2 1 1 1 9 1 2 3 1 1 1 1 4 1 35 1 19 1 3047"/><path d="M0 196h478" stroke="#c78fff" stroke-dasharray="0 55 1 48 1 54 1 15 1 29 1 6 1 29 2 5 1 15 1 11 2 5 2 4 1 8 1 3 2 1 1 10 1 3 3 2 1 4 1 2 1 7 1 9 1 8 2 3 1 5 1 4 1 2 1 2 1 6 1 2 1 1 1 2 1 2 2 28 1 45 1 3000"/><path d="M0 196h478" stroke="#b266ff" stroke-dasharray="0 168 1 23 1 45 1 2 1 16 1 10 2 1 1 10 1 2 2 3 1 8 1 6 1 1 1 8 1 5 2 2 3 1 1 5 1 2 1 1 2 1 1 7 3 1 1 11 1 5 1 1 1 2 2 1 4 1 1 2 1 1 1 4 1 3 2 1 3 5 1 2 1 1 1 2 1 1 1 2 2 3 1 1 1 2 1 5 1 13 1 8 1 3011"/><path d="M0 196h478" stroke="#9e3dff" stroke-dasharray="0 250 1 24 1 35 1 21 1 13 1 1 1 18 1 2 1 1 1 5 1 8 1 2 1 5 1 11 1 1 3 1 2 1 1 1 1 4 2 6 1 1 2 1 2 1 1 2 2 1 3 3 2 7 1 1 2 2 2 2 1 3005"/><path d="M0 196h478" stroke="#822bff" stroke-dasharray="0 353 1 21 1 20 1 3 1 4 1 15 1 7 1 10 1 1 1 3 1 3 3 2 2 1 4 1 1 3 1 2 2 2 3 3001"/><path d="M0 196h478" stroke="#6321ff" stroke-dasharray="0 423 1 49 1 3004"/><path d="M0 197h478" stroke="#ebd6ff" stroke-dasharray="0 23 1 62 1 15 1 6 1 5 1 25 1 4 1 8 1 2 1 25 1 2 1 8 1 10 1 11 1 31 1 6 1 2 1 9 1 4 1 4 1 7 1 1 1 21 1 1 1 2 1 8 1 2 1 5 1 3 1 5 1 3 1 5 1 4 1 2 2 3 1 11 1 9 1 11 1 7 1 3 1 2 1 2 1 3 1 3 1 3 1 2 2 18 1 1 1 5 2 3012"/><path d="M0 197h478" stroke="#d9b2ff" stroke-dasharray="0 20 1 119 1 80 1 2 1 5 1 29 1 6 1 5 1 5 1 2 1 38 1 16 1 4 1 7 2 14 2 8 2 7 1 3 1 8 1 1 1 3 1 1 3 4 1 1 1 2 2 5 2 2 2 2 1 3 2 1 1 4 1 2 2 1 1 2 1 1 1 1 1 7 1 1 3 1 1 1 1 1 1 3000"/><path d="M0 197h478" stroke="#c78fff" stroke-dasharray="0 374 1 8 1 11 1 14 1 1 1 11 1 7 1 7 1 1 4 1 2 2 1 1 2 5 2 6 1 5 1 3003"/><path d="M0 197h478" stroke="#b266ff" stroke-dasharray="0 397 1 8 1 28 1 26 2 2 1 9 1 3001"/><path d="M0 198h478" stroke="#ebd6ff" stroke-dasharray="0 314 1 18 1 25 1 10 1 20 1 1 1 22 1 4 1 8 1 6 1 1 1 4 2 10 1 10 1 1 1 3008"/><path d="M0 198h478" stroke="#d9b2ff" stroke-dasharray="0 360 1 96 1 10 1 5 1 3003"/><path d="M0 199h478" stroke="#ebd6ff" stroke-dasharray="0 404 1 3073"/><path d="M0 200h478" stroke="#ebd6ff" stroke-dasharray="0 444 1 9 1 7 1 3015"/><path d="M0 201h478" stroke="#ebd6ff" stroke-dasharray="0 400 1 29 1 3047"/><path d="M0 201h478" stroke="#d9b2ff" stroke-dasharray="0 476 1 3001"/><path d="M0 203h478" stroke="#ebd6ff" stroke-dasharray="0 442 1 29 1 3005"/><path d="M0 204h478" stroke="#ebd6ff" stroke-dasharray="0 460 1 14 1 3002"/><path d="M0 205h478" stroke="#ebd6ff" stroke-dasharray="0 381 1 28 1 3067"/><path d="M0 205h478" stroke="#d9b2ff" stroke-dasharray="0 430 1 3047"/><path d="M0 207h478" stroke="#ebd6ff" stroke-dasharray="0 458 1 4 1 3014"/><path d="M0 208h478" stroke="#ebd6ff" stroke-dasharray="0 445 1 3032"/></g><rect x="1084" y="1048.2" width="7.6" height="5.5" fill="#9933ff"/><rect x="1084" y="1070.3" width="7.6" height="5.5" fill="#a347ff"/><rect x="1084" y="1108.9" width="7.6" height="5.5" fill="#9933ff"/><rect x="1084" y="1114.4" width="7.6" height="5.5" fill="#b266ff"/><rect x="1084" y="1120" width="7.6" height="5.5" fill="#9933ff"/><rect x="1084" y="1128.2" width="7.6" height="5.5" fill="#9933ff"/><rect x="1084" y="1133.7" width="7.6" height="8.3" fill="#8a2eff"/><rect x="1084" y="1142" width="7.6" height="8.3" fill="#7326ff"/><rect x="1084" y="1150.3" width="7.6" height="8.3" fill="#4d1aff"/><rect x="1084" y="1158.6" width="7.6" height="11" fill="#3612ff"/><rect x="1084" y="1169.6" width="7.6" height="8.3" fill="#1f0aff"/><rect x="1084" y="1177.9" width="7.6" height="8.3" fill="#0000ff"/><rect x="1084" y="1186.2" width="7.6" height="11" fill="#0019e6"/><rect x="1084" y="1197.2" width="7.6" height="8.3" fill="#3612ff"/><rect x="1084" y="1205.5" width="7.6" height="5.5" fill="#9933ff"/><rect x="1084" y="1213.7" width="7.6" height="8.3" fill="#cc99ff"/><rect x="1084" y="1235.8" width="7.6" height="5.5" fill="#9933ff"/><rect x="1084" y="1244.1" width="7.6" height="8.3" fill="#a347ff"/><rect x="1084" y="1266.2" width="7.6" height="11" fill="#9933ff"/><rect x="1084" y="1277.2" width="7.6" height="8.3" fill="#0019e6"/><rect x="1084" y="1285.5" width="7.6" height="8.3" fill="#008080"/><rect x="1084" y="1293.7" width="7.6" height="8.3" fill="#009966"/><rect x="1084" y="1302" width="7.6" height="8.3" fill="#00bf40"/><rect x="1084" y="1310.3" width="7.6" height="8.3" fill="#008080"/><rect x="1084" y="1318.6" width="7.6" height="8.3" fill="#4d1aff"/><rect x="1084" y="1326.8" width="7.6" height="11" fill="#9933ff"/><rect x="835.0" y="797.2" width="1.7" height="33.1" fill="#4d1aff"/><rect x="835.0" y="844.1" width="1.7" height="27.6" fill="#c285ff"/><rect x="835.0" y="1059.3" width="1.7" height="8.3" fill="#0f05ff"/><rect x="835.0" y="1139.3" width="1.7" height="5.5" fill="#008080"/><rect x="835.0" y="1166.8" width="1.7" height="16.6" fill="#99ff00"/><rect x="835.0" y="1216.5" width="1.7" height="38.6" fill="#0000ff"/><rect x="835.0" y="1260.6" width="1.7" height="55.2" fill="#b2ff00"/><rect x="835.0" y="1318.6" width="1.7" height="19.3" fill="#00bf40"/><rect x="835.0" y="1351.7" width="1.7" height="11" fill="#260dff"/><rect x="835.0" y="1365.5" width="1.7" height="8.3" fill="#9933ff"/><path d="M293.49 797.2V1376.5M346.77 797.2V1376.5M400.06 797.2V1376.5M506.64 797.2V1376.5M559.92 797.2V1376.5M613.21 797.2V1376.5M719.79 797.2V1376.5M773.08 797.2V1376.5M826.36 797.2V1376.5M932.94 797.2V1376.5M986.22 797.2V1376.5M1039.51 797.2V1376.5" stroke="#808080" stroke-width="2.08" stroke-dasharray="2.08 3.44" fill="none"/><path d="M453.35 797.2V1376.5M666.5 797.2V1376.5M879.65 797.2V1376.5" stroke="#808080" stroke-width="4.17" stroke-dasharray="4.17 6.87" fill="none"/><path d="M293.49 797.2v5.5M293.49 1376.5v-5.5M346.77 797.2v5.5M346.77 1376.5v-5.5M400.06 797.2v5.5M400.06 1376.5v-5.5M453.35 797.2v9.5M453.35 1376.5v-9.5M506.64 797.2v5.5M506.64 1376.5v-5.5M559.92 797.2v5.5M559.92 1376.5v-5.5M613.21 797.2v5.5M613.21 1376.5v-5.5M666.5 797.2v9.5M666.5 1376.5v-9.5M719.79 797.2v5.5M719.79 1376.5v-5.5M773.08 797.2v5.5M773.08 1376.5v-5.5M826.36 797.2v5.5M826.36 1376.5v-5.5M879.65 797.2v9.5M879.65 1376.5v-9.5M932.94 797.2v5.5M932.94 1376.5v-5.5M986.22 797.2v5.5M986.22 1376.5v-5.5M1039.51 797.2v5.5M1039.51 1376.5v-5.5" stroke="#000" stroke-width="2.2" fill="none"/><path d="M240.2 824.79h9.5M1092.8 824.79h-9.5M240.2 962.71h9.5M1092.8 962.71h-9.5M240.2 1100.64h9.5M1092.8 1100.64h-9.5M240.2 1238.57h9.5M1092.8 1238.57h-9.5M240.2 1373.74h9.5M1092.8 1373.74h-9.5M240.2 1348.91h5.5M1092.8 1348.91h-5.5M240.2 1321.33h5.5M1092.8 1321.33h-5.5M240.2 1293.74h5.5M1092.8 1293.74h-5.5M240.2 1266.16h5.5M1092.8 1266.16h-5.5M240.2 1210.99h5.5M1092.8 1210.99h-5.5M240.2 1183.4h5.5M1092.8 1183.4h-5.5M240.2 1155.81h5.5M1092.8 1155.81h-5.5M240.2 1128.23h5.5M1092.8 1128.23h-5.5M240.2 1073.06h5.5M1092.8 1073.06h-5.5M240.2 1045.47h5.5M1092.8 1045.47h-5.5M240.2 1017.89h5.5M1092.8 1017.89h-5.5M240.2 990.3h5.5M1092.8 990.3h-5.5M240.2 935.13h5.5M1092.8 935.13h-5.5M240.2 907.54h5.5M1092.8 907.54h-5.5M240.2 879.96h5.5M1092.8 879.96h-5.5M240.2 852.37h5.5M1092.8 852.37h-5.5" stroke="#000" stroke-width="2.2" fill="none"/><rect x="240.2" y="797.2" width="852.6" height="579.3" fill="none" stroke="#000" stroke-width="2.78"/><text x="229.3" y="835.39" font-size="27.78" text-anchor="end">200</text><text x="229.3" y="973.31" font-size="27.78" text-anchor="end">150</text><text x="229.3" y="1111.24" font-size="27.78" text-anchor="end">100</text><text x="229.3" y="1249.17" font-size="27.78" text-anchor="end">50</text><text x="229.3" y="1386.14" font-size="27.78" text-anchor="end">1</text><text x="128.5" y="1103.5" font-size="27.78" text-anchor="middle" transform="rotate(-90 128.5 1103.5)">TOA Bin</text><rect x="1204" y="810.9" width="28" height="553.1" fill="url(#cbv)" stroke="#000" stroke-width="2.1"/><text x="1241.3" y="821.5" font-size="27.78">1e5</text><text x="1241.3" y="890.64" font-size="27.78">1e4</text><text x="1241.3" y="959.77" font-size="27.78">1e3</text><text x="1241.3" y="1098.05" font-size="27.78">1e2</text><text x="1241.3" y="1236.32" font-size="27.78">1e1</text><text x="1241.3" y="1374.6" font-size="27.78">1e0</text><path d="M1232 880.04h-9.2M1232 949.17h-9.2M1232 1018.31h-9.2M1232 1087.45h-9.2M1232 1156.59h-9.2M1232 1225.72h-9.2M1232 1294.86h-9.2" stroke="#000" stroke-width="2.2" fill="none"/><text x="1325.5" y="1087.45" font-size="27.78" text-anchor="middle" transform="rotate(-90 1325.5 1087.45)">TOF Counts per Second</text><text x="168.3" y="1421.4" font-size="27.78" text-anchor="end">UT</text><text x="250.4" y="1421.4" font-size="27.78" text-anchor="middle">14:23:30</text><text x="460.5" y="1421.4" font-size="27.78" text-anchor="middle">14:27:29</text><text x="669.7" y="1421.4" font-size="27.78" text-anchor="middle">14:31:28</text><text x="879.6" y="1421.4" font-size="27.78" text-anchor="middle">14:35:27</text><text x="1088.3" y="1421.4" font-size="27.78" text-anchor="middle">14:39:26</text><text x="168.3" y="1454.1" font-size="27.78" text-anchor="end">ALT (km)</text><text x="250.4" y="1454.1" font-size="27.78" text-anchor="middle">1191.5</text><text x="460.5" y="1454.1" font-size="27.78" text-anchor="middle">1109.7</text><text x="669.7" y="1454.1" font-size="27.78" text-anchor="middle">1010.1</text><text x="879.6" y="1454.1" font-size="27.78" text-anchor="middle">898.2</text><text x="1088.3" y="1454.1" font-size="27.78" text-anchor="middle">780.4</text><text x="168.3" y="1485.7" font-size="27.78" text-anchor="end">LAT (deg)</text><text x="250.4" y="1485.7" font-size="27.78" text-anchor="middle">-44.6</text><text x="460.5" y="1485.7" font-size="27.78" text-anchor="middle">-32.0</text><text x="669.7" y="1485.7" font-size="27.78" text-anchor="middle">-18.9</text><text x="879.6" y="1485.7" font-size="27.78" text-anchor="middle">-5.4</text><text x="1088.3" y="1485.7" font-size="27.78" text-anchor="middle">8.5</text><text x="168.3" y="1518" font-size="27.78" text-anchor="end">LON (deg)</text><text x="250.4" y="1518" font-size="27.78" text-anchor="middle">42.9</text><text x="460.5" y="1518" font-size="27.78" text-anchor="middle">45.3</text><text x="669.7" y="1518" font-size="27.78" text-anchor="middle">46.8</text><text x="879.6" y="1518" font-size="27.78" text-anchor="middle">48.1</text><text x="1088.3" y="1518" font-size="27.78" text-anchor="middle">49.3</text><text x="168.3" y="1550" font-size="27.78" text-anchor="end">MLAT (deg)</text><text x="250.4" y="1550" font-size="27.78" text-anchor="middle">-47.8</text><text x="460.5" y="1550" font-size="27.78" text-anchor="middle">-35.8</text><text x="669.7" y="1550" font-size="27.78" text-anchor="middle">-23.2</text><text x="879.6" y="1550" font-size="27.78" text-anchor="middle">-10.1</text><text x="1088.3" y="1550" font-size="27.78" text-anchor="middle">3.4</text><text x="168.3" y="1582.7" font-size="27.78" text-anchor="end">MLT (hrs)</text><text x="250.4" y="1582.7" font-size="27.78" text-anchor="middle">16.5</text><text x="460.5" y="1582.7" font-size="27.78" text-anchor="middle">17.0</text><text x="669.7" y="1582.7" font-size="27.78" text-anchor="middle">17.3</text><text x="879.6" y="1582.7" font-size="27.78" text-anchor="middle">17.6</text><text x="1088.3" y="1582.7" font-size="27.78" text-anchor="middle">17.9</text><path d="M1593.07 191.7V437.9M1642.05 191.7V437.9M1691.02 191.7V437.9M1788.97 191.7V437.9M1837.95 191.7V437.9M1886.92 191.7V437.9M1984.88 191.7V437.9M2033.85 191.7V437.9M2082.82 191.7V437.9M2180.77 191.7V437.9M2229.75 191.7V437.9M2278.72 191.7V437.9" stroke="#808080" stroke-width="2.08" stroke-dasharray="2.08 3.44" fill="none"/><path d="M1740 191.7V437.9M1935.9 191.7V437.9M2131.8 191.7V437.9" stroke="#808080" stroke-width="4.17" stroke-dasharray="4.17 6.87" fill="none"/><path d="M1593.07 463V707.4M1642.05 463V707.4M1691.02 463V707.4M1788.97 463V707.4M1837.95 463V707.4M1886.92 463V707.4M1984.88 463V707.4M2033.85 463V707.4M2082.82 463V707.4M2180.77 463V707.4M2229.75 463V707.4M2278.72 463V707.4" stroke="#808080" stroke-width="2.08" stroke-dasharray="2.08 3.44" fill="none"/><path d="M1740 463V707.4M1935.9 463V707.4M2131.8 463V707.4" stroke="#808080" stroke-width="4.17" stroke-dasharray="4.17 6.87" fill="none"/><g clip-path="url(#cB1)" fill="none" stroke-linejoin="round"><path d="M1544.1 314.58L2327.7 314.8" stroke="#000" stroke-width="2"/><path d="M1544.1 311.2L1547.1 311.2L1550.2 311.3L1553.2 311.3L1556.2 311.4L1559.2 311.4L1562.3 311.5L1565.3 311.5L1568.3 311.6L1571.3 311.6L1574.4 311.7L1577.4 311.7L1580.4 311.7L1583.4 311.7L1586.5 311.7L1589.5 311.7L1592.5 311.8L1595.5 311.8L1598.6 311.8L1601.6 311.9L1604.6 311.9L1607.6 312L1610.7 312L1613.7 312.1L1616.7 312.2L1619.7 312.3L1622.8 312.5L1625.8 312.6L1628.8 312.8L1631.8 313L1634.9 313.3L1637.9 313.5L1640.9 313.8L1643.9 314L1647 314.2L1650 314.3L1653 314.5L1656 314.6L1659.1 314.8L1662.1 314.9L1665.1 315L1668.1 315.1L1671.2 315.2L1674.2 315.3L1677.2 315.4L1680.2 315.6L1683.3 315.7L1686.3 315.8L1689.3 315.9L1692.3 316L1695.4 316.1L1698.4 316.2L1701.4 316.3L1704.5 316.4L1707.5 316.5L1710.5 316.6L1713.5 316.7L1716.6 316.8L1719.6 316.9L1722.6 317L1725.6 317.1L1728.7 317.2L1731.7 317.3L1734.7 317.4L1737.7 317.5L1740.8 317.6L1743.8 317.6L1746.8 317.7L1749.8 317.8L1752.9 317.8L1755.9 317.8L1758.9 317.8L1761.9 317.8L1765 317.8L1768 317.8L1771 317.7L1774 317.7L1777.1 317.6L1780.1 317.6L1783.1 317.5L1786.1 317.5L1789.2 317.4L1792.2 317.4L1795.2 317.3L1798.2 317.2L1801.3 317.1L1804.3 317L1807.3 316.9L1810.3 316.8L1813.4 316.7L1816.4 316.5L1819.4 316.4L1822.4 316.3L1825.5 316.2L1828.5 316L1831.5 315.9L1834.5 315.9L1837.6 315.8L1840.6 315.7L1843.6 315.6L1846.6 315.5L1849.7 315.5L1852.7 315.4L1855.7 315.3L1858.8 315.3L1861.8 315.2L1864.8 315.1L1867.8 315.1L1870.9 315L1873.9 314.9L1876.9 314.9L1879.9 314.8L1883 314.8L1886 314.7L1889 314.7L1892 314.6L1895.1 314.6L1898.1 314.5L1901.1 314.5L1904.1 314.4L1907.2 314.4L1910.2 314.3L1913.2 314.3L1916.2 314.2L1919.3 314.2L1922.3 314.1L1925.3 314.1L1928.3 314L1931.4 314L1934.4 313.9L1937.4 313.9L1940.4 313.9L1943.5 313.8L1946.5 313.8L1949.5 313.8L1952.5 313.8L1955.6 313.7L1958.6 313.7L1961.6 313.7L1964.6 313.6L1967.7 313.6L1970.7 313.6L1973.7 313.6L1976.7 313.5L1979.8 313.5L1982.8 313.4L1985.8 313.4L1988.8 313.3L1991.9 313.3L1994.9 313.2L1997.9 313.2L2000.9 313.1L2004 313L2007 313L2010 312.9L2013 312.8L2016.1 312.7L2019.1 312.7L2022.1 312.6L2025.2 312.5L2028.2 312.5L2031.2 312.4L2034.2 312.4L2037.3 312.3L2040.3 312.3L2043.3 312.2L2046.3 312.2L2049.4 312.1L2052.4 312.1L2055.4 312L2058.4 312L2061.5 311.9L2064.5 311.9L2067.5 311.8L2070.5 311.8L2073.6 311.8L2076.6 311.8L2079.6 311.7L2082.6 311.7L2085.7 311.7L2088.7 311.8L2091.7 311.8L2094.7 311.8L2097.8 311.8L2100.8 311.9L2103.8 311.9L2106.8 311.9L2109.9 311.9L2112.9 312L2115.9 312L2118.9 312L2122 312.1L2125 312.1L2128 312.2L2131 312.2L2134.1 312.3L2137.1 312.3L2140.1 312.4L2143.1 312.5L2146.2 312.6L2149.2 312.7L2152.2 312.8L2155.2 312.9L2158.3 313L2161.3 313.1L2164.3 313.2L2167.3 313.3L2170.4 313.4L2173.4 313.5L2176.4 313.6L2179.5 313.7L2182.5 313.8L2185.5 313.9L2188.5 314.1L2191.6 314.2L2194.6 314.4L2197.6 314.5L2200.6 314.7L2203.7 314.8L2206.7 315L2209.7 315.1L2212.7 315.3L2215.8 315.4L2218.8 315.6L2221.8 315.7L2224.8 315.9L2227.9 316L2230.9 316.1L2233.9 316.2L2236.9 316.3L2240 316.4L2243 316.5L2246 316.6L2249 316.7L2252.1 316.8L2255.1 316.8L2258.1 316.9L2261.1 316.9L2264.2 316.9L2267.2 317L2270.2 317L2273.2 316.9L2276.3 316.9L2279.3 316.9L2282.3 316.8L2285.3 316.8L2288.4 316.7L2291.4 316.6L2294.4 316.6L2297.4 316.5L2300.5 316.3L2303.5 316.2L2306.5 316L2309.5 315.7L2312.6 315.4L2315.6 315.1L2318.6 314.7L2321.6 314.4L2324.7 314.1L2327.7 313.8" stroke="#0000ff" stroke-width="2.8"/></g><g clip-path="url(#cB2)" fill="none" stroke-linejoin="round"><path d="M1544.1 705.9L1545.7 705.9L1547.3 705.9L1548.9 705.9L1550.5 705.9L1551.8 705.9L1552.1 704.4L1553.5 697.4L1553.7 697.4L1555.3 697.2L1556 697L1556.9 696.7L1558.5 696.3L1560.1 695.9L1561.7 696L1563.3 695.9L1564.9 695.7L1566.5 695.1L1568.1 694.8L1569.7 694.7L1571.3 694.7L1572.9 694.8L1574.5 695L1575 694.3L1576.1 693.1L1577.7 692.7L1579.3 693.2L1580.9 693.5L1582.5 693.5L1584.1 693.9L1585.7 693.6L1587.3 693L1588.9 692.8L1590.5 693.3L1592.1 693.2L1592.8 692.5L1593.7 691.8L1595.3 691.5L1596.9 691.7L1598.5 691.7L1600.1 691.3L1601.7 691.2L1603.3 691.2L1604.9 691.2L1605 691.3L1606.5 691.2L1608.1 690.8L1609.7 690.5L1611.3 690.5L1612.9 690.4L1614.5 689.7L1616.1 689.3L1617.7 688.9L1619 688.9L1619.3 688.6L1620.9 688.7L1622.5 688.5L1624.1 688.3L1625.7 687.8L1627.3 687.8L1628.9 688.1L1630.5 687.8L1632.1 687.3L1633.7 687.2L1635.3 687.3L1636.9 687.5L1638.5 687.6L1640.1 687.2L1641.7 686.9L1641.7 687.2L1643.3 687.5L1644.9 687L1646.5 686.8L1648.1 687L1649.7 687.3L1651.3 687L1652.9 686.4L1654.5 686L1656.1 686L1657.7 686.4L1659.3 686.5L1660 686.2L1660.9 685.5L1662.5 685.7L1664.1 686.3L1665.7 686.4L1667.3 686L1668.9 686L1670.5 686.2L1672.1 686.4L1673.7 686.3L1675.3 686.1L1676.9 685.7L1678.5 685.8L1680.1 685.4L1681.7 685.1L1683.3 685L1684.9 685.1L1686.5 685.1L1688.1 685L1689.7 685.4L1690.8 685.4L1691.3 685.7L1692.9 686.1L1694.5 686.5L1696.1 686.3L1697.7 685.8L1699.3 686.3L1700 686.9L1700.9 686.7L1702.5 685.9L1704.1 685.6L1705 685.8L1705.7 685.9L1707.3 686L1708.9 685.8L1710.5 686L1712 685.9L1712.1 686.1L1713.7 686.3L1715.3 686.1L1716.9 684.9L1718.5 684.4L1720.1 685.5L1721.7 685.8L1723.3 684.9L1724.9 684.2L1725 684.4L1726.5 684.3L1728.1 683.9L1729.7 684L1731.3 683.9L1732.9 683.8L1734.5 683.4L1736.1 683.1L1737.7 682.7L1739.3 682.3L1739.9 682.4L1740.9 682.2L1742.5 682L1744.1 682.2L1745.7 682.5L1747.3 682.5L1748.9 682.2L1750 682L1750.5 681.9L1752.1 681.9L1753.7 682.1L1755.3 681.8L1756.9 681.8L1758.5 681.7L1760.1 681.6L1761.7 681.2L1763.3 681.2L1764.9 681.9L1766.5 681.9L1768.1 681.8L1769.7 681L1771.3 681.1L1772.9 681.4L1774.5 681.9L1776.1 681.7L1777.7 681.4L1779.3 681.7L1780.9 682L1782.5 682.4L1784.1 682.4L1785.7 681.9L1787.3 681.3L1788.8 681.3L1788.9 681.5L1790.5 681.6L1792.1 681.7L1793.7 681.4L1795.3 681.6L1796.9 681.7L1798.5 681.8L1800.1 681.8L1801.7 682.4L1803.3 683L1804.9 682.9L1806.5 682.4L1807 682.9L1808.1 683.4L1809.7 683.1L1811.3 682L1812.9 681.8L1814.5 681.7L1816.1 681.8L1817.7 681.7L1819.3 682.3L1820.9 682.6L1822.5 681.9L1824.1 681.3L1825.7 680.9L1827.3 681.6L1828.9 681.8L1830.5 682.2L1832.1 681.6L1833.7 681.9L1835.3 682.4L1836.9 682.4L1837.7 681.7L1838.5 681.2L1840.1 681.3L1841.7 680.8L1843.3 681.3L1844.9 681.2L1846.5 681.2L1848.1 680.8L1849.7 680.9L1851.3 680.7L1852.9 680.5L1854.5 680.5L1856.1 680.2L1857.7 680.1L1859.3 680.1L1860 680.2L1860.9 680.3L1862.5 680.3L1864.1 680.5L1865.7 680.4L1867.3 680.3L1868.9 680L1870.5 679.8L1872.1 679.5L1873.7 679.7L1875.3 679.6L1876.9 679.6L1878.5 679.5L1880 679.9L1880.1 680L1881.7 679.3L1883.3 679.2L1884.9 679.5L1886.5 679.6L1888.1 679.5L1889.7 679.4L1891 679.3L1891.3 679.2L1892.9 679.7L1894.5 680.4L1895 680.1L1896.1 681.3L1897.7 682.5L1899 683.3L1899.3 682.9L1900.9 683.2L1902.5 683.7L1904 683.5L1904.1 683.5L1905.7 682.3L1907.3 681.1L1908.9 680.1L1910.5 678.9L1911 678.4L1912.1 678.1L1913.7 678.3L1915.3 678.3L1916.9 677.9L1918.5 677.8L1920 677.4L1920.1 677.1L1921.7 677L1923.3 677.2L1924.9 677.4L1926.5 677.4L1928.1 678L1929.7 677.8L1931.3 677.5L1932.9 677.4L1934.5 677.1L1936 677.7L1936.1 677.9L1937.7 677.8L1939.3 677.1L1940.9 677.1L1942.5 676.6L1944.1 676.2L1945.7 676.4L1947.3 676.5L1948.9 675.9L1950 675.7L1950.5 675.6L1952.1 675.4L1953.7 675.2L1955.3 675L1956.9 674.2L1958.5 673.8L1960.1 673.6L1961.7 673.9L1963.3 673.9L1964.9 674L1966.5 673.6L1968.1 673.3L1969.7 672.7L1971.3 672.5L1972.9 672.7L1974.5 672.7L1976.1 672L1977.7 671.2L1979.3 671L1980.9 670.7L1982.5 670.5L1984.1 670.3L1985 670.7L1985.7 670.7L1987.3 670.6L1988.9 670.3L1990.5 670.2L1992.1 670.2L1993.7 669.8L1995.3 669.3L1996.9 668.7L1998.5 668.7L2000.1 668.4L2001.7 668.2L2003.3 667.8L2004.9 668.2L2006.5 668.3L2008.1 668.2L2009.7 667.5L2011.3 667.2L2012.9 667.2L2014 667.1L2014.5 667.1L2016.1 667.6L2017 668.1L2017.7 668.3L2019.3 668.3L2020.9 667.9L2022 667.4L2022.5 666.8L2024.1 666.6L2025.7 666.4L2027.3 666.6L2028.9 666.7L2030.5 666L2032.1 665.5L2033.7 664.8L2034 665.4L2035.3 665L2036.9 664.9L2038.5 664.7L2040.1 665.1L2041.7 665.1L2043.3 664.7L2044.9 664.2L2046.5 664.3L2048.1 664.4L2049.7 664L2051.3 663.7L2052.9 663.8L2054.5 664.3L2055 664L2056.1 663.9L2057.7 663.4L2059.3 663.3L2060.9 662.9L2062.5 663.1L2064.1 663.1L2065.7 662.9L2067.3 662.5L2068.9 662.1L2070.5 662.4L2072.1 662.5L2073.7 662L2075.3 661.5L2076.8 661.5L2076.9 662.4L2078.5 662.6L2080 662.5L2080.1 662.4L2081.7 662L2083.3 660.9L2084 660.4L2084.9 660.9L2086.5 660.7L2088.1 660.2L2089.7 659.8L2091.3 659.9L2092.9 659.5L2094.5 658.6L2095.6 658.4L2096.1 658.1L2096.9 657.5L2097.7 624.1L2097.9 615.8L2099.2 657.8L2099.3 657.8L2100.9 657.1L2101 657.1L2102.5 656.9L2104.1 656.3L2105.7 655.7L2107.3 655.3L2108.9 655.3L2110.5 655.2L2112.1 654.9L2113.7 654.3L2115.3 653.9L2116.9 653.4L2118.5 653.9L2120.1 653.5L2121.7 653.2L2123.3 652.8L2124.9 653L2126.5 652.8L2128.1 652.1L2129.7 651L2131.3 650.4L2132 650.5L2132.9 650.6L2134.5 649.9L2136.1 650.1L2137.7 650.2L2139.3 650L2140.9 649.5L2142.5 649.1L2144.1 648.9L2145.7 648.4L2147.3 648L2148.9 647.8L2150 647.7L2150.5 647.5L2152.1 647.2L2153.7 646.7L2155.3 646.3L2156.9 645.9L2158.5 646L2160.1 645.5L2161.7 645.3L2163.3 644.8L2164.9 644.4L2166.5 643.4L2168.1 643.1L2169.7 642.8L2171.3 642.3L2172.9 641.4L2174.5 640.9L2176.1 640.7L2177.7 640.8L2179.3 641L2180.9 641L2181 640.8L2182.5 640L2184.1 639.3L2185.7 639.1L2187.3 639.4L2188.9 639.4L2190.5 638.6L2192.1 637.6L2193.7 637L2195.3 636.4L2196.9 636L2198.5 635.8L2200.1 636.1L2201.7 635.9L2203.3 635.7L2204.9 635.4L2205 635.4L2206.5 635L2208.1 634.4L2209.7 633.9L2211.3 633.1L2212.9 632.6L2214.5 632.2L2216.1 631.7L2217.7 631.3L2219.3 631.1L2220.9 630.6L2222.5 630L2224.1 629.3L2225.7 629L2227.3 628.9L2228.9 629L2230 628.7L2230.5 628.5L2232.1 628L2233.7 627.3L2235.3 626.9L2236.9 627L2238.5 626.8L2240.1 626.8L2241.7 626.3L2243.3 625.8L2244.9 625.2L2246.5 624.8L2248.1 623.8L2249.7 622.8L2251.3 622.4L2252.9 622.6L2254.5 622.6L2255 622.4L2256.1 621.7L2257.7 621.3L2259.3 620.4L2260.9 619.9L2262.5 619.5L2264.1 619.2L2265.7 619.1L2267.3 618.6L2268.9 617.9L2270.5 616.7L2272.1 616.8L2273.7 616.6L2275.3 616.5L2276.9 616L2278.5 615.9L2279 615.2L2280.1 614.5L2281.7 614.4L2283.3 614.1L2284.9 613.3L2286.5 612.4L2288.1 612.5L2289.7 612.4L2291.3 612.1L2292.9 611.2L2294.5 610.7L2296.1 610.4L2297.7 609.7L2299.3 609.2L2300 609.7L2300.9 609.6L2302.5 608.6L2304.1 607.9L2305.7 607.4L2307.3 606.2L2308.9 605L2309 605.3L2310.5 605.4L2312.1 605.6L2313.7 605.6L2314.4 605.3L2315.3 605.5L2316.9 606.4L2318.5 607.6L2320 608.1L2320.1 607.7L2321.7 608.6L2323.3 609.2L2324.9 610.3L2326.5 611.2L2326.6 611.7L2327.7 613.1" stroke="#000" stroke-width="1.8"/><path d="M1544.1 705.9L1545.7 705.9L1547.3 705.9L1548.9 705.9L1550.5 705.9L1551.3 705.9L1552.1 698.6L1553.2 688.5L1553.7 688.3L1555.3 688L1556 687.7L1556.9 687.5L1558.5 686.6L1560.1 686.5L1561.7 686.4L1563.3 686.5L1564.9 685.9L1566.5 685.6L1568.1 684.9L1569.7 684.9L1571.3 684.8L1572.9 684.9L1574.5 684.4L1575 684L1576.1 683.8L1577.7 684.2L1579.3 683.9L1580.9 682.3L1582.5 680.9L1584.1 681.4L1585.7 682.1L1587.3 682.6L1588.9 682.3L1590.5 682.1L1592.1 681.5L1592.8 681L1593.7 681.1L1595.3 680.6L1596.9 680.1L1598.5 679.8L1600.1 680.6L1601.7 680.5L1603.3 679.6L1604.9 678.6L1605 679.2L1606.5 679.2L1608.1 679.1L1609.7 677.8L1611.3 677.4L1612.9 677.1L1614.5 676.7L1616.1 675.6L1617.7 675.3L1619 675.5L1619.3 675.6L1620.9 675.9L1622.5 675.9L1624.1 675.1L1625.7 673.8L1627.3 673.6L1628.9 673.6L1630 673.6L1630.5 673.2L1632.1 673.3L1633.7 672.8L1635.3 671.9L1636.9 670.6L1638.5 671L1640.1 671.7L1641.7 672.6L1641.7 672.4L1643.3 671.8L1644.9 671.2L1646.5 671.2L1648.1 670.8L1649.7 670.1L1651.3 670.6L1652.9 671.3L1654.5 671.4L1656.1 670.6L1657.7 670L1659.3 670L1660 670.1L1660.9 669.9L1662.5 669.4L1664.1 669.1L1665.7 669.3L1667.3 669.7L1668.9 669.8L1670.5 669.9L1672.1 669.4L1673.7 669.4L1675.3 668.7L1676.9 668.6L1678.5 668.6L1680.1 668.6L1681.7 668.3L1683.3 667.9L1684.9 667.7L1686.5 667.3L1688.1 667.3L1689.7 667.8L1690.8 668.6L1691.3 669L1692.9 669.8L1694.5 669.9L1696 669.4L1696.1 669.2L1697.7 669.8L1699.3 670.7L1700 670.4L1700.9 670.3L1702.5 668.8L1704.1 668.5L1705 668.3L1705.7 668.6L1707.3 669L1708.9 669.8L1710.5 670.2L1712 669.5L1712.1 669.1L1713.7 668.8L1715.3 669L1716.9 669.1L1718.5 668.6L1720.1 667.7L1721.7 667L1723.3 666.5L1724.9 666L1725 666.3L1726.5 666.6L1728.1 666.9L1729.7 666.4L1731.3 665.7L1732.9 664.8L1734.5 665.3L1736.1 664.9L1737.7 664.6L1739.3 663.2L1739.9 662.7L1740.9 662.5L1742.5 662.5L1744.1 662.6L1745.7 661.9L1747.3 661.8L1748.9 661.4L1750 662.2L1750.5 662.2L1752.1 662.5L1753.7 661.6L1755.3 661.5L1756.9 661L1758.5 661.1L1760.1 660.9L1761.7 661.1L1763.3 661.3L1764.9 661.5L1766.5 661.8L1768.1 661.7L1769.7 660.8L1771.3 660.1L1772.9 660.1L1774.5 659.8L1775 660.1L1776.1 660.5L1777.7 661L1779.3 661.1L1780.9 661.6L1782.5 661.7L1784.1 661L1785.7 660.8L1787.3 661L1788.8 661.1L1788.9 661.2L1790.5 661.3L1792.1 660.8L1793.7 660L1795.3 659.5L1796.9 660.3L1798.5 660.7L1800 660.6L1800.1 659.7L1801.7 660.1L1803.3 661.2L1804.9 662.6L1806.5 663.7L1807 663.7L1808.1 663.3L1809.7 662.3L1811.3 662.2L1812.9 662.5L1814.5 663.1L1815 662.6L1816.1 662.3L1817.7 662.9L1819.3 663.2L1820.9 662.2L1822.5 661.7L1824.1 661.1L1825 661.1L1825.7 660.7L1827.3 661.4L1828.9 661.1L1830.5 661.4L1832.1 661.4L1833.7 660.9L1835.3 659.5L1836.9 659.2L1837.7 660.3L1838.5 661.1L1840.1 661L1841.7 660.4L1843.3 660.4L1844.9 660.5L1846.5 660.5L1848.1 659.7L1849.7 659.7L1851.3 660.2L1852.9 660L1854.5 659.9L1856.1 660L1857.7 659.9L1859.3 658.2L1860 658L1860.9 658.6L1862.5 658.9L1864.1 657.9L1865.7 657.8L1867.3 658.1L1868.9 658.2L1870.5 658.7L1872.1 659.9L1873.7 660.2L1875.3 658.9L1876.9 658.1L1878.5 657.1L1880 656.8L1880.1 656.6L1881.7 656.6L1883.3 655.8L1884.9 656L1886.5 656.5L1888.1 656.8L1889.7 656.8L1891 656.3L1891.3 655.8L1892.9 655.3L1894 655.7L1894.5 657.2L1896.1 660.3L1897.7 662.8L1898.5 663.4L1899.3 663.3L1900.9 663.3L1902.5 663.6L1903 664.4L1904.1 663.9L1905.7 661.9L1907.3 658.8L1908.9 656.4L1910.5 654.2L1911 653.8L1912.1 653.4L1913.7 653.3L1915.3 652.6L1916.9 652.6L1918.5 652L1920 651.5L1920.1 651.3L1921.7 651.6L1923.3 652L1924.9 652.4L1926.5 653.1L1928.1 653.6L1929.7 653.4L1931 653L1931.3 652.6L1932.9 652.7L1934.5 652.6L1936 652.1L1936.1 651.6L1937.7 651.5L1939.3 650.6L1940.9 649.3L1942.5 648.6L1944.1 648.5L1945.7 647.8L1947.3 647.3L1948.9 647.7L1950 648L1950.5 649.1L1952.1 648.6L1953.7 648.2L1955.3 647.1L1956.9 646.8L1958.5 645.6L1960.1 644.4L1961.7 643.6L1963.3 643.9L1964.9 644.9L1966.5 645L1968.1 644.4L1969.7 643.2L1970 643.3L1971.3 643.6L1972.9 643.3L1974.5 642.1L1976.1 641L1977.7 641.2L1979.3 641.3L1980.9 641.1L1982.5 640.3L1984.1 640L1985 639.7L1985.7 638.9L1987.3 637.9L1988.9 637.2L1990.5 637.4L1992.1 638.5L1993.7 638.5L1995.3 637.6L1996.9 636.9L1998.5 636.9L2000 636.5L2000.1 636.1L2001.7 636.4L2003.3 636.1L2004.9 636L2006.5 635.6L2008.1 635.4L2009.7 634.4L2011.3 633.6L2012.9 633.8L2014 634.3L2014.5 634.8L2016.1 635.2L2017 635.6L2017.7 635.5L2019.3 634.9L2020.9 634.4L2022 633.6L2022.5 632.9L2024.1 631.2L2025.7 631.3L2027.3 631.6L2028.9 631.9L2030.5 631.5L2032.1 631.6L2033.7 631.5L2034 631.1L2035.3 630.2L2036.9 629.9L2038.5 629.4L2040.1 629.2L2041.7 629.2L2043.3 629.6L2044.9 628.8L2046.5 628L2048.1 627L2049.7 626.7L2051.3 626.2L2052.9 626.2L2054.5 625.8L2055 625.9L2056.1 626.1L2057.7 625.6L2059.3 625.2L2060.9 624L2062.5 623.1L2064.1 622.4L2065.7 622.9L2067.3 623.5L2068.9 622.7L2070.5 622L2072.1 621.8L2073.7 622.4L2075.3 622.2L2076.8 621.9L2076.9 621.3L2078.5 622.5L2080 623.6L2080.1 624.1L2081.7 622.5L2083.3 620.7L2084 620L2084.9 620.7L2086.5 620.5L2088.1 619.6L2089.7 618.2L2091.3 617.6L2092.9 617.2L2094.5 615.9L2095.2 615.6L2096.1 613.3L2096.6 612L2097.7 493.8L2097.8 483.1L2099 612L2099.3 612.2L2100.5 613.2L2100.9 613.1L2102.5 613.2L2104.1 612.8L2105.7 611.8L2107.3 611.5L2108.9 611.1L2110 610L2110.5 609.7L2112.1 609.8L2113.7 609L2115.3 608.3L2116.9 608.3L2118.5 608.4L2120.1 607.6L2121.7 606.9L2123.3 606.2L2124.9 605.4L2126.5 605.5L2128.1 604.9L2129.7 604.3L2131.3 603.5L2132 603.5L2132.9 602.9L2134.5 601.8L2136.1 601L2137.7 600.7L2139.3 600.8L2140.9 600.2L2142.5 600.5L2144.1 600L2145.7 599.4L2147.3 597.8L2148.9 597.2L2150 597.2L2150.5 597.1L2152.1 596.7L2153.7 596.2L2155.3 595.3L2156.9 594.2L2158.5 593.1L2160.1 593.5L2161.7 592.7L2163.3 591.6L2164.9 589.2L2166.5 588.1L2168.1 587.6L2169.7 587.3L2171.3 586.5L2172.9 585.8L2174.5 585.4L2176.1 585.6L2177.7 584.8L2179.3 583.6L2180.9 582.2L2181 582.2L2182.5 581.2L2184.1 580.5L2185.7 580.6L2187.3 580.4L2188.9 579.7L2190.5 578.9L2192.1 578.5L2193.7 577.8L2195.3 577L2196.9 576L2198.5 575.4L2200.1 574.9L2201.7 574.3L2203.3 572.8L2204.9 572.4L2205 572.8L2206.5 573.4L2208.1 572.2L2209.7 571.3L2211.3 569.5L2212.9 568.9L2214.5 568.2L2216.1 567.4L2217.7 566.3L2219.3 565.4L2220.9 564.9L2222.5 564.4L2224.1 564L2225.7 563.5L2227.3 562.6L2228.9 561.3L2230 560.1L2230.5 559.4L2232.1 558.7L2233.7 558.7L2235.3 558.3L2236.9 557.3L2238.5 556.5L2240.1 555.9L2241.7 555.2L2243.3 554.2L2244.9 554L2246.5 552.9L2248.1 551.6L2249.7 551L2251.3 551.1L2252.9 550.5L2254.5 549.5L2255 549.9L2256.1 549.9L2257.7 549.4L2259.3 548.7L2260.9 548.1L2262.5 547.3L2264.1 546.3L2265.7 545.6L2267.3 544.4L2268.9 544.1L2270.5 543.8L2272.1 543.2L2273.7 541.9L2275.3 542L2276.9 542.1L2278.5 541.7L2279 540.6L2280.1 539.3L2281.7 538.7L2283.3 538.7L2284.9 538.1L2286.5 537.6L2288.1 537.4L2289.7 536.9L2291.3 535.5L2292.9 534.5L2294.5 534.3L2296.1 533.9L2297.7 532.8L2299.3 532.5L2300 532.7L2300.9 533.3L2302.5 532.8L2304.1 532L2305.7 531L2307.3 530.4L2308.9 530.2L2309 530L2310.5 529.1L2312.1 528.3L2313.7 527.7L2314.4 527.5L2315.3 527.4L2316.9 528.5L2318.5 529.6L2320 530.9L2320.1 530.9L2321.7 532.4L2323.3 534.3L2324.9 535.5L2326.5 535.7L2326.6 535L2327.7 536.6" stroke="#0000ff" stroke-width="2.2"/></g><path d="M1593.07 191.7v5.5M1593.07 437.9v-5.5M1642.05 191.7v5.5M1642.05 437.9v-5.5M1691.02 191.7v5.5M1691.02 437.9v-5.5M1740 191.7v9.5M1740 437.9v-9.5M1788.97 191.7v5.5M1788.97 437.9v-5.5M1837.95 191.7v5.5M1837.95 437.9v-5.5M1886.92 191.7v5.5M1886.92 437.9v-5.5M1935.9 191.7v9.5M1935.9 437.9v-9.5M1984.88 191.7v5.5M1984.88 437.9v-5.5M2033.85 191.7v5.5M2033.85 437.9v-5.5M2082.82 191.7v5.5M2082.82 437.9v-5.5M2131.8 191.7v9.5M2131.8 437.9v-9.5M2180.77 191.7v5.5M2180.77 437.9v-5.5M2229.75 191.7v5.5M2229.75 437.9v-5.5M2278.72 191.7v5.5M2278.72 437.9v-5.5" stroke="#000" stroke-width="2.2" fill="none"/><path d="M1544.1 202.89h9.5M2327.7 202.89h-9.5M1544.1 258.85h9.5M2327.7 258.85h-9.5M1544.1 314.8h9.5M2327.7 314.8h-9.5M1544.1 370.75h9.5M2327.7 370.75h-9.5M1544.1 426.71h9.5M2327.7 426.71h-9.5M1544.1 415.52h5.5M2327.7 415.52h-5.5M1544.1 404.33h5.5M2327.7 404.33h-5.5M1544.1 393.14h5.5M2327.7 393.14h-5.5M1544.1 381.95h5.5M2327.7 381.95h-5.5M1544.1 359.56h5.5M2327.7 359.56h-5.5M1544.1 348.37h5.5M2327.7 348.37h-5.5M1544.1 337.18h5.5M2327.7 337.18h-5.5M1544.1 325.99h5.5M2327.7 325.99h-5.5M1544.1 303.61h5.5M2327.7 303.61h-5.5M1544.1 292.42h5.5M2327.7 292.42h-5.5M1544.1 281.23h5.5M2327.7 281.23h-5.5M1544.1 270.04h5.5M2327.7 270.04h-5.5M1544.1 247.65h5.5M2327.7 247.65h-5.5M1544.1 236.46h5.5M2327.7 236.46h-5.5M1544.1 225.27h5.5M2327.7 225.27h-5.5M1544.1 214.08h5.5M2327.7 214.08h-5.5" stroke="#000" stroke-width="2.2" fill="none"/><rect x="1544.1" y="191.7" width="783.6" height="246.2" fill="none" stroke="#000" stroke-width="2.78"/><text x="1533.4" y="213.49" font-size="27.78" text-anchor="end">10</text><text x="1533.4" y="269.45" font-size="27.78" text-anchor="end">5</text><text x="1533.4" y="325.4" font-size="27.78" text-anchor="end">0</text><text x="1533.4" y="381.35" font-size="27.78" text-anchor="end">−5</text><text x="1533.4" y="437.31" font-size="27.78" text-anchor="end">−10</text><text x="1457.5" y="314.8" font-size="27.78" text-anchor="middle" transform="rotate(-90 1457.5 314.8)">Current (uA)</text><text x="2336.5" y="180.6" font-size="20.83" transform="rotate(90 2336.5 180.6)">Sensor Surface Current</text><text x="2356.5" y="180.6" font-size="20.83" fill="#0000ff" transform="rotate(90 2356.5 180.6)">Sensor Surface Current x 5</text><path d="M1593.07 463v5.5M1593.07 707.4v-5.5M1642.05 463v5.5M1642.05 707.4v-5.5M1691.02 463v5.5M1691.02 707.4v-5.5M1740 463v9.5M1740 707.4v-9.5M1788.97 463v5.5M1788.97 707.4v-5.5M1837.95 463v5.5M1837.95 707.4v-5.5M1886.92 463v5.5M1886.92 707.4v-5.5M1935.9 463v9.5M1935.9 707.4v-9.5M1984.88 463v5.5M1984.88 707.4v-5.5M2033.85 463v5.5M2033.85 707.4v-5.5M2082.82 463v5.5M2082.82 707.4v-5.5M2131.8 463v9.5M2131.8 707.4v-9.5M2180.77 463v5.5M2180.77 707.4v-5.5M2229.75 463v5.5M2229.75 707.4v-5.5M2278.72 463v5.5M2278.72 707.4v-5.5" stroke="#000" stroke-width="2.2" fill="none"/><path d="M1544.1 646.3h9.5M2327.7 646.3h-9.5M1544.1 585.2h9.5M2327.7 585.2h-9.5M1544.1 524.1h9.5M2327.7 524.1h-9.5M1544.1 695.18h5.5M2327.7 695.18h-5.5M1544.1 682.96h5.5M2327.7 682.96h-5.5M1544.1 670.74h5.5M2327.7 670.74h-5.5M1544.1 658.52h5.5M2327.7 658.52h-5.5M1544.1 634.08h5.5M2327.7 634.08h-5.5M1544.1 621.86h5.5M2327.7 621.86h-5.5M1544.1 609.64h5.5M2327.7 609.64h-5.5M1544.1 597.42h5.5M2327.7 597.42h-5.5M1544.1 572.98h5.5M2327.7 572.98h-5.5M1544.1 560.76h5.5M2327.7 560.76h-5.5M1544.1 548.54h5.5M2327.7 548.54h-5.5M1544.1 536.32h5.5M2327.7 536.32h-5.5M1544.1 511.88h5.5M2327.7 511.88h-5.5M1544.1 499.66h5.5M2327.7 499.66h-5.5M1544.1 487.44h5.5M2327.7 487.44h-5.5M1544.1 475.22h5.5M2327.7 475.22h-5.5" stroke="#000" stroke-width="2.2" fill="none"/><rect x="1544.1" y="463" width="783.6" height="244.4" fill="none" stroke="#000" stroke-width="2.78"/><text x="1533.4" y="718" font-size="27.78" text-anchor="end">0</text><text x="1533.4" y="656.9" font-size="27.78" text-anchor="end">10</text><text x="1533.4" y="595.8" font-size="27.78" text-anchor="end">20</text><text x="1533.4" y="534.7" font-size="27.78" text-anchor="end">30</text><text x="1533.4" y="473.6" font-size="27.78" text-anchor="end">40</text><text x="1430.5" y="599.8" font-size="27.78" text-anchor="middle" transform="rotate(-90 1430.5 599.8)">Counts Per</text><text x="1459.5" y="599.8" font-size="27.78" text-anchor="middle" transform="rotate(-90 1459.5 599.8)">Second (x10<tspan font-size="19.4" dy="-10.5">3</tspan><tspan dy="10.5">)</tspan></text><text x="1544.1" y="752.6" font-size="27.78" text-anchor="middle">14:23:30</text><text x="1740" y="752.6" font-size="27.78" text-anchor="middle">14:27:29</text><text x="1935.9" y="752.6" font-size="27.78" text-anchor="middle">14:31:28</text><text x="2131.8" y="752.6" font-size="27.78" text-anchor="middle">14:35:27</text><text x="2327.7" y="752.6" font-size="27.78" text-anchor="middle">14:39:26</text><text x="2335" y="487.5" font-size="22.22" transform="rotate(90 2335 487.5)">Hit Counter</text><text x="2359.3" y="487.5" font-size="22.22" fill="#0000ff" transform="rotate(90 2359.3 487.5)">Detect Counter</text><g clip-path="url(#mclip)"><path d="M2142.3 794.4L2197.5 801L2219.9 807.5L2236.6 814.1L2250.4 820.7L2262.3 827.2L2272.8 833.8L2282.1 840.3L2290.6 846.9L2298.4 853.5L2305.5 860L2312.1 866.6L2318.2 873.2L2323.9 879.7L2329.1 886.3L2334 892.9L2338.5 899.4L2342.8 906L2346.7 912.6L2350.3 919.1L2353.7 925.7L2356.8 932.2L2359.7 938.8L2362.4 945.4L2364.8 951.9L2367 958.5L2369 965.1L2370.8 971.6L2372.4 978.2L2373.8 984.8L2375 991.3L2376 997.9L2376.8 1004.4L2377.5 1011L2377.9 1017.6L2378.2 1024.1L2378.3 1030.7L2378.2 1037.3L2377.9 1043.8L2377.5 1050.4L2376.8 1057L2376 1063.5L2375 1070.1L2373.8 1076.6L2372.4 1083.2L2370.8 1089.8L2369 1096.3L2367 1102.9L2364.8 1109.5L2362.4 1116L2359.7 1122.6L2356.8 1129.2L2353.7 1135.7L2350.3 1142.3L2346.7 1148.9L2342.8 1155.4L2338.5 1162L2334 1168.5L2329.1 1175.1L2323.9 1181.7L2318.2 1188.2L2312.1 1194.8L2305.5 1201.4L2298.4 1207.9L2290.6 1214.5L2282.1 1221.1L2272.8 1227.6L2262.3 1234.2L2250.4 1240.7L2236.6 1247.3L2219.9 1253.9L2197.5 1260.4L2142.3 1267L1670.3 1267L1615.1 1260.4L1592.7 1253.9L1576 1247.3L1562.2 1240.7L1550.3 1234.2L1539.8 1227.6L1530.5 1221.1L1522 1214.5L1514.2 1207.9L1507.1 1201.4L1500.5 1194.8L1494.4 1188.2L1488.7 1181.7L1483.5 1175.1L1478.6 1168.5L1474.1 1162L1469.8 1155.4L1465.9 1148.9L1462.3 1142.3L1458.9 1135.7L1455.8 1129.2L1452.9 1122.6L1450.2 1116L1447.8 1109.5L1445.6 1102.9L1443.6 1096.3L1441.8 1089.8L1440.2 1083.2L1438.8 1076.6L1437.6 1070.1L1436.6 1063.5L1435.8 1057L1435.1 1050.4L1434.7 1043.8L1434.4 1037.3L1434.3 1030.7L1434.4 1024.1L1434.7 1017.6L1435.1 1011L1435.8 1004.4L1436.6 997.9L1437.6 991.3L1438.8 984.8L1440.2 978.2L1441.8 971.6L1443.6 965.1L1445.6 958.5L1447.8 951.9L1450.2 945.4L1452.9 938.8L1455.8 932.2L1458.9 925.7L1462.3 919.1L1465.9 912.6L1469.8 906L1474.1 899.4L1478.6 892.9L1483.5 886.3L1488.7 879.7L1494.4 873.2L1500.5 866.6L1507.1 860L1514.2 853.5L1522 846.9L1530.5 840.3L1539.8 833.8L1550.3 827.2L1562.2 820.7L1576 814.1L1592.7 807.5L1615.1 801L1670.3 794.4Z" fill="#73a6cf"/><g filter="url(#b20)"><ellipse cx="1540.3" cy="1057" rx="150" ry="90" fill="#6a9fca" fill-opacity="0.8"/><ellipse cx="1524.2" cy="951.9" rx="110" ry="50" fill="#6c9fc9" fill-opacity="0.7"/><ellipse cx="1778.4" cy="957.2" rx="70" ry="36" fill="#6598c4" fill-opacity="0.9"/><ellipse cx="1842" cy="1096.3" rx="50" ry="60" fill="#699bc6" fill-opacity="0.8"/><ellipse cx="1855.4" cy="1109.5" rx="60" ry="50" fill="#6c9fc9" fill-opacity="0.7"/><ellipse cx="2110.1" cy="1109.5" rx="80" ry="50" fill="#6b9ec8" fill-opacity="0.8"/><ellipse cx="2320.6" cy="978.2" rx="60" ry="60" fill="#6b9ec8" fill-opacity="0.7"/><ellipse cx="1906.3" cy="1193.5" rx="500" ry="18" fill="#7fb1d8" fill-opacity="0.9"/><ellipse cx="1906.3" cy="820.7" rx="500" ry="25" fill="#7db0d8" fill-opacity="0.9"/><ellipse cx="1608" cy="1135.7" rx="100" ry="30" fill="#7aadd5" fill-opacity="0.6"/></g><g filter="url(#b1)"><path d="M1535 858.7L1547.5 850.8L1560.4 846.9L1575.9 843.5L1587.4 845.6L1595.9 846.6L1604.5 847.7L1613.5 849.5L1623.3 848.2L1633 846.9L1638.3 848.2L1649 848.2L1657.7 850.8L1667.6 852.2L1679.3 850.8L1689.3 852.2L1698 852.2L1708.2 843L1712.5 849.5L1717.5 852.2L1724 848.2L1730.5 848.2L1730.5 852.2L1719.1 857.4L1712.7 861.4L1696 867.9L1688.8 875.8L1691.2 881L1701.1 882.4L1706.9 885.5L1712.5 886.3L1711.9 891.5L1715.2 896L1718.2 894.2L1720.3 887.6L1727.2 881L1726.8 875.8L1731.6 866.6L1739.3 867.1L1747 870.5L1749.4 877.1L1757.6 873.2L1758.2 878.4L1761.7 882.4L1765.4 886.3L1771.2 891.5L1773 894.2L1766.4 896.8L1762.2 899.4L1750.2 899.4L1744.8 902L1749.3 903.4L1749.6 907.3L1757.6 909.9L1757.1 912.6L1749.5 913.9L1744.3 915.2L1742.4 912.6L1734.2 916.5L1730.9 920.4L1733.1 921.7L1722.6 924.4L1717.6 930.9L1715.3 936.2L1710.8 940.1L1705.1 944.1L1700.6 948L1698.3 954.6L1700.8 959.8L1700 964.3L1698.1 964.5L1694.6 958.5L1694.7 953.2L1689.7 952.7L1682.3 951.1L1678 953.8L1674.2 953.8L1666.6 953.2L1658.3 957.2L1655.7 965.1L1653.9 971.6L1656.3 979.5L1661.1 982.7L1667.7 981.9L1671.8 979.5L1672.8 975.6L1681.5 974.3L1679.4 980.8L1676.1 988.7L1682.5 989.2L1688.9 991.3L1688.3 999.2L1687.6 1003.1L1691.8 1007.1L1697.1 1006.5L1699.7 1005.8L1703.5 1008.4L1702.1 1011L1696.9 1011.5L1693 1009.7L1689.1 1008.9L1684.1 1004.4L1682.2 1001.8L1678.1 996.6L1671.7 994.7L1665.9 992.4L1660.5 988.2L1653.9 989.2L1646.4 986.1L1637.7 982.7L1633.1 978.2L1634 971.6L1629.7 966.4L1625.5 961.1L1620.4 954.6L1619.2 948.5L1615 948L1614.6 951.9L1618.4 958.5L1622 966.4L1623.4 970.3L1621.5 969.5L1617.9 963.7L1613.5 957.2L1611.6 951.9L1609.6 945.4L1607.1 941.4L1602.4 940.1L1600.4 934.1L1599.3 929.6L1597.6 924.9L1600.9 917.8L1604.3 909.1L1605 903.6L1609.8 902L1606.1 899.4L1601.4 896.8L1601.7 891.5L1599 887.6L1598.5 882.4L1595.1 878.4L1590.5 876.6L1585.6 873.7L1576.8 873.2L1571.9 870.5L1564.2 873.2L1556.5 875.8L1561.6 870.5L1551.9 875.8L1544.4 879.7L1534.6 883.7L1525.8 886.3L1518.5 887.3L1527.6 883.7L1539.2 878.9L1543.9 875.8L1533.4 876.6L1535.6 873.2L1530.2 871.3L1530.9 867.9L1537.1 864.8L1547.5 861.9L1547.6 860.6L1539.1 861.4ZM1741.2 837.2L1746 839.6L1754.6 843L1761.1 846.9L1762 852.2L1770.4 855.6L1765.5 860L1760.2 865.3L1752.8 867.1L1746.7 865.3L1742.5 861.9L1733.6 861.9L1741.1 857.4L1747.9 852.2L1742.7 849.5L1737.6 846.9L1724.8 846.9L1717.9 844.3L1720.3 839L1731.1 836.9ZM1657.2 843.5L1668 838.2L1681.9 839L1687.1 840.3L1689.4 845.6L1680.8 848.7L1669.1 850.1L1661.5 848.7L1656.5 846.9ZM1644.1 841.7L1653.8 835.9L1663.5 836.4L1665.3 839L1655.5 843L1646.6 843.5ZM1729.7 830.4L1737.7 830.5L1745.6 830.6L1756.9 825.9L1769.6 822L1779.2 819.3L1788.7 816.7L1789.5 813.3L1779.8 812.9L1770.2 812.5L1760 813.6L1749.8 814.6L1735 818L1738.8 822L1733.4 825.9ZM1718.2 834.8L1726.4 834.8L1734.6 834.8L1742.7 834.8L1744.5 832.2L1737.3 831L1730.1 829.8L1722.5 829.5L1714.8 829.1ZM1682.4 833.8L1692.9 831.2L1705 831.2L1710.9 833.8L1707.8 837.7L1696.5 841.7L1691.3 837.7ZM1670.1 833.8L1681.3 830.6L1669.5 830.4L1660.7 831.2L1662.5 833.3ZM1707 841.7L1715.8 841.1L1721.1 836.4L1710.9 836.4ZM1716.2 858.7L1723.5 857.4L1726.5 862.7L1720.9 865.3L1714.3 862.7ZM1762.6 905.5L1770.3 907.3L1777.4 908.3L1778.8 904.7L1776.4 900.7L1772.7 895.5L1768.5 898.1ZM1686.8 972.9L1694.9 969.8L1701.2 970.8L1707.4 973.7L1714.2 977.7L1705.6 978.5L1704.5 976.4L1697.1 973.5L1689.3 973.7ZM1713.3 982.1L1719.8 978.5L1726.2 979.2L1728.9 982.1L1722 983.4ZM1703.1 982.4L1708.3 982.9L1706.4 984L1703.1 983.4ZM1732 982.1L1735.8 982.4L1735.5 983.4L1731.9 983.4ZM1852.6 858.7L1856.9 856.4L1866.7 856.6L1874 856.9L1876.1 860L1872.9 861.9L1864.8 864.2L1859.3 863.2L1855.6 862.9L1857.4 861.1L1853 860.3ZM1704.1 1008.4L1709 1002.3L1715.7 1000.5L1719.7 998.1L1723.5 1000.5L1728.6 1003.1L1739.1 1002.9L1744.3 1002.6L1749.3 1008.4L1757 1014.9L1764.8 1015.5L1771.3 1018.9L1775.2 1028.1L1780.4 1032.5L1789.6 1037.3L1798.8 1038.3L1806.7 1041.2L1813.8 1045.1L1815 1051.7L1812.2 1058.3L1805.9 1064.8L1805 1075.3L1802.7 1083.2L1800.4 1088.5L1795.4 1091.1L1787.9 1093.7L1781.8 1099L1781.9 1105.5L1776.7 1112.1L1771.2 1120L1765.2 1122.1L1761.9 1126L1763.8 1130.5L1751.8 1133.1L1751.9 1138.3L1745.2 1138.3L1748.9 1142.3L1746.5 1148.9L1741.7 1151.5L1746.6 1156.7L1741.3 1164.6L1743.7 1168.3L1752.9 1174.3L1749.1 1175.9L1741.9 1175.1L1736.4 1172.5L1728.9 1167.2L1724.3 1159.4L1724.7 1151.5L1725.9 1141L1722.8 1134.4L1722.1 1127.8L1725.3 1117.3L1724 1108.2L1725.1 1096.3L1724.5 1083.2L1722 1078L1716.5 1074L1708.2 1067.5L1704.8 1062.2L1699.6 1053L1694.1 1046.5L1693.2 1042L1696.6 1038.6L1694.4 1033.3L1696.5 1029.4L1699.2 1026.8L1703.2 1020.2L1703.6 1013.6ZM1760.7 1165.9L1767.8 1165.7L1767.2 1168L1761.2 1167.8ZM1891.5 936.7L1901.3 938.3L1911.3 934.3L1921.3 933.6L1931.3 932.8L1934 938.8L1932.8 942.2L1944.3 945.9L1954.7 951.1L1957 945.4L1964.6 945.4L1969.8 947.5L1980 949.6L1988.9 948.8L1989.1 951.9L1992 957.2L1997.7 967.7L2002 975.6L2003.6 982.1L2007.8 988.7L2013.1 992.6L2018.5 997.9L2019.4 1000.5L2023.9 1003.1L2031.7 1001.3L2040 999.7L2039.6 1003.4L2034.6 1012.3L2030.8 1018.9L2024.3 1025.4L2016.4 1033.3L2012.5 1037.3L2008.5 1043.8L2009.7 1050.4L2009.6 1057L2012 1063.5L2012 1070.1L2005 1076.1L1998.2 1083.2L1997.3 1092.4L1991.1 1097.7L1990.2 1104.2L1983.9 1111.6L1977.2 1117.3L1970.7 1120L1961.8 1120.5L1956.7 1122.1L1952.5 1120L1952 1114.7L1948.5 1105.5L1944.8 1100.3L1943.7 1089.8L1937.4 1078L1937.5 1071.4L1942.1 1062.2L1941.1 1054.3L1938.5 1046.5L1937.2 1042.5L1931.2 1036L1929.9 1029.4L1931.7 1024.1L1931.2 1020.2L1928.6 1018.9L1923.3 1019.4L1918.1 1014.2L1910.2 1014.4L1901.1 1017.8L1894.5 1017L1886.6 1019.1L1881.4 1014.9L1876.2 1012.3L1871.5 1007.9L1871 1005L1867.1 1001.8L1862.7 997.9L1862.8 993.9L1860.7 992.1L1863.4 987.4L1864.3 980.8L1862.3 975.6L1865.1 969L1869.1 962.4L1873 958L1878.2 955.1L1881.3 951.9L1881.4 948L1884.8 943.3L1889.1 941.4ZM2035 1062.2L2037.5 1071.4L2034.9 1076.6L2031.7 1085.8L2027.7 1095.8L2022.4 1097.7L2019.2 1092.4L2018.2 1087.9L2021 1082.7L2020.6 1075.3L2026 1072.2L2031.5 1066.1ZM1882.6 929.1L1884.5 921.7L1883.7 917.3L1886.6 916L1896.5 916.5L1901.9 916.8L1903.4 909.9L1899.5 906L1894.9 903.6L1902.7 902.8L1902.2 900.2L1906.8 900.7L1910.4 897.1L1914.7 895.7L1917.4 891.5L1922.9 890L1926.8 888.9L1925.5 885L1925.4 881L1930.6 879.2L1930.4 883.7L1929.3 886.3L1932.3 888.9L1935.7 887.9L1939.3 888.9L1949.8 887.1L1952.9 887.9L1955.6 885.5L1955.4 881L1958.4 879.2L1962.8 880.5L1962.6 877.4L1960.3 875.3L1970.5 874L1975 873.2L1971.3 871.6L1963.4 872.6L1957.8 873.2L1954.8 870.5L1954.6 865.3L1960.6 860L1962.2 858.7L1955.9 857.9L1954.2 861.6L1946.8 866.1L1945.4 870.5L1949.3 873.2L1944.8 879.7L1943.7 883.1L1939.8 885L1936.3 884.7L1932.1 877.1L1930.4 874.5L1924.8 878.2L1919.7 876.6L1917.7 870.5L1919.8 866.6L1925.3 863.7L1930.8 861.4L1934.8 856.1L1938.8 851.4L1943.9 848.7L1951.1 846.9L1960.7 844L1965.7 844.8L1972.3 846.1L1968.4 847.7L1977.1 848.5L1983.8 849.5L1995.8 854.3L1996.5 856.9L1989.9 856.9L1980.8 855.6L1979.1 857.9L1984.3 861.9L1988.9 862.7L1995.2 860.8L1995.5 857.4L2003.1 856.9L2001.8 852.2L2007.2 852.2L2014.6 851.6L2023 850.8L2029.5 850.8L2036 848.2L2043.8 848.7L2050.9 850.3L2051.9 845.6L2047.5 843L2049.7 839L2057.2 839.6L2060.2 844.3L2065.8 852.2L2068.4 850.8L2062.9 840.3L2069.9 841.7L2072.8 837.7L2085.3 836.4L2082.5 832.5L2090 831.8L2097.6 831.2L2106.5 829.8L2111.5 826.7L2119.7 829.1L2133.8 831.2L2136.7 836.4L2133.1 836.9L2141.8 837.5L2153.6 839L2162.2 838.2L2171.5 840.3L2181.5 844.3L2186.6 843L2195 843L2197.8 839.6L2211.7 840.9L2221.5 842.2L2230.5 844.5L2248.8 847.7L2255.2 847.7L2265 846.9L2273.5 848.7L2282.7 847.4L2294.1 849.8L2305 859.5L2303.6 861.4L2306.5 866.6L2300.3 868.4L2296.5 873.2L2286.2 873.2L2282.9 873.4L2283.8 878.9L2286.1 883.7L2284.8 890.2L2282.9 892.9L2281 896.8L2276.1 891.5L2270.2 883.7L2270.1 879.2L2271.4 871.9L2274.9 866.6L2269.2 869.2L2261.7 869.8L2260.7 874.2L2253.2 875L2246.1 874.7L2235 875.3L2231.1 879.7L2229.3 886.3L2227.3 888.9L2234.3 888.9L2240.6 891.5L2242.8 894.2L2243.7 899.4L2245.9 904.7L2243.4 908.6L2239.6 913.9L2234.1 918.3L2230.2 917.8L2228.4 919.6L2227.4 923.6L2223.5 926.5L2227.1 929.6L2230.6 933.6L2231.6 937.5L2227.7 939.6L2225.1 940.1L2223.8 934.9L2219 931.7L2218.2 927L2215.9 926.2L2207.6 923.6L2207.9 928.3L2200.3 927.8L2200.3 930.1L2204.3 932.8L2208.2 931.5L2213.3 933.6L2209.1 936.2L2206.8 938.8L2210.4 942.7L2215.4 947.2L2214.1 950.1L2217.2 952.5L2216.8 956.4L2213.7 963.5L2209.9 966.4L2206.7 970.3L2200.6 972.2L2193.2 974.5L2191.8 977.4L2189.3 974.3L2185.4 974L2182.4 976.9L2180.6 980.8L2182.9 984.8L2189.5 990L2191.5 997.9L2187.2 1003.1L2181.8 1007.6L2180.2 1003.9L2175.3 1001.3L2173.3 998.4L2169.4 995.8L2167.1 995.8L2165.7 1001.8L2166 1006.3L2169.4 1011.8L2173.4 1014.4L2177.3 1018.9L2177.4 1023.3L2179.5 1027L2177.7 1027.3L2171.9 1023.1L2169.1 1016.3L2167.1 1012.8L2163.6 1009.7L2163.8 1004.4L2164 999.2L2161.1 992.6L2160.1 987.4L2155.8 986.6L2154 989.2L2151.6 988.7L2150.9 982.1L2147.1 978.2L2143.3 972.2L2139.8 971.6L2136.2 973.5L2131.1 974.3L2131 977.4L2126.5 979.5L2120.2 986.6L2115 990L2115.4 995.8L2114.9 1003.7L2112.9 1006.5L2110.6 1008.6L2109.1 1009.4L2106.3 1005.8L2103.4 999.2L2101 993.9L2097.4 987.4L2095 980.8L2094.3 975.6L2088.7 976.1L2084.4 972.2L2086.8 970.3L2080.1 967.9L2077.7 964.3L2065.6 964.5L2056.5 963.5L2052.4 960.3L2050.5 959.3L2046 960.9L2038 957.4L2033.6 951.4L2029.8 951.9L2028.7 953.2L2031.1 957.7L2035 961.1L2036.9 965.3L2038.8 966.9L2045.3 967.2L2050 962.4L2051.7 966.4L2057.6 969L2060.6 971.6L2057.7 976.9L2055.9 980.8L2050.4 984.8L2042.1 988.7L2034 993.2L2024.2 996.6L2019.8 997.4L2017.8 991.8L2016.8 987.4L2012.6 980.8L2007.6 974.3L2005.5 969L2001.3 963.7L1995.8 957.2L1995 953.2L1992 957.2L1989.1 951.9L1988.9 948.8L1993.2 948.5L1994.9 944.1L1996.8 936.7L1996.6 934.1L1986.7 935.7L1981.6 935.4L1975.2 933.6L1972.4 929.6L1971.5 927L1972.8 924.4L1965.8 923.6L1963.4 924.9L1963.1 927.5L1966.3 930.9L1964 934.9L1960.7 934.1L1958.7 929.6L1954.7 924.4L1954.5 920.4L1945.6 916.5L1940.6 912.6L1939.2 910.7L1936.4 911.8L1937 915.2L1940.8 919.1L1945.8 920.7L1952.3 925.2L1948.5 924.6L1947.4 928.3L1945.5 930.9L1946.2 928.3L1943.6 925.4L1939.7 922.5L1936.5 921L1932.2 918.1L1930.8 915.2L1927.9 914.1L1924.7 915.7L1921.1 917.5L1917.4 916.8L1914.2 917.8L1914.2 921L1908.8 923.1L1905.6 927L1905.1 930.1L1901.3 934.1L1895 934.3L1892.2 936.2L1890.5 934.1L1887.8 933L1884 933.6ZM1518.5 849.8L1525.1 853.5L1531 856.1L1532.3 857.4L1522.4 861.4L1516.7 859.3L1514 856.6L1507.6 859.5ZM1892.6 899.4L1897.9 898.6L1906.3 897.3L1909.6 896.3L1910.3 892.3L1906.8 890.8L1905.8 887.6L1902.6 885L1901.2 882.4L1901.7 879.2L1897 879.5L1899.4 876.8L1894.8 876.8L1891.9 879.7L1893.4 883.7L1895 886.8L1899.2 888.9L1898.7 890.8L1895.6 891L1896.3 893.4L1893.9 894.7L1899.1 895.7L1896.3 896.5ZM1882.5 894.7L1887.2 895L1891.5 893.6L1892.1 890.2L1893.1 887.3L1889.2 885.5L1886.3 887.6L1882.7 888.4L1883.8 891ZM1926.7 928.3L1930.2 928L1930.3 923.1L1926.9 923.1ZM1927.6 922L1929.8 921.7L1929.5 917.8L1927.8 919.1ZM1937.5 930.9L1945 930.4L1944.4 934.3L1937.6 932.2ZM1965.4 937.5L1972.2 938L1972.3 938.8L1965.5 938.3ZM1987.7 938.8L1993.1 937.2L1992 939.6L1988.2 939.9ZM2237.1 948.5L2240.2 948L2240 942.7L2246.1 942L2251.3 940.1L2256.2 939.6L2260.4 937L2258.7 930.9L2258.8 925.7L2256.1 922L2253.5 923.6L2254.8 928.3L2253.1 932.8L2249.5 933L2248.3 937L2240.9 937.5L2236.8 940.6L2234.9 942.7L2234.8 944.8ZM2252.7 921.7L2254.8 917.8L2252.5 911.5L2258.3 914.7L2262.8 914.7L2264.4 917.3L2260.4 920.4L2254.6 919.1ZM2252.5 909.9L2255.2 907.8L2251.1 902L2253.9 901.5L2246.8 894.2L2243.5 888.4L2242.2 890.2L2246.6 898.1ZM2216.4 970.8L2218.8 972.9L2219.9 965.1L2217.2 964.5ZM2188 980L2192.4 978.2L2193.9 979.5L2190.5 982.9ZM2115 1005.8L2116.2 1005L2120.4 1011L2119 1014.2L2116.4 1014.9L2114.9 1009.7ZM2218.4 982.1L2223.3 982.1L2223.7 988.7L2223.4 993.4L2229.8 996.6L2228.5 997.1L2224.3 994.7L2221.2 994.5L2218.5 988.7ZM2225.7 1012.3L2229.4 1007.9L2234.4 1005L2237.7 1011.5L2235.6 1015.5L2231.1 1014.4ZM2225.2 1004.4L2227.5 1000L2233.8 997.9L2233.8 1003.7L2230.4 1003.9L2228 1006.5ZM2213.2 1008.9L2218.5 1002.6L2219.1 1003.7L2214.3 1009.7ZM2156 1016L2161.8 1017L2169.8 1025.4L2177.7 1033.3L2184.2 1038.6L2183.4 1045.9L2180 1045.9L2174.4 1041.2L2169.8 1034.6L2165.1 1026.8L2160.6 1022ZM2182.1 1047.8L2185.3 1046.5L2190.4 1048.3L2197 1048L2201.6 1049.1L2206 1051.2L2205.3 1053.3L2196.7 1052.5L2189 1051.2L2182.5 1048.8ZM2192.1 1026.8L2193.7 1025.4L2198.6 1023.6L2202.5 1022.3L2207.6 1017.6L2212.1 1012.3L2218.1 1016.8L2215.5 1019.4L2215.7 1024.7L2218.3 1028.1L2214.4 1029.4L2214.4 1033.3L2211.7 1040.7L2206.4 1041.2L2202.5 1039.4L2198.6 1039.4L2194.7 1034.6L2192.1 1029.4ZM2219.4 1045.1L2219 1039.9L2218.3 1033.3L2221 1028.1L2223.6 1027.3L2228.8 1028.1L2234.1 1026.5L2232.8 1029.6L2223.6 1029.4L2221.7 1033.1L2224.9 1033.3L2229.6 1033.1L2225.7 1035.7L2228.1 1041.2L2226 1043.8L2223.5 1038.6L2221.7 1045.1ZM2249.8 1032.8L2257.7 1032.8L2261.5 1039.4L2268.1 1034.9L2276 1037.5L2285 1041.2L2288.8 1045.1L2293.4 1047L2291.7 1049.6L2299.6 1058.3L2293.1 1057.5L2288.3 1052.5L2281.7 1053L2277.7 1054.9L2271.3 1052.2L2267.4 1052.5L2267.2 1047.8L2262.2 1042.5L2254.9 1041.2L2253.7 1038.1ZM2209.8 1052.5L2217.7 1052.5L2228.1 1052.8L2233.4 1052.5L2238.6 1053L2233.1 1056.2L2229.6 1057.7L2220 1056.4L2209.7 1054.1ZM2240.6 1026L2243.8 1026.8L2241.9 1032.8L2240.1 1030.7ZM2241.9 1038.6L2249.2 1039.1L2247 1040.7L2241.8 1039.9ZM2295.3 1045.4L2304.7 1041.7L2305.4 1043.8L2299.2 1047.2ZM2199.7 1089.8L2199.4 1099L2199.5 1108.2L2199.8 1114.7L2196.5 1120.8L2203.5 1122.6L2209.4 1119.7L2218.2 1119.7L2225.7 1115.5L2233.8 1113.7L2239.5 1113.4L2245.6 1116.8L2247.8 1122.1L2255.1 1117.3L2252.7 1122.6L2255.8 1124.4L2257.5 1130.5L2264.2 1132.6L2268.5 1131L2271.5 1133.1L2276.4 1129.9L2281.9 1128.6L2287.6 1120L2293.1 1114.7L2298.5 1105.5L2299.3 1097.7L2295.4 1092.4L2292.4 1088.5L2289.5 1083.2L2285.6 1080.6L2284.6 1074L2284.7 1069.6L2281 1068.2L2280.2 1061.7L2278.6 1059.1L2276 1064.3L2274.7 1070.1L2272 1076.6L2267.4 1076.1L2264.8 1072.7L2260.4 1070.1L2260.4 1066.1L2263.4 1062.7L2258.7 1062.2L2252.4 1060.4L2248.2 1063L2245.3 1066.1L2243.5 1070.1L2239.6 1070.1L2237.3 1067.5L2231.6 1071.4L2228.7 1074L2224 1075.9L2222.8 1079.3L2215.7 1083.2L2209 1085L2203.5 1087.1ZM2265.2 1137.6L2269.3 1138.6L2274 1137.8L2272.2 1141.5L2268.3 1144.9L2265.3 1144.9L2265 1141.8ZM2341.9 1121.3L2344.8 1123.9L2347 1127.1L2349.5 1130.5L2352.8 1129.7L2348.4 1133.9L2345.1 1137L2339.7 1139.9L2339.8 1137.8L2339.2 1133.9L2343 1130.5L2344.2 1126.5ZM2334.9 1137L2337 1140.4L2330.9 1145.4L2324.7 1148.9L2321.7 1152L2316.2 1153.1L2312.5 1151L2318.4 1146.7L2326.2 1143.6L2331.9 1139.7ZM2330.9 1083.7L2336.6 1087.1L2337.4 1089.2L2332.7 1087.1ZM1927.6 823.3L1934 827.2L1940.2 829.3L1949.8 827.2L1958.7 823.3L1952 819.9L1938.8 820.7ZM2014.8 843L2023 845.1L2028 844.3L2021.6 839L2025 835.1L2033.1 831.2L2042.9 829.1L2037.6 828.5L2026.7 830.4L2019 833.3L2015.9 837.7ZM2090.5 823.3L2102.8 825.9L2111.3 824.6L2101.7 819.3L2088.9 818ZM2184.3 833L2196.4 836.4L2201.5 833.8L2211 833.3L2200.3 831.2L2186.2 831.2ZM1993.6 819.3L2002.5 820L2011.4 820.7L2023 818L2014.1 815.9L2005.3 816.7L1996.4 817.5ZM2284.2 844.3L2285.6 843L2288 844.8Z" fill="#e1e5b3"/><g clip-path="url(#lclip)"><g filter="url(#b8)"><ellipse cx="1682.1" cy="846.9" rx="120" ry="30" fill="#d9dccb"/><ellipse cx="1732.8" cy="878.4" rx="30" ry="14" fill="#cdd5bd"/><ellipse cx="1564.9" cy="857.4" rx="50" ry="22" fill="#c3ccb0"/><ellipse cx="1673.7" cy="881" rx="95" ry="22" fill="#b1c99d"/><ellipse cx="1726.2" cy="899.4" rx="40" ry="20" fill="#b1c99d"/><ellipse cx="1612.7" cy="886.3" rx="25" ry="30" fill="#b5c8a0"/><ellipse cx="1625.4" cy="925.7" rx="22" ry="30" fill="#ddd8c0"/><ellipse cx="1662.7" cy="925.7" rx="28" ry="28" fill="#e9ebb6"/><ellipse cx="1697.7" cy="936.2" rx="22" ry="22" fill="#c4d69c"/><ellipse cx="1641.1" cy="967.7" rx="18" ry="18" fill="#e2dcb0"/><ellipse cx="1677.4" cy="988.7" rx="18" ry="10" fill="#b9d09a"/><ellipse cx="1743.8" cy="1041.2" rx="48" ry="32" fill="#b1c99d"/><ellipse cx="1788.8" cy="1062.2" rx="26" ry="26" fill="#d6dea0"/><ellipse cx="1752.9" cy="1104.2" rx="22" ry="28" fill="#dfe3a6"/><ellipse cx="1735.8" cy="1141" rx="12" ry="30" fill="#d9cfb0"/><ellipse cx="1722.4" cy="1083.2" rx="8" ry="50" fill="#c9c9c0" fill-opacity="0.9" transform="rotate(-12 1722.4 1083.2)"/><ellipse cx="1932.1" cy="970.3" rx="95" ry="26" fill="#f4e7cd"/><ellipse cx="1919.2" cy="967.7" rx="50" ry="14" fill="#f6e6d2"/><ellipse cx="1964" cy="1030.7" rx="36" ry="24" fill="#b1c99d"/><ellipse cx="1919.4" cy="1007.1" rx="50" ry="9" fill="#c6d698"/><ellipse cx="1971.4" cy="1070.1" rx="34" ry="24" fill="#d3dca0"/><ellipse cx="1957.7" cy="1096.3" rx="22" ry="14" fill="#e6dcb4"/><ellipse cx="2011.1" cy="1017.6" rx="16" ry="22" fill="#e4dcb0"/><ellipse cx="2028.2" cy="1080.6" rx="7" ry="16" fill="#cbd89c"/><ellipse cx="2024.7" cy="967.7" rx="26" ry="22" fill="#f4e7cd"/><ellipse cx="2048.3" cy="946.7" rx="24" ry="12" fill="#e2d9ba"/><ellipse cx="2071.9" cy="951.9" rx="14" ry="10" fill="#dcd6bc"/><ellipse cx="1942.3" cy="899.4" rx="60" ry="16" fill="#c3d59c"/><ellipse cx="1951.5" cy="867.9" rx="30" ry="16" fill="#b3cb9a"/><ellipse cx="1999.3" cy="881" rx="45" ry="18" fill="#b6cc98"/><ellipse cx="1898.8" cy="925.7" rx="12" ry="8" fill="#dcdcaa"/><ellipse cx="2121.1" cy="867.9" rx="150" ry="22" fill="#b2c89c"/><ellipse cx="2126.6" cy="841.7" rx="120" ry="12" fill="#d9dccb"/><ellipse cx="2258.7" cy="857.4" rx="50" ry="14" fill="#c9cfb8"/><ellipse cx="2064.8" cy="909.9" rx="50" ry="12" fill="#e3dfb4"/><ellipse cx="2152.6" cy="917.8" rx="45" ry="10" fill="#e4dcba"/><ellipse cx="2128.8" cy="942.7" rx="40" ry="13" fill="#c9cdce"/><ellipse cx="2124" cy="944.1" rx="26" ry="7" fill="#d2d5d8"/><ellipse cx="2107.7" cy="972.9" rx="18" ry="22" fill="#e2e4a8"/><ellipse cx="2191.6" cy="951.9" rx="26" ry="22" fill="#cfdc9f"/><ellipse cx="2171.4" cy="986.1" rx="14" ry="16" fill="#b9d09a"/><ellipse cx="2211.1" cy="909.9" rx="18" ry="14" fill="#bdd09c"/><ellipse cx="2202.6" cy="1030.7" rx="40" ry="14" fill="#aecb95"/><ellipse cx="2273.1" cy="1043.8" rx="20" ry="8" fill="#aecb95"/><ellipse cx="2248.2" cy="1096.3" rx="46" ry="26" fill="#ecdcb2"/><ellipse cx="2235.9" cy="1093.7" rx="20" ry="12" fill="#edd2ae" fill-opacity="0.8"/><ellipse cx="2283.3" cy="1109.5" rx="10" ry="26" fill="#d5dca0"/><ellipse cx="2252.9" cy="1067.5" rx="22" ry="8" fill="#d3dca0"/><ellipse cx="2331.3" cy="1141" rx="12" ry="14" fill="#c6d69c"/></g></g><path d="M1975.5 920.4L1976.4 916.5L1978.9 911.8L1981.3 908.6L1986.8 909.9L1988.3 913.1L1993.1 912L1996.7 911.2L2001 906.8L2000.3 911.2L2000.7 913.9L2007.3 917.8L2009 921.7L2000.5 923.1L1992.8 920.4L1984.3 922.5L1978.1 922.8ZM2025.5 908.6L2030.3 907.8L2035.3 908.6L2036 912.6L2032 913.9L2029.7 914.4L2035.8 919.1L2037.8 924.4L2040.9 928.3L2041.1 933.6L2035.5 934.3L2031.5 932.5L2028.6 929.6L2029.2 924.9L2024.9 920.4L2021.7 915.2L2022.3 911.2ZM2048.7 908.6L2054.9 909.1L2055.8 913.9L2051.2 915.7L2048.9 912.6Z" fill="#73a6cf"/><path d="M1763.2 825.4L1777.3 819.3L1786.3 817.4L1795.2 815.4L1804.8 815L1814.3 814.5L1823.7 814.1L1832.1 813.2L1840.5 812.3L1848.7 811.5L1857.1 813L1865.8 814.6L1872.1 819.3L1869.9 825.9L1864 831.2L1866.2 836.4L1860.1 841.7L1858.5 845.6L1850.3 849.5L1841.3 851.6L1831.6 856.6L1822.4 858.5L1816.2 861.4L1811.6 866.6L1808 872.6L1803.3 873.2L1797.1 870.5L1793.9 865.3L1791.4 858.7L1789.8 853.5L1792.7 848.2L1789.4 845.6L1791.5 840.3L1788.9 832.5L1781.8 830.6L1769.4 831.2L1765 828.5Z" fill="#ebebf3"/><g clip-path="url(#gclip)"><g filter="url(#b8)"><ellipse cx="1819.9" cy="836.4" rx="34" ry="40" fill="#f7f7fc"/></g></g><path d="M1729.7 830.4L1737.7 830.5L1745.6 830.6L1756.9 825.9L1769.6 822L1779.2 819.3L1788.7 816.7L1789.5 813.3L1779.8 812.9L1770.2 812.5L1760 813.6L1749.8 814.6L1735 818L1738.8 822L1733.4 825.9ZM1718.2 834.8L1726.4 834.8L1734.6 834.8L1742.7 834.8L1744.5 832.2L1737.3 831L1730.1 829.8L1722.5 829.5L1714.8 829.1ZM1927.6 823.3L1934 827.2L1940.2 829.3L1949.8 827.2L1958.7 823.3L1952 819.9L1938.8 820.7ZM2014.8 843L2023 845.1L2028 844.3L2021.6 839L2025 835.1L2033.1 831.2L2042.9 829.1L2037.6 828.5L2026.7 830.4L2019 833.3L2015.9 837.7ZM2090.5 823.3L2102.8 825.9L2111.3 824.6L2101.7 819.3L2088.9 818ZM1993.6 819.3L2002.5 820L2011.4 820.7L2023 818L2014.1 815.9L2005.3 816.7L1996.4 817.5ZM1741.2 837.2L1746 839.6L1754.6 843L1761.1 846.9L1762 852.2L1770.4 855.6L1765.5 860L1760.2 865.3L1752.8 867.1L1746.7 865.3L1742.5 861.9L1733.6 861.9L1741.1 857.4L1747.9 852.2L1742.7 849.5L1737.6 846.9L1724.8 846.9L1717.9 844.3L1720.3 839L1731.1 836.9ZM1682.4 833.8L1692.9 831.2L1705 831.2L1710.9 833.8L1707.8 837.7L1696.5 841.7L1691.3 837.7ZM1670.1 833.8L1681.3 830.6L1669.5 830.4L1660.7 831.2L1662.5 833.3ZM1644.1 841.7L1653.8 835.9L1663.5 836.4L1665.3 839L1655.5 843L1646.6 843.5ZM1657.2 843.5L1668 838.2L1681.9 839L1687.1 840.3L1689.4 845.6L1680.8 848.7L1669.1 850.1L1661.5 848.7L1656.5 846.9ZM1707 841.7L1715.8 841.1L1721.1 836.4L1710.9 836.4ZM2184.3 833L2196.4 836.4L2201.5 833.8L2211 833.3L2200.3 831.2L2186.2 831.2Z" fill="#e3e4dc" fill-opacity=".85"/><path d="M1852.6 858.7L1856.9 856.4L1866.7 856.6L1874 856.9L1876.1 860L1872.9 861.9L1864.8 864.2L1859.3 863.2L1855.6 862.9L1857.4 861.1L1853 860.3Z" fill="#dfe0d6"/><path d="M1552.6 1235.5L1563.5 1236.1L1574.4 1236.8L1583.1 1236.1L1591.9 1235.5L1598.8 1233.5L1606 1231.6L1614 1230L1622.2 1228.4L1631.2 1227.4L1640.2 1226.3L1649.8 1225.6L1659.4 1225L1670.3 1225.6L1681.2 1226.3L1689.7 1224.3L1698.5 1222.4L1708.9 1222.4L1719.3 1222.4L1730.1 1223L1740.9 1223.7L1747.6 1221.1L1751.1 1215.8L1754.4 1209.2L1757.6 1204L1763.7 1199.5L1773.5 1195.6L1781.7 1196.6L1781 1201.4L1775.7 1205.3L1774.4 1210.6L1780.3 1217.1L1783.3 1223.7L1788.9 1228.9L1798.2 1231.6L1807.4 1234.2L1817.6 1234.8L1827.7 1235.5L1837.1 1234.2L1849.9 1230.2L1857.3 1227L1864.9 1223.7L1873 1221.7L1881.1 1219.7L1895.7 1217.1L1906.3 1214.5L1917 1214.5L1927.7 1214.5L1938.3 1214.5L1949 1214.5L1959.8 1213.6L1970.7 1212.7L1981.7 1211.9L1992.8 1210.6L2004.2 1208.5L2016 1205.3L2027.4 1204L2037.2 1207.4L2047.7 1208.3L2058.2 1209.2L2067.1 1213.2L2080.6 1207.9L2092.2 1206.6L2103.8 1205.3L2115.2 1204.6L2126.5 1204L2137.6 1204L2148.6 1204L2159 1204.9L2169.3 1205.8L2180.9 1204.9L2192.6 1204L2202.9 1204.9L2213.1 1205.8L2222.2 1207.9L2231 1210L2239.6 1212.3L2247.9 1214.5L2255.6 1217.1L2262.9 1219.7L2251.9 1225L2234.6 1232.9L2241.2 1235L2250.7 1235.2L2260 1235.5L2239.6 1246L2211.9 1256.5L2142.3 1267L2137.1 1267L2131.8 1267L2126.6 1267L2121.3 1267L2116.1 1267L2110.8 1267L2105.6 1267L2100.3 1267L2095.1 1267L2089.9 1267L2084.6 1267L2079.4 1267L2074.1 1267L2068.9 1267L2063.6 1267L2058.4 1267L2053.1 1267L2047.9 1267L2042.7 1267L2037.4 1267L2032.2 1267L2026.9 1267L2021.7 1267L2016.4 1267L2011.2 1267L2005.9 1267L2000.7 1267L1995.5 1267L1990.2 1267L1985 1267L1979.7 1267L1974.5 1267L1969.2 1267L1964 1267L1958.7 1267L1953.5 1267L1948.3 1267L1943 1267L1937.8 1267L1932.5 1267L1927.3 1267L1922 1267L1916.8 1267L1911.5 1267L1906.3 1267L1901.1 1267L1895.8 1267L1890.6 1267L1885.3 1267L1880.1 1267L1874.8 1267L1869.6 1267L1864.3 1267L1859.1 1267L1853.9 1267L1848.6 1267L1843.4 1267L1838.1 1267L1832.9 1267L1827.6 1267L1822.4 1267L1817.1 1267L1811.9 1267L1806.7 1267L1801.4 1267L1796.2 1267L1790.9 1267L1785.7 1267L1780.4 1267L1775.2 1267L1769.9 1267L1764.7 1267L1759.5 1267L1754.2 1267L1749 1267L1743.7 1267L1738.5 1267L1733.2 1267L1728 1267L1722.7 1267L1717.5 1267L1712.3 1267L1707 1267L1701.8 1267L1696.5 1267L1691.3 1267L1686 1267L1680.8 1267L1675.5 1267L1670.3 1267L1600.7 1256.5L1573 1246Z" fill="#eef1f8"/></g></g><path d="M2142.3 794.4L2197.5 801L2219.9 807.5L2236.6 814.1L2250.4 820.7L2262.3 827.2L2272.8 833.8L2282.1 840.3L2290.6 846.9L2298.4 853.5L2305.5 860L2312.1 866.6L2318.2 873.2L2323.9 879.7L2329.1 886.3L2334 892.9L2338.5 899.4L2342.8 906L2346.7 912.6L2350.3 919.1L2353.7 925.7L2356.8 932.2L2359.7 938.8L2362.4 945.4L2364.8 951.9L2367 958.5L2369 965.1L2370.8 971.6L2372.4 978.2L2373.8 984.8L2375 991.3L2376 997.9L2376.8 1004.4L2377.5 1011L2377.9 1017.6L2378.2 1024.1L2378.3 1030.7L2378.2 1037.3L2377.9 1043.8L2377.5 1050.4L2376.8 1057L2376 1063.5L2375 1070.1L2373.8 1076.6L2372.4 1083.2L2370.8 1089.8L2369 1096.3L2367 1102.9L2364.8 1109.5L2362.4 1116L2359.7 1122.6L2356.8 1129.2L2353.7 1135.7L2350.3 1142.3L2346.7 1148.9L2342.8 1155.4L2338.5 1162L2334 1168.5L2329.1 1175.1L2323.9 1181.7L2318.2 1188.2L2312.1 1194.8L2305.5 1201.4L2298.4 1207.9L2290.6 1214.5L2282.1 1221.1L2272.8 1227.6L2262.3 1234.2L2250.4 1240.7L2236.6 1247.3L2219.9 1253.9L2197.5 1260.4L2142.3 1267L1670.3 1267L1615.1 1260.4L1592.7 1253.9L1576 1247.3L1562.2 1240.7L1550.3 1234.2L1539.8 1227.6L1530.5 1221.1L1522 1214.5L1514.2 1207.9L1507.1 1201.4L1500.5 1194.8L1494.4 1188.2L1488.7 1181.7L1483.5 1175.1L1478.6 1168.5L1474.1 1162L1469.8 1155.4L1465.9 1148.9L1462.3 1142.3L1458.9 1135.7L1455.8 1129.2L1452.9 1122.6L1450.2 1116L1447.8 1109.5L1445.6 1102.9L1443.6 1096.3L1441.8 1089.8L1440.2 1083.2L1438.8 1076.6L1437.6 1070.1L1436.6 1063.5L1435.8 1057L1435.1 1050.4L1434.7 1043.8L1434.4 1037.3L1434.3 1030.7L1434.4 1024.1L1434.7 1017.6L1435.1 1011L1435.8 1004.4L1436.6 997.9L1437.6 991.3L1438.8 984.8L1440.2 978.2L1441.8 971.6L1443.6 965.1L1445.6 958.5L1447.8 951.9L1450.2 945.4L1452.9 938.8L1455.8 932.2L1458.9 925.7L1462.3 919.1L1465.9 912.6L1469.8 906L1474.1 899.4L1478.6 892.9L1483.5 886.3L1488.7 879.7L1494.4 873.2L1500.5 866.6L1507.1 860L1514.2 853.5L1522 846.9L1530.5 840.3L1539.8 833.8L1550.3 827.2L1562.2 820.7L1576 814.1L1592.7 807.5L1615.1 801L1670.3 794.4Z" fill="none" stroke="#000" stroke-width="2.78"/><path d="M2011.4 1147.8L2012.7 1143.7L2014 1139.5L2015.2 1135.4L2016.4 1131.3L2017.7 1127.1L2018.9 1123L2020 1118.9L2021.2 1114.7L2022.1 1110.4L2022.9 1106.1L2023.8 1101.8L2024.6 1097.5L2025.4 1093.2L2026.2 1088.9L2026.9 1084.6L2027.7 1080.3L2028.3 1075.9L2028.9 1071.5L2029.6 1067L2030.2 1062.6L2030.7 1058.2L2031.3 1053.7L2031.8 1049.3L2032.3 1044.9L2032.8 1040.3L2033.2 1035.8L2033.6 1031.2L2034 1026.6L2034.4 1022.1L2034.7 1017.5L2035 1012.9L2035.3 1008.4" fill="none" stroke="url(#trk)" stroke-width="4.2"/><circle cx="2011.4" cy="1147.8" r="5.6"/><circle cx="2021.2" cy="1114.7" r="5.6"/><circle cx="2027.7" cy="1080.3" r="5.6"/><circle cx="2032.3" cy="1044.9" r="5.6"/><circle cx="2035.3" cy="1008.4" r="5.6"/><text x="2047.2" y="1016.2" font-size="27.78">14:39:26 UT</text><text x="2022.2" y="1155.8" font-size="27.78">14:23:30 UT</text><rect x="1745.0" y="1307.85" width="550.3" height="27.15" fill="url(#cbh)" stroke="#000" stroke-width="2.1"/><text x="1790.86" y="1371.6" font-size="22.22" text-anchor="middle">400</text><text x="1882.58" y="1371.6" font-size="22.22" text-anchor="middle">600</text><text x="1974.29" y="1371.6" font-size="22.22" text-anchor="middle">800</text><text x="2066.01" y="1371.6" font-size="22.22" text-anchor="middle">1000</text><text x="2157.73" y="1371.6" font-size="22.22" text-anchor="middle">1200</text><text x="2249.44" y="1371.6" font-size="22.22" text-anchor="middle">1400</text><path d="M1790.86 1335v9.7M1882.58 1335v9.7M1974.29 1335v9.7M2066.01 1335v9.7M2157.73 1335v9.7M2249.44 1335v9.7" stroke="#000" stroke-width="2.2" fill="none"/><text x="2019.5" y="1407" font-size="22.22" text-anchor="middle">Altitude (km)</text><circle cx="1458.4" cy="1353.4" r="6.9"/><text x="1498.2" y="1359.8" font-size="22.22">Axis intervals</text><text x="1451" y="1404" font-size="22.22">Operating mode: AM</text><text x="1609.2" y="1450.8" font-size="22.22" text-anchor="middle">VSA</text><text x="1739.6" y="1450.8" font-size="22.22" text-anchor="middle">VES</text><text x="1870" y="1450.8" font-size="22.22" text-anchor="middle">VD+</text><text x="2000.4" y="1450.8" font-size="22.22" text-anchor="middle">VD-</text><text x="2131" y="1450.8" font-size="22.22" text-anchor="middle">VMCPF</text><text x="2262" y="1450.8" font-size="22.22" text-anchor="middle">VCMPB</text><text x="1449.5" y="1480.4" font-size="22.22">Min (V)</text><text x="1609.2" y="1480.4" font-size="22.22" text-anchor="middle">-348</text><text x="1739.6" y="1480.4" font-size="22.22" text-anchor="middle">-0.26</text><text x="1870" y="1480.4" font-size="22.22" text-anchor="middle">-0.14</text><text x="2000.4" y="1480.4" font-size="22.22" text-anchor="middle">-9.95</text><text x="2131" y="1480.4" font-size="22.22" text-anchor="middle">-2289</text><text x="2262" y="1480.4" font-size="22.22" text-anchor="middle">-199</text><text x="1449.5" y="1509.7" font-size="22.22">Max (V)</text><text x="1609.2" y="1509.7" font-size="22.22" text-anchor="middle">0</text><text x="1739.6" y="1509.7" font-size="22.22" text-anchor="middle">0.06</text><text x="1870" y="1509.7" font-size="22.22" text-anchor="middle">9.84</text><text x="2000.4" y="1509.7" font-size="22.22" text-anchor="middle">0.01</text><text x="2131" y="1509.7" font-size="22.22" text-anchor="middle">-2</text><text x="2262" y="1509.7" font-size="22.22" text-anchor="middle">0</text><text x="1449.5" y="1539" font-size="22.22">Ave (V)</text><text x="1609.2" y="1539" font-size="22.22" text-anchor="middle">-180</text><text x="1739.6" y="1539" font-size="22.22" text-anchor="middle">0.03</text><text x="1870" y="1539" font-size="22.22" text-anchor="middle">-0.08</text><text x="2000.4" y="1539" font-size="22.22" text-anchor="middle">-0.05</text><text x="2131" y="1539" font-size="22.22" text-anchor="middle">-2233</text><text x="2262" y="1539" font-size="22.22" text-anchor="middle">-194</text><text x="1447.3" y="1579.8" font-size="27.78">Produced by irm_summary version 5</text></svg></body></html>
